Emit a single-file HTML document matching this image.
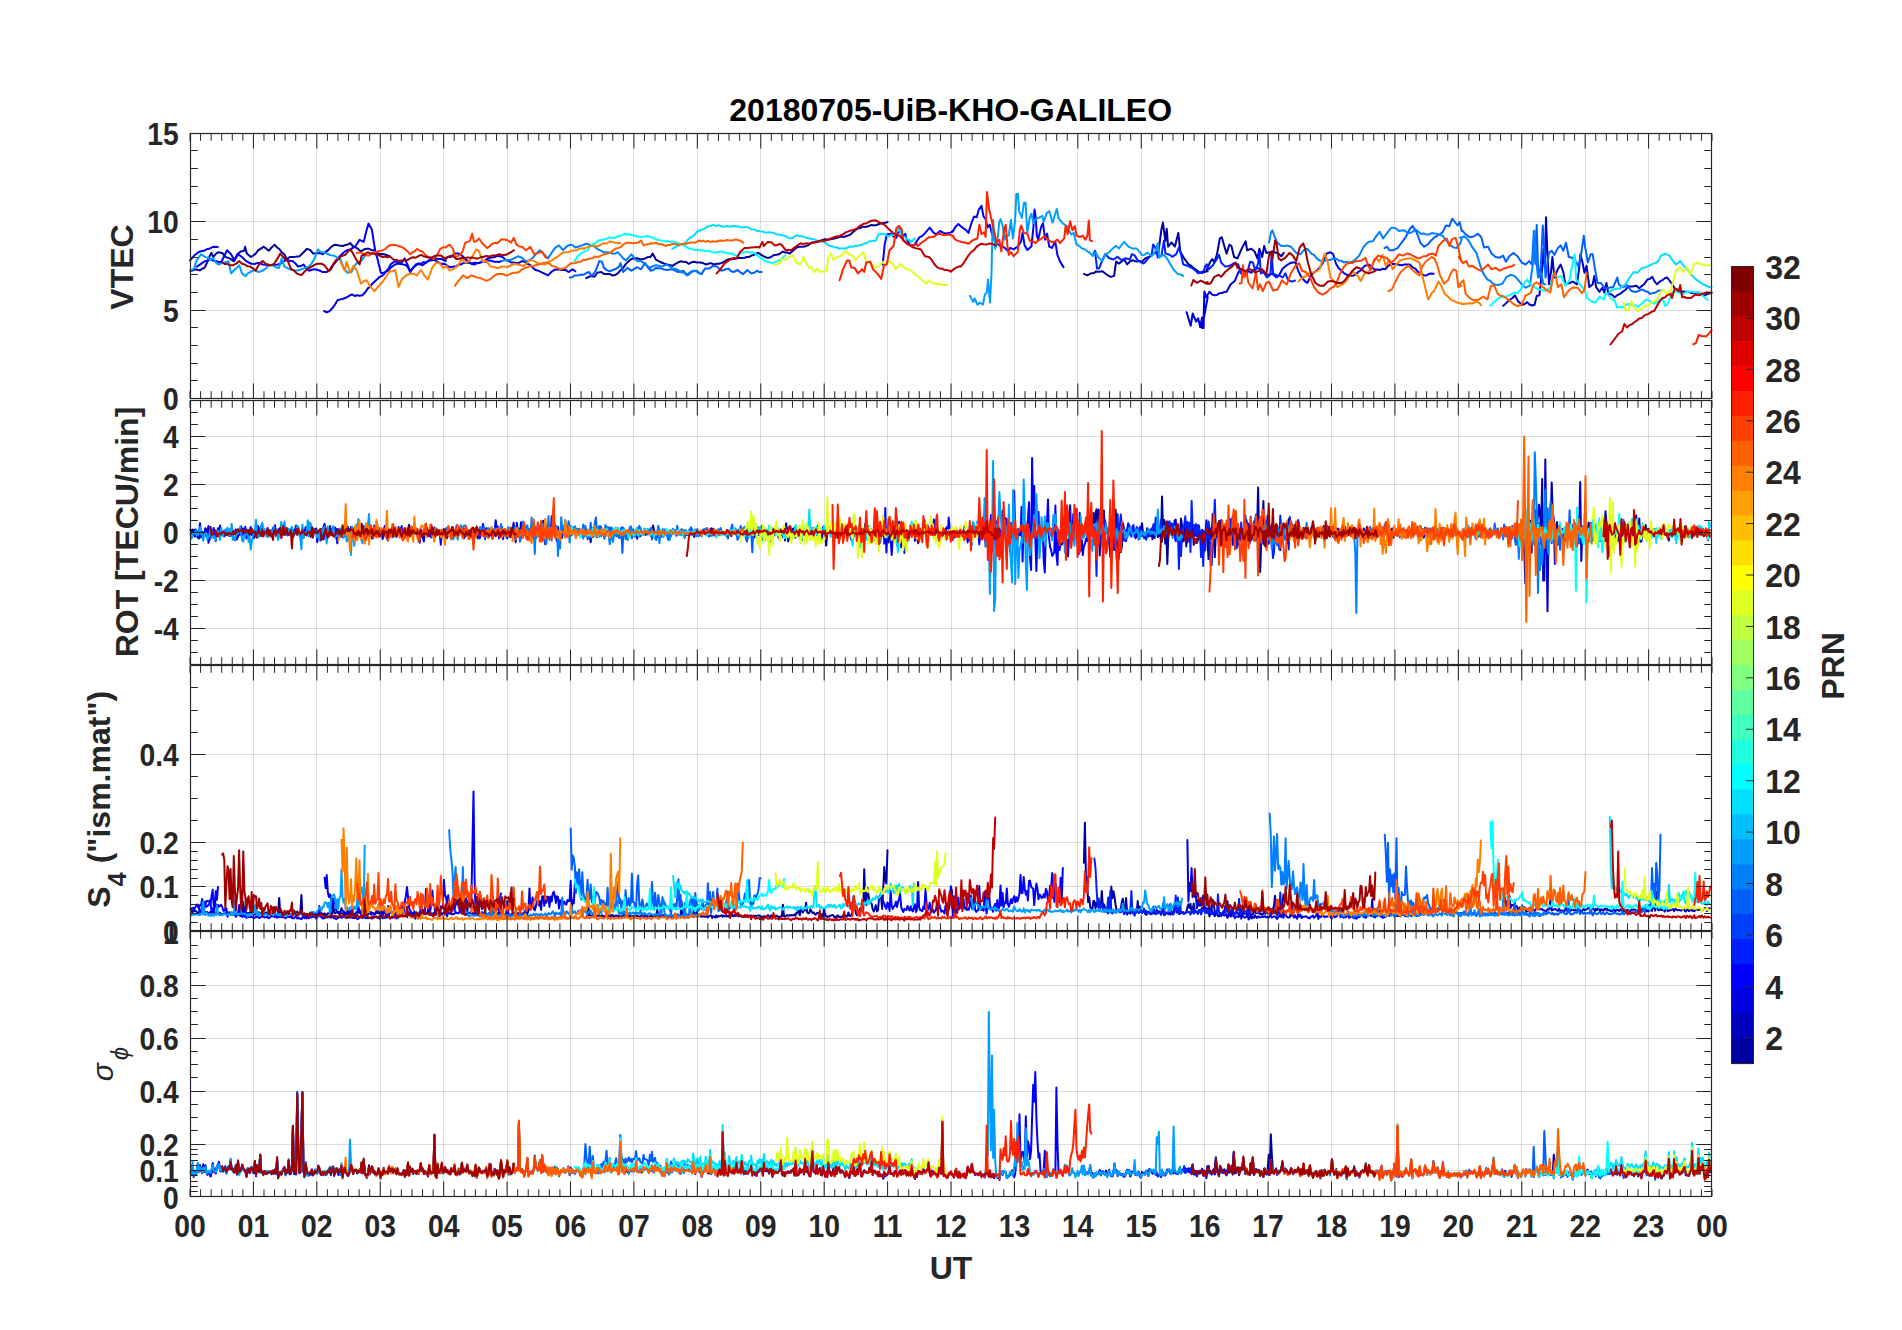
<!DOCTYPE html>
<html><head><meta charset="utf-8"><title>20180705-UiB-KHO-GALILEO</title>
<style>html,body{margin:0;padding:0;background:#fff;}svg{display:block;}text{font-family:"Liberation Sans",sans-serif;}</style></head>
<body>
<svg width="1902" height="1330" viewBox="0 0 1902 1330">
<rect width="1902" height="1330" fill="#fff"/>
<path d="M253.5 133.5V398.5M316.5 133.5V398.5M380.5 133.5V398.5M443.5 133.5V398.5M507.5 133.5V398.5M570.5 133.5V398.5M633.5 133.5V398.5M697.5 133.5V398.5M760.5 133.5V398.5M824.5 133.5V398.5M887.5 133.5V398.5M951.5 133.5V398.5M1014.5 133.5V398.5M1077.5 133.5V398.5M1141.5 133.5V398.5M1204.5 133.5V398.5M1268.5 133.5V398.5M1331.5 133.5V398.5M1394.5 133.5V398.5M1458.5 133.5V398.5M1521.5 133.5V398.5M1585.5 133.5V398.5M1648.5 133.5V398.5M253.5 400.5V664.5M316.5 400.5V664.5M380.5 400.5V664.5M443.5 400.5V664.5M507.5 400.5V664.5M570.5 400.5V664.5M633.5 400.5V664.5M697.5 400.5V664.5M760.5 400.5V664.5M824.5 400.5V664.5M887.5 400.5V664.5M951.5 400.5V664.5M1014.5 400.5V664.5M1077.5 400.5V664.5M1141.5 400.5V664.5M1204.5 400.5V664.5M1268.5 400.5V664.5M1331.5 400.5V664.5M1394.5 400.5V664.5M1458.5 400.5V664.5M1521.5 400.5V664.5M1585.5 400.5V664.5M1648.5 400.5V664.5M253.5 665.5V930.5M316.5 665.5V930.5M380.5 665.5V930.5M443.5 665.5V930.5M507.5 665.5V930.5M570.5 665.5V930.5M633.5 665.5V930.5M697.5 665.5V930.5M760.5 665.5V930.5M824.5 665.5V930.5M887.5 665.5V930.5M951.5 665.5V930.5M1014.5 665.5V930.5M1077.5 665.5V930.5M1141.5 665.5V930.5M1204.5 665.5V930.5M1268.5 665.5V930.5M1331.5 665.5V930.5M1394.5 665.5V930.5M1458.5 665.5V930.5M1521.5 665.5V930.5M1585.5 665.5V930.5M1648.5 665.5V930.5M253.5 931.5V1196.5M316.5 931.5V1196.5M380.5 931.5V1196.5M443.5 931.5V1196.5M507.5 931.5V1196.5M570.5 931.5V1196.5M633.5 931.5V1196.5M697.5 931.5V1196.5M760.5 931.5V1196.5M824.5 931.5V1196.5M887.5 931.5V1196.5M951.5 931.5V1196.5M1014.5 931.5V1196.5M1077.5 931.5V1196.5M1141.5 931.5V1196.5M1204.5 931.5V1196.5M1268.5 931.5V1196.5M1331.5 931.5V1196.5M1394.5 931.5V1196.5M1458.5 931.5V1196.5M1521.5 931.5V1196.5M1585.5 931.5V1196.5M1648.5 931.5V1196.5" stroke="#262626" stroke-opacity="0.155" stroke-width="1" fill="none"/>
<path d="M190.5 310.5H1711.5M190.5 221.5H1711.5M190.5 628.5H1711.5M190.5 580.5H1711.5M190.5 532.5H1711.5M190.5 484.5H1711.5M190.5 436.5H1711.5M190.5 886.5H1711.5M190.5 842.5H1711.5M190.5 754.5H1711.5M190.5 1170.5H1711.5M190.5 1144.5H1711.5M190.5 1091.5H1711.5M190.5 1038.5H1711.5M190.5 985.5H1711.5" stroke="#262626" stroke-opacity="0.155" stroke-width="1" fill="none"/>
<g fill="none" stroke-width="2" stroke-linejoin="round" stroke-linecap="round">
<path d="M191.5,270.7 195.6,269.3 199.7,270.4 202.1,268.8 204.5,267.9 206.5,263.8 209.9,255.6 211.3,252.9 213.3,257.0 215.7,254.0 218.1,252.2 222.2,252.9 225.6,257.0 229.7,258.4 233.8,261.1 237.3,254.3 240.7,251.5 244.1,250.8 245.1,246.7 246.8,253.6 250.9,257.0 253.3,255.5 255.7,253.6 258.1,250.4 260.5,248.8 263.9,246.7 266.3,248.8 268.7,250.8 271.6,247.5 274.6,244.7 276.9,247.4 279.3,249.0 281.7,252.2 284.4,254.3 286.5,259.0 289.9,257.0 292.6,256.9 295.4,256.7 299.5,256.3 303.6,252.2 307.0,248.8 310.4,250.2 313.1,253.6 317.2,253.2 320.0,252.9 322.7,254.3 325.4,252.1 328.2,250.2 330.5,247.6 332.7,245.8 335.0,244.7 339.1,245.4 343.2,246.0 345.5,244.9 347.8,244.6 350.0,243.0 353.5,246.7 356.9,248.1 361.0,251.5 363.7,249.5 366.5,248.8 368.7,248.7 371.0,249.9 373.3,250.2 377.4,252.9 379.7,254.1 381.9,253.9 384.2,254.3 387.0,255.1 389.7,256.3" stroke="#00009f"/>
<path d="M586.3,278.2 590.4,276.1 594.5,276.8 597.2,272.7 601.3,272.0 604.0,273.9 606.8,274.1 609.5,273.9 612.2,275.4 615.0,275.1 617.7,273.4 620.5,270.3 623.2,267.9 625.9,263.9 628.7,261.1 631.4,259.0 634.1,258.4 636.9,258.3 639.6,259.0 642.3,259.3 645.1,258.4 647.8,257.1 650.5,257.0 652.6,253.6 656.0,259.7 658.7,261.2 661.5,262.5 664.2,263.7 666.9,264.5 669.7,265.0 672.4,265.9 675.1,264.2 677.9,262.5 680.6,261.3 683.3,261.8 686.1,262.0 688.8,263.8 691.5,262.3 694.3,261.8 697.0,262.4 699.7,262.5 700.8,262.5 703.6,263.3 706.3,264.5 710.4,263.1 714.5,264.5 716.8,263.7 719.1,263.7 721.3,263.1 724.1,261.7 726.8,260.0 729.5,259.0 731.8,259.3 734.1,258.9 736.4,258.4 739.1,257.7 741.8,258.0 744.6,257.7 746.9,257.0 749.1,257.0 751.4,255.6 753.7,255.1 756.0,253.4 758.3,252.9 762.4,255.6 766.5,257.7 769.2,257.8 771.9,256.3 774.2,254.9 776.5,254.8 778.8,254.3 782.9,251.5 785.1,252.7 787.4,252.3 789.7,253.6 792.4,251.2 795.2,248.8 797.9,246.9 800.6,246.7 803.4,246.7 806.1,246.0 808.8,244.8 811.6,242.6 814.3,242.4 817.0,241.9 819.8,241.6 822.5,239.9 825.2,239.3 828.0,239.8 830.7,239.2 833.4,238.7 836.2,238.0 838.9,237.2 841.6,236.6 844.4,236.9 847.1,235.8 849.8,234.9 852.6,232.4 855.3,230.3 858.0,228.3 860.3,228.1 862.6,226.6 864.9,226.9 867.2,226.6 869.4,225.8 871.7,224.9 874.0,225.5 876.3,225.0 878.6,224.2 880.8,223.3 883.1,223.1 885.4,222.8 887.6,222.1" stroke="#00009f"/>
<path d="M1084.0,273.9 1087.4,275.3 1091.5,273.2 1093.8,273.1 1096.1,271.4 1098.4,271.8 1102.5,271.2 1106.6,274.6 1110.7,276.9 1114.1,275.9 1116.1,261.6 1118.9,263.6 1121.6,261.5 1124.3,259.5 1127.1,264.3 1129.8,261.7 1132.6,260.2 1136.7,261.6 1139.4,260.9 1142.1,261.6 1144.9,258.7 1147.6,257.5 1150.3,256.3 1153.1,254.1 1155.8,252.4 1158.5,252.0 1161.3,230.2 1162.9,222.6 1165.4,241.1 1166.7,228.8 1168.1,246.6 1171.5,242.5 1174.9,246.6 1178.3,232.9 1180.4,252.0 1184.5,258.9 1188.6,264.3 1191.3,265.9 1194.1,268.4 1196.8,270.3 1199.5,272.5 1202.3,272.9 1205.0,271.8 1207.7,271.2 1206.1,271.3 1210.2,261.8 1212.3,259.0 1214.3,262.5 1217.0,254.3 1219.8,238.5 1221.8,237.2 1223.9,244.7 1226.6,253.6 1229.3,244.7 1231.4,246.0 1234.1,257.0 1237.5,258.4 1241.6,248.8 1245.7,241.3 1247.1,250.2 1251.2,248.8 1254.6,251.5 1257.4,258.4 1259.4,248.8 1262.2,257.0 1264.2,246.0 1266.3,252.9 1269.7,252.2 1272.1,251.4 1274.5,252.2 1278.6,253.6 1281.3,256.3 1283.7,252.9" stroke="#00009f"/>
<path d="M1503.2,305.9 1505.6,303.6 1507.9,301.4 1510.2,299.5 1512.5,298.0 1514.8,295.3 1518.2,301.4 1522.3,304.8 1524.7,304.0 1527.1,302.1 1529.5,304.5 1531.9,305.5 1534.6,304.8 1536.7,295.9 1539.4,295.3 1542.1,269.3 1543.5,248.8 1544.9,267.9 1546.0,217.3 1547.3,250.2 1549.0,284.3 1551.0,272.0 1552.4,257.0 1554.4,277.5 1557.8,269.3 1560.6,264.5 1563.3,272.0 1565.4,284.3 1569.5,283.0 1572.9,281.6 1577.0,284.3 1579.0,269.3 1580.4,254.3 1582.5,262.5 1584.5,272.7 1586.6,265.9 1589.3,287.1 1592.7,284.3 1594.3,276.1 1596.1,287.1 1599.5,291.8 1602.3,287.7 1604.3,292.5 1606.4,283.0 1608.4,293.9 1611.8,294.6 1614.6,297.3 1617.3,295.2 1620.0,293.9 1622.8,291.7 1625.5,289.8 1628.2,286.4 1632.3,286.4 1636.5,285.7 1639.2,288.4 1641.6,286.1 1644.0,284.3 1647.4,279.5 1649.8,278.9 1652.2,276.8 1654.6,281.4 1657.0,284.3 1659.7,281.6 1662.4,280.2 1664.8,278.3 1667.2,277.5 1671.3,283.0 1674.7,288.4 1677.5,289.7 1680.2,291.8 1682.9,291.4 1685.7,291.8 1688.4,291.8 1691.1,292.9 1693.9,293.2 1696.6,294.6 1699.3,293.9 1702.1,294.9 1704.8,295.3 1707.1,294.1 1709.4,293.6 1711.6,292.5" stroke="#0000bf"/>
<path d="M324.1,311.0 326.8,312.4 329.5,311.1 332.3,308.3 335.0,304.5 337.7,300.0 340.5,299.4 343.2,298.7 345.5,297.8 347.8,296.7 350.0,295.3 352.3,294.5 354.6,296.0 356.9,295.3 359.6,295.8 362.3,295.3 365.1,292.5 367.8,288.4 370.1,286.7 372.4,283.7 374.7,281.6 376.9,279.6 379.2,277.2 381.5,276.1 383.8,274.5 386.0,271.7 388.3,270.7 390.6,267.8 392.9,266.0 395.2,264.5 397.9,263.6 400.6,263.8 402.9,264.4 405.2,264.8 407.5,266.6 410.2,272.0 412.5,268.6 414.8,266.4 417.0,264.5 419.8,264.1 422.5,265.2 425.2,263.3 428.0,261.1 430.7,260.4 433.4,260.1 436.2,258.4 438.9,258.9 441.6,259.0 445.7,261.1 445.5,258.4 448.2,257.0 450.9,257.0 455.0,253.6 457.8,253.5 460.5,254.3 463.2,256.7 466.0,259.7 468.7,261.5 471.4,263.8 474.2,262.8 476.9,263.1 479.6,262.7 482.4,261.1 485.1,260.6 487.8,258.4 490.1,257.8 492.4,257.4 494.7,257.0 497.4,255.9 500.2,256.3 502.9,257.3 505.6,259.7 508.4,260.8 511.1,262.5 513.8,262.4 516.6,263.1 519.3,262.7 522.0,261.1 524.8,261.8 527.5,263.8 530.2,265.0 533.0,267.9 535.7,270.1 538.4,270.7 541.2,272.1 543.9,273.4 548.0,275.4 552.1,271.3 554.8,269.7 557.6,269.3 560.3,269.7 563.0,270.0 565.8,270.1 568.5,272.0 572.6,269.3 575.3,271.3" stroke="#0000df"/>
<path d="M1186.6,312.2 1190.7,325.8 1192.7,313.5 1196.1,321.7 1198.2,318.3 1200.2,327.2 1202.0,317.6 1203.4,327.9 1204.3,291.7 1206.4,297.1 1207.7,297.1 1204.9,312.6 1202.0,328.0 1203.6,328.0 1204.5,291.8 1206.1,297.3 1209.5,291.8 1211.9,294.4 1214.3,295.3 1217.0,294.9 1219.8,293.2 1222.1,293.1 1224.3,291.9 1226.6,291.8 1230.7,284.3 1234.8,280.9 1238.9,271.3 1243.0,272.0 1247.1,270.7 1251.2,272.7 1253.9,270.1 1256.7,267.9 1260.8,269.3 1263.5,271.4 1266.3,274.8 1268.5,274.8 1270.8,273.9 1273.1,273.4 1275.8,275.3 1278.6,276.1 1282.7,268.6 1286.8,265.2 1289.5,263.5 1292.2,262.5 1295.6,262.5 1297.7,269.3 1300.4,275.4 1304.5,280.9 1307.3,283.0 1311.4,274.8 1314.1,272.2 1316.8,270.7 1319.6,267.8 1322.3,263.8 1326.4,253.6 1330.5,252.2 1333.2,254.3 1336.0,263.8 1338.7,268.1 1341.4,270.7 1344.2,273.3 1346.9,274.8 1349.2,275.5 1351.5,275.8 1353.7,275.4 1356.0,274.3 1358.3,271.8 1360.6,270.7 1364.7,265.9 1368.8,264.5 1371.5,266.9 1374.2,269.3 1377.0,269.4 1379.7,270.0 1382.5,268.8 1385.2,269.3 1387.9,266.0 1390.7,264.5 1392.9,264.1 1395.2,264.1 1397.5,264.5 1399.8,264.9 1402.0,265.3 1404.3,264.5 1407.1,264.4 1409.8,264.5 1412.5,267.3 1415.3,268.6 1418.0,271.9 1420.7,273.4 1423.5,275.2 1426.2,275.4 1430.3,273.4 1433.7,273.7" stroke="#0000df"/>
<path d="M190.1,260.4 194.2,255.6 198.3,252.2 201.0,251.3 203.8,250.8 206.5,249.3 209.2,248.8 212.0,247.3 214.7,246.7 217.7,247.1" stroke="#0000ff"/>
<path d="M196.9,266.6 201.0,263.8 203.4,262.1 205.8,260.9 208.2,260.5 210.6,259.0 213.3,260.8 216.1,261.1 218.8,262.0 221.5,261.8 224.3,255.9 227.0,250.2 231.1,254.3 234.5,260.4 237.9,254.3 242.0,257.0 246.2,261.1 248.9,262.7 251.6,263.8 254.4,264.0 257.1,263.1 259.8,263.1 262.6,264.5 265.3,264.8 268.0,264.5 270.8,265.2 273.5,264.5 275.8,264.8 278.0,264.5 280.3,263.8 282.6,262.4 284.9,260.5 287.2,259.7 289.9,260.9 292.6,261.1 295.4,263.5 298.1,266.6 300.8,266.1 303.6,264.5 306.3,268.4 309.0,270.7 311.8,269.8 314.5,269.3 317.2,269.8 320.0,270.7 322.2,271.9 324.5,272.0 326.8,272.0 330.9,269.3 333.6,264.6 336.4,261.1 339.1,257.0 341.8,254.3 344.6,251.6 347.3,250.2 350.0,249.5 352.8,248.0 355.5,246.0 359.6,239.9 363.7,241.9 366.1,232.1 368.5,223.5 371.9,229.6 375.3,251.5 377.4,258.4 380.8,272.7 383.2,273.0 385.6,272.0 388.3,268.8 391.1,263.8 395.2,261.1 397.9,262.7 400.6,263.8 404.7,258.4 407.5,264.6 410.2,271.3 412.9,268.0 415.7,264.5 418.4,263.5 421.1,263.8 423.4,262.0 425.7,262.8 428.0,261.1 432.1,258.4 434.3,260.0 436.6,261.1 438.9,262.5 441.2,263.9 443.5,263.7 445.7,264.5 448.2,266.6 450.9,267.2 453.7,266.6 455.9,266.5 458.2,264.7 460.5,264.5 462.8,263.4 465.1,262.8 467.3,262.5 469.6,262.7 471.9,264.0 474.2,264.5 476.5,263.4 478.7,263.0 481.0,262.5 483.3,261.1 485.6,261.8 487.8,260.4 490.1,260.6 492.4,261.2 494.7,261.8 497.0,261.7 499.2,262.0 501.5,261.1" stroke="#0000ff"/>
<path d="M882.7,264.5 884.7,244.7 886.8,234.4 890.9,233.7 893.6,236.5 896.3,237.8 899.1,229.0 901.8,236.5 905.2,233.7 906.6,239.2 910.0,244.7 914.1,245.4 916.8,241.1 919.6,237.2 922.3,235.9 925.0,233.1 927.4,230.3 929.8,227.6 933.2,232.4 936.0,234.4 940.1,231.0 942.8,232.4 945.5,233.7 948.3,233.1 951.0,232.4 953.7,230.3 952.1,232.2 955.2,227.2 958.3,224.0 960.6,225.9 963.0,228.1 965.8,229.9 968.5,232.9 971.2,223.8 974.0,216.5 976.7,217.2 978.8,209.6 981.5,205.8 983.5,216.5 985.6,219.2 987.6,227.4 989.7,224.7 991.7,232.9 993.8,238.4 997.2,243.8 999.9,245.7 1002.7,246.6 1005.4,248.4 1008.2,251.3 1010.2,247.9 1013.6,249.3 1017.7,246.6 1021.1,241.1 1022.5,232.9 1024.6,245.2 1027.3,250.0 1031.4,246.6 1033.4,227.4 1034.5,209.6 1035.5,215.1 1036.9,235.6 1038.2,239.7 1041.0,227.4 1043.0,223.3 1045.1,239.7 1047.1,233.6 1049.2,246.6 1051.9,247.9 1055.3,241.8 1057.4,254.8 1060.1,261.6 1063.5,267.1" stroke="#0000ff"/>
<path d="M1093.6,253.4 1095.0,250.7 1097.0,268.4 1099.1,268.4 1102.5,260.2 1105.2,254.1 1109.3,258.2 1113.4,259.5 1117.5,256.8 1121.6,260.2 1125.7,258.2 1129.8,259.5 1131.9,254.1 1134.6,255.4 1138.0,260.9 1140.8,262.2 1143.5,263.6 1146.2,261.0 1149.0,257.5 1151.7,254.8 1153.1,244.5 1155.1,247.2 1157.8,257.5 1161.3,256.1 1164.0,240.4 1165.4,253.4 1169.5,254.8 1172.2,256.8 1176.3,254.1 1179.0,247.2 1181.1,254.8 1183.1,264.3 1187.2,265.7 1190.0,267.2 1192.7,268.4 1195.4,270.5 1198.2,273.2 1200.9,272.2 1203.6,271.2 1206.4,264.3 1207.7,265.7 1204.7,266.6 1206.8,264.5 1208.8,269.3 1212.9,265.2 1216.4,259.7 1219.1,254.9 1221.1,262.5 1225.2,266.6 1229.3,265.9 1231.7,264.6 1234.1,263.1 1238.2,264.5 1241.0,273.4 1243.7,272.0 1247.1,273.4 1250.1,261.8 1252.9,262.5 1255.3,270.7 1258.0,263.8 1259.4,252.2 1260.8,273.4 1263.5,272.0 1266.9,277.5 1270.4,274.8 1271.7,252.9 1273.1,274.8 1276.5,277.5 1279.2,275.4 1282.7,277.5 1285.4,273.4 1288.1,280.2 1292.2,281.6 1295.0,280.5" stroke="#0020ff"/>
<path d="M569.9,277.5 572.1,277.3 574.4,275.4 576.7,275.4 579.0,275.3 581.3,274.5 583.5,274.8 586.3,273.0 589.0,272.0 591.7,276.1 595.8,270.7 599.3,261.1 602.0,261.8 604.0,267.9 606.8,270.1 609.5,271.3 612.2,270.3 615.0,269.3 619.1,266.6 620.5,263.1 623.2,272.0 627.3,267.9 631.4,270.7 634.1,269.1 636.9,267.2 641.0,269.3 645.1,263.1 647.8,267.4 650.5,270.7 653.3,270.0 656.0,267.9 658.7,268.2 661.5,268.6 664.2,269.5 666.9,270.0 669.7,269.6 672.4,269.3 675.1,270.7 677.9,272.0 680.6,271.7 683.3,270.7 687.4,275.4 690.2,273.3 692.9,271.3 697.0,270.7 699.7,273.4 698.1,272.7 701.5,274.1 704.9,268.6 709.0,268.6 713.1,265.9 717.2,266.6 721.3,270.7 723.6,270.0 725.9,269.2 728.2,268.6 730.9,271.1 733.6,272.0 737.7,270.0 740.5,272.4 743.2,274.1 747.3,270.0 751.4,273.4 754.2,272.7 756.9,270.7 759.3,272.1 761.7,272.0" stroke="#0060ff"/>
<path d="M1384.5,248.1 1387.2,246.7 1389.3,250.2 1393.4,250.2 1397.5,248.1 1401.6,242.6 1405.7,237.2 1409.8,229.0 1412.5,225.8 1416.6,232.4 1420.7,243.3 1424.1,246.7 1427.6,244.7 1431.7,239.9 1434.4,237.4 1437.1,235.8 1439.9,234.2 1442.6,232.4 1446.0,225.5 1449.4,226.2 1452.2,218.7 1454.9,222.1 1457.6,225.5 1459.7,222.1 1461.7,231.0 1461.5,229.6 1465.6,234.4 1469.7,237.2 1473.8,236.5 1477.9,233.7 1481.3,237.2 1484.0,247.4 1488.1,246.7 1491.5,253.6 1495.6,257.0 1499.7,257.7 1503.2,255.6 1505.9,261.8 1509.3,256.3 1513.4,252.9 1517.5,256.3 1521.6,262.5 1525.7,264.5 1529.1,261.1 1531.9,264.5 1533.9,231.0 1535.3,263.8 1536.7,224.9 1538.0,266.6 1540.1,277.5 1541.4,254.3 1542.8,225.5 1544.2,248.8 1545.5,277.5 1546.9,266.6 1549.0,252.9 1551.7,250.8 1554.4,254.9 1557.8,248.1 1560.6,245.4 1563.3,250.8 1566.0,242.6 1568.8,257.0 1572.2,257.7 1575.6,261.1 1578.4,266.6 1581.1,254.3 1583.8,235.8 1585.2,247.4 1587.9,262.5 1590.7,254.3 1592.7,254.3 1594.8,267.9 1597.5,283.0 1600.9,283.0 1605.0,288.4 1609.1,287.7 1613.2,287.1 1617.3,277.5 1618.7,284.3 1622.1,287.1 1624.5,286.8 1626.9,285.0 1631.0,290.5 1633.7,291.8 1636.5,291.8 1640.6,289.8 1642.9,289.8 1645.3,291.2 1647.7,291.8 1650.1,293.9 1652.9,293.1 1655.6,292.5 1658.3,290.7 1661.1,290.5" stroke="#0060ff"/>
<path d="M501.5,261.1 503.8,260.4 506.1,259.9 508.4,260.4 511.1,259.7 513.8,258.4 517.9,256.3 522.0,257.7 525.4,261.1 527.8,260.9 530.2,259.7 533.0,257.7 535.7,254.3 539.8,250.2 543.9,254.3 548.0,258.4 550.7,254.3 554.8,248.1 558.9,245.4 563.0,250.2 567.1,246.0 570.6,244.7 572.9,245.4 575.3,247.4 578.1,246.8 580.8,245.4 583.1,245.2 585.4,243.8 587.6,244.0 590.4,245.4 593.1,245.4 597.2,248.8 601.3,250.8 604.0,252.4 606.8,252.2 609.5,252.4 612.2,253.6 615.0,253.7 617.7,252.2 620.5,255.1 623.2,258.4 625.9,260.4 628.7,257.3 631.4,254.3 635.5,259.7 638.2,261.3 641.0,261.1 645.1,263.8 647.8,266.5 650.5,267.9 653.3,265.9 656.0,265.2 658.7,265.7 661.5,266.6 664.2,265.6 666.9,264.5 669.7,266.3 672.4,268.6 674.7,268.7 677.0,269.6 679.2,270.7 681.5,272.4 683.8,272.5 686.1,274.8 688.3,273.5 690.6,271.9 692.9,270.7 695.2,270.7 697.5,272.2 699.7,273.4" stroke="#0080ff"/>
<path d="M1269.0,242.6 1271.0,232.4 1272.4,230.3 1274.5,236.5 1277.2,242.6 1281.3,246.0 1284.0,245.9 1286.8,245.4 1290.9,246.7 1293.6,249.8 1296.3,252.9 1300.4,254.3 1303.8,250.2 1307.3,248.8 1311.4,253.6 1314.1,255.2 1316.8,258.4 1319.6,260.6 1322.3,261.1 1325.0,260.9 1327.8,259.7 1330.5,259.9 1333.2,258.4 1336.0,258.7 1338.7,260.4 1341.4,261.0 1344.2,262.5 1346.9,261.6 1349.6,262.5 1352.4,261.6 1355.1,259.7 1359.2,255.6 1363.3,247.4 1367.4,242.6 1370.1,241.5 1372.9,241.3 1377.0,235.1 1379.7,231.7 1383.1,238.5 1386.6,233.7 1390.7,228.3 1393.4,227.6 1396.1,228.6 1398.9,231.0 1401.6,230.5 1404.3,230.3 1407.1,232.4 1409.8,233.1 1412.5,231.9 1415.3,229.6 1418.0,231.3 1420.7,233.7 1423.5,233.5 1426.2,234.4 1428.9,234.5 1431.7,233.1 1434.4,233.5 1437.1,233.7 1439.9,235.1 1442.6,235.8 1445.3,239.2 1449.4,244.0 1453.5,247.4 1456.3,248.1 1460.4,243.3 1461.7,239.2 1460.1,237.8 1464.2,236.5 1466.6,238.1 1469.0,241.3 1472.4,247.4 1476.5,252.9 1480.6,266.6 1483.3,273.4 1487.4,279.5 1490.2,280.8 1492.9,283.6 1495.6,284.7 1498.4,285.0 1502.5,283.6 1506.6,276.8 1510.7,274.8 1514.8,276.1 1518.9,280.9 1523.0,285.7 1525.7,287.7 1529.8,285.7 1532.6,266.6 1534.6,231.0 1536.0,258.4 1538.0,277.5 1540.8,272.0 1543.5,284.3 1545.5,284.3" stroke="#0080ff"/>
<path d="M190.1,270.7 194.2,268.6 196.3,261.1 198.6,257.5 201.0,254.3 205.1,257.0 207.5,257.6 209.9,259.7 213.3,258.4 215.7,262.2 218.1,264.5 220.5,263.7 222.9,262.5 225.6,262.3 228.4,261.1 231.1,273.4 235.2,269.3 239.3,265.2 242.0,273.4 245.5,276.1 247.9,273.3 250.3,272.0 254.4,270.0 258.5,272.0 262.6,270.7 265.3,268.9 268.0,265.9 270.8,265.1 273.5,265.9 276.2,267.5 279.0,267.9 281.7,258.4 284.4,266.6 287.2,267.8 289.9,269.3 292.6,269.7 295.4,270.7 299.5,270.0 302.2,269.0 304.9,267.9 309.0,266.6 311.8,263.2 314.5,258.4 317.9,249.5 321.3,252.2 323.6,252.5 325.9,252.9 328.2,254.3 330.9,255.2 333.6,255.6 336.4,257.0 340.5,259.7 343.2,266.6 347.3,272.7 351.4,272.0 355.5,264.5 358.2,262.1 361.0,261.1 365.1,255.6" stroke="#009fff"/>
<path d="M969.9,295.8 973.3,301.9 974.7,298.5 977.4,304.7 980.1,302.6 982.9,304.7 984.9,294.4 986.7,293.0 988.1,279.4 990.0,302.6 991.5,273.9 992.4,231.5 993.1,219.9 995.2,248.6 997.2,242.5 999.3,221.9 1000.6,219.2 1002.7,226.0 1004.7,239.7 1006.1,235.6 1008.8,235.6 1010.9,219.9 1012.9,238.4 1015.0,221.9 1016.4,193.9 1018.0,193.9 1019.1,211.0 1021.8,217.8 1023.9,202.8 1025.6,202.8 1027.3,232.9 1030.0,216.5 1031.4,213.7 1033.4,223.3 1036.2,218.5 1038.9,217.8 1042.3,215.8 1043.7,221.9 1046.4,213.7 1049.2,211.0 1052.6,222.6 1056.7,209.0 1058.7,218.5 1062.8,223.3 1066.9,226.0 1071.0,234.3 1073.8,232.9 1076.5,244.5 1079.2,245.9 1082.0,248.6 1084.7,249.2 1087.4,251.3 1090.2,253.2 1092.9,256.1 1095.6,252.0 1098.4,257.5 1102.5,260.9 1105.2,254.8 1109.3,252.0 1113.4,247.9 1116.1,245.9 1118.9,248.6 1121.6,244.8 1124.3,241.8 1128.5,246.6 1132.6,248.6 1136.7,248.6 1139.4,251.7 1142.1,255.4 1144.9,254.5 1147.6,252.7 1151.7,256.1 1155.8,250.7 1157.8,243.1 1159.2,257.5 1161.6,255.7 1164.0,254.8 1168.1,260.2 1170.8,265.0 1173.6,269.8 1177.7,273.9 1180.4,274.3 1183.1,275.9" stroke="#009fff"/>
<path d="M672.4,248.8 675.1,247.1 677.9,246.0 680.1,244.5 682.4,244.2 684.7,244.0 687.4,240.1 690.2,237.8 694.3,235.1 697.0,231.7 699.7,230.3 698.1,231.0 700.4,230.5 702.7,229.3 704.9,228.3 707.7,226.6 710.4,226.0 713.1,224.9 715.9,226.1 718.6,225.1 721.3,226.2 723.6,226.8 725.9,226.1 728.2,226.2 730.5,226.8 732.7,226.0 735.0,226.2 737.7,226.4 740.5,226.9 743.2,227.6 745.9,226.9 748.7,227.5 751.4,229.3 754.2,229.6 756.9,230.7 759.6,231.3 762.4,231.5 765.1,232.4 767.4,232.4 769.6,232.3 771.9,232.7 774.2,233.0 776.5,234.5 778.8,234.4 781.5,235.0 784.2,235.9 787.0,236.8 789.7,238.5 792.0,238.0 794.3,236.9 796.5,235.1 798.9,236.1 801.3,236.1 803.7,236.7 806.1,237.8 808.8,238.2 811.6,239.1 814.3,239.3 817.0,240.6 819.8,241.2 822.5,241.5 825.2,242.6 827.6,244.7 830.0,245.9 832.4,246.3 834.8,247.4 837.2,247.3 839.6,248.9 842.0,248.1 844.4,248.8 847.1,247.8 849.8,246.5 852.6,246.7 855.0,246.0 857.4,245.7 859.8,245.2 862.1,244.7 864.5,243.3 866.9,243.0 869.3,241.2 871.7,241.3 875.8,240.6 878.6,234.4 882.7,233.7 885.4,234.7 888.1,236.5 890.9,235.1 893.6,235.1 896.3,232.2 899.1,229.6 901.8,236.5 904.5,237.0 907.3,239.2 911.4,241.9 914.8,238.5" stroke="#00dfff"/>
<path d="M1609.1,292.5 1611.8,290.0 1614.6,289.1 1617.3,288.4 1620.0,288.4 1622.8,285.9 1625.5,284.3 1629.6,277.5 1633.7,272.0 1637.8,272.7 1641.9,267.9 1644.7,267.4 1647.4,266.6 1650.1,265.2 1652.9,263.8 1655.6,262.9 1658.3,261.1 1661.1,255.6 1665.2,253.6 1669.3,255.6 1672.0,259.7 1676.1,264.5 1680.2,261.1 1684.3,266.6 1688.4,270.7 1691.1,274.4 1693.9,277.5 1696.6,279.9 1699.3,281.6 1702.1,284.0 1704.8,285.0 1708.9,287.1 1711.6,287.3" stroke="#00dfff"/>
<path d="M574.7,261.1 578.1,255.6 580.8,253.7 583.5,252.2 587.6,250.2 590.4,246.0 592.7,244.1 594.9,243.7 597.2,241.3 599.5,240.0 601.8,240.3 604.0,239.2 606.3,239.0 608.6,237.5 610.9,237.8 613.2,238.0 615.4,237.6 617.7,236.5 620.0,235.8 622.3,235.1 624.6,233.7 626.8,234.8 629.1,234.0 631.4,235.1 633.7,235.6 635.9,236.0 638.2,236.5 640.6,236.9 643.0,236.7 645.4,236.6 647.8,235.8 650.5,237.0 653.3,237.8 656.0,239.5 658.7,240.0 661.5,240.6 664.2,241.4 666.9,241.0 669.7,241.9 672.4,241.6 675.1,242.2 677.9,243.3 680.6,244.2 683.3,244.9 686.1,246.7 688.3,248.2 690.6,248.7 692.9,249.5 695.2,249.9 697.5,250.1 699.7,250.2 702.2,250.2 704.6,251.0 707.0,251.2 709.4,250.8 711.8,252.2 714.2,252.6 716.6,252.3 718.9,251.7 721.3,251.5 724.1,252.3 726.8,253.2 729.5,253.6 732.3,253.5 735.0,255.4 737.7,255.6 740.0,254.0 742.3,252.6 744.6,252.2 746.9,251.8 749.1,252.6 751.4,252.2 754.2,253.0 756.9,254.9 759.6,257.4 762.4,259.0 765.1,261.3 767.8,261.8 771.9,263.1 774.7,262.1 777.4,261.1 781.5,259.0 784.9,255.6" stroke="#00ffff"/>
<path d="M1490.2,305.9 1492.9,303.1 1495.6,300.7 1499.7,297.3 1502.5,296.9 1505.2,296.6 1507.9,295.9 1510.7,294.6 1514.1,292.5 1517.5,293.2 1521.6,288.4 1524.4,283.0 1527.1,279.5 1530.5,284.3 1532.9,286.5 1535.3,287.7 1538.0,289.0 1540.8,289.8 1543.5,290.4 1546.2,290.5 1550.3,287.7 1553.1,274.1 1557.2,277.5 1561.3,276.1 1565.4,285.7 1569.5,280.2 1571.5,269.3 1574.7,254.3 1576.3,280.2 1580.4,285.0 1584.5,289.8 1587.2,298.0 1591.3,301.4 1595.4,302.8 1599.5,296.6 1603.6,299.4 1606.4,292.5 1610.5,298.0 1614.6,300.7 1617.3,307.6 1620.0,306.8 1622.8,307.6 1625.5,305.2 1628.2,304.1 1632.3,304.8 1635.1,305.4 1637.8,306.9 1641.9,303.5 1646.0,299.4 1650.1,301.4 1654.2,303.5 1657.0,302.2 1659.7,300.0 1662.4,298.0 1665.2,305.9 1667.9,303.5 1672.0,292.5 1674.7,291.8 1677.5,291.8 1680.2,293.3 1682.9,294.6 1685.7,292.3 1688.4,291.8 1691.1,291.4 1693.9,292.5 1698.0,291.8 1700.7,293.8 1703.4,296.6 1707.5,300.0" stroke="#00ffff"/>
<path d="M774.7,264.9 777.4,264.3 780.1,263.1 781.5,259.0 785.6,259.7 789.7,257.0 792.4,254.9 796.5,262.5 800.6,264.5 803.4,257.0 806.1,262.5 808.8,267.9 811.6,267.2 814.3,272.0 817.0,268.6 819.8,272.0 823.9,271.3 826.6,270.7 828.0,258.4 830.7,252.9 833.4,259.7 837.5,257.0 841.6,255.6 845.1,250.8 848.5,254.3 852.6,255.6 855.3,260.4 859.4,255.6 863.5,252.2 866.2,262.5 870.3,261.8 874.5,267.2 878.6,266.6 882.7,261.8 885.4,264.5 889.5,261.1 892.2,263.1 895.6,269.3 898.0,266.9 900.4,263.8 904.5,267.9 907.3,269.3 910.0,270.0 912.7,272.0 915.5,274.8 918.2,276.8 920.9,278.9 923.7,281.2 926.4,283.6 928.4,280.2 931.9,283.0 934.6,283.6 937.3,284.3 940.1,284.0 942.8,285.0 946.9,285.0" stroke="#dfff20"/>
<path d="M1623.5,302.1 1625.5,310.3 1628.2,310.3 1631.7,301.4 1635.1,308.9 1637.8,311.0 1640.6,309.6 1643.3,306.9 1646.0,305.7 1648.8,305.5 1652.9,301.4 1655.2,300.9 1657.6,298.7 1661.1,291.2 1663.8,289.8 1666.5,293.9 1670.6,291.2 1673.4,280.2 1676.1,270.7 1679.5,267.2 1682.9,272.0 1687.0,267.2 1690.4,274.8 1693.9,264.5 1698.0,262.5 1700.7,264.3 1703.4,264.5 1707.5,265.9 1711.6,264.5" stroke="#dfff20"/>
<path d="M340.5,261.8 344.6,270.7 346.6,261.8 350.0,272.7 353.5,265.9 356.9,270.7 361.0,283.6 363.7,281.1 366.5,280.2 370.6,287.1 374.7,291.2 377.4,287.7 380.1,284.3 382.9,281.5 385.6,277.5 389.7,271.3 392.4,271.5 395.2,270.0 398.6,287.1 402.0,278.9 404.7,276.7 407.5,274.8 410.2,273.7 412.9,273.4 417.0,275.4 421.1,270.0 424.6,276.1 428.0,279.5 432.1,267.9 436.2,262.5 440.3,263.8 443.0,267.9 445.7,266.6 446.2,265.9 449.6,270.7 453.7,268.6 457.8,265.9 461.9,259.0 465.3,262.5 469.4,261.1 473.5,254.3 476.2,249.5 479.0,250.8 482.4,261.1 486.5,261.1 490.6,266.6 493.3,266.7 496.0,267.9 498.8,268.0 501.5,266.6 504.3,266.4 507.0,267.2 509.7,266.0 512.5,264.5 515.2,263.9 517.9,264.5 520.7,265.2 523.4,265.9 526.1,264.0 528.9,260.4 531.6,260.1 534.3,261.1 537.1,263.0 539.8,263.8 542.5,264.2 545.3,264.5 549.4,261.1 552.1,260.4 554.8,258.4 557.6,256.7 560.3,254.3 563.0,252.7 565.8,252.2 568.5,252.2 571.2,250.8 574.0,250.5 576.7,250.2 579.0,248.8 581.3,248.3 583.5,248.8 585.8,247.9 588.1,246.9 590.4,246.0 592.7,245.9 594.9,245.9 597.2,246.7 599.5,245.3 601.8,244.1 604.0,243.3 606.8,243.5 609.5,241.5 612.2,241.9 615.0,242.8 617.7,243.3 620.5,243.0" stroke="#ff8000"/>
<path d="M1298.4,281.6 1300.8,278.9 1303.2,277.5 1305.9,276.2 1308.6,273.4 1311.4,273.1 1314.1,272.0 1316.8,271.4 1319.6,269.3 1323.0,258.4 1325.0,253.6 1327.8,262.5 1330.5,277.5 1333.9,280.9 1337.3,287.1 1340.1,285.3 1342.8,284.3 1346.9,280.2 1351.0,273.4 1353.7,272.0 1357.8,276.1 1360.6,280.9 1364.7,273.4 1368.8,272.0 1372.9,263.8 1376.3,257.7 1379.0,261.8 1382.5,254.9 1385.9,265.9 1389.3,259.7 1392.7,269.3 1396.1,264.5 1400.2,260.4 1403.0,259.5 1405.7,259.0 1408.4,258.5 1411.2,258.4 1415.3,260.4 1419.4,262.5 1422.1,274.8 1425.5,288.4 1428.2,299.4 1431.7,293.2 1434.4,290.5 1438.5,281.6 1441.2,285.7 1444.7,293.9 1448.1,296.6 1450.8,299.6 1453.5,300.7 1457.6,302.8 1461.7,303.5 1461.5,304.1 1464.2,304.0 1466.9,303.5 1469.7,303.2 1472.4,303.5 1476.5,301.4 1479.9,303.5 1481.3,305.5" stroke="#ff8000"/>
<path d="M455.0,285.7 459.1,280.2 463.2,275.4 467.3,278.2 471.4,275.4 474.2,276.3 476.9,277.5 479.6,277.8 482.4,278.9 486.5,280.9 490.6,278.9 494.7,275.4 497.4,273.9 500.2,274.1 502.9,274.0 505.6,275.4 508.4,275.0 511.1,273.4 513.8,272.7 516.6,272.7 519.3,271.8 522.0,269.3 524.8,267.8 527.5,267.2 530.2,266.1 533.0,265.9 535.7,265.2 538.4,264.5 542.5,263.1 546.6,262.5 549.4,263.6 552.1,265.9 554.8,266.7 557.6,267.9 560.3,269.1 563.0,268.6 565.8,267.6 568.5,265.2 571.2,263.1 574.0,263.4 576.7,262.5 579.0,261.8 581.3,261.4 583.5,259.7 585.8,260.1 588.1,258.9 590.4,258.4 592.7,258.3 594.9,256.6 597.2,257.0 599.5,256.5 601.8,255.1 604.0,254.3 606.3,254.0 608.6,253.1 610.9,252.2 613.2,250.4 615.4,248.7 617.7,248.1 620.5,247.2 623.2,244.7 625.9,243.0 628.7,242.6 631.4,242.9 634.1,243.3 638.2,242.6 641.0,240.6 643.7,245.4 646.4,244.4 649.2,244.0 651.4,243.2 653.7,243.5 656.0,242.6 658.7,244.2 661.5,244.0 665.6,246.0 667.8,244.9 670.1,245.0 672.4,244.0 674.7,243.9 677.0,244.6 679.2,244.7 681.5,244.3 683.8,243.6 686.1,244.0 688.3,242.9 690.6,242.6 692.9,242.6 695.2,242.7 697.5,241.3 699.7,240.6 700.8,241.3 703.1,240.6 705.4,241.7 707.7,240.9 710.4,242.0 713.1,241.3 715.9,241.7 718.6,240.8 721.3,240.6 724.1,240.9 726.8,240.0 729.5,240.4 732.3,240.6 735.0,239.5 737.7,239.9 740.5,240.8 743.2,242.6" stroke="#ff6000"/>
<path d="M1388.6,291.2 1392.0,289.1 1394.8,283.0 1398.9,274.8 1401.6,271.2 1404.3,268.6 1408.4,265.9 1412.5,270.0 1416.6,273.4 1419.4,275.4 1422.1,266.6 1426.2,261.1 1428.9,259.2 1431.7,257.0 1434.4,258.4 1437.1,264.5 1439.9,274.8 1444.0,283.6 1448.1,280.2 1450.8,273.4 1453.5,269.3 1456.3,270.7 1458.3,287.1 1461.7,285.7 1458.1,285.7 1460.8,283.0 1463.5,280.2 1465.6,293.9 1469.7,298.0 1472.4,299.7 1475.1,300.0 1479.2,299.4 1483.3,296.6 1487.4,299.4 1490.9,285.7 1494.3,285.7 1497.7,293.9 1500.1,295.4 1502.5,295.9 1505.2,297.5 1507.9,299.4 1510.7,301.6 1513.4,304.1 1517.5,306.2 1521.6,304.8 1525.7,295.3 1528.1,294.3 1530.5,293.2 1533.9,284.3 1536.7,282.3 1540.8,285.7 1543.5,287.5 1546.2,289.8 1550.3,292.5 1553.1,276.1 1555.1,272.0 1557.8,287.1 1561.3,284.3 1564.0,297.3 1568.1,291.2 1572.2,287.7 1574.9,287.5 1577.7,287.7 1581.8,293.2 1584.5,289.8 1586.6,273.4" stroke="#ff6000"/>
<path d="M356.9,252.9 359.2,252.3 361.4,252.9 363.7,253.6 366.5,255.4 369.2,255.6 371.9,253.2 374.7,252.2 377.4,251.5 380.1,251.1 382.9,250.2 385.6,248.8 388.3,246.0 392.4,244.7 395.2,244.9 397.9,246.0 400.2,246.5 402.5,247.4 404.7,248.8 407.5,251.3 410.2,254.3 412.5,252.3 414.8,251.4 417.0,248.8 419.8,250.8 422.5,251.5 425.2,254.9 428.0,257.0 430.7,257.2 433.4,259.0 437.5,254.3 440.3,248.8 443.0,247.3 445.7,247.4 445.5,247.4 449.6,244.7 453.0,248.8 455.0,257.0 459.1,255.6 462.6,251.5 465.3,242.6 467.7,242.0 470.1,240.6 472.1,233.7 474.2,241.9 476.6,241.0 479.0,238.5 482.4,243.3 484.8,245.7 487.2,248.1 489.6,246.2 491.9,244.0 494.7,242.8 497.4,243.3 501.5,239.2 504.3,239.4 507.0,239.9 511.1,242.6 513.8,237.8 516.6,244.7 519.3,246.5 522.0,246.7 526.1,250.2 530.2,246.7 534.3,254.3 538.4,252.9 541.8,251.5 545.3,257.0 546.6,257.9" stroke="#ff4000"/>
<path d="M1239.6,283.6 1241.6,283.0 1243.0,265.2 1244.4,277.5 1246.4,272.0 1248.5,283.0 1252.6,288.4 1256.0,272.7 1258.0,289.8 1260.1,284.3 1262.8,291.2 1266.3,283.0 1269.0,281.6 1273.1,290.5 1277.2,289.8 1279.6,285.6 1282.0,280.2 1284.4,282.9 1286.8,284.3 1290.9,273.4 1295.0,266.6 1299.1,263.1 1301.8,270.7 1305.9,272.0 1310.0,277.5 1314.1,287.1 1318.2,292.5 1322.3,294.6 1326.4,292.5 1330.5,288.4 1333.2,287.2 1336.0,284.3 1340.1,273.4 1344.2,266.6 1346.9,263.8 1349.6,263.0 1352.4,263.1 1355.1,261.4 1357.8,261.1 1361.9,260.4 1365.4,257.7 1368.1,265.9 1370.8,270.0 1374.2,259.7 1378.3,255.6 1382.5,257.0 1386.6,257.7 1390.7,263.1 1394.8,259.7 1398.9,254.3 1403.0,255.6 1407.1,253.6 1409.8,254.0 1412.5,255.6 1415.3,257.0 1418.0,258.4 1420.7,257.7 1423.5,256.3 1426.2,256.1 1428.9,254.3 1433.0,253.6 1435.8,255.6 1438.5,246.0 1442.6,241.3 1446.7,238.5 1449.4,246.0 1452.2,239.2 1455.6,237.8 1458.3,247.4 1460.4,258.4 1461.7,261.1 1458.7,257.0 1462.8,263.1 1466.3,261.1 1469.0,266.6 1472.4,265.9 1476.5,268.6 1480.6,270.7 1484.7,267.9 1488.1,264.5 1491.5,269.3 1495.6,267.9 1499.7,270.7 1503.8,268.6 1507.9,267.2 1511.4,266.6 1514.1,264.9" stroke="#ff4000"/>
<path d="M839.6,280.2 843.0,269.3 847.1,260.4 849.2,260.4 851.2,267.2 854.6,267.9 858.0,273.4 862.1,269.3 864.2,272.0 866.2,262.5 870.3,261.8 873.1,269.3 877.2,273.4 881.3,278.9 884.0,265.2 886.8,264.5 889.5,250.2 893.6,246.0 896.3,228.3 899.1,225.8 901.8,229.6 903.2,240.6 907.3,244.0 910.0,245.1 912.7,245.4 916.8,244.0 917.5,246.0 919.9,244.3 922.3,241.9 924.6,240.8 926.9,238.7 929.1,237.2 931.9,236.9 934.6,236.5 937.3,234.3 940.1,233.7 942.8,234.9 945.5,235.1 948.3,234.6 951.0,235.1 953.7,236.5 953.5,237.7 956.2,240.1 958.9,241.1 961.7,242.0 964.4,242.5 968.5,243.8 971.2,241.4 974.0,239.7 977.4,238.4 979.4,224.7 981.5,234.3 984.2,232.2 985.6,237.0 987.0,191.9 989.0,208.3 991.7,220.6 994.5,232.9 996.5,242.5 999.3,239.7 1001.3,251.3 1004.0,230.2 1005.7,224.7 1007.5,246.6 1008.8,254.8 1010.9,252.0 1013.6,256.1 1017.7,252.0 1019.8,230.2 1021.1,225.4 1023.9,232.9 1027.3,233.6 1030.0,241.1 1032.8,241.4 1035.5,243.1 1038.2,240.6 1041.0,239.0 1044.4,236.3 1047.8,239.7 1050.5,241.3 1053.3,242.5 1057.4,239.7 1060.1,243.1 1064.2,238.4 1065.6,226.0 1067.6,234.3 1070.1,221.3 1072.4,230.2 1074.9,226.0 1076.5,235.6 1079.9,237.0 1082.7,235.6 1085.4,239.7 1087.4,235.6 1088.8,220.6 1089.9,240.4 1092.2,241.1" stroke="#ff2000"/>
<path d="M1693.2,344.2 1695.9,343.1 1698.7,334.9 1702.1,336.3 1706.2,336.3 1709.6,332.9 1711.6,330.1" stroke="#ff2000"/>
<path d="M716.6,273.4 718.9,271.0 721.3,267.9 724.1,264.1 726.8,261.8 730.9,259.0 733.6,257.9 736.4,258.4 740.5,251.5 744.6,248.1 746.9,247.9 749.1,247.8 751.4,247.4 754.2,247.2 756.9,246.9 759.6,247.4 762.4,241.9 763.7,246.0 767.8,241.9 771.9,242.6 774.7,245.4 776.9,245.3 779.2,244.0 781.5,244.7 785.6,250.2 788.3,249.8 791.1,250.2 793.8,248.0 796.5,246.0 800.6,243.3 802.9,244.1 805.2,243.6 807.5,243.3 809.7,243.8 812.0,242.8 814.3,242.6 817.0,241.5 819.8,240.8 822.5,240.6 825.2,240.7 828.0,239.6 830.7,238.5 833.4,237.5 836.2,236.3 838.9,236.5 841.2,235.1 843.5,234.1 845.7,232.4 848.0,231.6 850.3,230.6 852.6,230.3 854.9,229.3 857.1,228.4 859.4,226.2 861.7,224.8 864.0,223.6 866.2,223.5 869.0,221.8 871.7,220.8 875.8,220.3 879.9,222.8 882.7,224.0 885.4,225.5 888.1,228.6 890.9,231.0 895.0,234.4 897.7,234.9 900.4,236.5 904.5,241.3 907.3,243.8 910.0,245.4 912.7,247.2 915.5,248.1 918.2,248.8 920.9,249.5 925.0,256.3 929.1,257.0 931.9,260.2 934.6,264.5 937.3,267.4 940.1,268.6 942.3,268.7 944.6,270.1 946.9,270.0 951.0,271.3 953.7,269.3 950.7,271.8 953.5,269.3 956.2,267.7 958.6,266.6 961.0,266.4 963.4,263.4 965.8,259.5 968.5,255.4 971.2,252.0 974.0,250.1 976.7,246.6 980.8,243.8 983.5,244.2 986.3,244.5 989.0,243.6 991.7,243.8 995.8,245.2" stroke="#bf0000"/>
<path d="M1610.5,344.5 1614.6,339.0 1618.7,333.5 1622.1,331.5 1624.4,324.0 1626.9,327.4 1629.6,325.2 1632.3,324.0 1634.6,322.0 1636.9,320.6 1639.2,318.5 1641.9,317.9 1644.7,315.1 1647.4,314.4 1649.7,313.1 1651.9,311.6 1654.2,311.0 1658.3,303.5 1662.4,298.0 1664.8,297.5 1667.2,295.3 1670.6,293.9 1672.0,298.0 1674.7,288.4 1678.8,291.2 1680.2,285.0 1682.2,297.3 1684.6,297.0 1687.0,298.0 1691.1,298.0 1695.2,294.6 1699.3,295.3 1702.1,293.4 1704.8,293.2 1707.1,292.3 1709.4,292.7 1711.6,292.8" stroke="#bf0000"/>
<path d="M222.2,262.5 224.6,263.9 227.0,263.8 230.1,265.2 233.2,265.2 236.2,263.6 239.3,261.1 242.0,263.7 244.8,264.5 247.5,266.3 250.3,266.6 253.0,268.3 255.7,270.7 258.1,266.0 260.5,262.5 262.6,261.1 266.7,264.5 268.9,265.3 271.2,264.9 273.5,264.5 277.6,258.4 280.3,253.6 284.4,258.4 287.8,261.1 291.3,269.3 294.0,270.5 296.7,273.4 299.1,274.5 301.5,275.0 303.9,272.3 306.3,270.0 309.0,268.0 311.8,266.6 314.5,264.9 317.2,263.8 319.5,263.7 321.8,263.8 324.1,265.2 326.5,267.9 328.9,271.3 330.9,267.9 333.6,263.6 336.4,259.7 338.7,259.2 340.9,256.3 343.2,255.6 345.7,254.5 348.2,251.2 350.7,249.7 353.1,253.8 355.5,258.4 359.6,264.5 361.7,255.6 364.7,254.5 367.8,252.2 370.1,253.5 372.4,253.4 374.7,254.3 377.4,254.4 380.1,256.0 382.9,257.0 385.1,256.5 387.4,257.3 389.7,256.3 393.8,259.7 396.5,259.9 399.3,261.1 402.0,260.5 404.7,260.4 407.5,260.1 410.2,258.4 412.9,257.2 415.7,257.7 418.4,256.1 421.1,254.9 423.9,256.5 426.6,257.0 429.3,257.8 432.1,257.7 434.3,256.2 436.6,255.5 438.9,255.6 441.2,255.5 443.5,257.7 445.7,257.7 446.8,257.7 449.6,256.2 452.3,255.6 456.4,259.0 459.1,258.8 461.9,257.7 464.6,258.4 467.3,257.4 470.1,257.7 472.8,257.6 475.5,258.4 478.3,258.5 481.0,257.0 483.3,257.0 485.6,256.1 487.8,256.3 490.1,256.5 492.4,255.5 494.7,255.6 497.0,255.0 499.2,254.3 501.5,254.9 503.8,254.9 506.1,254.8 508.4,253.6 511.1,252.1 513.8,250.2" stroke="#9f0000"/>
<path d="M1191.3,285.5 1193.4,280.0 1196.8,282.8 1200.9,280.7 1205.0,282.8 1207.7,282.1 1206.1,283.6 1208.5,284.1 1210.9,283.0 1214.3,276.8 1218.4,274.8 1221.1,276.8 1225.2,272.0 1229.3,268.6 1232.8,265.9 1235.5,262.5 1237.5,267.9 1241.6,269.3 1245.7,271.3 1248.1,269.5 1250.5,269.3 1252.9,270.5 1255.3,272.7 1259.4,270.7 1262.2,269.3 1266.3,274.1 1269.0,255.6 1271.0,252.2 1272.4,259.7 1275.1,240.6 1276.5,242.6 1278.6,258.4 1281.3,260.4 1285.4,257.7 1289.5,252.9 1292.9,255.6 1296.3,261.1 1299.7,247.4 1303.2,243.3 1305.2,248.8 1307.9,262.5 1311.4,274.8 1315.5,283.0 1319.6,285.7 1323.7,285.7 1327.8,281.6 1331.9,280.9 1334.6,281.9 1337.3,283.0 1341.4,283.0 1344.2,281.0 1346.9,277.5 1349.6,274.9 1352.4,270.7 1356.5,267.2 1360.6,268.6 1364.7,272.0 1368.8,273.4 1372.9,272.0 1375.6,270.7" stroke="#9f0000"/>
<path d="M190.5,529.6 191.6,533.4 192.6,529.4 193.7,532.3 194.7,529.7 195.8,529.5 196.8,536.1 197.9,537.6 198.9,538.5 200.0,531.8 201.1,532.7 202.1,533.2 203.2,533.9 204.2,534.1 205.3,528.3 206.3,534.1 207.4,529.1 208.5,532.5 209.5,540.2 210.6,532.4 211.6,531.8 212.7,534.1 213.7,532.7 214.8,530.1 215.8,540.9 216.9,531.3 218.0,534.7 219.0,531.1 220.1,535.5 221.1,534.0 222.2,534.3 223.2,533.6 224.3,533.8 225.3,535.1 226.4,532.9 227.5,531.1 228.5,533.9 229.6,536.0 230.6,534.3 231.7,534.1 232.7,536.7 233.8,531.7 234.9,533.1 235.9,534.8 237.0,538.2 238.0,536.7 239.1,532.8 240.1,530.4 241.2,535.1 242.2,534.2 243.3,530.7 244.4,534.4 245.4,528.3 246.5,530.4 247.5,536.1 248.6,530.2 249.6,532.1 250.7,527.0 251.7,534.9 252.8,530.4 253.9,538.3 254.9,533.9 256.0,532.3 257.0,536.9 258.1,536.2 259.1,535.8 260.2,528.2 261.3,530.8 262.3,535.5 263.4,531.7 264.4,531.7 265.5,532.8 266.5,531.4 267.6,532.0 268.6,535.9 269.7,532.1 270.8,533.4 271.8,533.0 272.9,528.5 273.9,526.8 275.0,528.7 276.0,532.9 277.1,535.1 278.1,533.8 279.2,532.2 280.3,528.9 281.3,530.4 282.4,535.4 283.4,528.9 284.5,534.6 285.5,530.9 286.6,530.9 287.7,535.4 288.7,534.1 289.8,532.2 290.8,530.2 291.9,528.3 292.9,534.1 294.0,535.6 295.0,533.1 296.1,531.6 297.2,529.9 298.2,532.5 299.3,532.9 300.3,532.9 301.4,533.9 302.4,527.9 303.5,534.3 304.5,533.3 305.6,534.9 306.7,534.2 307.7,530.9 308.8,534.3 309.8,534.6 310.9,531.1 311.9,526.9 313.0,530.7 314.1,533.1 315.1,530.6 316.2,530.6 317.2,535.1 318.3,531.9 319.3,533.0 320.4,532.0 321.4,529.2 322.5,536.4 323.6,532.0 324.6,532.6 325.7,533.0 326.7,533.1 327.8,530.2 328.8,530.0 329.9,531.9 330.9,531.0 332.0,535.3 333.1,532.7 334.1,532.2 335.2,534.9 336.2,529.1 337.3,529.5 338.3,533.5 339.4,531.8 340.5,534.7 341.5,534.9 342.6,529.7 343.6,535.3 344.7,535.8 345.7,531.3 346.8,531.5 347.8,526.8 348.9,534.0 350.0,539.0 351.0,527.1 352.1,531.2 353.1,534.3 354.2,530.2 355.2,527.5 356.3,528.9 357.3,532.9 358.4,531.5 359.5,529.7 360.5,537.2 361.6,527.6 362.6,532.0 363.7,535.9 364.7,531.3 365.8,533.2 366.9,536.2 367.9,530.1 369.0,529.7 370.0,531.4 371.1,535.2 372.1,534.0 373.2,538.2 374.2,530.7 375.3,531.6 376.4,531.9 377.4,532.1 378.5,528.1 379.5,535.6 380.6,532.1 381.6,531.5 382.7,539.0 383.7,530.7 384.8,534.7 385.9,534.8 386.9,530.0 388.0,532.9 389.0,533.9 390.1,531.0 391.1,533.2 392.2,534.5 393.3,530.0 394.3,535.7 395.4,535.0 396.4,534.9 397.5,529.5 398.5,531.9 399.6,530.8" stroke="#00009f"/>
<path d="M582.3,532.2 583.3,530.3 584.4,529.9 585.4,533.8 586.5,530.9 587.6,534.5 588.6,531.1 589.7,534.5 590.7,542.2 591.8,532.8 592.8,536.9 593.9,533.9 594.9,530.0 596.0,525.0 597.1,534.9 598.1,530.0 599.2,527.0 600.2,527.9 601.3,532.3 602.3,532.9 603.4,534.6 604.5,529.4 605.5,531.5 606.6,533.2 607.6,534.2 608.7,534.9 609.7,532.0 610.8,528.1 611.8,533.6 612.9,529.7 614.0,531.9 615.0,530.9 616.1,527.6 617.1,532.3 618.2,529.8 619.2,532.0 620.3,532.5 621.3,531.0 622.4,527.5 623.5,530.0 624.5,530.7 625.6,532.2 626.6,538.3 627.7,533.6 628.7,530.0 629.8,531.0 630.9,528.3 631.9,532.3 633.0,531.5 634.0,534.9 635.1,532.7 636.1,533.2 637.2,538.7 638.2,530.7 639.3,529.7 640.4,536.2 641.4,532.5 642.5,533.0 643.5,532.4 644.6,532.3 645.6,535.0 646.7,531.7 647.7,533.3 648.8,529.8 649.9,531.6 650.9,535.8 652.0,532.4 653.0,525.6 654.1,530.3 655.1,533.8 656.2,534.6 657.3,531.9 658.3,532.0 659.4,529.7 660.4,532.0 661.5,531.0 662.5,530.3 663.6,532.4 664.6,533.2 665.7,534.3 666.8,535.2 667.8,532.5 668.9,531.9 669.9,536.1 671.0,534.3 672.0,533.8 673.1,532.3 674.1,532.2 675.2,530.6 676.3,531.8 677.3,532.0 678.4,532.7 679.4,533.0 680.5,530.3 681.5,533.3 682.6,531.0 683.7,531.7 684.7,536.5 685.8,532.4 686.8,535.1 687.9,534.8 688.9,531.7 690.0,533.5 691.0,530.5 692.1,531.2 693.2,532.5 694.2,537.1 695.3,533.1 696.3,532.6 697.4,531.9 698.4,532.0 699.5,534.7 700.5,533.8 701.6,531.2 702.7,533.9 703.7,532.4 704.8,529.3 705.8,533.4 706.9,530.3 707.9,531.3 709.0,533.1 710.1,529.6 711.1,528.3 712.2,532.4 713.2,528.6 714.3,535.4 715.3,534.5 716.4,530.7 717.4,531.7 718.5,532.6 719.6,531.8 720.6,533.8 721.7,533.2 722.7,532.3 723.8,533.5 724.8,531.9 725.9,533.2 726.9,536.2 728.0,530.4 729.1,533.0 730.1,531.1 731.2,536.0 732.2,531.0 733.3,531.4 734.3,533.8 735.4,533.3 736.5,535.0 737.5,534.0 738.6,529.9 739.6,535.8 740.7,531.0 741.7,528.9 742.8,531.4 743.8,532.9 744.9,531.3 746.0,533.7 747.0,533.2 748.1,536.7 749.1,535.0 750.2,531.0 751.2,530.4 752.3,526.7 753.3,531.7 754.4,537.6 755.5,531.5 756.5,531.5 757.6,527.1 758.6,534.9 759.7,527.8 760.7,536.2 761.8,526.0 762.9,526.9 763.9,531.7 765.0,530.7 766.0,533.5 767.1,530.9 768.1,534.0 769.2,527.0 770.2,541.8 771.3,536.5 772.4,536.0 773.4,536.3 774.5,534.1 775.5,534.2 776.6,532.9 777.6,533.0 778.7,538.4 779.7,533.7 780.8,535.3 781.9,530.7 782.9,536.9 784.0,532.0 785.0,540.4 786.1,523.3 787.1,529.7 788.2,541.4 789.3,535.4 790.3,527.9 791.4,531.7 792.4,529.0 793.5,530.1 794.5,527.7 795.6,537.6 796.6,533.8 797.7,534.4 798.8,535.7 799.8,529.0 800.9,532.0 801.9,537.4 803.0,539.9 804.0,532.6 805.1,535.3 806.1,534.1 807.2,528.0 808.3,533.1 809.3,534.7 810.4,529.8 811.4,534.0 812.5,531.6 813.5,527.7 814.6,531.1 815.7,531.2 816.7,535.8 817.8,526.0 818.8,533.9 819.9,535.8 820.9,535.1 822.0,539.0 823.0,527.1 824.1,531.7 825.2,529.5 826.2,545.6 827.3,533.4 828.3,529.9 829.4,530.1 830.4,531.3 831.5,536.2 832.5,532.4 833.6,535.4 834.7,537.8 835.7,530.6 836.8,533.4 837.8,530.8 838.9,529.5 839.9,526.3 841.0,535.6 842.1,527.4 843.1,533.8 844.2,534.4 845.2,536.7 846.3,530.2 847.3,533.4 848.4,524.1 849.4,531.8 850.5,532.9 851.6,540.5 852.6,531.6 853.7,536.6 854.7,533.0 855.8,536.0 856.8,535.3 857.9,535.4 858.9,526.8 860.0,537.3 861.1,529.1 862.1,537.2 863.2,538.3 864.2,530.6 865.3,523.7 866.3,530.3 867.4,530.2 868.5,525.9 869.5,529.1 870.6,529.0 871.6,536.6 872.7,539.4 873.7,540.4 874.8,528.9 875.8,531.1 876.9,535.2 878.0,526.4 879.0,530.0 880.1,542.8 881.1,534.0 882.2,529.7 883.2,535.6 884.3,533.1 885.3,530.2 886.4,528.9 887.5,527.5 888.5,542.6 889.6,534.3 890.6,537.9 891.7,529.6" stroke="#00009f"/>
<path d="M1084.9,529.4 1086.0,522.9 1087.0,522.9 1088.1,529.4 1089.2,526.7 1090.2,520.7 1091.3,534.8 1092.3,533.5 1093.4,513.0 1094.4,544.6 1095.5,512.9 1096.5,509.3 1097.6,522.3 1098.7,509.4 1099.7,555.5 1100.8,528.7 1101.8,507.7 1102.9,532.6 1103.9,510.6 1105.0,541.5 1106.1,541.5 1107.1,549.6 1108.2,538.3 1109.2,528.4 1110.3,556.7 1111.3,558.4 1112.4,516.4 1113.4,513.9 1114.5,542.5 1115.6,509.4 1116.6,522.2 1117.7,542.9 1118.7,554.9 1119.8,532.9 1120.8,552.3 1121.9,546.2 1122.9,523.3 1124.0,528.5 1125.1,531.6 1126.1,530.6 1127.2,537.4 1128.2,529.5 1129.3,533.0 1130.3,534.8 1131.4,530.7 1132.5,529.9 1133.5,533.0 1134.6,534.3 1135.6,538.3 1136.7,534.4 1137.7,533.1 1138.8,539.5 1139.8,527.5 1140.9,529.2 1142.0,523.2 1143.0,533.1 1144.1,536.0 1145.1,533.8 1146.2,535.2 1147.2,528.3 1148.3,536.8 1149.3,533.0 1150.4,536.0 1151.5,531.4 1152.5,539.3 1153.6,526.6 1154.6,537.9 1155.7,528.6 1156.7,529.5 1157.8,537.1 1158.9,535.4 1159.9,530.9 1161.0,541.5 1162.0,496.6 1163.1,532.4 1164.1,519.9 1165.2,543.7 1166.2,522.6 1167.3,564.0 1168.4,534.3 1169.4,523.8 1170.5,528.9 1171.5,524.2 1172.6,533.3 1173.6,528.1 1174.7,520.4 1175.7,537.3 1176.8,533.3 1177.9,541.3 1178.9,530.5 1180.0,532.5 1181.0,518.5 1182.1,525.6 1183.1,541.5 1184.2,533.5 1185.3,531.4 1186.3,546.4 1187.4,523.6 1188.4,528.4 1189.5,541.6 1190.5,537.9 1191.6,525.5 1192.6,525.8 1193.7,545.0 1194.8,540.3 1195.8,539.1 1196.9,542.9 1197.9,540.2 1199.0,535.6 1200.0,534.8 1201.1,532.1 1202.1,537.0 1203.2,532.1 1204.3,538.4 1205.3,534.0 1206.4,527.1 1207.4,536.8 1208.5,559.1 1209.5,538.3 1210.6,533.3 1211.7,538.7 1212.7,514.0 1213.8,537.1 1214.8,557.1 1215.9,531.2 1216.9,530.8 1218.0,530.2 1219.0,539.8 1220.1,524.2 1221.2,520.1 1222.2,542.4 1223.3,534.1 1224.3,540.0 1225.4,535.4 1226.4,537.3 1227.5,529.2 1228.5,540.9 1229.6,536.2 1230.7,528.2 1231.7,529.6 1232.8,516.2 1233.8,535.2 1234.9,538.4 1235.9,531.1 1237.0,526.0 1238.1,539.8 1239.1,529.4 1240.2,533.9 1241.2,531.6 1242.3,547.6 1243.3,541.2 1244.4,529.7 1245.4,532.2 1246.5,537.2 1247.6,535.2 1248.6,529.1 1249.7,540.7 1250.7,530.7 1251.8,526.2 1252.8,536.0 1253.9,537.1 1254.9,525.5 1256.0,537.2 1257.1,530.5 1258.1,487.4 1259.2,544.4 1260.2,572.0 1261.3,539.6 1262.3,531.4 1263.4,501.0 1264.5,545.3 1265.5,536.7 1266.6,527.9 1267.6,515.6 1268.7,536.2 1269.7,527.8 1270.8,541.3 1271.8,524.6 1272.9,538.1 1274.0,532.7 1275.0,536.3 1276.1,539.1 1277.1,541.7 1278.2,531.9 1279.2,530.7 1280.3,550.1 1281.3,535.8 1282.4,524.6 1283.5,527.9 1284.5,539.7 1285.6,533.5 1286.6,531.7 1287.7,543.4 1288.7,519.1 1289.8,521.0" stroke="#00009f"/>
<path d="M1490.4,535.4 1491.5,531.4 1492.5,530.9 1493.6,533.5 1494.7,533.8 1495.7,529.9 1496.8,533.9 1497.8,534.1 1498.9,533.5 1499.9,532.4 1501.0,531.3 1502.1,531.3 1503.1,531.4 1504.2,533.4 1505.2,529.5 1506.3,531.5 1507.3,534.8 1508.4,532.0 1509.4,530.7 1510.5,537.0 1511.6,538.4 1512.6,531.1 1513.7,527.8 1514.7,532.8 1515.8,532.5 1516.8,523.3 1517.9,529.8 1518.9,539.2 1520.0,537.5 1521.1,534.6 1522.1,544.4 1523.2,542.7 1524.2,547.4 1525.3,583.5 1526.3,532.1 1527.4,549.2 1528.5,530.2 1529.5,522.1 1530.6,520.7 1531.6,552.7 1532.7,519.3 1533.7,526.6 1534.8,544.5 1535.8,511.0 1536.9,527.7 1538.0,513.6 1539.0,504.8 1540.1,516.1 1541.1,527.1 1542.2,479.0 1543.2,580.5 1544.3,580.4 1545.3,459.5 1546.4,535.1 1547.5,611.2 1548.5,531.9 1549.6,518.0 1550.6,528.7 1551.7,482.4 1552.7,511.9 1553.8,519.0 1554.9,564.0 1555.9,528.4 1557.0,522.1 1558.0,534.3 1559.1,535.7 1560.1,528.9 1561.2,533.1 1562.2,528.9 1563.3,530.9 1564.4,533.6 1565.4,540.4 1566.5,534.9 1567.5,533.3 1568.6,536.3 1569.6,534.5 1570.7,536.5 1571.7,545.5 1572.8,537.7 1573.9,526.2 1574.9,527.3 1576.0,524.7 1577.0,546.6 1578.1,516.5 1579.1,531.1 1580.2,482.0 1581.3,561.0 1582.3,534.2 1583.4,526.2 1584.4,539.7 1585.5,533.4 1586.5,532.3 1587.6,535.2 1588.6,522.5 1589.7,537.6 1590.8,523.1 1591.8,538.4 1592.9,530.6 1593.9,533.6 1595.0,531.8 1596.0,528.3 1597.1,536.0 1598.1,527.3 1599.2,538.3 1600.3,536.4 1601.3,529.9 1602.4,532.3 1603.4,528.8 1604.5,531.1 1605.5,511.3 1606.6,525.0 1607.7,537.2 1608.7,556.2 1609.8,535.3 1610.8,535.7 1611.9,543.5 1612.9,545.3 1614.0,542.9 1615.0,533.6 1616.1,538.1 1617.2,531.3 1618.2,540.9 1619.3,534.7 1620.3,537.4 1621.4,528.8 1622.4,528.3 1623.5,523.6 1624.5,524.5 1625.6,525.1 1626.7,532.3 1627.7,530.2 1628.8,526.6 1629.8,529.4 1630.9,535.3 1631.9,531.0 1633.0,532.4 1634.1,526.0 1635.1,528.2 1636.2,515.5 1637.2,535.7 1638.3,531.3 1639.3,518.4 1640.4,541.8 1641.4,541.3 1642.5,535.4 1643.6,528.3 1644.6,533.6 1645.7,525.1 1646.7,535.7 1647.8,529.1 1648.8,529.1 1649.9,533.5 1650.9,531.7 1652.0,536.5 1653.1,533.3 1654.1,529.3 1655.2,535.5 1656.2,528.7 1657.3,533.0 1658.3,531.0 1659.4,535.0 1660.5,533.1 1661.5,533.8 1662.6,533.7 1663.6,528.2 1664.7,528.6 1665.7,533.5 1666.8,536.1 1667.8,533.8 1668.9,540.6 1670.0,531.3 1671.0,534.4 1672.1,529.3 1673.1,530.1 1674.2,531.5 1675.2,529.8 1676.3,535.7 1677.3,531.3 1678.4,536.3 1679.5,532.4 1680.5,531.6 1681.6,534.8 1682.6,528.5 1683.7,534.5 1684.7,526.8 1685.8,532.3 1686.9,532.8 1687.9,535.6 1689.0,531.4 1690.0,537.0 1691.1,534.6 1692.1,531.6 1693.2,531.7 1694.2,532.8 1695.3,527.2 1696.4,534.5 1697.4,531.7 1698.5,531.0 1699.5,533.8 1700.6,531.5 1701.6,534.3 1702.7,528.7 1703.7,536.2 1704.8,535.2 1705.9,530.1 1706.9,534.9 1708.0,540.1 1709.0,529.4 1710.1,530.6" stroke="#0000bf"/>
<path d="M318.3,533.0 319.3,530.8 320.4,529.4 321.4,535.1 322.5,532.4 323.6,526.5 324.6,523.9 325.7,529.4 326.7,534.7 327.8,533.1 328.8,534.9 329.9,532.4 330.9,531.4 332.0,529.3 333.1,529.3 334.1,531.9 335.2,527.5 336.2,538.3 337.3,533.1 338.3,535.3 339.4,532.9 340.5,536.8 341.5,536.2 342.6,535.5 343.6,535.6 344.7,529.7 345.7,532.3 346.8,531.5 347.8,533.1 348.9,529.0 350.0,531.2 351.0,533.7 352.1,530.9 353.1,528.6 354.2,535.1 355.2,532.1 356.3,532.8 357.3,532.0 358.4,527.3 359.5,534.1 360.5,532.8 361.6,523.7 362.6,527.5 363.7,534.8 364.7,533.7 365.8,530.7 366.9,535.8 367.9,536.5 369.0,531.1 370.0,530.3 371.1,534.2 372.1,530.2 373.2,535.0 374.2,525.5 375.3,534.0 376.4,536.1 377.4,534.0 378.5,532.7 379.5,533.9 380.6,530.2 381.6,532.7 382.7,535.7 383.7,532.9 384.8,525.9 385.9,528.1 386.9,530.7 388.0,534.4 389.0,531.1 390.1,535.8 391.1,533.8 392.2,532.9 393.3,533.4 394.3,529.4 395.4,531.5 396.4,537.0 397.5,533.8 398.5,530.2 399.6,534.8 400.6,528.3 401.7,536.5 402.8,533.7 403.8,532.1 404.9,532.0 405.9,532.2 407.0,532.3 408.0,528.9 409.1,524.8 410.1,533.1 411.2,529.4 412.3,529.5 413.3,533.5 414.4,532.4 415.4,531.4 416.5,530.7 417.5,529.3 418.6,529.8 419.7,539.2 420.7,533.2 421.8,535.4 422.8,536.7 423.9,541.5 424.9,530.0 426.0,533.7 427.0,528.1 428.1,532.7 429.2,536.2 430.2,535.4 431.3,533.3 432.3,535.0 433.4,529.6 434.4,530.6 435.5,534.0 436.5,530.3 437.6,535.0 438.7,532.2 439.7,532.2 440.8,537.0 441.8,537.3 442.9,534.5 443.9,529.0 445.0,534.1 446.1,535.1 447.1,530.9 448.2,532.5 449.2,531.2 450.3,536.7 451.3,533.4 452.4,531.7 453.4,533.9 454.5,532.9 455.6,531.3 456.6,533.6 457.7,535.7 458.7,532.8 459.8,528.9 460.8,531.5 461.9,530.1 462.9,531.2 464.0,537.6 465.1,532.5 466.1,533.0 467.2,532.0 468.2,534.5 469.3,532.2 470.3,534.7 471.4,533.6 472.5,531.4 473.5,529.9 474.6,530.4 475.6,529.3 476.7,527.5 477.7,538.4 478.8,534.6 479.8,532.8 480.9,535.4 482.0,535.5 483.0,531.4 484.1,533.2 485.1,539.0 486.2,531.9 487.2,531.6 488.3,531.3 489.3,532.0 490.4,533.2 491.5,531.0 492.5,535.9 493.6,533.1 494.6,535.4 495.7,528.8 496.7,530.8 497.8,532.2 498.9,530.7 499.9,532.5 501.0,531.4 502.0,532.6 503.1,535.9 504.1,531.9 505.2,530.4 506.2,536.1 507.3,538.3 508.4,530.6 509.4,535.6 510.5,532.9 511.5,529.7 512.6,530.1 513.6,522.8 514.7,531.7 515.7,542.2 516.8,522.8 517.9,534.5 518.9,528.9 520.0,533.0 521.0,522.3 522.1,534.7 523.1,524.4 524.2,529.1 525.3,535.2 526.3,532.1 527.4,537.3 528.4,530.6 529.5,528.7 530.5,533.5 531.6,534.6 532.6,533.3 533.7,528.6 534.8,532.1 535.8,538.0 536.9,533.8 537.9,535.5 539.0,531.5 540.0,525.8 541.1,539.3 542.1,536.2 543.2,520.7 544.3,539.5 545.3,544.2 546.4,525.2 547.4,534.4 548.5,524.9 549.5,529.8 550.6,535.0 551.7,516.3 552.7,533.8 553.8,531.3 554.8,533.6 555.9,535.0 556.9,541.3 558.0,526.9 559.0,541.2 560.1,535.3 561.2,531.5 562.2,537.8 563.3,527.7 564.3,530.9 565.4,534.1 566.4,535.0 567.5,535.1 568.5,531.6 569.6,534.9 570.7,527.5 571.7,531.2 572.8,534.0 573.8,532.0 574.9,530.3 575.9,538.1 577.0,534.1 578.1,535.0 579.1,534.8" stroke="#0000df"/>
<path d="M1175.7,519.5 1176.8,535.7 1177.9,527.8 1178.9,533.6 1180.0,532.3 1181.0,535.4 1182.1,533.5 1183.1,532.7 1184.2,533.5 1185.3,525.0 1186.3,532.5 1187.4,542.2 1188.4,532.9 1189.5,528.8 1190.5,529.1 1191.6,530.5 1192.6,537.0 1193.7,526.8 1194.8,535.8 1195.8,535.8 1196.9,530.5 1197.9,534.9 1199.0,530.3 1200.0,531.7 1201.1,535.7 1202.1,529.8 1203.2,530.9 1204.3,539.3 1205.3,537.2 1206.4,520.2 1207.4,532.7 1208.5,538.9 1209.5,532.6 1210.6,528.4 1211.7,528.0 1212.7,524.7 1213.8,533.4 1214.8,530.3 1215.9,533.3 1216.9,537.2 1218.0,523.9 1219.0,526.7 1220.1,532.4 1221.2,526.2 1222.2,532.9 1223.3,527.4 1224.3,532.4 1225.4,537.5 1226.4,523.9 1227.5,528.6 1228.5,523.4 1229.6,533.6 1230.7,529.2 1231.7,533.5 1232.8,545.0 1233.8,527.1 1234.9,540.7 1235.9,548.6 1237.0,529.2 1238.1,544.8 1239.1,542.6 1240.2,535.9 1241.2,540.4 1242.3,530.4 1243.3,528.0 1244.4,539.0 1245.4,525.4 1246.5,520.3 1247.6,526.8 1248.6,523.8 1249.7,536.0 1250.7,533.7 1251.8,528.6 1252.8,530.2 1253.9,526.1 1254.9,535.6 1256.0,540.1 1257.1,526.2 1258.1,543.9 1259.2,540.1 1260.2,530.1 1261.3,530.2 1262.3,536.5 1263.4,543.6 1264.5,535.0 1265.5,532.4 1266.6,528.2 1267.6,533.1 1268.7,543.7 1269.7,528.2 1270.8,538.0 1271.8,527.5 1272.9,535.5 1274.0,535.3 1275.0,531.8 1276.1,533.1 1277.1,525.3 1278.2,536.0 1279.2,530.0 1280.3,528.9 1281.3,531.1 1282.4,536.5 1283.5,538.0 1284.5,531.8 1285.6,528.1 1286.6,531.0 1287.7,527.3 1288.7,520.8 1289.8,536.5 1290.9,535.8 1291.9,534.0 1293.0,535.7 1294.0,535.7 1295.1,527.6 1296.1,535.8 1297.2,538.4 1298.2,536.3 1299.3,531.8 1300.4,532.6 1301.4,530.9 1302.5,532.8 1303.5,527.9 1304.6,532.9 1305.6,534.6 1306.7,534.4 1307.7,529.1 1308.8,532.3 1309.9,532.2 1310.9,538.1 1312.0,530.3 1313.0,535.0 1314.1,530.3 1315.1,530.3 1316.2,529.3 1317.3,533.4 1318.3,528.1 1319.4,536.7 1320.4,529.1 1321.5,534.9 1322.5,531.4 1323.6,526.1 1324.6,529.0 1325.7,534.0 1326.8,525.6 1327.8,530.8 1328.9,535.0 1329.9,532.8 1331.0,531.2 1332.0,531.4 1333.1,536.3 1334.1,537.5 1335.2,534.5 1336.3,528.4 1337.3,531.5 1338.4,528.6 1339.4,532.5 1340.5,536.2 1341.5,533.8 1342.6,532.4 1343.7,531.6 1344.7,526.8 1345.8,529.8 1346.8,532.0 1347.9,535.2 1348.9,530.3 1350.0,531.3 1351.0,533.1 1352.1,525.4 1353.2,531.2 1354.2,530.1 1355.3,535.7 1356.3,531.2 1357.4,529.2 1358.4,532.2 1359.5,537.3 1360.5,530.1 1361.6,534.9 1362.7,536.3 1363.7,528.6 1364.8,533.2 1365.8,533.2 1366.9,532.3 1367.9,538.4 1369.0,534.4 1370.1,528.4 1371.1,531.8 1372.2,530.5 1373.2,530.5 1374.3,532.8 1375.3,529.7 1376.4,531.2 1377.4,533.0 1378.5,535.6 1379.6,531.2 1380.6,534.6 1381.7,535.5 1382.7,530.8 1383.8,532.1 1384.8,531.0 1385.9,532.8 1386.9,534.6 1388.0,539.9 1389.1,533.5 1390.1,529.6 1391.2,530.7 1392.2,528.5 1393.3,537.8 1394.3,534.6 1395.4,532.9 1396.5,533.3 1397.5,534.1 1398.6,531.4 1399.6,534.8 1400.7,531.2 1401.7,534.2 1402.8,532.5 1403.8,532.9 1404.9,532.4 1406.0,533.6 1407.0,530.5 1408.1,532.4 1409.1,530.1 1410.2,530.2 1411.2,530.6 1412.3,533.7 1413.3,529.7 1414.4,532.0 1415.5,532.6 1416.5,533.5 1417.6,533.4 1418.6,529.5 1419.7,535.4 1420.7,529.3 1421.8,532.4 1422.9,530.0 1423.9,537.6 1425.0,527.7 1426.0,534.0 1427.1,533.3 1428.1,530.5 1429.2,532.3 1430.2,533.4 1431.3,532.4 1432.4,533.9 1433.4,534.3 1434.5,527.5 1435.5,530.4 1436.6,530.0 1437.6,530.9 1438.7,535.3 1439.7,530.5" stroke="#0000df"/>
<path d="M190.5,530.0 191.6,531.8 192.6,534.5 193.7,532.7 194.7,536.8 195.8,534.6 196.8,531.3 197.9,532.0 198.9,534.3 200.0,523.2 201.1,537.5 202.1,533.6 203.2,534.2 204.2,532.8 205.3,531.5 206.3,534.5 207.4,529.9 208.5,526.0 209.5,529.9 210.6,531.4 211.6,532.1 212.7,530.7 213.7,532.6 214.8,534.8 215.8,534.2 216.9,533.2 218.0,535.0 219.0,528.8 220.1,530.5 221.1,530.5" stroke="#0000ff"/>
<path d="M197.9,535.6 198.9,533.7 200.0,533.1 201.1,532.7 202.1,531.7 203.2,533.9 204.2,533.9 205.3,535.6 206.3,530.6 207.4,531.7 208.5,542.8 209.5,535.2 210.6,527.1 211.6,533.6 212.7,533.2 213.7,527.9 214.8,534.7 215.8,535.5 216.9,534.5 218.0,528.2 219.0,534.7 220.1,525.5 221.1,534.3 222.2,534.0 223.2,533.8 224.3,536.4 225.3,529.8 226.4,531.9 227.5,529.7 228.5,532.2 229.6,531.1 230.6,529.8 231.7,535.4 232.7,530.0 233.8,533.9 234.9,531.9 235.9,529.4 237.0,539.6 238.0,532.0 239.1,534.8 240.1,530.5 241.2,526.3 242.2,535.4 243.3,528.6 244.4,532.2 245.4,526.8 246.5,538.4 247.5,530.9 248.6,538.0 249.6,532.5 250.7,534.3 251.7,534.8 252.8,532.7 253.9,531.5 254.9,530.8 256.0,536.0 257.0,537.8 258.1,525.9 259.1,531.9 260.2,530.8 261.3,527.1 262.3,530.5 263.4,535.1 264.4,532.5 265.5,531.8 266.5,531.7 267.6,528.0 268.6,533.0 269.7,530.3 270.8,533.7 271.8,532.3 272.9,529.3 273.9,534.0 275.0,525.2 276.0,532.9 277.1,533.2 278.1,532.0 279.2,528.8 280.3,535.2 281.3,533.0 282.4,534.5 283.4,528.6 284.5,531.5 285.5,534.7 286.6,532.6 287.7,534.0 288.7,531.0 289.8,532.2 290.8,531.7 291.9,533.7 292.9,535.2 294.0,530.1 295.0,529.1 296.1,525.5 297.2,527.8 298.2,530.1 299.3,532.2 300.3,536.4 301.4,533.9 302.4,533.0 303.5,537.6 304.5,532.2 305.6,527.3 306.7,532.3 307.7,529.6 308.8,532.8 309.8,533.4 310.9,532.5 311.9,531.8 313.0,531.0 314.1,528.6 315.1,529.6 316.2,528.5 317.2,542.2 318.3,535.0 319.3,530.3 320.4,540.6 321.4,529.5 322.5,533.2 323.6,539.2 324.6,534.9 325.7,531.5 326.7,533.1 327.8,533.0 328.8,536.6 329.9,526.0 330.9,529.9 332.0,530.5 333.1,533.6 334.1,536.8 335.2,536.7 336.2,531.1 337.3,543.3 338.3,529.0 339.4,535.3 340.5,535.9 341.5,532.5 342.6,537.2 343.6,532.3 344.7,526.0 345.7,530.5 346.8,526.7 347.8,534.4 348.9,533.8 350.0,530.3 351.0,529.6 352.1,537.6 353.1,531.7 354.2,528.2 355.2,529.5 356.3,539.6 357.3,525.5 358.4,529.8 359.5,535.2 360.5,530.4 361.6,535.3 362.6,529.3 363.7,526.1 364.7,532.5 365.8,535.7 366.9,535.3 367.9,531.0 369.0,535.8 370.0,536.6 371.1,532.3 372.1,538.7 373.2,530.0 374.2,535.8 375.3,529.9 376.4,535.5 377.4,528.3 378.5,527.5 379.5,533.6 380.6,533.5 381.6,536.5 382.7,532.9 383.7,536.2 384.8,533.3 385.9,527.3 386.9,538.8 388.0,537.1 389.0,537.1 390.1,533.8 391.1,533.4 392.2,537.2 393.3,532.3 394.3,532.8 395.4,527.4 396.4,531.5 397.5,530.7 398.5,526.9 399.6,532.0 400.6,534.1 401.7,526.1 402.8,534.5 403.8,533.1 404.9,528.9 405.9,534.0 407.0,533.1 408.0,529.4 409.1,536.9 410.1,532.5 411.2,535.0 412.3,533.7 413.3,530.7 414.4,529.4 415.4,529.9 416.5,533.1 417.5,534.0 418.6,534.2 419.7,542.7 420.7,532.7 421.8,536.0 422.8,537.9 423.9,532.7 424.9,526.2 426.0,534.0 427.0,533.9 428.1,535.8 429.2,530.4 430.2,532.8 431.3,537.4 432.3,529.0 433.4,534.0 434.4,527.5 435.5,533.9 436.5,528.7 437.6,531.7 438.7,531.9 439.7,533.2 440.8,544.7 441.8,530.2 442.9,530.5 443.9,534.6 445.0,534.3 446.1,529.7 447.1,538.2 448.2,533.0 449.2,532.9 450.3,531.1 451.3,533.1 452.4,527.1 453.4,530.2 454.5,535.5 455.6,535.3 456.6,525.5 457.7,534.4 458.7,531.7 459.8,533.1 460.8,530.9 461.9,535.2 462.9,528.2 464.0,538.3 465.1,529.5 466.1,531.6 467.2,535.8 468.2,533.0 469.3,531.3 470.3,529.7 471.4,536.9 472.5,529.0 473.5,534.7 474.6,532.3 475.6,533.1 476.7,529.3 477.7,532.9 478.8,531.7 479.8,538.4 480.9,531.8 482.0,532.6 483.0,524.0 484.1,533.9 485.1,533.4 486.2,528.3 487.2,532.5 488.3,528.5 489.3,536.8 490.4,529.1 491.5,528.1 492.5,531.6 493.6,533.2 494.6,531.6 495.7,520.2 496.7,528.2 497.8,526.6 498.9,538.4 499.9,536.0 501.0,537.0 502.0,527.0 503.1,539.2 504.1,531.8" stroke="#0000ff"/>
<path d="M883.2,516.0 884.3,543.6 885.3,508.0 886.4,552.4 887.5,528.6 888.5,530.5 889.6,535.7 890.6,538.6 891.7,555.0 892.7,538.0 893.8,537.0 894.9,522.8 895.9,536.7 897.0,544.8 898.0,524.4 899.1,521.7 900.1,535.3 901.2,547.1 902.2,532.2 903.3,535.6 904.4,553.0 905.4,532.9 906.5,537.9 907.5,532.2 908.6,535.8 909.6,530.9 910.7,524.9 911.7,527.1 912.8,532.2 913.9,528.2 914.9,540.8 916.0,533.6 917.0,536.9 918.1,543.3 919.1,527.1 920.2,530.3 921.3,531.5 922.3,534.6 923.4,531.0 924.4,520.2 925.5,533.4 926.5,528.7 927.6,525.1 928.6,531.2 929.7,530.9 930.8,534.4 931.8,526.9 932.9,529.7 933.9,519.6 935.0,529.5 936.0,534.7 937.1,526.0 938.1,536.3 939.2,542.0 940.3,533.7 941.3,529.2 942.4,529.7 943.4,531.7 944.5,531.2 945.5,529.6 946.6,527.4 947.7,537.4 948.7,517.6 949.8,528.1 950.8,528.7 951.9,532.2 952.9,532.8 954.0,537.9 955.0,532.0 956.1,537.0 957.2,532.2 958.2,536.0 959.3,532.7 960.3,530.0 961.4,534.4 962.4,531.1 963.5,536.2 964.5,526.2 965.6,535.8 966.7,534.1 967.7,542.4 968.8,529.9 969.8,540.3 970.9,529.5 971.9,531.5 973.0,530.7 974.1,535.0 975.1,530.9 976.2,526.6 977.2,535.2 978.3,533.6 979.3,544.3 980.4,531.6 981.4,524.5 982.5,523.9 983.6,524.9 984.6,532.0 985.7,546.6 986.7,539.1 987.8,527.9 988.8,545.8 989.9,558.6 990.9,514.9 992.0,532.1 993.1,551.4 994.1,536.6 995.2,534.6 996.2,527.0 997.3,520.6 998.3,551.6 999.4,540.1 1000.5,530.3 1001.5,534.2 1002.6,510.8 1003.6,528.9 1004.7,529.8 1005.7,518.0 1006.8,523.9 1007.8,527.9 1008.9,528.0 1010.0,551.5 1011.0,523.1 1012.1,537.5 1013.1,532.8 1014.2,491.0 1015.2,534.5 1016.3,535.9 1017.3,543.1 1018.4,529.3 1019.5,534.6 1020.5,535.4 1021.6,506.8 1022.6,561.6 1023.7,515.8 1024.7,530.9 1025.8,536.4 1026.9,528.5 1027.9,519.9 1029.0,502.3 1030.0,557.7 1031.1,570.0 1032.1,458.0 1033.2,531.1 1034.2,486.0 1035.3,538.4 1036.4,571.0 1037.4,538.0 1038.5,511.9 1039.5,541.5 1040.6,527.3 1041.6,531.4 1042.7,530.3 1043.7,560.3 1044.8,572.4 1045.9,531.3 1046.9,524.9 1048.0,499.4 1049.0,537.4 1050.1,547.1 1051.1,549.7 1052.2,555.9 1053.3,554.1 1054.3,552.5 1055.4,505.4 1056.4,554.5 1057.5,565.0 1058.5,529.7 1059.6,550.0 1060.6,542.6 1061.7,544.7 1062.8,543.3 1063.8,518.8 1064.9,523.2 1065.9,539.0 1067.0,540.2 1068.0,556.4 1069.1,536.9 1070.1,505.3 1071.2,534.5 1072.3,535.5 1073.3,514.1 1074.4,533.8 1075.4,517.8 1076.5,508.8 1077.5,543.4 1078.6,554.3 1079.7,512.7 1080.7,550.5 1081.8,540.1 1082.8,555.1 1083.9,545.9 1084.9,544.3 1086.0,539.0 1087.0,541.2 1088.1,507.3 1089.2,536.6 1090.2,516.1 1091.3,528.0 1092.3,533.7" stroke="#0000ff"/>
<path d="M1094.4,526.2 1095.5,535.7 1096.5,576.0 1097.6,520.2 1098.7,541.7 1099.7,517.9 1100.8,540.8 1101.8,535.1 1102.9,548.8 1103.9,519.2 1105.0,520.1 1106.1,527.7 1107.1,533.9 1108.2,534.7 1109.2,543.9 1110.3,527.1 1111.3,532.9 1112.4,550.4 1113.4,529.2 1114.5,549.9 1115.6,531.2 1116.6,558.7 1117.7,514.2 1118.7,559.1 1119.8,525.7 1120.8,514.5 1121.9,526.5 1122.9,528.2 1124.0,540.6 1125.1,540.7 1126.1,541.1 1127.2,528.7 1128.2,523.3 1129.3,525.5 1130.3,530.4 1131.4,536.8 1132.5,526.4 1133.5,525.0 1134.6,537.0 1135.6,533.3 1136.7,527.0 1137.7,530.8 1138.8,529.9 1139.8,527.1 1140.9,536.1 1142.0,536.0 1143.0,530.9 1144.1,538.3 1145.1,536.0 1146.2,539.8 1147.2,531.9 1148.3,535.5 1149.3,529.8 1150.4,532.1 1151.5,528.4 1152.5,528.2 1153.6,523.9 1154.6,534.6 1155.7,517.4 1156.7,523.0 1157.8,533.2 1158.9,526.3 1159.9,531.3 1161.0,519.8 1162.0,541.9 1163.1,531.4 1164.1,526.8 1165.2,534.8 1166.2,530.3 1167.3,521.4 1168.4,531.9 1169.4,521.3 1170.5,527.2 1171.5,523.3 1172.6,530.0 1173.6,524.1 1174.7,537.5 1175.7,541.2 1176.8,536.5 1177.9,529.1 1178.9,569.0 1180.0,529.4 1181.0,556.0 1182.1,533.4 1183.1,526.3 1184.2,525.2 1185.3,516.3 1186.3,538.8 1187.4,521.7 1188.4,534.5 1189.5,522.8 1190.5,552.0 1191.6,500.9 1192.6,527.3 1193.7,525.2 1194.8,533.1 1195.8,523.9 1196.9,536.1 1197.9,525.1 1199.0,525.5 1200.0,534.5 1201.1,557.1 1202.1,532.1 1203.2,566.0 1204.3,531.8 1205.3,550.4 1206.4,524.0 1207.4,536.0 1208.5,521.4 1209.5,529.0 1210.6,565.2 1211.7,565.1 1212.7,539.2 1213.8,525.8 1214.8,499.7 1215.9,533.0 1216.9,535.5 1218.0,532.7 1219.0,545.5 1220.1,529.9 1221.2,544.1 1222.2,525.2 1223.3,528.1 1224.3,533.1 1225.4,535.8 1226.4,542.7 1227.5,529.1 1228.5,530.4 1229.6,518.4 1230.7,532.0 1231.7,519.3 1232.8,524.5 1233.8,542.7 1234.9,532.3 1235.9,544.0 1237.0,547.5 1238.1,542.6 1239.1,538.4 1240.2,533.6 1241.2,522.4 1242.3,545.5 1243.3,532.1 1244.4,527.3 1245.4,515.4 1246.5,533.3 1247.6,528.2 1248.6,537.3 1249.7,543.6 1250.7,516.7 1251.8,539.6 1252.8,533.8 1253.9,521.6 1254.9,520.9 1256.0,514.6 1257.1,523.7 1258.1,531.1 1259.2,543.4 1260.2,533.0 1261.3,531.7 1262.3,525.3 1263.4,524.2 1264.5,526.7 1265.5,535.0 1266.6,520.7 1267.6,532.4 1268.7,540.5 1269.7,532.1 1270.8,527.0 1271.8,534.4 1272.9,558.0 1274.0,552.0 1275.0,530.5 1276.1,531.0 1277.1,527.1 1278.2,534.3 1279.2,548.9 1280.3,515.6 1281.3,531.6 1282.4,533.9 1283.5,535.6 1284.5,524.5 1285.6,527.1 1286.6,527.3 1287.7,525.9 1288.7,549.5 1289.8,517.0 1290.9,529.0 1291.9,523.8 1293.0,529.6 1294.0,528.0 1295.1,526.8 1296.1,528.1 1297.2,528.1 1298.2,520.1 1299.3,526.4" stroke="#0020ff"/>
<path d="M566.4,534.7 567.5,533.8 568.5,521.3 569.6,526.3 570.7,534.5 571.7,535.4 572.8,527.3 573.8,532.0 574.9,533.1 575.9,535.2 577.0,531.7 578.1,534.8 579.1,528.7 580.2,536.2 581.2,534.2 582.3,536.5 583.3,524.4 584.4,536.4 585.4,535.1 586.5,530.8 587.6,539.3 588.6,538.3 589.7,534.7 590.7,522.8 591.8,537.8 592.8,534.6 593.9,530.4 594.9,523.0 596.0,517.5 597.1,537.4 598.1,530.7 599.2,526.2 600.2,525.9 601.3,527.4 602.3,533.5 603.4,534.6 604.5,538.7 605.5,525.1 606.6,531.3 607.6,527.3 608.7,528.3 609.7,527.4 610.8,539.7 611.8,531.3 612.9,529.9 614.0,529.2 615.0,535.4 616.1,534.9 617.1,536.4 618.2,528.2 619.2,538.1 620.3,537.6 621.3,527.7 622.4,553.0 623.5,528.2 624.5,529.9 625.6,539.0 626.6,532.5 627.7,530.8 628.7,535.9 629.8,527.3 630.9,533.1 631.9,538.5 633.0,529.2 634.0,533.6 635.1,530.6 636.1,535.1 637.2,534.1 638.2,531.9 639.3,525.9 640.4,532.7 641.4,535.0 642.5,533.3 643.5,531.5 644.6,534.5 645.6,532.6 646.7,530.1 647.7,534.4 648.8,533.5 649.9,533.5 650.9,528.0 652.0,539.5 653.0,533.7 654.1,535.6 655.1,534.9 656.2,540.1 657.3,536.3 658.3,527.0 659.4,530.9 660.4,534.8 661.5,536.8 662.5,535.2 663.6,533.2 664.6,529.8 665.7,532.8 666.8,530.7 667.8,539.2 668.9,540.2 669.9,534.3 671.0,536.0 672.0,531.2 673.1,528.8 674.1,534.0 675.2,530.2 676.3,535.9 677.3,525.8 678.4,533.9 679.4,532.2 680.5,530.9 681.5,529.2 682.6,529.8 683.7,530.5 684.7,536.3 685.8,530.4 686.8,532.9 687.9,534.5 688.9,530.1 690.0,529.2 691.0,527.3 692.1,529.7 693.2,532.3 694.2,534.5 695.3,529.4 696.3,534.4 697.4,529.1 698.4,533.8 699.5,535.5 700.5,532.3 701.6,536.3 702.7,530.0 703.7,529.3 704.8,529.8 705.8,533.9 706.9,528.0 707.9,533.5 709.0,536.6 710.1,534.4 711.1,535.9 712.2,535.6 713.2,529.6 714.3,529.7 715.3,532.2 716.4,531.1 717.4,534.9 718.5,529.3 719.6,535.3 720.6,527.9 721.7,532.5 722.7,532.1 723.8,533.2 724.8,532.3 725.9,532.7 726.9,530.3 728.0,538.6 729.1,531.3 730.1,532.2 731.2,528.4 732.2,524.6 733.3,532.4 734.3,529.2 735.4,528.5 736.5,531.6 737.5,539.9 738.6,537.5 739.6,533.5 740.7,526.0 741.7,529.9 742.8,529.9 743.8,527.7 744.9,526.8 746.0,539.2 747.0,541.5 748.1,535.8 749.1,532.9 750.2,530.6 751.2,529.5 752.3,552.3 753.3,528.8 754.4,533.0 755.5,527.0 756.5,528.3 757.6,527.8 758.6,531.8 759.7,527.2 760.7,533.1 761.8,531.2 762.9,540.1 763.9,534.7 765.0,539.8" stroke="#0060ff"/>
<path d="M1370.1,526.7 1371.1,531.4 1372.2,531.2 1373.2,534.1 1374.3,533.0 1375.3,533.6 1376.4,536.8 1377.4,530.2 1378.5,532.1 1379.6,533.3 1380.6,532.4 1381.7,532.8 1382.7,533.0 1383.8,529.6 1384.8,524.2 1385.9,533.1 1386.9,530.4 1388.0,535.9 1389.1,536.5 1390.1,534.9 1391.2,531.4 1392.2,532.3 1393.3,533.3 1394.3,528.8 1395.4,533.2 1396.5,533.4 1397.5,533.3 1398.6,532.3 1399.6,537.3 1400.7,536.1 1401.7,530.2 1402.8,531.1 1403.8,531.6 1404.9,530.1 1406.0,535.0 1407.0,533.8 1408.1,531.2 1409.1,529.8 1410.2,531.5 1411.2,532.4 1412.3,530.7 1413.3,532.1 1414.4,532.2 1415.5,531.7 1416.5,533.5 1417.6,534.5 1418.6,534.1 1419.7,531.5 1420.7,526.0 1421.8,534.3 1422.9,528.9 1423.9,531.4 1425.0,529.1 1426.0,531.3 1427.1,535.8 1428.1,529.0 1429.2,531.2 1430.2,535.8 1431.3,530.7 1432.4,531.9 1433.4,535.8 1434.5,533.7 1435.5,533.9 1436.6,532.1 1437.6,535.1 1438.7,532.6 1439.7,536.5 1440.8,533.3 1441.9,530.6 1442.9,532.7 1444.0,527.7 1445.0,532.5 1446.1,532.9 1447.1,530.1 1448.2,533.8 1449.3,535.0 1450.3,532.5 1451.4,535.6 1452.4,536.1 1453.5,530.2 1454.5,530.3 1455.6,527.0 1456.6,529.4 1457.7,531.5 1458.8,533.7 1459.8,535.4 1460.9,532.4 1461.9,532.4 1463.0,529.3 1464.0,534.9 1465.1,529.9 1466.1,525.9 1467.2,529.8 1468.3,530.1 1469.3,537.8 1470.4,532.1 1471.4,530.2 1472.5,528.4 1473.5,532.9 1474.6,534.3 1475.7,532.9 1476.7,535.4 1477.8,527.9 1478.8,529.7 1479.9,534.6 1480.9,532.0 1482.0,531.9 1483.0,534.6 1484.1,533.6 1485.2,532.3 1486.2,536.4 1487.3,531.4 1488.3,533.4 1489.4,534.2 1490.4,533.1 1491.5,533.4 1492.5,534.6 1493.6,534.6 1494.7,523.6 1495.7,531.5 1496.8,533.1 1497.8,528.5 1498.9,533.3 1499.9,532.2 1501.0,533.9 1502.1,532.1 1503.1,533.4 1504.2,524.5 1505.2,533.8 1506.3,536.5 1507.3,534.9 1508.4,534.1 1509.4,533.2 1510.5,533.8 1511.6,526.8 1512.6,525.9 1513.7,527.3 1514.7,538.6 1515.8,544.9 1516.8,522.5 1517.9,543.5 1518.9,540.5 1520.0,531.4 1521.1,533.9 1522.1,528.1 1523.2,549.6 1524.2,531.0 1525.3,525.6 1526.3,526.4 1527.4,531.3 1528.5,513.0 1529.5,526.9 1530.6,527.0 1531.6,540.1 1532.7,534.6 1533.7,541.1 1534.8,509.6 1535.8,541.9 1536.9,532.0 1538.0,546.2 1539.0,522.8 1540.1,535.4 1541.1,544.6 1542.2,548.7 1543.2,531.8 1544.3,540.6 1545.3,537.7 1546.4,528.1 1547.5,508.4 1548.5,531.2 1549.6,535.5 1550.6,532.8 1551.7,543.2 1552.7,532.9 1553.8,534.7 1554.9,540.7 1555.9,539.9 1557.0,538.4 1558.0,544.9 1559.1,532.1 1560.1,549.8 1561.2,530.0 1562.2,540.5 1563.3,535.0 1564.4,544.7 1565.4,532.4 1566.5,531.1 1567.5,531.3 1568.6,535.5 1569.6,510.2 1570.7,537.5 1571.7,530.4 1572.8,524.8 1573.9,533.1 1574.9,522.9 1576.0,540.0 1577.0,531.7 1578.1,536.3 1579.1,543.5 1580.2,527.7 1581.3,531.6 1582.3,542.8 1583.4,525.5 1584.4,535.9 1585.5,523.4 1586.5,529.1 1587.6,532.2 1588.6,542.1 1589.7,529.1 1590.8,531.5 1591.8,540.2 1592.9,540.5 1593.9,534.6 1595.0,524.8 1596.0,529.1 1597.1,540.4 1598.1,537.8 1599.2,534.8 1600.3,541.3 1601.3,533.7 1602.4,530.3 1603.4,536.3 1604.5,531.4 1605.5,526.3 1606.6,526.9 1607.7,526.4 1608.7,531.3 1609.8,536.9 1610.8,538.9 1611.9,528.5 1612.9,532.4 1614.0,530.8 1615.0,538.9 1616.1,537.5 1617.2,536.5 1618.2,534.8 1619.3,529.9 1620.3,526.2 1621.4,530.6 1622.4,527.9 1623.5,519.7 1624.5,536.6 1625.6,533.3 1626.7,529.6 1627.7,530.8 1628.8,538.0 1629.8,531.8 1630.9,529.5 1631.9,531.4 1633.0,531.4 1634.1,526.3 1635.1,530.2 1636.2,534.1 1637.2,530.8 1638.3,532.6 1639.3,533.7 1640.4,535.5 1641.4,530.0 1642.5,533.4 1643.6,531.3 1644.6,534.7 1645.7,531.7 1646.7,533.7 1647.8,533.3 1648.8,531.3 1649.9,528.5 1650.9,532.7 1652.0,533.2 1653.1,529.8 1654.1,533.0 1655.2,532.9 1656.2,531.3 1657.3,532.3 1658.3,532.2 1659.4,531.7 1660.5,533.3 1661.5,531.9 1662.6,530.9 1663.6,532.3 1664.7,533.7 1665.7,533.1 1666.8,532.9 1667.8,532.9" stroke="#0060ff"/>
<path d="M446.1,528.0 447.1,531.9 448.2,532.4 449.2,533.7 450.3,533.5 451.3,532.7 452.4,533.7 453.4,539.3 454.5,531.9 455.6,532.9 456.6,532.1 457.7,539.4 458.7,530.9 459.8,531.7 460.8,525.2 461.9,532.9 462.9,527.0 464.0,526.0 465.1,525.4 466.1,526.5 467.2,534.6 468.2,537.4 469.3,530.4 470.3,532.8 471.4,532.2 472.5,532.8 473.5,532.1 474.6,533.5 475.6,537.1 476.7,533.9 477.7,531.6 478.8,533.9 479.8,527.3 480.9,527.2 482.0,531.5 483.0,529.7 484.1,526.6 485.1,537.7 486.2,533.5 487.2,535.9 488.3,527.9 489.3,529.9 490.4,528.5 491.5,533.9 492.5,538.9 493.6,531.2 494.6,528.3 495.7,530.3 496.7,533.8 497.8,533.3 498.9,531.4 499.9,531.1 501.0,523.9 502.0,531.4 503.1,533.2 504.1,532.8 505.2,531.6 506.2,533.2 507.3,531.8 508.4,527.1 509.4,537.1 510.5,532.3 511.5,529.0 512.6,536.3 513.6,534.3 514.7,527.1 515.7,530.5 516.8,535.2 517.9,527.4 518.9,531.2 520.0,541.8 521.0,538.6 522.1,531.1 523.1,521.6 524.2,532.4 525.3,529.8 526.3,526.0 527.4,525.4 528.4,536.1 529.5,529.5 530.5,535.8 531.6,517.5 532.6,537.5 533.7,529.1 534.8,554.0 535.8,526.5 536.9,536.9 537.9,528.5 539.0,531.7 540.0,525.5 541.1,531.8 542.1,523.6 543.2,524.2 544.3,532.5 545.3,541.7 546.4,543.7 547.4,530.0 548.5,516.0 549.5,539.9 550.6,527.8 551.7,529.7 552.7,534.0 553.8,532.2 554.8,523.4 555.9,527.9 556.9,526.1 558.0,556.0 559.0,530.6 560.1,548.5 561.2,517.3 562.2,528.8 563.3,526.0 564.3,527.1 565.4,520.1 566.4,537.1 567.5,535.1 568.5,524.7 569.6,542.6 570.7,526.0 571.7,529.9 572.8,527.4 573.8,530.1 574.9,526.2 575.9,537.4 577.0,528.6 578.1,531.3 579.1,530.5 580.2,530.7 581.2,530.1 582.3,531.3 583.3,538.7 584.4,527.5 585.4,525.9 586.5,530.6 587.6,529.8 588.6,533.8 589.7,531.3 590.7,537.0 591.8,537.3 592.8,527.9 593.9,528.8 594.9,526.5 596.0,527.1 597.1,534.9 598.1,527.9 599.2,536.9 600.2,535.0 601.3,536.1 602.3,531.6 603.4,535.1 604.5,532.0 605.5,529.8 606.6,535.6 607.6,527.0 608.7,534.6 609.7,544.3 610.8,536.7 611.8,527.6 612.9,542.0 614.0,535.6 615.0,533.1 616.1,535.7 617.1,533.3 618.2,529.8 619.2,534.9 620.3,534.6 621.3,537.1 622.4,532.2 623.5,527.9 624.5,535.1 625.6,534.9 626.6,534.5 627.7,540.3 628.7,530.8 629.8,531.1 630.9,526.2 631.9,530.8 633.0,535.8 634.0,535.4 635.1,536.8 636.1,529.0 637.2,527.9 638.2,536.4 639.3,536.6 640.4,527.5 641.4,530.7 642.5,532.3 643.5,534.6 644.6,528.8 645.6,529.5 646.7,532.5 647.7,529.0 648.8,531.4 649.9,532.1 650.9,534.7 652.0,529.0 653.0,534.3 654.1,532.3 655.1,538.3 656.2,531.9 657.3,531.9 658.3,525.7 659.4,543.2 660.4,534.2 661.5,533.8 662.5,528.9 663.6,537.1 664.6,529.5 665.7,531.1 666.8,535.6 667.8,530.4 668.9,533.3 669.9,539.4 671.0,531.5 672.0,534.3 673.1,531.7 674.1,531.5 675.2,532.9 676.3,532.7 677.3,530.0 678.4,531.7 679.4,534.9 680.5,531.0 681.5,535.2 682.6,530.1 683.7,530.7 684.7,538.0 685.8,530.3 686.8,532.2 687.9,534.5 688.9,531.2 690.0,534.5 691.0,530.8 692.1,535.0 693.2,531.6 694.2,530.9 695.3,532.9 696.3,536.3 697.4,533.4 698.4,536.2 699.5,535.0 700.5,530.9 701.6,532.0 702.7,533.7 703.7,532.2 704.8,531.9" stroke="#0080ff"/>
<path d="M1250.7,529.1 1251.8,528.7 1252.8,532.3 1253.9,534.6 1254.9,529.5 1256.0,536.3 1257.1,528.6 1258.1,528.4 1259.2,535.1 1260.2,524.4 1261.3,530.9 1262.3,530.5 1263.4,525.7 1264.5,530.9 1265.5,523.8 1266.6,532.6 1267.6,530.2 1268.7,540.1 1269.7,538.6 1270.8,534.4 1271.8,549.0 1272.9,529.5 1274.0,531.9 1275.0,543.1 1276.1,532.9 1277.1,545.3 1278.2,527.5 1279.2,531.9 1280.3,539.5 1281.3,535.2 1282.4,534.8 1283.5,525.0 1284.5,539.8 1285.6,530.1 1286.6,529.3 1287.7,536.2 1288.7,525.7 1289.8,530.6 1290.9,533.2 1291.9,531.5 1293.0,531.6 1294.0,531.7 1295.1,530.8 1296.1,530.1 1297.2,532.9 1298.2,528.1 1299.3,529.3 1300.4,530.0 1301.4,531.7 1302.5,533.0 1303.5,530.0 1304.6,537.0 1305.6,533.0 1306.7,522.7 1307.7,536.7 1308.8,537.0 1309.9,535.5 1310.9,528.0 1312.0,530.8 1313.0,530.6 1314.1,528.6 1315.1,532.8 1316.2,530.1 1317.3,527.6 1318.3,535.5 1319.4,534.9 1320.4,531.0 1321.5,530.2 1322.5,535.7 1323.6,533.6 1324.6,532.5 1325.7,531.8 1326.8,526.9 1327.8,530.3 1328.9,528.5 1329.9,531.6 1331.0,530.0 1332.0,534.5 1333.1,534.3 1334.1,524.5 1335.2,533.5 1336.3,531.2 1337.3,534.2 1338.4,532.2 1339.4,533.8 1340.5,536.0 1341.5,532.4 1342.6,533.6 1343.7,531.8 1344.7,535.2 1345.8,532.8 1346.8,530.0 1347.9,531.4 1348.9,530.1 1350.0,530.7 1351.0,529.8 1352.1,535.8 1353.2,534.8 1354.2,537.3 1355.3,552.0 1356.3,613.0 1357.4,536.7 1358.4,531.2 1359.5,533.8 1360.5,532.0 1361.6,535.7 1362.7,533.3 1363.7,533.9 1364.8,539.2 1365.8,532.1 1366.9,534.4 1367.9,533.7 1369.0,532.0 1370.1,531.8 1371.1,535.6 1372.2,531.3 1373.2,532.2 1374.3,527.3 1375.3,533.7 1376.4,534.2 1377.4,532.4 1378.5,533.0 1379.6,528.9 1380.6,529.8 1381.7,537.3 1382.7,527.6 1383.8,531.2 1384.8,527.2 1385.9,534.5 1386.9,529.8 1388.0,531.4 1389.1,534.0 1390.1,535.8 1391.2,536.3 1392.2,535.9 1393.3,531.6 1394.3,532.1 1395.4,534.4 1396.5,533.7 1397.5,533.6 1398.6,533.0 1399.6,532.8 1400.7,535.0 1401.7,534.2 1402.8,536.0 1403.8,536.7 1404.9,531.4 1406.0,531.7 1407.0,530.4 1408.1,535.7 1409.1,529.3 1410.2,535.2 1411.2,533.3 1412.3,532.9 1413.3,535.8 1414.4,530.7 1415.5,532.5 1416.5,533.5 1417.6,533.6 1418.6,533.8 1419.7,530.7 1420.7,535.1 1421.8,535.1 1422.9,535.3 1423.9,531.1 1425.0,529.7 1426.0,532.5 1427.1,537.6 1428.1,528.3 1429.2,530.7 1430.2,528.5 1431.3,535.7 1432.4,530.3 1433.4,533.8 1434.5,534.0 1435.5,533.4 1436.6,530.8 1437.6,529.1 1438.7,531.1 1439.7,531.8 1440.8,531.2 1441.9,534.0 1442.9,534.6 1444.0,533.6 1445.0,534.6 1446.1,531.9 1447.1,532.5 1448.2,531.4 1449.3,531.5 1450.3,532.3 1451.4,528.9 1452.4,532.0 1453.5,535.6 1454.5,534.5 1455.6,535.4 1456.6,533.6 1457.7,533.5 1458.8,532.0 1459.8,532.4 1460.9,534.5 1461.9,537.2 1463.0,531.0 1464.0,531.8 1465.1,538.8 1466.1,535.6 1467.2,536.5 1468.3,525.7 1469.3,534.8 1470.4,528.2 1471.4,533.0 1472.5,530.1 1473.5,531.7 1474.6,534.0 1475.7,538.7 1476.7,534.3 1477.8,529.2 1478.8,537.0 1479.9,532.7 1480.9,529.3 1482.0,533.6 1483.0,529.2 1484.1,528.5 1485.2,533.4 1486.2,531.2 1487.3,531.1 1488.3,530.1 1489.4,529.4 1490.4,534.3 1491.5,530.4 1492.5,532.5 1493.6,533.3 1494.7,529.3 1495.7,528.8 1496.8,531.2 1497.8,533.2 1498.9,532.0 1499.9,531.4 1501.0,530.9 1502.1,532.3 1503.1,539.4 1504.2,530.8 1505.2,530.0 1506.3,532.1 1507.3,530.7 1508.4,527.6 1509.4,537.2 1510.5,532.3 1511.6,538.6 1512.6,530.1 1513.7,531.6 1514.7,532.9 1515.8,535.8 1516.8,536.3 1517.9,538.3 1518.9,558.9 1520.0,526.9 1521.1,530.2 1522.1,549.5 1523.2,532.2 1524.2,529.6 1525.3,541.4 1526.3,517.6 1527.4,541.5 1528.5,528.8 1529.5,544.2 1530.6,527.0 1531.6,530.7 1532.7,545.0 1533.7,533.9 1534.8,452.3 1535.8,480.0 1536.9,517.4 1538.0,593.0 1539.0,542.7 1540.1,570.0 1541.1,548.8 1542.2,564.2 1543.2,542.9 1544.3,525.3 1545.3,489.6 1546.4,527.1 1547.5,548.4 1548.5,554.1 1549.6,508.3 1550.6,502.2 1551.7,531.1" stroke="#0080ff"/>
<path d="M190.5,533.8 191.6,538.6 192.6,534.2 193.7,532.7 194.7,533.4 195.8,530.3 196.8,535.5 197.9,535.6 198.9,532.1 200.0,527.1 201.1,533.8 202.1,534.1 203.2,540.8 204.2,534.6 205.3,533.6 206.3,533.0 207.4,539.4 208.5,537.1 209.5,534.9 210.6,528.0 211.6,538.1 212.7,531.8 213.7,537.5 214.8,539.0 215.8,540.1 216.9,531.9 218.0,530.7 219.0,533.9 220.1,539.7 221.1,528.0 222.2,532.6 223.2,536.3 224.3,530.2 225.3,532.6 226.4,529.5 227.5,527.7 228.5,536.0 229.6,529.0 230.6,535.4 231.7,523.8 232.7,539.7 233.8,537.5 234.9,540.5 235.9,535.1 237.0,534.4 238.0,533.3 239.1,531.5 240.1,526.8 241.2,534.2 242.2,540.7 243.3,541.7 244.4,534.5 245.4,535.3 246.5,529.0 247.5,531.5 248.6,541.8 249.6,536.8 250.7,549.3 251.7,542.3 252.8,536.2 253.9,533.5 254.9,530.8 256.0,519.7 257.0,531.5 258.1,536.1 259.1,536.7 260.2,535.9 261.3,525.2 262.3,522.9 263.4,528.3 264.4,529.0 265.5,531.8 266.5,536.5 267.6,537.2 268.6,530.0 269.7,532.1 270.8,536.9 271.8,531.5 272.9,532.4 273.9,526.8 275.0,533.3 276.0,536.5 277.1,529.3 278.1,539.9 279.2,535.6 280.3,532.2 281.3,521.8 282.4,530.6 283.4,526.9 284.5,521.4 285.5,534.4 286.6,527.7 287.7,531.3 288.7,528.9 289.8,535.1 290.8,529.2 291.9,526.9 292.9,537.8 294.0,532.7 295.0,533.8 296.1,529.4 297.2,526.2 298.2,526.5 299.3,533.7 300.3,538.2 301.4,549.3 302.4,524.6 303.5,538.0 304.5,532.4 305.6,532.2 306.7,533.3 307.7,520.3 308.8,536.6 309.8,522.6 310.9,524.2 311.9,534.9 313.0,537.6 314.1,529.3 315.1,531.7 316.2,530.7 317.2,537.5 318.3,533.5 319.3,540.1 320.4,529.3 321.4,537.1 322.5,529.2 323.6,531.4 324.6,526.5 325.7,533.2 326.7,543.4 327.8,526.6 328.8,534.8 329.9,532.9 330.9,534.5 332.0,535.4 333.1,526.2 334.1,532.4 335.2,537.6 336.2,535.3 337.3,536.1 338.3,532.0 339.4,529.9 340.5,528.3 341.5,534.2 342.6,531.7 343.6,537.8 344.7,525.6 345.7,534.1 346.8,541.5 347.8,540.5 348.9,531.6 350.0,532.2 351.0,555.0 352.1,526.8 353.1,535.4 354.2,545.8 355.2,539.0 356.3,524.6 357.3,530.0 358.4,519.1 359.5,536.4 360.5,537.5 361.6,540.7 362.6,543.1 363.7,533.9 364.7,539.5 365.8,526.4 366.9,531.5 367.9,524.9 369.0,514.0 370.0,534.1 371.1,534.7" stroke="#009fff"/>
<path d="M970.9,531.1 971.9,545.3 973.0,521.9 974.1,525.7 975.1,533.6 976.2,535.5 977.2,521.5 978.3,527.4 979.3,510.7 980.4,532.5 981.4,532.9 982.5,526.2 983.6,532.2 984.6,497.9 985.7,546.4 986.7,531.6 987.8,542.3 988.8,541.8 989.9,594.0 990.9,535.3 992.0,546.0 993.1,461.0 994.1,611.0 995.2,599.1 996.2,528.0 997.3,524.5 998.3,521.8 999.4,492.0 1000.5,514.2 1001.5,527.0 1002.6,542.4 1003.6,516.9 1004.7,520.4 1005.7,530.3 1006.8,526.7 1007.8,546.3 1008.9,504.6 1010.0,548.0 1011.0,561.6 1012.1,582.4 1013.1,489.9 1014.2,522.4 1015.2,583.9 1016.3,535.0 1017.3,529.1 1018.4,578.0 1019.5,550.0 1020.5,545.6 1021.6,539.1 1022.6,542.6 1023.7,479.4 1024.7,511.4 1025.8,564.7 1026.9,590.0 1027.9,527.9 1029.0,529.8 1030.0,555.1 1031.1,546.8 1032.1,533.4 1033.2,528.1 1034.2,515.1 1035.3,522.8 1036.4,494.3 1037.4,526.3 1038.5,530.2 1039.5,558.3 1040.6,538.9 1041.6,517.3 1042.7,541.1 1043.7,534.6 1044.8,516.6 1045.9,545.3 1046.9,523.0 1048.0,523.3 1049.0,529.5 1050.1,535.5 1051.1,532.2 1052.2,540.2 1053.3,515.3 1054.3,523.0 1055.4,514.7 1056.4,530.1 1057.5,530.9 1058.5,538.0 1059.6,542.0 1060.6,541.1 1061.7,513.2 1062.8,535.7 1063.8,526.0 1064.9,552.6 1065.9,520.8 1067.0,534.8 1068.0,526.3 1069.1,537.7 1070.1,523.1 1071.2,547.4 1072.3,532.1 1073.3,538.0 1074.4,545.7 1075.4,532.0 1076.5,518.8 1077.5,531.0 1078.6,533.4 1079.7,551.9 1080.7,516.3 1081.8,538.5 1082.8,525.4 1083.9,537.8 1084.9,534.0 1086.0,520.8 1087.0,533.1 1088.1,537.0 1089.2,535.5 1090.2,540.8 1091.3,539.5 1092.3,551.0 1093.4,525.0 1094.4,525.2 1095.5,523.6 1096.5,530.7 1097.6,530.8 1098.7,522.1 1099.7,533.3 1100.8,533.5 1101.8,527.7 1102.9,524.6 1103.9,532.8 1105.0,533.2 1106.1,524.0 1107.1,533.4 1108.2,529.8 1109.2,535.7 1110.3,511.2 1111.3,543.6 1112.4,520.6 1113.4,528.1 1114.5,536.4 1115.6,537.1 1116.6,529.2 1117.7,539.7 1118.7,531.9 1119.8,542.7 1120.8,534.2 1121.9,531.2 1122.9,531.3 1124.0,529.9 1125.1,535.5 1126.1,532.3 1127.2,538.0 1128.2,534.0 1129.3,528.4 1130.3,528.2 1131.4,532.0 1132.5,534.4 1133.5,533.6 1134.6,532.9 1135.6,532.3 1136.7,529.9 1137.7,529.5 1138.8,538.5 1139.8,538.9 1140.9,532.2 1142.0,532.9 1143.0,534.5 1144.1,532.1 1145.1,535.4 1146.2,533.1 1147.2,532.2 1148.3,529.3 1149.3,531.7 1150.4,534.2 1151.5,531.7 1152.5,533.1 1153.6,531.8 1154.6,533.3 1155.7,535.2 1156.7,534.0 1157.8,509.6 1158.9,533.5 1159.9,532.6 1161.0,529.6 1162.0,529.3 1163.1,532.8 1164.1,526.1 1165.2,531.7 1166.2,533.5 1167.3,528.3 1168.4,532.4 1169.4,535.1 1170.5,532.0 1171.5,528.0 1172.6,538.1 1173.6,530.6 1174.7,526.8 1175.7,529.4 1176.8,531.5 1177.9,539.8 1178.9,535.2 1180.0,539.9 1181.0,534.5 1182.1,537.4" stroke="#009fff"/>
<path d="M668.9,531.5 669.9,530.2 671.0,529.9 672.0,532.2 673.1,534.1 674.1,532.2 675.2,534.3 676.3,532.9 677.3,531.6 678.4,535.4 679.4,533.5 680.5,531.0 681.5,531.4 682.6,534.9 683.7,531.7 684.7,533.8 685.8,532.1 686.8,532.2 687.9,534.4 688.9,530.5 690.0,534.1 691.0,534.2 692.1,532.7 693.2,531.5 694.2,530.1 695.3,530.6 696.3,533.2 697.4,531.9 698.4,533.1 699.5,532.6 700.5,533.5 701.6,531.3 702.7,531.7 703.7,533.2 704.8,530.8 705.8,532.9 706.9,535.6 707.9,532.6 709.0,534.1 710.1,531.2 711.1,532.9 712.2,534.3 713.2,532.8 714.3,534.7 715.3,531.5 716.4,537.5 717.4,535.1 718.5,534.1 719.6,532.7 720.6,533.7 721.7,534.0 722.7,532.1 723.8,532.8 724.8,535.2 725.9,535.2 726.9,533.2 728.0,531.8 729.1,532.1 730.1,529.7 731.2,532.8 732.2,530.1 733.3,529.9 734.3,532.4 735.4,534.3 736.5,534.1 737.5,533.4 738.6,535.9 739.6,529.1 740.7,532.8 741.7,532.4 742.8,531.5 743.8,535.2 744.9,528.6 746.0,530.8 747.0,528.4 748.1,532.1 749.1,537.1 750.2,531.6 751.2,531.9 752.3,531.7 753.3,530.7 754.4,534.0 755.5,534.4 756.5,534.3 757.6,534.5 758.6,529.6 759.7,527.3 760.7,534.8 761.8,536.2 762.9,530.9 763.9,534.2 765.0,533.6 766.0,529.5 767.1,538.9 768.1,534.0 769.2,525.6 770.2,533.2 771.3,535.3 772.4,528.5 773.4,531.5 774.5,527.4 775.5,534.7 776.6,529.9 777.6,535.8 778.7,535.0 779.7,531.5 780.8,529.0 781.9,532.7 782.9,534.6 784.0,529.4 785.0,535.2 786.1,536.7 787.1,531.1 788.2,537.6 789.3,534.5 790.3,525.7 791.4,531.8 792.4,538.4 793.5,531.2 794.5,533.6 795.6,524.9 796.6,531.6 797.7,536.0 798.8,534.0 799.8,534.6 800.9,542.9 801.9,527.2 803.0,538.7 804.0,527.4 805.1,530.2 806.1,532.3 807.2,534.8 808.3,526.2 809.3,509.6 810.4,530.1 811.4,528.1 812.5,532.7 813.5,528.0 814.6,533.9 815.7,536.4 816.7,526.9 817.8,528.9 818.8,534.5 819.9,528.4 820.9,530.8 822.0,531.1 823.0,529.8 824.1,525.7 825.2,531.5 826.2,533.8 827.3,534.3 828.3,529.6 829.4,527.2 830.4,537.0 831.5,535.0 832.5,535.1 833.6,541.3 834.7,531.5 835.7,533.1 836.8,531.3 837.8,520.9 838.9,535.7 839.9,533.2 841.0,531.4 842.1,533.4 843.1,535.0 844.2,535.6 845.2,532.0 846.3,535.7 847.3,535.4 848.4,534.6 849.4,536.9 850.5,535.5 851.6,535.0 852.6,545.6 853.7,530.4 854.7,523.6 855.8,529.4 856.8,536.4 857.9,531.4 858.9,527.3 860.0,547.2 861.1,536.7 862.1,535.4 863.2,537.5 864.2,531.5 865.3,529.4 866.3,539.9 867.4,530.5 868.5,536.8 869.5,525.9 870.6,533.7 871.6,533.1 872.7,535.2 873.7,535.8 874.8,531.0 875.8,532.1 876.9,534.6 878.0,524.9 879.0,543.0 880.1,527.6 881.1,532.7 882.2,523.5 883.2,532.2 884.3,528.8 885.3,528.9 886.4,537.7 887.5,536.0 888.5,533.7 889.6,533.1 890.6,530.7 891.7,521.1 892.7,533.4 893.8,522.1 894.9,527.2 895.9,529.5 897.0,543.5 898.0,552.0 899.1,529.7 900.1,537.0 901.2,537.9 902.2,533.1 903.3,528.0 904.4,540.3 905.4,535.7 906.5,530.5 907.5,537.0 908.6,540.6 909.6,535.1 910.7,531.0 911.7,521.6 912.8,530.8 913.9,524.1 914.9,533.2 916.0,532.7 917.0,528.9 918.1,532.4 919.1,525.4" stroke="#00dfff"/>
<path d="M1590.8,542.6 1591.8,530.7 1592.9,529.2 1593.9,540.2 1595.0,541.8 1596.0,531.5 1597.1,533.4 1598.1,533.8 1599.2,534.3 1600.3,529.3 1601.3,528.2 1602.4,551.9 1603.4,534.1 1604.5,524.0 1605.5,527.2 1606.6,539.8 1607.7,529.2 1608.7,532.9 1609.8,533.1 1610.8,534.9 1611.9,534.7 1612.9,535.1 1614.0,532.0 1615.0,534.1 1616.1,529.6 1617.2,533.1 1618.2,531.9 1619.3,530.3 1620.3,534.2 1621.4,531.0 1622.4,535.4 1623.5,527.6 1624.5,528.9 1625.6,527.4 1626.7,536.5 1627.7,526.4 1628.8,535.5 1629.8,544.5 1630.9,525.8 1631.9,535.7 1633.0,535.4 1634.1,535.7 1635.1,534.4 1636.2,532.5 1637.2,538.4 1638.3,529.9 1639.3,528.8 1640.4,531.4 1641.4,535.3 1642.5,523.3 1643.6,533.7 1644.6,536.1 1645.7,532.6 1646.7,529.7 1647.8,531.4 1648.8,532.9 1649.9,536.7 1650.9,536.3 1652.0,530.4 1653.1,532.1 1654.1,536.0 1655.2,530.9 1656.2,542.9 1657.3,529.6 1658.3,533.2 1659.4,528.0 1660.5,534.3 1661.5,539.0 1662.6,530.7 1663.6,532.1 1664.7,532.7 1665.7,532.8 1666.8,533.1 1667.8,532.1 1668.9,537.1 1670.0,529.8 1671.0,530.9 1672.1,528.7 1673.1,532.8 1674.2,533.5 1675.2,536.3 1676.3,543.2 1677.3,529.8 1678.4,529.0 1679.5,536.4 1680.5,530.2 1681.6,532.0 1682.6,535.7 1683.7,529.9 1684.7,534.7 1685.8,528.4 1686.9,529.9 1687.9,529.3 1689.0,529.7 1690.0,537.3 1691.1,530.6 1692.1,529.1 1693.2,531.1 1694.2,530.9 1695.3,534.3 1696.4,535.6 1697.4,534.9 1698.5,531.4 1699.5,525.5 1700.6,528.7 1701.6,526.6 1702.7,534.4 1703.7,532.8 1704.8,532.7 1705.9,532.7 1706.9,530.7 1708.0,536.1 1709.0,521.8 1710.1,526.9" stroke="#00dfff"/>
<path d="M570.7,531.3 571.7,527.5 572.8,534.5 573.8,532.8 574.9,529.4 575.9,530.6 577.0,535.4 578.1,532.0 579.1,532.4 580.2,537.7 581.2,535.3 582.3,531.1 583.3,529.8 584.4,535.3 585.4,534.7 586.5,531.8 587.6,535.8 588.6,530.9 589.7,535.8 590.7,533.0 591.8,533.5 592.8,528.4 593.9,534.9 594.9,536.1 596.0,528.9 597.1,531.4 598.1,536.3 599.2,531.4 600.2,533.5 601.3,534.1 602.3,533.2 603.4,530.9 604.5,531.7 605.5,536.2 606.6,528.8 607.6,535.0 608.7,533.0 609.7,533.1 610.8,533.4 611.8,535.9 612.9,532.0 614.0,528.4 615.0,532.2 616.1,527.6 617.1,528.5 618.2,529.5 619.2,531.4 620.3,532.6 621.3,531.4 622.4,530.3 623.5,532.5 624.5,529.7 625.6,531.5 626.6,532.9 627.7,531.7 628.7,537.7 629.8,536.2 630.9,534.9 631.9,531.7 633.0,534.3 634.0,535.3 635.1,533.8 636.1,528.3 637.2,529.9 638.2,535.1 639.3,529.9 640.4,534.0 641.4,534.1 642.5,535.1 643.5,534.6 644.6,530.2 645.6,529.4 646.7,529.5 647.7,531.1 648.8,533.4 649.9,534.8 650.9,534.5 652.0,532.5 653.0,532.9 654.1,536.1 655.1,533.5 656.2,534.3 657.3,532.9 658.3,532.9 659.4,531.1 660.4,530.8 661.5,530.2 662.5,533.3 663.6,535.8 664.6,534.3 665.7,533.7 666.8,529.1 667.8,533.4 668.9,531.1 669.9,532.4 671.0,532.6 672.0,533.8 673.1,530.3 674.1,532.9 675.2,532.3 676.3,532.4 677.3,530.6 678.4,530.3 679.4,530.8 680.5,531.5 681.5,532.4 682.6,533.9 683.7,533.6 684.7,533.5 685.8,533.8 686.8,531.8 687.9,533.4 688.9,533.6 690.0,533.5 691.0,535.5 692.1,532.8 693.2,534.4 694.2,531.8 695.3,532.5 696.3,532.0 697.4,533.1 698.4,533.7 699.5,531.4 700.5,531.8 701.6,532.7 702.7,534.1 703.7,532.4 704.8,532.4 705.8,531.4 706.9,534.3 707.9,532.5 709.0,531.2 710.1,532.2 711.1,533.4 712.2,531.1 713.2,531.0 714.3,532.4 715.3,532.7 716.4,529.8 717.4,532.5 718.5,533.2 719.6,533.6 720.6,531.3 721.7,535.3 722.7,532.6 723.8,534.0 724.8,532.2 725.9,534.2 726.9,532.8 728.0,534.1 729.1,533.0 730.1,531.2 731.2,531.9 732.2,532.2 733.3,531.4 734.3,528.3 735.4,532.3 736.5,532.6 737.5,534.1 738.6,535.0 739.6,533.6 740.7,531.9 741.7,532.7 742.8,530.2 743.8,534.7 744.9,535.9 746.0,530.8 747.0,532.7 748.1,532.0 749.1,529.8 750.2,531.0 751.2,534.2 752.3,532.5 753.3,535.3 754.4,533.6 755.5,530.6 756.5,535.5 757.6,531.5 758.6,533.1 759.7,534.0 760.7,529.9 761.8,537.0 762.9,531.2 763.9,533.6 765.0,532.8 766.0,533.8 767.1,534.5 768.1,530.9 769.2,529.4 770.2,532.7 771.3,528.0 772.4,532.1 773.4,530.4 774.5,533.3 775.5,530.7 776.6,533.0 777.6,528.9 778.7,528.4 779.7,532.8 780.8,533.5 781.9,531.2 782.9,534.5 784.0,537.4 785.0,538.2 786.1,530.2 787.1,534.0 788.2,535.1 789.3,531.0" stroke="#00ffff"/>
<path d="M1470.4,531.0 1471.4,530.1 1472.5,532.9 1473.5,534.2 1474.6,532.9 1475.7,533.9 1476.7,532.1 1477.8,530.8 1478.8,533.9 1479.9,530.1 1480.9,533.4 1482.0,532.0 1483.0,532.9 1484.1,535.4 1485.2,530.0 1486.2,534.9 1487.3,534.5 1488.3,532.7 1489.4,533.8 1490.4,531.7 1491.5,532.3 1492.5,530.8 1493.6,532.4 1494.7,533.3 1495.7,533.0 1496.8,531.1 1497.8,533.1 1498.9,531.9 1499.9,533.9 1501.0,534.6 1502.1,533.5 1503.1,533.1 1504.2,532.8 1505.2,533.8 1506.3,527.2 1507.3,532.4 1508.4,532.6 1509.4,531.2 1510.5,532.9 1511.6,532.1 1512.6,531.4 1513.7,530.7 1514.7,532.5 1515.8,531.3 1516.8,528.2 1517.9,535.7 1518.9,538.6 1520.0,546.6 1521.1,536.7 1522.1,535.7 1523.2,537.6 1524.2,538.1 1525.3,528.3 1526.3,509.5 1527.4,528.8 1528.5,539.7 1529.5,538.9 1530.6,523.4 1531.6,540.4 1532.7,524.2 1533.7,518.7 1534.8,541.6 1535.8,529.7 1536.9,542.1 1538.0,524.7 1539.0,528.8 1540.1,533.3 1541.1,535.7 1542.2,528.5 1543.2,533.5 1544.3,536.7 1545.3,527.7 1546.4,533.6 1547.5,533.2 1548.5,538.4 1549.6,523.4 1550.6,532.9 1551.7,540.3 1552.7,530.4 1553.8,532.9 1554.9,534.1 1555.9,539.8 1557.0,538.4 1558.0,532.7 1559.1,534.2 1560.1,522.2 1561.2,531.6 1562.2,533.2 1563.3,531.2 1564.4,527.1 1565.4,536.7 1566.5,531.6 1567.5,541.5 1568.6,537.6 1569.6,531.3 1570.7,524.7 1571.7,534.2 1572.8,529.5 1573.9,527.2 1574.9,526.0 1576.0,590.7 1577.0,507.6 1578.1,528.1 1579.1,530.5 1580.2,536.9 1581.3,528.3 1582.3,537.7 1583.4,543.9 1584.4,513.9 1585.5,528.3 1586.5,602.0 1587.6,536.3 1588.6,528.4 1589.7,532.6 1590.8,542.5 1591.8,531.7 1592.9,519.9 1593.9,538.8 1595.0,532.7 1596.0,536.9 1597.1,523.2 1598.1,547.1 1599.2,518.3 1600.3,539.7 1601.3,532.6 1602.4,552.5 1603.4,529.7 1604.5,531.8 1605.5,539.0 1606.6,534.6 1607.7,532.1 1608.7,530.8 1609.8,532.5 1610.8,531.9 1611.9,535.6 1612.9,529.7 1614.0,532.2 1615.0,529.9 1616.1,530.1 1617.2,535.3 1618.2,531.2 1619.3,513.9 1620.3,532.0 1621.4,533.1 1622.4,527.3 1623.5,529.1 1624.5,525.8 1625.6,530.8 1626.7,539.7 1627.7,536.8 1628.8,522.8 1629.8,531.9 1630.9,535.6 1631.9,518.7 1633.0,535.7 1634.1,539.2 1635.1,535.4 1636.2,519.6 1637.2,537.2 1638.3,525.5 1639.3,531.9 1640.4,539.3 1641.4,534.3 1642.5,533.6 1643.6,527.4 1644.6,536.9 1645.7,534.6 1646.7,540.6 1647.8,534.0 1648.8,532.1 1649.9,533.0 1650.9,531.5 1652.0,537.9 1653.1,532.4 1654.1,529.4 1655.2,534.8 1656.2,528.6 1657.3,529.8 1658.3,536.7 1659.4,529.7 1660.5,532.3 1661.5,532.5 1662.6,535.4 1663.6,532.1 1664.7,526.8 1665.7,531.2 1666.8,533.6 1667.8,530.0 1668.9,533.5 1670.0,537.0 1671.0,532.7 1672.1,537.3 1673.1,534.8 1674.2,534.5 1675.2,534.0 1676.3,530.6 1677.3,534.9 1678.4,529.4 1679.5,539.5 1680.5,539.0 1681.6,534.7 1682.6,536.5 1683.7,528.8 1684.7,529.1 1685.8,533.6 1686.9,531.4 1687.9,532.6 1689.0,537.7 1690.0,532.7 1691.1,530.7 1692.1,531.5 1693.2,530.3 1694.2,536.0 1695.3,532.0 1696.4,533.1 1697.4,526.1 1698.5,530.6 1699.5,534.7 1700.6,535.6 1701.6,534.7 1702.7,534.8 1703.7,534.4 1704.8,532.3 1705.9,531.7 1706.9,532.7 1708.0,539.3 1709.0,535.5 1710.1,531.5" stroke="#00ffff"/>
<path d="M740.7,541.6 741.7,532.0 742.8,536.6 743.8,530.3 744.9,533.0 746.0,526.6 747.0,526.6 748.1,521.3 749.1,530.4 750.2,528.3 751.2,511.8 752.3,534.6 753.3,516.1 754.4,520.7 755.5,533.1 756.5,523.9 757.6,543.9 758.6,538.0 759.7,548.0 760.7,530.8 761.8,535.0 762.9,524.2 763.9,542.3 765.0,526.9 766.0,538.9 767.1,535.4 768.1,539.7 769.2,555.0 770.2,525.8 771.3,533.1 772.4,545.5 773.4,533.8 774.5,526.6 775.5,527.0 776.6,521.3 777.6,534.7 778.7,528.5 779.7,541.3 780.8,529.6 781.9,529.8 782.9,529.8 784.0,525.2 785.0,529.2 786.1,530.4 787.1,535.9 788.2,536.8 789.3,531.9 790.3,529.4 791.4,543.2 792.4,532.5 793.5,538.4 794.5,533.0 795.6,536.2 796.6,536.7 797.7,527.0 798.8,528.8 799.8,525.8 800.9,542.9 801.9,527.1 803.0,520.1 804.0,544.1 805.1,534.5 806.1,523.8 807.2,542.6 808.3,527.1 809.3,536.0 810.4,540.3 811.4,536.7 812.5,535.3 813.5,539.8 814.6,528.5 815.7,546.5 816.7,536.9 817.8,543.3 818.8,522.2 819.9,531.5 820.9,543.7 822.0,542.1 823.0,539.5 824.1,537.8 825.2,538.6 826.2,535.6 827.3,497.6 828.3,532.5 829.4,533.2 830.4,525.7 831.5,524.1 832.5,512.0 833.6,536.1 834.7,527.1 835.7,522.2 836.8,531.8 837.8,536.6 838.9,521.2 839.9,518.1 841.0,536.9 842.1,523.7 843.1,528.9 844.2,530.1 845.2,523.5 846.3,539.7 847.3,538.3 848.4,527.8 849.4,528.3 850.5,535.2 851.6,535.8 852.6,538.0 853.7,514.5 854.7,514.1 855.8,537.4 856.8,531.3 857.9,557.6 858.9,536.3 860.0,541.5 861.1,535.2 862.1,557.5 863.2,527.0 864.2,532.8 865.3,532.8 866.3,526.2 867.4,529.3 868.5,543.7 869.5,526.4 870.6,543.0 871.6,530.1 872.7,542.8 873.7,534.3 874.8,534.0 875.8,544.4 876.9,527.8 878.0,534.6 879.0,551.8 880.1,526.7 881.1,531.7 882.2,533.3 883.2,515.4 884.3,531.2 885.3,537.1 886.4,530.2 887.5,530.7 888.5,521.1 889.6,517.0 890.6,516.6 891.7,540.1 892.7,534.4 893.8,524.4 894.9,542.4 895.9,530.0 897.0,525.7 898.0,536.9 899.1,524.9 900.1,542.5 901.2,533.2 902.2,531.5 903.3,550.0 904.4,542.6 905.4,522.6 906.5,552.3 907.5,532.7 908.6,531.8 909.6,534.0 910.7,526.0 911.7,525.3 912.8,526.8 913.9,538.0 914.9,521.4 916.0,520.9 917.0,538.4 918.1,538.4 919.1,540.3 920.2,529.2 921.3,539.4 922.3,522.2 923.4,532.9 924.4,524.1 925.5,536.1 926.5,523.0 927.6,548.3 928.6,541.4 929.7,527.3 930.8,516.3 931.8,526.5 932.9,524.1 933.9,539.2 935.0,535.6 936.0,542.6 937.1,534.4 938.1,538.9 939.2,548.1 940.3,540.5 941.3,525.3 942.4,531.4 943.4,536.5 944.5,537.0 945.5,539.5 946.6,538.2 947.7,530.2 948.7,537.6 949.8,530.5 950.8,531.1 951.9,526.4 952.9,539.2 954.0,529.5 955.0,532.2 956.1,526.4 957.2,537.3 958.2,535.2 959.3,548.6 960.3,526.0 961.4,532.2 962.4,538.7 963.5,535.6 964.5,541.4 965.6,521.5 966.7,526.6 967.7,527.4 968.8,537.6 969.8,527.2 970.9,532.5 971.9,542.0 973.0,533.0 974.1,535.3 975.1,536.8 976.2,524.9 977.2,538.5 978.3,522.5 979.3,531.6 980.4,520.7 981.4,530.5" stroke="#dfff20"/>
<path d="M1592.9,518.8 1593.9,507.5 1595.0,543.1 1596.0,534.6 1597.1,545.2 1598.1,523.1 1599.2,529.1 1600.3,521.6 1601.3,524.9 1602.4,515.6 1603.4,538.8 1604.5,532.1 1605.5,547.2 1606.6,531.0 1607.7,533.7 1608.7,545.0 1609.8,498.0 1610.8,571.8 1611.9,541.3 1612.9,502.5 1614.0,552.4 1615.0,538.8 1616.1,544.1 1617.2,535.2 1618.2,531.1 1619.3,524.9 1620.3,541.4 1621.4,566.5 1622.4,538.4 1623.5,543.3 1624.5,534.6 1625.6,537.2 1626.7,524.7 1627.7,539.0 1628.8,538.1 1629.8,521.3 1630.9,536.4 1631.9,546.0 1633.0,522.8 1634.1,536.4 1635.1,566.5 1636.2,521.8 1637.2,551.0 1638.3,541.3 1639.3,531.7 1640.4,532.1 1641.4,538.7 1642.5,530.4 1643.6,524.4 1644.6,538.3 1645.7,531.0 1646.7,538.9 1647.8,541.5 1648.8,531.4 1649.9,548.0 1650.9,521.3 1652.0,530.0 1653.1,533.6 1654.1,531.0 1655.2,535.0 1656.2,532.9 1657.3,530.4 1658.3,529.3 1659.4,530.4 1660.5,535.9 1661.5,525.6 1662.6,538.8 1663.6,523.8 1664.7,524.8 1665.7,534.7 1666.8,536.5 1667.8,527.8 1668.9,524.5 1670.0,527.4 1671.0,526.6 1672.1,526.3 1673.1,531.7 1674.2,525.3 1675.2,532.4 1676.3,531.6 1677.3,527.8 1678.4,531.0 1679.5,534.6 1680.5,542.5 1681.6,533.7 1682.6,525.8 1683.7,537.1 1684.7,528.7 1685.8,532.9 1686.9,537.6 1687.9,535.1 1689.0,535.0 1690.0,527.2 1691.1,531.2 1692.1,536.0 1693.2,528.2 1694.2,529.3 1695.3,535.0 1696.4,531.6 1697.4,529.4 1698.5,535.7 1699.5,531.7 1700.6,530.5 1701.6,533.3 1702.7,530.5 1703.7,535.8 1704.8,535.3 1705.9,531.7 1706.9,530.9 1708.0,531.8 1709.0,534.4 1710.1,531.8" stroke="#dfff20"/>
<path d="M338.3,540.4 339.4,536.4 340.5,535.5 341.5,535.8 342.6,535.1 343.6,530.3 344.7,527.5 345.7,504.0 346.8,535.0 347.8,532.5 348.9,533.7 350.0,551.0 351.0,535.6 352.1,529.3 353.1,537.8 354.2,541.5 355.2,526.0 356.3,527.6 357.3,540.5 358.4,527.0 359.5,520.6 360.5,538.7 361.6,532.4 362.6,538.8 363.7,538.2 364.7,543.8 365.8,523.3 366.9,528.7 367.9,526.2 369.0,544.5 370.0,531.3 371.1,528.8 372.1,533.3 373.2,537.4 374.2,527.3 375.3,536.0 376.4,519.7 377.4,524.2 378.5,533.8 379.5,535.5 380.6,536.1 381.6,528.0 382.7,531.2 383.7,533.3 384.8,534.7 385.9,528.7 386.9,510.8 388.0,537.2 389.0,537.8 390.1,533.5 391.1,537.0 392.2,524.1 393.3,537.0 394.3,533.5 395.4,527.7 396.4,532.2 397.5,528.0 398.5,533.1 399.6,538.0 400.6,532.2 401.7,533.2 402.8,538.1 403.8,539.6 404.9,537.3 405.9,528.3 407.0,538.9 408.0,541.7 409.1,527.9 410.1,535.7 411.2,533.3 412.3,537.0 413.3,541.8 414.4,516.6 415.4,530.6 416.5,530.3 417.5,538.7 418.6,530.3 419.7,532.6 420.7,527.8 421.8,525.4 422.8,526.6 423.9,527.3 424.9,524.2 426.0,531.9 427.0,536.9 428.1,535.6 429.2,530.6 430.2,524.6 431.3,528.2 432.3,536.5 433.4,536.8 434.4,541.8 435.5,528.1 436.5,531.8 437.6,529.9 438.7,535.0 439.7,529.8 440.8,537.2 441.8,537.3 442.9,531.4 443.9,533.1 445.0,544.6 446.1,531.3 447.1,533.7 448.2,532.4 449.2,535.7 450.3,537.6 451.3,535.8 452.4,533.7 453.4,532.0 454.5,532.9 455.6,536.8 456.6,533.6 457.7,524.8 458.7,528.8 459.8,531.0 460.8,532.2 461.9,535.5 462.9,538.5 464.0,530.5 465.1,531.0 466.1,530.5 467.2,530.4 468.2,538.8 469.3,539.1 470.3,534.9 471.4,532.3 472.5,529.0 473.5,531.7 474.6,532.8 475.6,529.4 476.7,529.0 477.7,532.3 478.8,530.6 479.8,531.0 480.9,531.8 482.0,535.1 483.0,533.4 484.1,531.3 485.1,534.3 486.2,534.7 487.2,533.9 488.3,536.7 489.3,533.9 490.4,534.0 491.5,526.8 492.5,532.7 493.6,531.9 494.6,531.3 495.7,533.4 496.7,534.4 497.8,530.7 498.9,535.3 499.9,535.0 501.0,530.1 502.0,537.1 503.1,535.2 504.1,532.5 505.2,531.4 506.2,535.1 507.3,533.4 508.4,533.9 509.4,530.4 510.5,527.2 511.5,528.8 512.6,541.3 513.6,533.0 514.7,530.5 515.7,534.8 516.8,528.1 517.9,531.7 518.9,532.6 520.0,534.6 521.0,532.9 522.1,531.1 523.1,529.3 524.2,530.3 525.3,530.2 526.3,535.6 527.4,532.8 528.4,534.6 529.5,540.9 530.5,531.1 531.6,543.1 532.6,528.2 533.7,533.7 534.8,530.5 535.8,533.1 536.9,533.6 537.9,531.7 539.0,534.9 540.0,536.8 541.1,533.5 542.1,537.4 543.2,533.4 544.3,538.1 545.3,518.8 546.4,535.9 547.4,532.9 548.5,536.1 549.5,527.8 550.6,530.8 551.7,532.9 552.7,535.1 553.8,534.8 554.8,528.4 555.9,535.5 556.9,536.5 558.0,538.1 559.0,531.1 560.1,536.0 561.2,531.0 562.2,532.1 563.3,533.1 564.3,530.9 565.4,520.4 566.4,536.4 567.5,535.7 568.5,534.3 569.6,527.2 570.7,534.0 571.7,531.1 572.8,534.4 573.8,532.1 574.9,531.2 575.9,538.3 577.0,532.7 578.1,534.5 579.1,533.9 580.2,529.8 581.2,533.0 582.3,533.5 583.3,533.7 584.4,534.4 585.4,535.0 586.5,531.7 587.6,529.7 588.6,531.3 589.7,531.3 590.7,530.8 591.8,536.9 592.8,534.9 593.9,533.0 594.9,526.2 596.0,534.1 597.1,533.2 598.1,531.0 599.2,532.8 600.2,533.9 601.3,529.1 602.3,534.6 603.4,534.1 604.5,528.8 605.5,531.6 606.6,533.6 607.6,533.0 608.7,535.0 609.7,537.7 610.8,536.7 611.8,534.4 612.9,531.3 614.0,532.7 615.0,532.5 616.1,532.4 617.1,529.6 618.2,533.8 619.2,532.5 620.3,532.4 621.3,533.7 622.4,533.0 623.5,534.5 624.5,531.4" stroke="#ff8000"/>
<path d="M1285.6,533.7 1286.6,521.5 1287.7,530.6 1288.7,536.0 1289.8,539.7 1290.9,521.0 1291.9,527.6 1293.0,534.9 1294.0,541.7 1295.1,535.7 1296.1,528.7 1297.2,537.9 1298.2,526.5 1299.3,531.5 1300.4,527.4 1301.4,539.1 1302.5,532.4 1303.5,535.4 1304.6,531.9 1305.6,528.2 1306.7,537.0 1307.7,526.7 1308.8,535.2 1309.9,547.4 1310.9,536.2 1312.0,532.0 1313.0,534.9 1314.1,537.6 1315.1,533.1 1316.2,539.4 1317.3,528.0 1318.3,535.2 1319.4,528.2 1320.4,526.7 1321.5,538.1 1322.5,527.8 1323.6,535.7 1324.6,547.8 1325.7,529.7 1326.8,537.6 1327.8,535.7 1328.9,529.0 1329.9,535.6 1331.0,508.0 1332.0,529.3 1333.1,535.0 1334.1,536.4 1335.2,508.1 1336.3,541.0 1337.3,537.8 1338.4,543.4 1339.4,537.9 1340.5,528.4 1341.5,533.0 1342.6,523.9 1343.7,517.8 1344.7,541.0 1345.8,532.3 1346.8,531.3 1347.9,522.9 1348.9,531.9 1350.0,528.1 1351.0,526.1 1352.1,525.7 1353.2,538.8 1354.2,533.2 1355.3,533.2 1356.3,531.0 1357.4,532.6 1358.4,521.9 1359.5,519.3 1360.5,546.4 1361.6,529.1 1362.7,533.6 1363.7,531.7 1364.8,535.6 1365.8,533.4 1366.9,541.2 1367.9,542.3 1369.0,528.8 1370.1,536.0 1371.1,538.0 1372.2,531.9 1373.2,537.4 1374.3,508.7 1375.3,541.1 1376.4,534.0 1377.4,536.9 1378.5,526.1 1379.6,522.6 1380.6,544.1 1381.7,537.6 1382.7,553.8 1383.8,539.4 1384.8,541.3 1385.9,552.8 1386.9,538.3 1388.0,519.1 1389.1,525.2 1390.1,537.7 1391.2,531.9 1392.2,533.7 1393.3,530.8 1394.3,525.6 1395.4,533.0 1396.5,530.9 1397.5,531.3 1398.6,519.2 1399.6,535.6 1400.7,524.4 1401.7,538.9 1402.8,532.6 1403.8,527.7 1404.9,535.7 1406.0,531.7 1407.0,535.5 1408.1,533.1 1409.1,530.3 1410.2,534.1 1411.2,528.5 1412.3,529.1 1413.3,537.3 1414.4,527.1 1415.5,523.6 1416.5,533.2 1417.6,529.2 1418.6,543.4 1419.7,525.6 1420.7,540.6 1421.8,538.9 1422.9,529.4 1423.9,534.2 1425.0,532.2 1426.0,535.0 1427.1,551.3 1428.1,542.6 1429.2,533.6 1430.2,544.4 1431.3,538.5 1432.4,527.4 1433.4,530.5 1434.5,539.8 1435.5,509.0 1436.6,534.4 1437.6,535.1 1438.7,543.9 1439.7,523.6 1440.8,540.8 1441.9,536.9 1442.9,533.0 1444.0,528.8 1445.0,538.0 1446.1,531.6 1447.1,525.3 1448.2,533.6 1449.3,541.9 1450.3,534.1 1451.4,523.5 1452.4,538.7 1453.5,535.9 1454.5,518.9 1455.6,512.4 1456.6,537.8 1457.7,554.2 1458.8,532.2 1459.8,534.1 1460.9,537.2 1461.9,530.8 1463.0,540.0 1464.0,535.6 1465.1,556.2 1466.1,517.6 1467.2,525.0 1468.3,534.6 1469.3,533.2 1470.4,529.7 1471.4,535.0 1472.5,523.4 1473.5,533.8 1474.6,530.8 1475.7,534.2 1476.7,539.7 1477.8,527.4 1478.8,522.7 1479.9,519.4 1480.9,533.5 1482.0,533.6 1483.0,538.6 1484.1,518.6 1485.2,544.8 1486.2,528.6 1487.3,534.3 1488.3,531.3 1489.4,537.2" stroke="#ff8000"/>
<path d="M452.4,532.5 453.4,529.9 454.5,532.9 455.6,535.5 456.6,532.9 457.7,529.2 458.7,535.9 459.8,532.8 460.8,530.2 461.9,531.4 462.9,533.7 464.0,532.0 465.1,532.4 466.1,529.8 467.2,531.0 468.2,532.3 469.3,534.7 470.3,537.8 471.4,533.0 472.5,527.6 473.5,535.9 474.6,529.3 475.6,532.8 476.7,533.7 477.7,534.0 478.8,532.8 479.8,534.3 480.9,531.3 482.0,531.3 483.0,533.5 484.1,530.6 485.1,530.6 486.2,531.7 487.2,529.9 488.3,530.6 489.3,533.5 490.4,531.2 491.5,534.7 492.5,532.8 493.6,532.5 494.6,531.3 495.7,531.5 496.7,528.8 497.8,528.3 498.9,529.2 499.9,531.9 501.0,534.9 502.0,528.9 503.1,535.4 504.1,529.3 505.2,535.6 506.2,532.5 507.3,536.4 508.4,531.9 509.4,535.1 510.5,532.7 511.5,531.1 512.6,530.8 513.6,531.8 514.7,534.6 515.7,529.3 516.8,533.1 517.9,530.8 518.9,535.9 520.0,533.8 521.0,533.7 522.1,531.4 523.1,538.0 524.2,533.4 525.3,532.9 526.3,530.4 527.4,534.7 528.4,533.9 529.5,531.7 530.5,532.1 531.6,533.5 532.6,531.3 533.7,532.7 534.8,531.4 535.8,530.3 536.9,535.0 537.9,534.1 539.0,535.6 540.0,534.2 541.1,538.7 542.1,527.9 543.2,537.0 544.3,531.5 545.3,533.3 546.4,535.8 547.4,530.5 548.5,530.2 549.5,537.4 550.6,527.7 551.7,536.2 552.7,529.3 553.8,532.2 554.8,526.9 555.9,528.7 556.9,534.9 558.0,531.8 559.0,531.5 560.1,540.7 561.2,532.7 562.2,533.1 563.3,532.6 564.3,533.9 565.4,537.8 566.4,531.5 567.5,537.1 568.5,526.6 569.6,532.7 570.7,532.6 571.7,531.9 572.8,530.2 573.8,529.5 574.9,529.8 575.9,532.2 577.0,531.2 578.1,533.4 579.1,531.1 580.2,532.9 581.2,529.2 582.3,530.5 583.3,534.9 584.4,530.6 585.4,535.9 586.5,533.2 587.6,530.6 588.6,533.8 589.7,532.6 590.7,532.5 591.8,532.0 592.8,533.8 593.9,532.7 594.9,528.0 596.0,537.1 597.1,532.6 598.1,534.4 599.2,529.9 600.2,532.9 601.3,533.2 602.3,533.4 603.4,534.4 604.5,532.9 605.5,536.5 606.6,531.7 607.6,530.9 608.7,531.5 609.7,532.6 610.8,536.3 611.8,532.1 612.9,531.5 614.0,532.8 615.0,530.6 616.1,530.7 617.1,531.1 618.2,531.2 619.2,532.3 620.3,533.6 621.3,534.4 622.4,535.0 623.5,531.4 624.5,532.4 625.6,532.3 626.6,529.9 627.7,532.6 628.7,530.1 629.8,534.3 630.9,535.0 631.9,531.6 633.0,532.4 634.0,532.9 635.1,533.4 636.1,531.8 637.2,530.4 638.2,532.7 639.3,533.4 640.4,532.1 641.4,530.9 642.5,533.4 643.5,534.3 644.6,531.3 645.6,530.6 646.7,532.1 647.7,531.5 648.8,534.3 649.9,532.2 650.9,533.0 652.0,530.5 653.0,531.8 654.1,533.9 655.1,532.4 656.2,532.6 657.3,533.3 658.3,531.0 659.4,535.5 660.4,531.2 661.5,533.9 662.5,531.8 663.6,531.5 664.6,534.8 665.7,532.1 666.8,532.4 667.8,533.5 668.9,533.3 669.9,531.0 671.0,530.9 672.0,532.3 673.1,533.6 674.1,532.8 675.2,531.2 676.3,532.0 677.3,534.6 678.4,532.8 679.4,531.3 680.5,532.9 681.5,532.6 682.6,531.6 683.7,533.4 684.7,534.0 685.8,532.5 686.8,533.1 687.9,533.6 688.9,533.2 690.0,533.0 691.0,531.9 692.1,533.5 693.2,533.6 694.2,533.8 695.3,532.0 696.3,533.0 697.4,532.7 698.4,533.0 699.5,533.5 700.5,530.4 701.6,535.6 702.7,531.4 703.7,531.8 704.8,533.0 705.8,530.7 706.9,530.7 707.9,532.8 709.0,529.2 710.1,533.9 711.1,532.1 712.2,533.5 713.2,531.3 714.3,529.6 715.3,532.0 716.4,533.2 717.4,529.9 718.5,534.3 719.6,531.7 720.6,532.2 721.7,531.5 722.7,533.8 723.8,532.7 724.8,532.0 725.9,532.6 726.9,531.7 728.0,534.0 729.1,530.9 730.1,532.1 731.2,534.5 732.2,531.3 733.3,534.4 734.3,531.7 735.4,530.8 736.5,533.9 737.5,532.9 738.6,533.1 739.6,532.1 740.7,530.8 741.7,530.0 742.8,529.0 743.8,533.5 744.9,531.7 746.0,534.4 747.0,532.5" stroke="#ff6000"/>
<path d="M1375.3,538.3 1376.4,538.3 1377.4,528.9 1378.5,536.0 1379.6,524.6 1380.6,526.1 1381.7,527.8 1382.7,530.8 1383.8,539.3 1384.8,530.3 1385.9,528.5 1386.9,525.7 1388.0,533.7 1389.1,526.6 1390.1,533.4 1391.2,544.9 1392.2,534.8 1393.3,534.7 1394.3,535.2 1395.4,532.6 1396.5,529.0 1397.5,536.1 1398.6,528.0 1399.6,528.2 1400.7,532.5 1401.7,528.5 1402.8,533.7 1403.8,537.5 1404.9,536.8 1406.0,538.1 1407.0,533.8 1408.1,528.0 1409.1,526.4 1410.2,532.1 1411.2,538.4 1412.3,535.0 1413.3,530.7 1414.4,523.3 1415.5,529.6 1416.5,527.2 1417.6,535.0 1418.6,536.8 1419.7,533.0 1420.7,528.7 1421.8,532.2 1422.9,530.1 1423.9,530.0 1425.0,531.3 1426.0,534.4 1427.1,535.0 1428.1,530.8 1429.2,536.0 1430.2,531.7 1431.3,543.8 1432.4,530.8 1433.4,539.3 1434.5,533.2 1435.5,526.4 1436.6,534.1 1437.6,542.0 1438.7,533.5 1439.7,535.5 1440.8,529.9 1441.9,537.7 1442.9,532.3 1444.0,536.6 1445.0,528.2 1446.1,535.4 1447.1,529.1 1448.2,530.7 1449.3,530.4 1450.3,533.9 1451.4,529.0 1452.4,535.4 1453.5,533.1 1454.5,524.1 1455.6,534.3 1456.6,527.7 1457.7,533.8 1458.8,530.7 1459.8,536.2 1460.9,533.5 1461.9,538.7 1463.0,529.3 1464.0,530.1 1465.1,533.6 1466.1,531.4 1467.2,534.2 1468.3,528.9 1469.3,531.2 1470.4,544.4 1471.4,531.2 1472.5,530.2 1473.5,534.1 1474.6,530.5 1475.7,529.2 1476.7,530.2 1477.8,524.0 1478.8,528.8 1479.9,528.8 1480.9,528.5 1482.0,525.5 1483.0,532.6 1484.1,534.0 1485.2,534.3 1486.2,534.3 1487.3,530.5 1488.3,538.6 1489.4,534.0 1490.4,528.3 1491.5,535.3 1492.5,530.9 1493.6,531.9 1494.7,534.3 1495.7,530.2 1496.8,537.3 1497.8,530.2 1498.9,532.5 1499.9,537.0 1501.0,534.9 1502.1,531.4 1503.1,529.9 1504.2,535.4 1505.2,532.8 1506.3,527.3 1507.3,532.7 1508.4,546.7 1509.4,527.1 1510.5,546.1 1511.6,526.5 1512.6,530.9 1513.7,529.7 1514.7,523.4 1515.8,534.4 1516.8,538.6 1517.9,527.7 1518.9,524.1 1520.0,540.3 1521.1,519.4 1522.1,560.0 1523.2,514.2 1524.2,436.5 1525.3,530.7 1526.3,622.0 1527.4,537.5 1528.5,456.4 1529.5,596.0 1530.6,536.1 1531.6,530.2 1532.7,500.0 1533.7,536.9 1534.8,526.2 1535.8,575.0 1536.9,528.7 1538.0,528.9 1539.0,538.2 1540.1,527.1 1541.1,529.6 1542.2,527.1 1543.2,540.3 1544.3,548.1 1545.3,533.5 1546.4,534.2 1547.5,539.0 1548.5,529.6 1549.6,520.3 1550.6,540.0 1551.7,521.2 1552.7,505.0 1553.8,537.7 1554.9,523.5 1555.9,563.0 1557.0,530.1 1558.0,530.8 1559.1,526.0 1560.1,534.5 1561.2,535.6 1562.2,540.6 1563.3,565.0 1564.4,539.5 1565.4,535.2 1566.5,522.6 1567.5,547.8 1568.6,523.4 1569.6,532.9 1570.7,547.0 1571.7,530.9 1572.8,550.3 1573.9,519.8 1574.9,528.6 1576.0,546.1 1577.0,525.3 1578.1,530.4 1579.1,519.3 1580.2,535.1 1581.3,534.6 1582.3,528.9 1583.4,527.2 1584.4,536.4 1585.5,476.3 1586.5,578.4 1587.6,542.6 1588.6,539.5 1589.7,533.7 1590.8,524.0 1591.8,543.6" stroke="#ff6000"/>
<path d="M352.1,537.4 353.1,531.0 354.2,537.2 355.2,536.2 356.3,537.3 357.3,531.2 358.4,535.2 359.5,535.6 360.5,532.4 361.6,531.2 362.6,533.5 363.7,530.4 364.7,537.9 365.8,540.4 366.9,534.8 367.9,531.4 369.0,535.2 370.0,536.3 371.1,525.2 372.1,534.7 373.2,536.5 374.2,526.5 375.3,527.2 376.4,537.7 377.4,530.3 378.5,536.7 379.5,530.6 380.6,530.8 381.6,530.3 382.7,529.5 383.7,528.0 384.8,535.0 385.9,537.3 386.9,530.5 388.0,540.9 389.0,534.6 390.1,531.3 391.1,535.7 392.2,527.5 393.3,524.1 394.3,534.0 395.4,532.8 396.4,530.4 397.5,531.0 398.5,530.2 399.6,531.2 400.6,529.0 401.7,537.1 402.8,540.5 403.8,529.2 404.9,537.8 405.9,530.9 407.0,532.5 408.0,536.2 409.1,532.6 410.1,531.2 411.2,526.3 412.3,528.1 413.3,530.4 414.4,530.7 415.4,533.7 416.5,528.5 417.5,535.1 418.6,541.6 419.7,539.2 420.7,535.9 421.8,530.4 422.8,531.0 423.9,531.5 424.9,530.7 426.0,523.6 427.0,534.2 428.1,533.0 429.2,531.2 430.2,530.7 431.3,524.4 432.3,534.9 433.4,531.9 434.4,534.8 435.5,533.3 436.5,532.7 437.6,530.2 438.7,532.4 439.7,535.1 440.8,532.5 441.8,529.8 442.9,532.5 443.9,532.5 445.0,532.8 446.1,536.0 447.1,535.3 448.2,525.9 449.2,528.8 450.3,529.8 451.3,539.4 452.4,532.2 453.4,530.9 454.5,530.1 455.6,535.0 456.6,529.7 457.7,532.0 458.7,526.8 459.8,533.2 460.8,527.6 461.9,529.5 462.9,537.8 464.0,530.0 465.1,528.3 466.1,526.9 467.2,529.8 468.2,530.4 469.3,539.0 470.3,530.7 471.4,529.0 472.5,536.2 473.5,549.6 474.6,534.2 475.6,537.0 476.7,535.3 477.7,532.4 478.8,531.1 479.8,534.8 480.9,530.9 482.0,534.1 483.0,533.3 484.1,536.9 485.1,530.7 486.2,535.5 487.2,531.4 488.3,537.9 489.3,533.2 490.4,533.5 491.5,531.0 492.5,538.9 493.6,534.3 494.6,531.1 495.7,534.0 496.7,533.5 497.8,531.1 498.9,529.0 499.9,537.4 501.0,536.4 502.0,535.2 503.1,531.3 504.1,535.0 505.2,528.8 506.2,530.1 507.3,530.5 508.4,535.6 509.4,530.7 510.5,529.2 511.5,534.7 512.6,532.4 513.6,532.6 514.7,532.0 515.7,539.2 516.8,533.4 517.9,536.9 518.9,531.3 520.0,531.8 521.0,529.8 522.1,536.6 523.1,527.0 524.2,522.4 525.3,533.4 526.3,538.3 527.4,539.8 528.4,539.6 529.5,532.3 530.5,528.9 531.6,535.6 532.6,537.8 533.7,519.6 534.8,535.7 535.8,533.4 536.9,531.7 537.9,522.3 539.0,532.3 540.0,541.7 541.1,520.7 542.1,541.4 543.2,531.2 544.3,535.1 545.3,528.3 546.4,538.1 547.4,530.4 548.5,537.5 549.5,529.1 550.6,533.1 551.7,540.6 552.7,518.0 553.8,498.0 554.8,537.3 555.9,534.2" stroke="#ff4000"/>
<path d="M1209.5,591.6 1210.6,570.0 1211.7,545.0 1212.7,540.1 1213.8,514.4 1214.8,537.9 1215.9,524.0 1216.9,530.8 1218.0,523.6 1219.0,564.8 1220.1,529.5 1221.2,536.5 1222.2,520.4 1223.3,572.2 1224.3,524.4 1225.4,547.0 1226.4,520.6 1227.5,557.1 1228.5,505.4 1229.6,554.4 1230.7,541.7 1231.7,531.1 1232.8,517.6 1233.8,509.4 1234.9,549.4 1235.9,510.9 1237.0,538.8 1238.1,523.7 1239.1,535.6 1240.2,560.9 1241.2,548.5 1242.3,533.6 1243.3,560.8 1244.4,500.0 1245.4,578.0 1246.5,523.8 1247.6,530.8 1248.6,548.3 1249.7,536.5 1250.7,517.4 1251.8,536.0 1252.8,524.1 1253.9,540.6 1254.9,541.3 1256.0,515.8 1257.1,528.8 1258.1,575.6 1259.2,521.7 1260.2,516.8 1261.3,542.8 1262.3,510.3 1263.4,510.0 1264.5,517.8 1265.5,527.1 1266.6,549.9 1267.6,529.0 1268.7,520.3 1269.7,537.4 1270.8,541.6 1271.8,529.8 1272.9,531.4 1274.0,525.9 1275.0,535.5 1276.1,542.1 1277.1,537.9 1278.2,542.6 1279.2,538.0 1280.3,547.5 1281.3,524.2 1282.4,537.5 1283.5,547.2 1284.5,561.1 1285.6,558.3 1286.6,539.1 1287.7,533.1 1288.7,533.6 1289.8,536.3 1290.9,521.2 1291.9,536.2 1293.0,535.7 1294.0,525.5 1295.1,547.6 1296.1,521.4 1297.2,534.7 1298.2,545.6 1299.3,536.3 1300.4,530.9 1301.4,532.5 1302.5,530.6 1303.5,529.3 1304.6,530.1 1305.6,538.0 1306.7,538.6 1307.7,535.3 1308.8,533.7 1309.9,534.8 1310.9,531.8 1312.0,527.5 1313.0,531.2 1314.1,531.8 1315.1,531.7 1316.2,535.3 1317.3,528.5 1318.3,528.0 1319.4,532.2 1320.4,534.0 1321.5,535.6 1322.5,527.2 1323.6,534.8 1324.6,530.1 1325.7,530.7 1326.8,534.7 1327.8,530.6 1328.9,530.1 1329.9,530.5 1331.0,527.0 1332.0,531.8 1333.1,527.0 1334.1,535.6 1335.2,540.1 1336.3,533.0 1337.3,531.0 1338.4,542.4 1339.4,530.8 1340.5,532.1 1341.5,539.7 1342.6,525.7 1343.7,532.4 1344.7,536.2 1345.8,530.3 1346.8,536.1 1347.9,531.7 1348.9,533.2 1350.0,533.3 1351.0,536.5 1352.1,527.7 1353.2,531.5 1354.2,531.0 1355.3,528.0 1356.3,537.8 1357.4,535.3 1358.4,530.7 1359.5,524.1 1360.5,528.5 1361.6,530.3 1362.7,532.9 1363.7,543.0 1364.8,535.1 1365.8,533.6 1366.9,527.5 1367.9,527.7 1369.0,538.6 1370.1,531.0 1371.1,533.6 1372.2,539.3 1373.2,527.7 1374.3,529.3 1375.3,536.2 1376.4,526.4 1377.4,530.8 1378.5,531.0 1379.6,530.9 1380.6,534.9 1381.7,531.8 1382.7,533.3 1383.8,532.4 1384.8,527.5 1385.9,521.7 1386.9,533.1 1388.0,533.7 1389.1,545.3 1390.1,538.1 1391.2,533.7 1392.2,532.0 1393.3,534.3 1394.3,535.7 1395.4,531.4 1396.5,535.1 1397.5,535.5 1398.6,531.3 1399.6,530.3 1400.7,531.2 1401.7,529.3 1402.8,529.5 1403.8,529.4 1404.9,531.5 1406.0,531.8 1407.0,529.9 1408.1,537.7 1409.1,531.4 1410.2,530.6 1411.2,533.5 1412.3,522.1 1413.3,535.8 1414.4,534.8 1415.5,529.5 1416.5,532.2 1417.6,526.5 1418.6,536.4 1419.7,532.6 1420.7,536.0 1421.8,533.2 1422.9,535.2 1423.9,531.9 1425.0,529.8 1426.0,527.6 1427.1,530.3 1428.1,534.0 1429.2,528.9 1430.2,531.9 1431.3,529.2 1432.4,530.6 1433.4,527.4 1434.5,538.6 1435.5,536.2 1436.6,534.2 1437.6,535.2 1438.7,534.7 1439.7,537.0 1440.8,528.2 1441.9,527.5 1442.9,537.8 1444.0,545.2 1445.0,532.3 1446.1,534.2 1447.1,529.3 1448.2,528.8 1449.3,534.3 1450.3,537.1 1451.4,529.8 1452.4,536.0 1453.5,524.5 1454.5,525.6 1455.6,532.7 1456.6,531.9 1457.7,535.1 1458.8,531.6 1459.8,535.1 1460.9,536.6 1461.9,535.1 1463.0,539.7 1464.0,530.4 1465.1,534.0 1466.1,537.5 1467.2,530.2 1468.3,529.7 1469.3,533.7 1470.4,536.9 1471.4,527.9 1472.5,534.8 1473.5,530.7 1474.6,535.0 1475.7,524.6 1476.7,531.2 1477.8,530.6 1478.8,525.0 1479.9,527.8 1480.9,537.5 1482.0,524.5 1483.0,531.5 1484.1,530.0 1485.2,528.2 1486.2,537.0 1487.3,531.8 1488.3,535.5 1489.4,537.8 1490.4,528.5 1491.5,536.9 1492.5,530.9 1493.6,533.5 1494.7,532.2 1495.7,532.1 1496.8,529.9 1497.8,532.0 1498.9,538.3 1499.9,533.9 1501.0,528.0 1502.1,529.1 1503.1,528.6 1504.2,536.3 1505.2,527.7 1506.3,526.7 1507.3,528.5 1508.4,543.2 1509.4,527.6 1510.5,540.1 1511.6,537.5 1512.6,531.6 1513.7,534.1 1514.7,535.6 1515.8,524.3 1516.8,538.2 1517.9,501.0" stroke="#ff4000"/>
<path d="M832.5,505.0 833.6,569.0 834.7,533.1 835.7,537.8 836.8,535.8 837.8,504.5 838.9,543.4 839.9,538.1 841.0,533.6 842.1,524.4 843.1,542.9 844.2,535.5 845.2,528.1 846.3,525.9 847.3,540.9 848.4,529.4 849.4,517.8 850.5,526.9 851.6,523.8 852.6,533.0 853.7,528.3 854.7,529.1 855.8,526.2 856.8,541.0 857.9,533.4 858.9,533.3 860.0,517.6 861.1,542.3 862.1,541.0 863.2,529.1 864.2,552.0 865.3,528.4 866.3,511.0 867.4,531.3 868.5,529.9 869.5,534.2 870.6,535.1 871.6,542.3 872.7,530.9 873.7,529.8 874.8,508.3 875.8,537.0 876.9,511.0 878.0,526.0 879.0,544.2 880.1,521.8 881.1,531.1 882.2,535.9 883.2,529.7 884.3,520.5 885.3,533.8 886.4,534.0 887.5,532.1 888.5,519.3 889.6,516.9 890.6,532.1 891.7,526.3 892.7,521.2 893.8,534.0 894.9,532.6 895.9,508.0 897.0,520.3 898.0,542.0 899.1,533.8 900.1,528.4 901.2,522.0 902.2,532.0 903.3,522.4 904.4,537.6 905.4,537.8 906.5,532.7 907.5,540.7 908.6,531.4 909.6,534.7 910.7,525.9 911.7,537.0 912.8,531.6 913.9,524.8 914.9,537.8 916.0,532.6 917.0,536.6 918.1,524.4 919.1,541.9 920.2,528.9 921.3,534.9 922.3,542.3 923.4,516.1 924.4,527.2 925.5,525.3 926.5,543.3 927.6,547.4 928.6,527.7 929.7,529.1 930.8,535.1 931.8,525.5 932.9,535.2 933.9,528.7 935.0,535.1 936.0,520.7 937.1,514.4 938.1,536.9 939.2,540.8 940.3,532.7 941.3,535.3 942.4,536.1 943.4,528.3 944.5,530.3 945.5,532.0 946.6,539.6 947.7,532.5 948.7,534.8 949.8,533.5 950.8,541.7 951.9,532.6 952.9,540.2 954.0,531.8 955.0,531.1 956.1,537.0 957.2,530.5 958.2,536.5 959.3,537.0 960.3,529.7 961.4,532.1 962.4,536.0 963.5,536.4 964.5,540.1 965.6,532.1 966.7,537.4 967.7,531.2 968.8,538.2 969.8,521.1 970.9,550.4 971.9,526.3 973.0,529.3 974.1,533.5 975.1,536.9 976.2,526.4 977.2,530.2 978.3,528.4 979.3,498.0 980.4,524.8 981.4,539.5 982.5,517.3 983.6,537.3 984.6,522.4 985.7,541.7 986.7,450.0 987.8,560.0 988.8,532.1 989.9,520.5 990.9,571.7 992.0,546.3 993.1,528.1 994.1,479.6 995.2,527.7 996.2,544.0 997.3,556.1 998.3,517.3 999.4,559.4 1000.5,554.3 1001.5,532.4 1002.6,582.4 1003.6,502.0 1004.7,526.4 1005.7,544.8 1006.8,569.0 1007.8,519.3 1008.9,543.7 1010.0,543.5 1011.0,524.4 1012.1,528.5 1013.1,531.3 1014.2,535.7 1015.2,520.7 1016.3,538.7 1017.3,530.3 1018.4,532.5 1019.5,531.5 1020.5,527.7 1021.6,524.9 1022.6,531.2 1023.7,526.0 1024.7,528.2 1025.8,542.2 1026.9,524.1 1027.9,524.4 1029.0,535.5 1030.0,546.4 1031.1,534.3 1032.1,538.3 1033.2,537.0 1034.2,519.8 1035.3,532.9 1036.4,537.5 1037.4,531.7 1038.5,533.0 1039.5,524.9 1040.6,536.6 1041.6,535.2 1042.7,528.9 1043.7,529.1 1044.8,526.9 1045.9,532.3 1046.9,532.7 1048.0,528.4 1049.0,529.7 1050.1,528.3 1051.1,528.6 1052.2,535.8 1053.3,533.1 1054.3,527.5 1055.4,527.5 1056.4,526.1 1057.5,529.1 1058.5,536.4 1059.6,545.3 1060.6,537.8 1061.7,500.5 1062.8,541.8 1063.8,538.7 1064.9,492.0 1065.9,560.0 1067.0,505.3 1068.0,513.2 1069.1,532.8 1070.1,534.1 1071.2,547.8 1072.3,525.1 1073.3,539.5 1074.4,504.8 1075.4,523.5 1076.5,509.2 1077.5,557.1 1078.6,520.6 1079.7,551.9 1080.7,526.6 1081.8,524.0 1082.8,534.8 1083.9,532.6 1084.9,525.6 1086.0,517.5 1087.0,534.9 1088.1,483.0 1089.2,596.4 1090.2,524.5 1091.3,502.8 1092.3,536.9 1093.4,527.4 1094.4,543.7 1095.5,532.0 1096.5,559.9 1097.6,530.2 1098.7,545.0 1099.7,515.9 1100.8,527.4 1101.8,431.0 1102.9,601.6 1103.9,531.2 1105.0,536.0 1106.1,553.5 1107.1,549.6 1108.2,527.7 1109.2,531.2 1110.3,500.0 1111.3,588.0 1112.4,537.0 1113.4,480.6 1114.5,525.6 1115.6,546.6 1116.6,549.4 1117.7,593.0 1118.7,543.8 1119.8,531.4 1120.8,551.4 1121.9,522.0" stroke="#ff2000"/>
<path d="M1680.5,534.9 1681.6,537.8 1682.6,530.6 1683.7,533.4 1684.7,528.9 1685.8,532.7 1686.9,531.4 1687.9,536.6 1689.0,530.8 1690.0,531.9 1691.1,533.5 1692.1,527.1 1693.2,532.9 1694.2,525.2 1695.3,532.8 1696.4,526.9 1697.4,528.0 1698.5,532.2 1699.5,533.6 1700.6,529.3 1701.6,534.5 1702.7,529.8 1703.7,530.2 1704.8,531.4 1705.9,528.4 1706.9,536.0 1708.0,529.5 1709.0,533.1 1710.1,533.2" stroke="#ff2000"/>
<path d="M686.8,556.0 687.9,548.0 688.9,536.0 690.0,533.8 691.0,533.4 692.1,534.4 693.2,533.5 694.2,534.1 695.3,532.8 696.3,532.5 697.4,531.2 698.4,532.3 699.5,533.7 700.5,532.6 701.6,532.5 702.7,532.6 703.7,530.6 704.8,534.3 705.8,533.0 706.9,532.6 707.9,532.4 709.0,531.3 710.1,531.5 711.1,533.0 712.2,529.2 713.2,533.2 714.3,534.8 715.3,531.8 716.4,531.5 717.4,532.8 718.5,533.1 719.6,532.5 720.6,533.2 721.7,533.1 722.7,531.9 723.8,533.4 724.8,534.1 725.9,532.7 726.9,530.1 728.0,531.1 729.1,532.4 730.1,533.8 731.2,532.4 732.2,532.1 733.3,532.4 734.3,533.3 735.4,533.5 736.5,532.9 737.5,531.1 738.6,532.6 739.6,532.3 740.7,534.2 741.7,533.5 742.8,534.8 743.8,534.0 744.9,531.1 746.0,534.5 747.0,530.6 748.1,534.7 749.1,533.9 750.2,534.2 751.2,532.7 752.3,533.1 753.3,531.0 754.4,533.8 755.5,532.8 756.5,531.2 757.6,530.4 758.6,533.1 759.7,530.2 760.7,532.2 761.8,530.9 762.9,531.8 763.9,530.5 765.0,530.2 766.0,531.4 767.1,531.2 768.1,534.6 769.2,532.3 770.2,534.3 771.3,532.9 772.4,533.2 773.4,529.3 774.5,532.4 775.5,531.6 776.6,530.7 777.6,531.9 778.7,531.3 779.7,532.3 780.8,529.9 781.9,532.4 782.9,530.8 784.0,533.2 785.0,528.7 786.1,531.8 787.1,533.4 788.2,531.9 789.3,526.6 790.3,526.6 791.4,532.2 792.4,532.1 793.5,531.6 794.5,534.2 795.6,532.5 796.6,530.6 797.7,532.3 798.8,535.4 799.8,529.5 800.9,531.2 801.9,532.2 803.0,531.1 804.0,534.8 805.1,531.7 806.1,531.1 807.2,530.3 808.3,532.8 809.3,534.5 810.4,533.9 811.4,531.2 812.5,531.0 813.5,535.6 814.6,532.9 815.7,529.3 816.7,531.1 817.8,532.8 818.8,532.1 819.9,531.6 820.9,532.5 822.0,532.7 823.0,530.8 824.1,534.0 825.2,530.8 826.2,537.9 827.3,533.0 828.3,533.3 829.4,533.1 830.4,530.6 831.5,532.8 832.5,532.1 833.6,533.7 834.7,532.6 835.7,534.5 836.8,532.1 837.8,537.9 838.9,532.5 839.9,533.3 841.0,534.9 842.1,533.0 843.1,532.9 844.2,532.6 845.2,533.2 846.3,527.5 847.3,535.1 848.4,533.2 849.4,535.2 850.5,533.7 851.6,533.6 852.6,531.9 853.7,532.8 854.7,533.5 855.8,533.4 856.8,534.4 857.9,533.2 858.9,532.2 860.0,534.3 861.1,533.0 862.1,533.4 863.2,533.4 864.2,530.0 865.3,532.0 866.3,532.2 867.4,531.8 868.5,531.9 869.5,534.7 870.6,532.7 871.6,532.1 872.7,532.3 873.7,531.5 874.8,535.3 875.8,530.8 876.9,530.6 878.0,530.3 879.0,532.5 880.1,536.0 881.1,533.3 882.2,532.2 883.2,530.4 884.3,532.6 885.3,532.8 886.4,534.6 887.5,532.9 888.5,533.2 889.6,534.4 890.6,536.7 891.7,534.0 892.7,531.4 893.8,526.6 894.9,538.4 895.9,533.7 897.0,530.6 898.0,533.7 899.1,532.4 900.1,531.6 901.2,534.5 902.2,529.7 903.3,531.2 904.4,531.1 905.4,531.5 906.5,530.0 907.5,530.8 908.6,537.9 909.6,534.2 910.7,531.5 911.7,531.3 912.8,531.2 913.9,534.0 914.9,531.2 916.0,529.7 917.0,533.6 918.1,532.2 919.1,534.8 920.2,532.9 921.3,533.8 922.3,531.2 923.4,533.3 924.4,532.3 925.5,532.5 926.5,532.5 927.6,531.4 928.6,531.3 929.7,533.2 930.8,532.2 931.8,532.8 932.9,533.6 933.9,533.4 935.0,533.2 936.0,529.6 937.1,531.2 938.1,531.6 939.2,532.2 940.3,532.5 941.3,532.5 942.4,533.3 943.4,534.6 944.5,532.6 945.5,533.2 946.6,531.7 947.7,532.5 948.7,531.6 949.8,533.6 950.8,531.2 951.9,533.3 952.9,531.1 954.0,531.2 955.0,532.1 956.1,533.7 957.2,533.0 958.2,533.1 959.3,531.2 960.3,533.0 961.4,532.5 962.4,532.4 963.5,531.0 964.5,531.5 965.6,533.6 966.7,533.6 967.7,530.5 968.8,532.3 969.8,530.6 970.9,532.0 971.9,532.2 973.0,531.1 974.1,533.2 975.1,532.2 976.2,531.0 977.2,532.1 978.3,534.2 979.3,531.2 980.4,532.9 981.4,532.6 982.5,539.4 983.6,527.0 984.6,533.8 985.7,529.3 986.7,520.9 987.8,532.5 988.8,532.2 989.9,531.7 990.9,532.5 992.0,535.0 993.1,534.1 994.1,538.7 995.2,528.6 996.2,539.4 997.3,528.5 998.3,537.3 999.4,528.5" stroke="#bf0000"/>
<path d="M1603.4,536.4 1604.5,519.1 1605.5,540.9 1606.6,522.6 1607.7,558.9 1608.7,526.5 1609.8,524.9 1610.8,530.6 1611.9,534.7 1612.9,533.8 1614.0,533.2 1615.0,522.9 1616.1,528.1 1617.2,529.9 1618.2,533.0 1619.3,534.4 1620.3,554.8 1621.4,518.9 1622.4,535.5 1623.5,531.5 1624.5,522.0 1625.6,541.5 1626.7,533.8 1627.7,524.6 1628.8,537.2 1629.8,547.5 1630.9,529.8 1631.9,527.6 1633.0,535.5 1634.1,509.9 1635.1,544.8 1636.2,543.2 1637.2,534.4 1638.3,533.6 1639.3,530.0 1640.4,533.9 1641.4,534.5 1642.5,532.4 1643.6,526.6 1644.6,529.8 1645.7,529.8 1646.7,529.7 1647.8,529.0 1648.8,531.5 1649.9,532.6 1650.9,531.1 1652.0,533.1 1653.1,533.8 1654.1,536.3 1655.2,532.1 1656.2,533.3 1657.3,532.7 1658.3,531.1 1659.4,533.8 1660.5,529.5 1661.5,534.4 1662.6,530.5 1663.6,525.2 1664.7,534.5 1665.7,535.0 1666.8,533.0 1667.8,538.7 1668.9,533.7 1670.0,534.6 1671.0,533.2 1672.1,536.0 1673.1,534.4 1674.2,519.5 1675.2,534.6 1676.3,529.5 1677.3,530.3 1678.4,528.2 1679.5,532.5 1680.5,519.0 1681.6,544.6 1682.6,534.2 1683.7,536.4 1684.7,537.6 1685.8,525.9 1686.9,531.5 1687.9,534.2 1689.0,533.9 1690.0,531.9 1691.1,530.7 1692.1,538.0 1693.2,531.8 1694.2,535.7 1695.3,533.9 1696.4,528.3 1697.4,537.1 1698.5,528.5 1699.5,533.9 1700.6,534.8 1701.6,530.8 1702.7,533.8 1703.7,536.2 1704.8,535.6 1705.9,531.4 1706.9,531.2 1708.0,531.4 1709.0,533.8 1710.1,536.6" stroke="#bf0000"/>
<path d="M210.6,527.9 211.6,534.9 212.7,534.4 213.7,531.9 214.8,531.4 215.8,531.0 216.9,536.0 218.0,536.3 219.0,533.2 220.1,533.4 221.1,534.1 222.2,532.9 223.2,531.5 224.3,532.4 225.3,534.5 226.4,534.5 227.5,535.0 228.5,532.9 229.6,533.2 230.6,534.2 231.7,534.5 232.7,531.8 233.8,532.3 234.9,534.2 235.9,532.3 237.0,531.3 238.0,529.2 239.1,531.6 240.1,529.9 241.2,530.6 242.2,531.2 243.3,530.1 244.4,530.5 245.4,532.9 246.5,529.8 247.5,530.5 248.6,533.5 249.6,530.0 250.7,533.2 251.7,528.6 252.8,531.9 253.9,532.2 254.9,531.6 256.0,536.6 257.0,533.6 258.1,530.7 259.1,532.8 260.2,532.6 261.3,536.0 262.3,529.4 263.4,536.4 264.4,532.2 265.5,532.4 266.5,533.6 267.6,529.4 268.6,535.4 269.7,530.5 270.8,536.0 271.8,533.4 272.9,539.9 273.9,531.4 275.0,529.5 276.0,534.9 277.1,530.8 278.1,531.8 279.2,532.6 280.3,527.7 281.3,538.2 282.4,532.1 283.4,526.2 284.5,534.7 285.5,532.7 286.6,527.9 287.7,534.7 288.7,534.6 289.8,533.4 290.8,530.4 291.9,548.4 292.9,533.4 294.0,533.5 295.0,533.1 296.1,529.2 297.2,535.1 298.2,528.7 299.3,531.9 300.3,534.0 301.4,533.2 302.4,530.2 303.5,532.7 304.5,532.9 305.6,534.8 306.7,535.4 307.7,531.5 308.8,532.1 309.8,533.0 310.9,537.0 311.9,527.8 313.0,537.4 314.1,529.4 315.1,531.0 316.2,532.7 317.2,533.0 318.3,530.4 319.3,530.7 320.4,529.0 321.4,539.5 322.5,539.4 323.6,535.5 324.6,533.8 325.7,528.4 326.7,533.6 327.8,537.7 328.8,533.3 329.9,530.5 330.9,535.1 332.0,532.5 333.1,535.8 334.1,536.1 335.2,534.6 336.2,531.5 337.3,530.8 338.3,533.5 339.4,530.2 340.5,531.3 341.5,535.9 342.6,525.2 343.6,533.2 344.7,533.0 345.7,529.8 346.8,528.7 347.8,531.4 348.9,530.5 350.0,531.0 351.0,529.3 352.1,530.0 353.1,530.0 354.2,534.2 355.2,534.5 356.3,532.6 357.3,535.0 358.4,530.4 359.5,533.5 360.5,535.9 361.6,531.6 362.6,525.8 363.7,534.4 364.7,533.3 365.8,529.3 366.9,528.5 367.9,534.2 369.0,530.4 370.0,532.7 371.1,532.7 372.1,529.2 373.2,535.9 374.2,535.5 375.3,532.5 376.4,531.2 377.4,533.6 378.5,531.6 379.5,536.5 380.6,534.8 381.6,533.5 382.7,530.7 383.7,535.1 384.8,531.6 385.9,531.3 386.9,532.4 388.0,537.3 389.0,529.5 390.1,532.6 391.1,529.4 392.2,531.4 393.3,536.6 394.3,528.0 395.4,532.5 396.4,535.5 397.5,534.1 398.5,529.5 399.6,528.8 400.6,534.7 401.7,536.5 402.8,532.7 403.8,532.3 404.9,528.1 405.9,534.7 407.0,531.2 408.0,534.9 409.1,527.6 410.1,536.0 411.2,531.8 412.3,533.4 413.3,530.2 414.4,532.9 415.4,532.9 416.5,534.0 417.5,531.4 418.6,533.7 419.7,532.9 420.7,529.4 421.8,536.1 422.8,534.6 423.9,535.2 424.9,533.5 426.0,533.6 427.0,533.7 428.1,535.8 429.2,530.5 430.2,530.6 431.3,533.5 432.3,527.1 433.4,534.3 434.4,533.0 435.5,536.5 436.5,529.9 437.6,534.2 438.7,530.2 439.7,534.2 440.8,534.3 441.8,532.9 442.9,534.6 443.9,531.6 445.0,529.5 446.1,537.4 447.1,532.6 448.2,533.0 449.2,531.6 450.3,530.8 451.3,530.6 452.4,527.0 453.4,531.0 454.5,535.2 455.6,531.8 456.6,531.7 457.7,535.0 458.7,532.0 459.8,529.8 460.8,531.4 461.9,532.1 462.9,533.6 464.0,534.4 465.1,536.7 466.1,531.4 467.2,533.6 468.2,534.8 469.3,531.0 470.3,535.9 471.4,529.7 472.5,527.9 473.5,527.7 474.6,532.9 475.6,532.7 476.7,526.4 477.7,530.3 478.8,529.9 479.8,534.5 480.9,531.0 482.0,530.6 483.0,530.4 484.1,530.6 485.1,534.5 486.2,533.2 487.2,534.1 488.3,534.2 489.3,535.9 490.4,534.5 491.5,535.2 492.5,530.4 493.6,532.1 494.6,532.9 495.7,536.3 496.7,534.8 497.8,530.6 498.9,533.1 499.9,536.3 501.0,532.2 502.0,533.6 503.1,530.4 504.1,533.4 505.2,531.9 506.2,534.6 507.3,532.4 508.4,532.2 509.4,532.0 510.5,537.1 511.5,528.1 512.6,529.3 513.6,533.1 514.7,534.8 515.7,533.9" stroke="#9f0000"/>
<path d="M1158.9,566.0 1159.9,560.0 1161.0,539.3 1162.0,540.8 1163.1,531.0 1164.1,532.4 1165.2,537.3 1166.2,521.5 1167.3,524.3 1168.4,537.3 1169.4,527.5 1170.5,527.2 1171.5,534.1 1172.6,535.2 1173.6,528.3 1174.7,533.3 1175.7,534.4 1176.8,526.7 1177.9,524.2 1178.9,535.4 1180.0,532.8 1181.0,532.9 1182.1,530.5 1183.1,532.6 1184.2,535.6 1185.3,541.4 1186.3,529.7 1187.4,530.2 1188.4,538.2 1189.5,538.7 1190.5,535.9 1191.6,530.8 1192.6,533.7 1193.7,537.8 1194.8,543.5 1195.8,539.1 1196.9,541.2 1197.9,536.0 1199.0,535.8 1200.0,537.9 1201.1,538.1 1202.1,533.4 1203.2,543.1 1204.3,536.1 1205.3,535.2 1206.4,528.9 1207.4,528.9 1208.5,534.6 1209.5,530.4 1210.6,532.2 1211.7,529.8 1212.7,536.2 1213.8,533.6 1214.8,532.5 1215.9,528.8 1216.9,534.9 1218.0,524.4 1219.0,520.9 1220.1,530.2 1221.2,545.6 1222.2,529.7 1223.3,530.5 1224.3,526.9 1225.4,531.1 1226.4,540.2 1227.5,532.4 1228.5,535.1 1229.6,528.8 1230.7,534.4 1231.7,532.2 1232.8,528.7 1233.8,529.6 1234.9,533.9 1235.9,528.3 1237.0,539.6 1238.1,534.5 1239.1,538.9 1240.2,528.8 1241.2,530.5 1242.3,530.5 1243.3,538.6 1244.4,539.3 1245.4,534.9 1246.5,532.8 1247.6,530.8 1248.6,540.6 1249.7,525.6 1250.7,540.8 1251.8,536.9 1252.8,534.7 1253.9,534.8 1254.9,527.1 1256.0,527.1 1257.1,529.7 1258.1,536.9 1259.2,530.1 1260.2,527.5 1261.3,530.8 1262.3,532.6 1263.4,539.0 1264.5,531.2 1265.5,546.7 1266.6,530.0 1267.6,536.6 1268.7,503.4 1269.7,535.4 1270.8,533.0 1271.8,537.4 1272.9,509.0 1274.0,538.7 1275.0,531.1 1276.1,523.9 1277.1,534.6 1278.2,534.4 1279.2,535.9 1280.3,532.4 1281.3,535.2 1282.4,529.1 1283.5,523.2 1284.5,526.1 1285.6,527.7 1286.6,523.7 1287.7,540.5 1288.7,538.6 1289.8,532.2 1290.9,535.8 1291.9,533.3 1293.0,528.7 1294.0,536.5 1295.1,524.4 1296.1,535.1 1297.2,537.9 1298.2,522.6 1299.3,538.0 1300.4,534.3 1301.4,532.0 1302.5,538.8 1303.5,533.7 1304.6,528.7 1305.6,527.6 1306.7,532.7 1307.7,528.1 1308.8,533.0 1309.9,534.0 1310.9,532.5 1312.0,526.7 1313.0,521.3 1314.1,528.0 1315.1,543.7 1316.2,531.3 1317.3,536.4 1318.3,536.8 1319.4,532.3 1320.4,533.0 1321.5,533.8 1322.5,531.8 1323.6,534.2 1324.6,539.0 1325.7,521.3 1326.8,538.2 1327.8,534.8 1328.9,526.8 1329.9,536.8 1331.0,531.2 1332.0,534.2 1333.1,533.6 1334.1,532.7 1335.2,532.0 1336.3,537.0 1337.3,535.6 1338.4,535.1 1339.4,532.2 1340.5,535.3 1341.5,532.0 1342.6,536.9 1343.7,529.8 1344.7,534.2 1345.8,533.4 1346.8,531.9 1347.9,530.4 1348.9,534.9 1350.0,527.7 1351.0,531.5 1352.1,533.1 1353.2,528.8 1354.2,527.7 1355.3,538.3 1356.3,529.4 1357.4,533.0 1358.4,535.4 1359.5,529.3 1360.5,533.8 1361.6,532.2 1362.7,536.8 1363.7,535.3 1364.8,533.5 1365.8,534.1 1366.9,526.7 1367.9,537.4 1369.0,531.1 1370.1,535.1 1371.1,534.2 1372.2,533.1 1373.2,534.3 1374.3,535.8 1375.3,530.3 1376.4,532.6 1377.4,536.8" stroke="#9f0000"/>
<path d="M191.6,911.0 192.6,912.6 193.7,907.9 194.7,911.3 195.8,910.9 196.8,912.0 197.9,913.7 198.9,912.2 200.0,914.0 201.1,912.8 202.1,913.0 203.2,912.9 204.2,913.7 205.3,911.8 206.3,913.0 207.4,912.1 208.5,913.3 209.5,913.1 210.6,911.7 211.6,913.3 212.7,912.8 213.7,911.5 214.8,913.2 215.8,914.0 216.9,912.3 218.0,914.2 219.0,914.7 220.1,912.6 221.1,915.0 222.2,914.0 223.2,914.4 224.3,913.8 225.3,913.0 226.4,913.9 227.5,914.8 228.5,913.3 229.6,912.2 230.6,914.7 231.7,913.9 232.7,912.9 233.8,914.1 234.9,913.7 235.9,912.7 237.0,912.9 238.0,913.5 239.1,911.0 240.1,913.3 241.2,913.8 242.2,913.8 243.3,902.1 244.4,914.9 245.4,913.2 246.5,913.2 247.5,913.2 248.6,912.9 249.6,914.2 250.7,911.0 251.7,913.8 252.8,913.8 253.9,915.0 254.9,913.0 256.0,914.6 257.0,913.0 258.1,914.6 259.1,912.2 260.2,913.7 261.3,912.6 262.3,913.3 263.4,913.8 264.4,913.7 265.5,912.7 266.5,912.5 267.6,914.9 268.6,911.5 269.7,913.3 270.8,913.6 271.8,913.7 272.9,913.9 273.9,913.1 275.0,914.9 276.0,914.6 277.1,914.9 278.1,913.4 279.2,897.9 280.3,914.9 281.3,914.2 282.4,912.8 283.4,914.0 284.5,913.1 285.5,912.0 286.6,914.5 287.7,913.0 288.7,913.1 289.8,914.1 290.8,914.3 291.9,913.6 292.9,914.8 294.0,912.2 295.0,912.0 296.1,913.6 297.2,911.6 298.2,912.8 299.3,914.4 300.3,913.1 301.4,894.9 302.4,915.0 303.5,915.1 304.5,915.1 305.6,915.7 306.7,913.8 307.7,914.2 308.8,914.0 309.8,914.3 310.9,913.4 311.9,914.0 313.0,913.9 314.1,913.7 315.1,914.1 316.2,913.7 317.2,915.0 318.3,914.1 319.3,913.0 320.4,913.0 321.4,914.1 322.5,913.6 323.6,914.7 324.6,913.3 325.7,915.0 326.7,914.9 327.8,913.3 328.8,913.4 329.9,913.3 330.9,913.3 332.0,914.1 333.1,903.8 334.1,912.7 335.2,913.4 336.2,912.2 337.3,912.4 338.3,913.2 339.4,914.2 340.5,913.1 341.5,913.2 342.6,913.2 343.6,914.5 344.7,913.7 345.7,914.7 346.8,913.5 347.8,913.4 348.9,915.7 350.0,912.1 351.0,912.6 352.1,913.3 353.1,914.0 354.2,914.1 355.2,915.3 356.3,912.5 357.3,912.8 358.4,911.8 359.5,913.0 360.5,912.9 361.6,912.6 362.6,912.8 363.7,913.5 364.7,914.0 365.8,912.5 366.9,913.2 367.9,914.8 369.0,912.5 370.0,913.4 371.1,912.0 372.1,912.7 373.2,913.2 374.2,914.7 375.3,913.4 376.4,911.7 377.4,913.2 378.5,911.5 379.5,913.8 380.6,912.3 381.6,906.1 382.7,911.9 383.7,913.0 384.8,910.9 385.9,910.4 386.9,911.6 388.0,912.6 389.0,908.8" stroke="#00009f"/>
<path d="M586.5,916.4 587.6,916.4 588.6,905.6 589.7,915.6 590.7,915.8 591.8,915.8 592.8,915.9 593.9,916.2 594.9,916.3 596.0,916.7 597.1,915.9 598.1,915.2 599.2,915.8 600.2,916.8 601.3,915.6 602.3,915.2 603.4,916.9 604.5,916.2 605.5,915.5 606.6,915.9 607.6,916.2 608.7,915.3 609.7,917.5 610.8,914.6 611.8,917.4 612.9,915.1 614.0,916.6 615.0,916.0 616.1,915.3 617.1,915.9 618.2,916.3 619.2,915.9 620.3,916.7 621.3,916.3 622.4,917.4 623.5,913.9 624.5,915.7 625.6,915.6 626.6,915.8 627.7,916.0 628.7,916.5 629.8,915.6 630.9,916.7 631.9,916.2 633.0,916.1 634.0,916.3 635.1,917.1 636.1,916.0 637.2,915.6 638.2,916.6 639.3,916.6 640.4,916.5 641.4,915.6 642.5,915.0 643.5,917.2 644.6,916.2 645.6,914.8 646.7,915.8 647.7,917.2 648.8,916.4 649.9,916.1 650.9,916.3 652.0,915.6 653.0,916.0 654.1,916.5 655.1,916.6 656.2,916.5 657.3,909.8 658.3,916.8 659.4,915.1 660.4,916.2 661.5,915.6 662.5,915.6 663.6,915.3 664.6,916.1 665.7,916.6 666.8,917.5 667.8,916.6 668.9,916.8 669.9,916.8 671.0,916.9 672.0,916.1 673.1,916.5 674.1,915.9 675.2,916.2 676.3,915.5 677.3,915.9 678.4,916.5 679.4,916.0 680.5,915.8 681.5,901.0 682.6,915.8 683.7,917.5 684.7,916.8 685.8,916.2 686.8,917.1 687.9,917.7 688.9,916.1 690.0,916.4 691.0,915.8 692.1,916.1 693.2,916.9 694.2,901.3 695.3,915.5 696.3,901.6 697.4,916.7 698.4,916.0 699.5,914.2 700.5,916.6 701.6,916.2 702.7,916.6 703.7,916.2 704.8,916.8 705.8,916.7 706.9,915.8 707.9,917.4 709.0,916.1 710.1,915.8 711.1,915.2 712.2,918.0 713.2,916.2 714.3,916.6 715.3,917.6 716.4,915.3 717.4,917.2 718.5,915.8 719.6,916.3 720.6,915.9 721.7,915.2 722.7,916.8 723.8,915.5 724.8,916.3 725.9,916.3 726.9,916.5 728.0,915.6 729.1,916.8 730.1,915.2 731.2,916.0 732.2,914.9 733.3,916.3 734.3,915.0 735.4,916.1 736.5,915.6 737.5,914.7 738.6,916.4 739.6,915.6 740.7,915.4 741.7,916.7 742.8,916.2 743.8,916.3 744.9,916.3 746.0,916.6 747.0,915.8 748.1,916.3 749.1,916.0 750.2,915.5 751.2,915.6 752.3,916.1 753.3,915.6 754.4,916.7 755.5,915.6 756.5,915.9 757.6,915.6 758.6,915.6 759.7,915.6 760.7,917.1 761.8,916.6 762.9,917.1 763.9,916.1 765.0,917.5 766.0,916.7 767.1,916.0 768.1,915.1 769.2,916.7 770.2,916.9 771.3,915.3 772.4,916.7 773.4,916.3 774.5,915.8 775.5,916.2 776.6,915.7 777.6,916.3 778.7,917.4 779.7,916.8 780.8,916.5 781.9,916.4 782.9,904.7 784.0,916.0 785.0,916.7 786.1,915.8 787.1,915.0 788.2,915.8 789.3,915.2 790.3,915.6 791.4,915.1 792.4,915.2 793.5,915.4 794.5,914.3 795.6,915.5 796.6,912.6 797.7,912.7 798.8,910.6 799.8,915.2 800.9,909.7 801.9,910.4 803.0,912.5 804.0,908.6 805.1,910.5 806.1,902.7 807.2,912.4 808.3,913.2 809.3,912.8 810.4,909.2 811.4,911.4 812.5,912.8 813.5,912.4 814.6,913.9 815.7,914.7 816.7,913.2 817.8,912.8 818.8,913.4 819.9,914.9 820.9,916.9 822.0,914.5 823.0,916.9 824.1,908.4 825.2,915.9 826.2,915.5 827.3,917.1 828.3,916.4 829.4,916.6 830.4,915.5 831.5,915.5 832.5,914.9 833.6,915.8 834.7,917.8 835.7,916.6 836.8,917.0 837.8,915.3 838.9,916.9 839.9,916.7 841.0,916.9 842.1,916.8 843.1,915.2 844.2,915.3 845.2,915.3 846.3,916.2 847.3,916.5 848.4,912.4 849.4,915.8 850.5,916.1 851.6,914.6 852.6,910.8 853.7,895.9 854.7,901.9 855.8,913.1 856.8,915.2 857.9,913.5 858.9,912.7 860.0,908.6 861.1,908.3 862.1,910.8 863.2,911.5 864.2,869.3 865.3,898.3 866.3,904.9 867.4,887.7 868.5,895.2 869.5,901.2 870.6,902.2 871.6,903.8 872.7,909.0 873.7,911.5 874.8,908.8 875.8,905.3 876.9,911.4 878.0,910.3 879.0,898.7 880.1,895.0 881.1,897.7 882.2,908.9 883.2,890.3 884.3,867.1 885.3,879.8 886.4,883.6 887.5,850.3" stroke="#00009f"/>
<path d="M1083.9,862.7 1084.9,822.8 1086.0,879.5 1087.0,877.0 1088.1,902.1 1089.2,897.2 1090.2,907.0 1091.3,908.3 1092.3,909.8 1093.4,900.9 1094.4,901.3 1095.5,908.7 1096.5,902.8 1097.6,906.2 1098.7,907.6 1099.7,907.0 1100.8,906.4 1101.8,891.1 1102.9,907.3 1103.9,904.4 1105.0,907.2 1106.1,910.6 1107.1,911.9 1108.2,913.3 1109.2,909.2 1110.3,904.9 1111.3,886.6 1112.4,898.3 1113.4,891.3 1114.5,896.4 1115.6,904.9 1116.6,910.2 1117.7,910.5 1118.7,910.9 1119.8,909.7 1120.8,909.0 1121.9,901.6 1122.9,898.8 1124.0,911.9 1125.1,909.0 1126.1,898.1 1127.2,914.6 1128.2,911.9 1129.3,911.8 1130.3,913.6 1131.4,909.4 1132.5,911.8 1133.5,911.5 1134.6,910.0 1135.6,912.8 1136.7,912.2 1137.7,901.1 1138.8,912.7 1139.8,906.6 1140.9,909.4 1142.0,913.3 1143.0,911.9 1144.1,908.6 1145.1,913.8 1146.2,914.8 1147.2,913.8 1148.3,911.6 1149.3,912.3 1150.4,914.3 1151.5,913.8 1152.5,913.6 1153.6,912.4 1154.6,913.5 1155.7,914.0 1156.7,909.7 1157.8,913.4 1158.9,911.4 1159.9,912.3 1161.0,914.8 1162.0,912.8 1163.1,903.6 1164.1,915.2 1165.2,914.4 1166.2,913.0 1167.3,913.4 1168.4,914.1 1169.4,912.5 1170.5,914.6 1171.5,912.9 1172.6,912.1 1173.6,912.5 1174.7,905.4 1175.7,907.6 1176.8,912.6 1177.9,908.0 1178.9,913.9 1180.0,913.8 1181.0,912.4 1182.1,912.1 1183.1,912.3 1184.2,912.6 1185.3,912.9 1186.3,912.3 1187.4,907.1 1188.4,904.3 1189.5,908.0 1190.5,903.8 1191.6,912.5 1192.6,910.5 1193.7,903.4 1194.8,912.3 1195.8,910.9 1196.9,912.7 1197.9,914.0 1199.0,910.0 1200.0,911.7 1201.1,909.8 1202.1,907.9 1203.2,908.0 1204.3,908.6 1205.3,907.3 1206.4,908.4 1207.4,909.0 1208.5,911.4 1209.5,916.6 1210.6,911.9 1211.7,908.3 1212.7,899.8 1213.8,902.5 1214.8,913.6 1215.9,912.9 1216.9,912.5 1218.0,916.2 1219.0,916.3 1220.1,913.0 1221.2,916.1 1222.2,913.5 1223.3,913.7 1224.3,911.3 1225.4,905.4 1226.4,911.4 1227.5,901.2 1228.5,913.9 1229.6,911.4 1230.7,912.3 1231.7,910.6 1232.8,912.0 1233.8,914.8 1234.9,913.2 1235.9,912.2 1237.0,912.4 1238.1,913.8 1239.1,913.9 1240.2,912.7 1241.2,909.6 1242.3,914.6 1243.3,912.2 1244.4,914.0 1245.4,913.2 1246.5,913.2 1247.6,917.0 1248.6,904.2 1249.7,913.2 1250.7,912.7 1251.8,911.7 1252.8,914.2 1253.9,912.1 1254.9,908.2 1256.0,913.3 1257.1,912.4 1258.1,908.5 1259.2,913.3 1260.2,914.3 1261.3,914.0 1262.3,914.6 1263.4,913.4 1264.5,911.6 1265.5,913.8 1266.6,911.0 1267.6,909.5 1268.7,913.0 1269.7,910.4 1270.8,913.9 1271.8,908.9 1272.9,909.7 1274.0,905.6 1275.0,895.8 1276.1,909.5 1277.1,915.4 1278.2,906.0 1279.2,905.7 1280.3,907.8 1281.3,903.5 1282.4,904.3 1283.5,894.4" stroke="#00009f"/>
<path d="M1504.2,892.0 1505.2,900.6 1506.3,906.6 1507.3,900.9 1508.4,907.7 1509.4,895.5 1510.5,908.1 1511.6,904.8 1512.6,905.2 1513.7,905.0 1514.7,909.3 1515.8,906.0 1516.8,906.2 1517.9,909.3 1518.9,908.8 1520.0,907.4 1521.1,908.6 1522.1,908.6 1523.2,907.8 1524.2,907.1 1525.3,909.0 1526.3,911.3 1527.4,911.1 1528.5,908.5 1529.5,911.7 1530.6,907.3 1531.6,908.6 1532.7,910.7 1533.7,909.8 1534.8,910.8 1535.8,909.3 1536.9,908.9 1538.0,909.3 1539.0,909.1 1540.1,909.2 1541.1,909.3 1542.2,909.0 1543.2,910.5 1544.3,910.5 1545.3,910.9 1546.4,911.2 1547.5,909.1 1548.5,909.7 1549.6,908.8 1550.6,889.1 1551.7,910.4 1552.7,910.0 1553.8,909.4 1554.9,909.1 1555.9,909.3 1557.0,910.3 1558.0,911.0 1559.1,908.6 1560.1,910.8 1561.2,910.6 1562.2,910.7 1563.3,910.7 1564.4,911.4 1565.4,908.4 1566.5,906.2 1567.5,912.6 1568.6,910.1 1569.6,910.1 1570.7,910.8 1571.7,909.7 1572.8,909.4 1573.9,910.5 1574.9,910.1 1576.0,909.5 1577.0,912.3 1578.1,908.4 1579.1,908.8 1580.2,911.0 1581.3,911.3 1582.3,910.7 1583.4,908.9 1584.4,910.1 1585.5,909.6 1586.5,909.4 1587.6,908.5 1588.6,907.8 1589.7,908.9 1590.8,908.6 1591.8,908.7 1592.9,908.0 1593.9,909.4 1595.0,911.1 1596.0,908.9 1597.1,910.0 1598.1,908.4 1599.2,908.9 1600.3,911.5 1601.3,909.4 1602.4,909.9 1603.4,910.9 1604.5,908.8 1605.5,909.6 1606.6,908.0 1607.7,910.3 1608.7,910.2 1609.8,910.3 1610.8,911.2 1611.9,911.1 1612.9,908.4 1614.0,909.6 1615.0,911.6 1616.1,910.1 1617.2,910.3 1618.2,909.9 1619.3,911.1 1620.3,909.4 1621.4,910.3 1622.4,910.4 1623.5,911.6 1624.5,910.6 1625.6,911.1 1626.7,910.2 1627.7,909.8 1628.8,910.6 1629.8,911.1 1630.9,910.6 1631.9,909.3 1633.0,909.8 1634.1,909.4 1635.1,909.7 1636.2,911.4 1637.2,910.4 1638.3,910.4 1639.3,909.2 1640.4,908.9 1641.4,911.2 1642.5,908.8 1643.6,909.3 1644.6,909.2 1645.7,909.8 1646.7,911.4 1647.8,909.7 1648.8,911.4 1649.9,910.2 1650.9,909.7 1652.0,910.9 1653.1,904.8 1654.1,907.5 1655.2,910.6 1656.2,891.8 1657.3,908.2 1658.3,910.3 1659.4,910.0 1660.5,908.6 1661.5,910.1 1662.6,909.9 1663.6,910.2 1664.7,911.7 1665.7,909.3 1666.8,908.5 1667.8,911.2 1668.9,910.4 1670.0,910.4 1671.0,909.8 1672.1,909.6 1673.1,909.0 1674.2,911.1 1675.2,909.0 1676.3,909.3 1677.3,910.2 1678.4,910.1 1679.5,909.9 1680.5,910.6 1681.6,910.5 1682.6,909.0 1683.7,908.3 1684.7,910.9 1685.8,911.5 1686.9,909.6 1687.9,909.7 1689.0,911.2 1690.0,910.3 1691.1,908.9 1692.1,910.8 1693.2,910.3 1694.2,911.3 1695.3,910.3 1696.4,909.0 1697.4,909.5 1698.5,910.1 1699.5,909.0 1700.6,909.9 1701.6,909.7 1702.7,910.5 1703.7,909.1 1704.8,908.0 1705.9,910.1 1706.9,911.2 1708.0,908.5 1709.0,908.6 1710.1,908.6" stroke="#0000bf"/>
<path d="M324.6,877.7 325.7,888.1 326.7,875.0 327.8,892.1 328.8,896.9 329.9,894.4 330.9,899.1 332.0,908.2 333.1,898.4 334.1,902.6 335.2,903.9 336.2,910.3 337.3,912.1 338.3,911.8 339.4,912.8 340.5,911.6 341.5,908.2 342.6,910.7 343.6,911.4 344.7,913.0 345.7,912.4 346.8,913.0 347.8,910.3 348.9,914.0 350.0,910.4 351.0,912.0 352.1,910.9 353.1,913.7 354.2,914.0 355.2,913.7 356.3,912.2 357.3,911.7 358.4,906.5 359.5,911.6 360.5,912.2 361.6,909.9 362.6,912.8 363.7,911.8 364.7,915.2 365.8,914.0 366.9,913.6 367.9,914.0 369.0,912.4 370.0,912.3 371.1,914.4 372.1,913.5 373.2,913.4 374.2,914.6 375.3,913.3 376.4,910.9 377.4,911.8 378.5,910.8 379.5,911.3 380.6,913.0 381.6,912.7 382.7,914.8 383.7,912.8 384.8,907.6 385.9,915.0 386.9,911.1 388.0,912.8 389.0,914.0 390.1,912.2 391.1,912.7 392.2,912.1 393.3,915.2 394.3,914.6 395.4,914.7 396.4,912.0 397.5,914.4 398.5,914.4 399.6,914.4 400.6,913.8 401.7,912.3 402.8,914.1 403.8,915.2 404.9,915.6 405.9,915.7 407.0,917.2 408.0,911.7 409.1,913.0 410.1,913.4 411.2,913.9 412.3,912.9 413.3,914.3 414.4,911.3 415.4,914.7 416.5,913.3 417.5,914.2 418.6,914.7 419.7,912.0 420.7,912.5 421.8,913.5 422.8,911.7 423.9,913.5 424.9,914.2 426.0,913.0 427.0,913.7 428.1,909.3 429.2,912.3 430.2,914.7 431.3,915.1 432.3,914.8 433.4,912.9 434.4,912.6 435.5,913.3 436.5,912.7 437.6,899.7 438.7,913.3 439.7,912.6 440.8,912.8 441.8,914.8 442.9,913.1 443.9,913.3 445.0,910.8 446.1,913.5 447.1,916.3 448.2,911.9 449.2,913.2 450.3,913.8 451.3,913.4 452.4,914.4 453.4,913.9 454.5,913.7 455.6,911.9 456.6,912.9 457.7,913.0 458.7,913.4 459.8,911.3 460.8,912.3 461.9,912.9 462.9,911.9 464.0,912.7 465.1,914.9 466.1,914.0 467.2,913.9 468.2,913.1 469.3,913.0 470.3,912.4 471.4,913.0 472.5,913.0 473.5,914.4 474.6,912.5 475.6,914.1 476.7,914.2 477.7,914.7 478.8,912.5 479.8,912.7 480.9,913.6 482.0,912.0 483.0,912.8 484.1,915.2 485.1,914.2 486.2,913.5 487.2,914.4 488.3,913.9 489.3,912.8 490.4,913.3 491.5,913.3 492.5,912.6 493.6,912.6 494.6,911.9 495.7,913.1 496.7,913.5 497.8,913.6 498.9,913.9 499.9,901.3 501.0,912.3 502.0,915.3 503.1,913.5 504.1,914.6 505.2,914.2 506.2,913.7 507.3,901.0 508.4,914.6 509.4,914.6 510.5,916.4 511.5,914.3 512.6,913.2 513.6,914.6 514.7,912.4 515.7,912.3 516.8,913.0 517.9,914.0 518.9,913.1 520.0,912.2 521.0,915.4 522.1,913.4 523.1,914.0 524.2,912.9 525.3,910.2 526.3,911.9 527.4,914.1 528.4,910.5 529.5,888.4 530.5,909.7 531.6,907.6 532.6,897.5 533.7,909.0 534.8,910.5 535.8,906.6 536.9,901.0 537.9,901.1 539.0,905.5 540.0,900.9 541.1,909.8 542.1,896.6 543.2,896.3 544.3,905.8 545.3,896.6 546.4,902.7 547.4,896.6 548.5,897.0 549.5,907.0 550.6,896.6 551.7,901.5 552.7,893.8 553.8,891.7 554.8,895.6 555.9,902.9 556.9,896.2 558.0,897.0 559.0,908.5 560.1,900.2 561.2,903.3 562.2,906.1 563.3,902.1 564.3,901.5 565.4,904.3 566.4,904.5 567.5,900.0 568.5,901.2 569.6,901.1 570.7,880.8 571.7,907.5 572.8,899.9 573.8,903.4 574.9,883.2" stroke="#0000df"/>
<path d="M1187.4,840.1 1188.4,901.4 1189.5,882.9 1190.5,891.1 1191.6,868.0 1192.6,897.1 1193.7,893.8 1194.8,896.6 1195.8,893.3 1196.9,908.2 1197.9,900.2 1199.0,905.8 1200.0,903.9 1201.1,905.7 1202.1,900.5 1203.2,895.5 1204.3,910.4 1205.3,912.3 1206.4,909.9 1207.4,913.2 1208.5,911.5 1209.5,905.9 1210.6,911.3 1211.7,910.0 1212.7,914.2 1213.8,913.3 1214.8,916.2 1215.9,914.3 1216.9,914.0 1218.0,915.5 1219.0,915.7 1220.1,913.8 1221.2,914.8 1222.2,914.7 1223.3,914.3 1224.3,915.6 1225.4,915.2 1226.4,914.4 1227.5,917.9 1228.5,915.8 1229.6,912.7 1230.7,916.6 1231.7,916.1 1232.8,907.9 1233.8,915.9 1234.9,918.3 1235.9,916.8 1237.0,916.2 1238.1,917.1 1239.1,916.6 1240.2,905.6 1241.2,918.7 1242.3,915.5 1243.3,916.4 1244.4,917.5 1245.4,917.6 1246.5,916.4 1247.6,912.9 1248.6,919.6 1249.7,918.2 1250.7,903.8 1251.8,918.4 1252.8,916.7 1253.9,917.8 1254.9,915.1 1256.0,917.1 1257.1,917.9 1258.1,916.2 1259.2,917.2 1260.2,917.2 1261.3,917.0 1262.3,916.5 1263.4,917.0 1264.5,915.9 1265.5,917.0 1266.6,917.3 1267.6,916.4 1268.7,917.4 1269.7,916.5 1270.8,915.6 1271.8,917.5 1272.9,916.8 1274.0,916.2 1275.0,916.7 1276.1,917.4 1277.1,918.9 1278.2,917.4 1279.2,916.3 1280.3,913.1 1281.3,917.3 1282.4,906.8 1283.5,917.8 1284.5,911.9 1285.6,914.5 1286.6,916.6 1287.7,917.4 1288.7,917.6 1289.8,917.3 1290.9,911.3 1291.9,915.7 1293.0,914.2 1294.0,917.6 1295.1,915.4 1296.1,917.3 1297.2,918.8 1298.2,914.2 1299.3,916.5 1300.4,914.6 1301.4,918.1 1302.5,916.5 1303.5,917.0 1304.6,916.6 1305.6,916.2 1306.7,916.8 1307.7,917.3 1308.8,918.3 1309.9,918.3 1310.9,916.4 1312.0,916.4 1313.0,915.5 1314.1,917.9 1315.1,916.8 1316.2,916.0 1317.3,910.5 1318.3,919.0 1319.4,915.8 1320.4,917.3 1321.5,916.4 1322.5,914.9 1323.6,915.7 1324.6,917.2 1325.7,916.4 1326.8,916.8 1327.8,916.2 1328.9,916.2 1329.9,915.8 1331.0,917.8 1332.0,918.2 1333.1,916.3 1334.1,916.1 1335.2,917.3 1336.3,916.2 1337.3,916.1 1338.4,908.7 1339.4,907.2 1340.5,917.1 1341.5,914.8 1342.6,916.9 1343.7,917.7 1344.7,916.6 1345.8,917.3 1346.8,916.2 1347.9,911.4 1348.9,917.7 1350.0,917.4 1351.0,916.3 1352.1,916.4 1353.2,917.5 1354.2,918.3 1355.3,917.0 1356.3,918.6 1357.4,917.8 1358.4,916.0 1359.5,917.1 1360.5,915.3 1361.6,913.7 1362.7,914.7 1363.7,917.2 1364.8,916.1 1365.8,917.8 1366.9,915.8 1367.9,915.4 1369.0,915.0 1370.1,913.6 1371.1,916.0 1372.2,899.3 1373.2,916.7 1374.3,916.5 1375.3,917.4 1376.4,914.7 1377.4,916.0 1378.5,914.9 1379.6,910.7 1380.6,916.6 1381.7,914.9 1382.7,917.8 1383.8,917.5 1384.8,916.8 1385.9,916.7 1386.9,915.2 1388.0,914.6 1389.1,915.9 1390.1,911.5 1391.2,912.3 1392.2,915.0 1393.3,911.7 1394.3,914.7 1395.4,902.7 1396.5,916.1 1397.5,915.3 1398.6,915.9 1399.6,915.7 1400.7,914.4 1401.7,915.0 1402.8,914.7 1403.8,914.7 1404.9,916.0 1406.0,916.2 1407.0,914.1 1408.1,915.1 1409.1,914.3 1410.2,913.0 1411.2,916.3 1412.3,913.9 1413.3,911.9 1414.4,913.7 1415.5,913.4 1416.5,916.0 1417.6,914.4 1418.6,913.7 1419.7,914.0 1420.7,912.8 1421.8,912.9 1422.9,914.0 1423.9,912.4 1425.0,912.0 1426.0,907.3 1427.1,911.7 1428.1,914.2 1429.2,910.4 1430.2,911.2 1431.3,909.6 1432.4,910.0 1433.4,907.1" stroke="#0000df"/>
<path d="M190.5,909.3 191.6,908.8 192.6,907.7 193.7,908.2 194.7,908.7 195.8,906.2 196.8,904.5 197.9,904.8 198.9,908.4 200.0,905.0 201.1,905.5 202.1,898.9 203.2,903.4 204.2,901.8 205.3,904.3 206.3,901.1 207.4,901.0 208.5,901.7 209.5,900.6 210.6,903.5 211.6,895.7 212.7,889.8 213.7,905.6 214.8,906.3 215.8,891.1 216.9,899.9 218.0,887.1" stroke="#0000ff"/>
<path d="M197.9,906.7 198.9,907.6 200.0,914.7 201.1,910.4 202.1,907.5 203.2,909.9 204.2,908.8 205.3,903.9 206.3,906.7 207.4,906.1 208.5,904.8 209.5,903.8 210.6,904.0 211.6,912.1 212.7,908.2 213.7,911.6 214.8,902.0 215.8,904.4 216.9,910.1 218.0,905.0 219.0,906.8 220.1,905.6 221.1,904.8 222.2,906.7 223.2,910.6 224.3,911.7 225.3,908.8 226.4,908.3 227.5,916.7 228.5,912.5 229.6,913.2 230.6,913.6 231.7,914.6 232.7,914.7 233.8,914.0 234.9,914.5 235.9,916.8 237.0,915.2 238.0,915.0 239.1,905.1 240.1,915.9 241.2,915.7 242.2,916.9 243.3,915.6 244.4,916.7 245.4,906.7 246.5,918.0 247.5,916.4 248.6,917.0 249.6,917.1 250.7,917.0 251.7,916.9 252.8,917.3 253.9,918.2 254.9,917.6 256.0,916.9 257.0,916.9 258.1,916.8 259.1,918.2 260.2,917.6 261.3,916.8 262.3,916.4 263.4,916.8 264.4,917.5 265.5,917.1 266.5,917.3 267.6,916.7 268.6,918.3 269.7,917.7 270.8,916.7 271.8,915.4 272.9,916.5 273.9,916.3 275.0,917.2 276.0,916.6 277.1,917.7 278.1,917.0 279.2,917.0 280.3,916.9 281.3,916.7 282.4,917.2 283.4,917.3 284.5,917.4 285.5,918.4 286.6,917.1 287.7,916.5 288.7,916.7 289.8,917.1 290.8,915.7 291.9,918.1 292.9,918.2 294.0,918.3 295.0,917.0 296.1,916.3 297.2,918.5 298.2,917.2 299.3,918.6 300.3,918.6 301.4,919.1 302.4,917.6 303.5,916.6 304.5,918.1 305.6,916.5 306.7,918.4 307.7,915.9 308.8,918.3 309.8,917.3 310.9,917.3 311.9,917.4 313.0,916.1 314.1,916.7 315.1,917.0 316.2,918.6 317.2,917.2 318.3,915.4 319.3,905.9 320.4,916.8 321.4,916.8 322.5,918.5 323.6,918.0 324.6,918.2 325.7,916.7 326.7,917.6 327.8,917.3 328.8,917.2 329.9,916.1 330.9,917.6 332.0,916.5 333.1,917.0 334.1,918.3 335.2,918.1 336.2,919.3 337.3,917.9 338.3,918.0 339.4,917.1 340.5,916.8 341.5,917.9 342.6,917.4 343.6,916.5 344.7,916.6 345.7,917.8 346.8,917.9 347.8,917.4 348.9,917.6 350.0,917.4 351.0,917.5 352.1,917.1 353.1,918.1 354.2,918.1 355.2,917.7 356.3,917.5 357.3,919.0 358.4,918.7 359.5,916.9 360.5,917.1 361.6,912.0 362.6,918.0 363.7,917.1 364.7,917.5 365.8,918.2 366.9,917.7 367.9,918.3 369.0,917.9 370.0,917.8 371.1,918.3 372.1,918.5 373.2,917.2 374.2,917.5 375.3,916.8 376.4,916.9 377.4,917.9 378.5,917.7 379.5,918.6 380.6,917.9 381.6,913.6 382.7,918.4 383.7,917.0 384.8,918.0 385.9,916.8 386.9,917.8 388.0,906.0 389.0,917.2 390.1,917.5 391.1,917.4 392.2,917.9 393.3,916.8 394.3,916.8 395.4,917.7 396.4,918.4 397.5,917.6 398.5,916.6 399.6,915.7 400.6,913.1 401.7,909.4 402.8,903.0 403.8,913.3 404.9,900.7 405.9,895.9 407.0,887.1 408.0,896.9 409.1,907.9 410.1,910.5 411.2,912.1 412.3,915.9 413.3,916.7 414.4,916.8 415.4,918.7 416.5,917.0 417.5,917.8 418.6,918.5 419.7,917.1 420.7,906.7 421.8,915.7 422.8,914.1 423.9,911.3 424.9,911.1 426.0,888.8 427.0,899.2 428.1,905.7 429.2,898.3 430.2,911.0 431.3,904.9 432.3,890.5 433.4,905.1 434.4,905.5 435.5,914.9 436.5,913.3 437.6,914.4 438.7,914.8 439.7,914.4 440.8,906.2 441.8,908.4 442.9,907.1 443.9,879.7 445.0,894.9 446.1,897.5 447.1,904.4 448.2,895.3 449.2,906.4 450.3,910.8 451.3,911.9 452.4,907.5 453.4,903.1 454.5,910.8 455.6,904.4 456.6,901.1 457.7,904.5 458.7,904.7 459.8,911.1 460.8,898.5 461.9,904.0 462.9,899.4 464.0,899.9 465.1,908.0 466.1,898.2 467.2,915.0 468.2,900.5 469.3,903.6 470.3,901.8 471.4,898.2 472.5,842.8 473.5,791.4 474.6,878.1 475.6,913.6 476.7,897.1 477.7,901.0 478.8,904.8 479.8,900.8 480.9,903.7 482.0,909.2 483.0,899.9 484.1,908.1 485.1,903.1 486.2,901.2 487.2,905.3 488.3,904.6 489.3,909.5 490.4,911.5 491.5,904.5 492.5,903.8 493.6,907.9 494.6,905.7 495.7,912.4 496.7,902.4 497.8,909.8 498.9,907.7 499.9,897.4 501.0,893.5" stroke="#0000ff"/>
<path d="M883.2,901.3 884.3,903.6 885.3,906.6 886.4,908.8 887.5,902.5 888.5,904.9 889.6,910.9 890.6,890.7 891.7,905.4 892.7,909.0 893.8,906.5 894.9,905.8 895.9,901.7 897.0,907.1 898.0,901.8 899.1,898.8 900.1,893.7 901.2,906.9 902.2,910.1 903.3,912.0 904.4,908.9 905.4,909.7 906.5,909.9 907.5,906.0 908.6,908.6 909.6,910.5 910.7,906.3 911.7,910.0 912.8,911.5 913.9,907.2 914.9,904.3 916.0,912.0 917.0,909.3 918.1,881.9 919.1,907.2 920.2,910.1 921.3,910.4 922.3,911.2 923.4,906.6 924.4,908.9 925.5,889.1 926.5,902.7 927.6,910.3 928.6,908.4 929.7,902.7 930.8,911.3 931.8,911.7 932.9,909.6 933.9,912.7 935.0,910.9 936.0,910.0 937.1,901.4 938.1,909.2 939.2,904.0 940.3,908.0 941.3,911.8 942.4,910.8 943.4,911.2 944.5,913.7 945.5,905.7 946.6,908.6 947.7,903.2 948.7,909.8 949.8,903.4 950.8,886.3 951.9,890.6 952.9,916.6 954.0,896.3 955.0,915.5 956.1,909.6 957.2,912.9 958.2,897.5 959.3,908.3 960.3,903.9 961.4,908.2 962.4,907.7 963.5,898.7 964.5,908.6 965.6,907.8 966.7,910.0 967.7,908.6 968.8,909.8 969.8,905.1 970.9,895.6 971.9,908.6 973.0,909.2 974.1,891.6 975.1,909.8 976.2,911.9 977.2,910.6 978.3,910.0 979.3,886.1 980.4,908.1 981.4,910.0 982.5,908.0 983.6,910.7 984.6,892.3 985.7,908.5 986.7,913.5 987.8,892.0 988.8,886.7 989.9,904.8 990.9,908.6 992.0,909.6 993.1,911.8 994.1,906.3 995.2,903.8 996.2,910.6 997.3,900.1 998.3,909.8 999.4,906.7 1000.5,885.5 1001.5,905.6 1002.6,893.0 1003.6,907.3 1004.7,902.4 1005.7,903.4 1006.8,888.6 1007.8,903.8 1008.9,906.8 1010.0,903.1 1011.0,899.3 1012.1,903.3 1013.1,898.9 1014.2,896.1 1015.2,902.2 1016.3,897.2 1017.3,901.4 1018.4,898.3 1019.5,893.2 1020.5,874.9 1021.6,893.3 1022.6,892.8 1023.7,877.0 1024.7,888.2 1025.8,894.7 1026.9,891.1 1027.9,900.4 1029.0,881.0 1030.0,880.6 1031.1,886.6 1032.1,887.9 1033.2,888.7 1034.2,905.1 1035.3,892.0 1036.4,883.6 1037.4,888.7 1038.5,899.3 1039.5,894.4 1040.6,895.5 1041.6,898.2 1042.7,897.5 1043.7,894.2 1044.8,897.5 1045.9,888.8 1046.9,891.4 1048.0,900.6 1049.0,899.3 1050.1,885.4 1051.1,889.1 1052.2,873.1 1053.3,890.5 1054.3,901.7 1055.4,883.3 1056.4,890.4 1057.5,898.2 1058.5,893.3 1059.6,902.2 1060.6,877.8 1061.7,902.6 1062.8,868.0" stroke="#0000ff"/>
<path d="M1094.4,858.6 1095.5,868.0 1096.5,887.5 1097.6,906.2 1098.7,898.5 1099.7,910.9 1100.8,905.6 1101.8,904.1 1102.9,909.0 1103.9,911.7 1105.0,911.6 1106.1,909.1 1107.1,909.5 1108.2,897.4 1109.2,912.3 1110.3,890.9 1111.3,912.5 1112.4,913.5 1113.4,911.7 1114.5,911.5 1115.6,911.5 1116.6,912.6 1117.7,910.1 1118.7,911.3 1119.8,912.2 1120.8,912.3 1121.9,910.6 1122.9,909.8 1124.0,914.2 1125.1,911.1 1126.1,913.2 1127.2,912.7 1128.2,912.2 1129.3,911.3 1130.3,910.9 1131.4,891.1 1132.5,913.5 1133.5,911.9 1134.6,915.7 1135.6,912.8 1136.7,910.5 1137.7,911.2 1138.8,913.1 1139.8,911.7 1140.9,911.9 1142.0,912.6 1143.0,912.1 1144.1,909.2 1145.1,912.7 1146.2,910.8 1147.2,913.0 1148.3,913.1 1149.3,912.8 1150.4,912.9 1151.5,912.4 1152.5,913.3 1153.6,906.4 1154.6,911.0 1155.7,912.0 1156.7,913.3 1157.8,911.8 1158.9,911.4 1159.9,911.6 1161.0,913.5 1162.0,912.0 1163.1,912.7 1164.1,914.5 1165.2,912.2 1166.2,912.8 1167.3,912.5 1168.4,913.0 1169.4,905.2 1170.5,903.8 1171.5,912.3 1172.6,914.6 1173.6,914.2 1174.7,911.3 1175.7,895.4 1176.8,910.8 1177.9,897.4 1178.9,912.8 1180.0,902.0 1181.0,912.9 1182.1,913.0 1183.1,913.7 1184.2,914.0 1185.3,912.8 1186.3,912.8 1187.4,911.7 1188.4,912.0 1189.5,912.1 1190.5,914.5 1191.6,912.1 1192.6,909.6 1193.7,913.8 1194.8,910.8 1195.8,911.4 1196.9,912.4 1197.9,911.6 1199.0,911.6 1200.0,910.0 1201.1,914.4 1202.1,911.2 1203.2,910.2 1204.3,910.9 1205.3,913.3 1206.4,911.4 1207.4,911.0 1208.5,913.2 1209.5,909.6 1210.6,912.9 1211.7,913.8 1212.7,913.5 1213.8,913.5 1214.8,911.9 1215.9,911.1 1216.9,913.9 1218.0,894.2 1219.0,912.3 1220.1,913.4 1221.2,913.3 1222.2,914.2 1223.3,911.0 1224.3,912.0 1225.4,913.5 1226.4,905.8 1227.5,910.7 1228.5,909.5 1229.6,911.8 1230.7,911.3 1231.7,909.2 1232.8,911.8 1233.8,913.4 1234.9,914.7 1235.9,913.1 1237.0,910.4 1238.1,909.7 1239.1,899.1 1240.2,913.9 1241.2,913.9 1242.3,912.1 1243.3,911.9 1244.4,912.1 1245.4,911.2 1246.5,911.2 1247.6,909.8 1248.6,912.7 1249.7,913.5 1250.7,907.4 1251.8,911.6 1252.8,909.9 1253.9,910.5 1254.9,910.2 1256.0,909.4 1257.1,913.1 1258.1,912.8 1259.2,912.8 1260.2,911.4 1261.3,910.7 1262.3,910.8 1263.4,910.7 1264.5,912.2 1265.5,911.1 1266.6,910.7 1267.6,913.5 1268.7,913.1 1269.7,914.0 1270.8,910.9 1271.8,913.1 1272.9,911.3 1274.0,913.3 1275.0,912.9 1276.1,899.8 1277.1,913.0 1278.2,912.0 1279.2,914.2 1280.3,892.4 1281.3,913.7 1282.4,913.1 1283.5,912.8 1284.5,912.3 1285.6,913.0 1286.6,910.7 1287.7,911.0 1288.7,910.5 1289.8,908.6 1290.9,910.4 1291.9,902.1 1293.0,911.6 1294.0,912.3" stroke="#0020ff"/>
<path d="M570.7,828.6 571.7,869.7 572.8,855.5 573.8,858.2 574.9,867.4 575.9,892.9 577.0,872.3 578.1,884.9 579.1,869.3 580.2,885.5 581.2,899.5 582.3,872.3 583.3,891.9 584.4,898.7 585.4,900.7 586.5,896.0 587.6,879.8 588.6,900.1 589.7,898.5 590.7,884.6 591.8,902.2 592.8,896.4 593.9,906.1 594.9,900.5 596.0,892.0 597.1,892.6 598.1,894.6 599.2,897.4 600.2,904.4 601.3,899.9 602.3,908.7 603.4,900.7 604.5,904.7 605.5,903.5 606.6,905.5 607.6,887.7 608.7,908.0 609.7,906.5 610.8,898.4 611.8,893.9 612.9,899.9 614.0,907.9 615.0,906.0 616.1,902.8 617.1,891.4 618.2,882.1 619.2,903.3 620.3,898.9 621.3,908.0 622.4,901.2 623.5,901.3 624.5,905.4 625.6,890.1 626.6,906.2 627.7,904.7 628.7,898.0 629.8,905.9 630.9,902.9 631.9,873.6 633.0,902.1 634.0,902.2 635.1,907.4 636.1,908.3 637.2,883.3 638.2,875.4 639.3,904.1 640.4,912.3 641.4,903.6 642.5,899.6 643.5,907.1 644.6,907.7 645.6,906.6 646.7,903.5 647.7,905.2 648.8,906.3 649.9,905.1 650.9,908.2 652.0,882.0 653.0,900.7 654.1,909.7 655.1,892.7 656.2,905.2 657.3,907.2 658.3,895.0 659.4,902.2 660.4,906.7 661.5,907.5 662.5,897.2 663.6,909.3 664.6,902.3 665.7,906.0 666.8,907.5 667.8,906.4 668.9,909.1 669.9,908.2 671.0,913.8 672.0,905.7 673.1,904.3 674.1,907.4 675.2,903.8 676.3,909.4 677.3,896.2 678.4,879.2 679.4,906.6 680.5,894.5 681.5,908.5 682.6,908.6 683.7,911.6 684.7,906.3 685.8,908.2 686.8,900.9 687.9,905.2 688.9,907.1 690.0,904.8 691.0,899.0 692.1,905.9 693.2,896.9 694.2,911.0 695.3,892.9 696.3,910.0 697.4,904.4 698.4,910.7 699.5,907.7 700.5,906.9 701.6,909.1 702.7,900.2 703.7,910.0 704.8,909.2 705.8,904.8 706.9,905.3 707.9,883.2 709.0,906.7 710.1,892.1 711.1,912.9 712.2,901.6 713.2,891.9 714.3,905.0 715.3,905.6 716.4,903.7 717.4,888.4 718.5,911.0 719.6,910.2 720.6,903.7 721.7,911.0 722.7,905.5 723.8,907.2 724.8,904.0 725.9,903.2 726.9,898.8 728.0,891.4 729.1,909.3 730.1,907.0 731.2,904.5 732.2,901.3 733.3,906.7 734.3,910.5 735.4,905.2 736.5,907.5 737.5,897.9 738.6,890.3 739.6,901.2 740.7,903.6 741.7,906.1 742.8,903.4 743.8,900.0 744.9,893.6 746.0,898.6 747.0,886.1 748.1,898.6 749.1,880.0 750.2,903.0 751.2,905.8 752.3,901.3 753.3,903.9 754.4,895.3 755.5,899.0 756.5,895.9 757.6,893.7 758.6,889.0 759.7,878.1 760.7,878.3" stroke="#0060ff"/>
<path d="M1384.8,834.8 1385.9,855.8 1386.9,881.8 1388.0,842.8 1389.1,904.5 1390.1,869.4 1391.2,886.2 1392.2,875.0 1393.3,892.2 1394.3,873.4 1395.4,898.4 1396.5,838.3 1397.5,908.8 1398.6,887.8 1399.6,906.1 1400.7,909.3 1401.7,892.1 1402.8,895.2 1403.8,894.9 1404.9,894.8 1406.0,866.6 1407.0,886.8 1408.1,903.4 1409.1,901.1 1410.2,904.6 1411.2,900.4 1412.3,911.2 1413.3,902.7 1414.4,908.1 1415.5,907.9 1416.5,901.2 1417.6,899.5 1418.6,909.9 1419.7,907.4 1420.7,905.5 1421.8,904.2 1422.9,906.6 1423.9,897.8 1425.0,897.3 1426.0,898.2 1427.1,895.0 1428.1,903.7 1429.2,905.0 1430.2,910.0 1431.3,908.3 1432.4,910.5 1433.4,911.9 1434.5,911.0 1435.5,908.7 1436.6,912.1 1437.6,909.1 1438.7,907.5 1439.7,907.7 1440.8,898.8 1441.9,907.9 1442.9,899.5 1444.0,910.2 1445.0,910.5 1446.1,911.1 1447.1,912.3 1448.2,912.3 1449.3,910.7 1450.3,912.0 1451.4,911.1 1452.4,910.9 1453.5,911.9 1454.5,911.9 1455.6,912.8 1456.6,912.3 1457.7,913.0 1458.8,912.9 1459.8,913.3 1460.9,913.1 1461.9,913.1 1463.0,913.6 1464.0,911.4 1465.1,914.5 1466.1,912.9 1467.2,913.5 1468.3,915.9 1469.3,912.1 1470.4,912.3 1471.4,914.0 1472.5,913.1 1473.5,913.8 1474.6,912.4 1475.7,914.0 1476.7,914.2 1477.8,912.2 1478.8,912.8 1479.9,912.6 1480.9,913.7 1482.0,911.6 1483.0,914.2 1484.1,914.3 1485.2,913.2 1486.2,914.1 1487.3,913.8 1488.3,912.9 1489.4,912.6 1490.4,913.9 1491.5,912.9 1492.5,913.6 1493.6,914.4 1494.7,912.0 1495.7,913.1 1496.8,913.8 1497.8,913.5 1498.9,912.3 1499.9,914.2 1501.0,912.6 1502.1,914.2 1503.1,913.9 1504.2,913.5 1505.2,914.2 1506.3,913.0 1507.3,912.5 1508.4,913.5 1509.4,911.6 1510.5,914.8 1511.6,912.0 1512.6,915.1 1513.7,914.0 1514.7,899.9 1515.8,914.1 1516.8,913.1 1517.9,914.1 1518.9,912.4 1520.0,912.8 1521.1,914.2 1522.1,912.5 1523.2,912.4 1524.2,913.7 1525.3,912.2 1526.3,913.8 1527.4,913.4 1528.5,914.5 1529.5,914.6 1530.6,911.8 1531.6,914.6 1532.7,913.7 1533.7,912.8 1534.8,914.1 1535.8,912.4 1536.9,914.2 1538.0,912.8 1539.0,913.8 1540.1,916.0 1541.1,914.4 1542.2,914.1 1543.2,913.1 1544.3,913.0 1545.3,914.5 1546.4,912.8 1547.5,913.8 1548.5,912.3 1549.6,912.4 1550.6,913.4 1551.7,914.2 1552.7,912.8 1553.8,914.8 1554.9,913.7 1555.9,914.3 1557.0,913.5 1558.0,914.8 1559.1,913.2 1560.1,912.9 1561.2,912.5 1562.2,912.3 1563.3,911.8 1564.4,913.7 1565.4,913.8 1566.5,914.3 1567.5,913.0 1568.6,900.3 1569.6,913.1 1570.7,914.5 1571.7,913.8 1572.8,914.4 1573.9,913.2 1574.9,912.6 1576.0,912.7 1577.0,912.9 1578.1,901.4 1579.1,911.8 1580.2,914.1 1581.3,912.3 1582.3,912.9 1583.4,913.8 1584.4,912.3 1585.5,914.1 1586.5,913.5 1587.6,912.9 1588.6,912.7 1589.7,913.7 1590.8,905.6 1591.8,913.9 1592.9,915.5 1593.9,912.7 1595.0,913.2 1596.0,913.9 1597.1,914.1 1598.1,913.7 1599.2,912.1 1600.3,912.5 1601.3,914.1 1602.4,913.1 1603.4,912.7 1604.5,914.4 1605.5,913.8 1606.6,912.4 1607.7,913.1 1608.7,914.1 1609.8,914.0 1610.8,914.3 1611.9,913.8 1612.9,913.5 1614.0,912.2 1615.0,913.3 1616.1,913.3 1617.2,913.9 1618.2,913.6 1619.3,914.5 1620.3,914.3 1621.4,913.7 1622.4,911.4 1623.5,914.2 1624.5,914.1 1625.6,912.3 1626.7,911.4 1627.7,912.5 1628.8,910.6 1629.8,914.3 1630.9,913.7 1631.9,913.3 1633.0,912.0 1634.1,912.6 1635.1,912.4 1636.2,911.9 1637.2,910.4 1638.3,912.6 1639.3,912.6 1640.4,911.7 1641.4,912.1 1642.5,911.3 1643.6,907.7 1644.6,912.5 1645.7,905.1 1646.7,906.1 1647.8,908.0 1648.8,905.4 1649.9,904.5 1650.9,907.8 1652.0,868.0 1653.1,894.2 1654.1,884.0 1655.2,901.4 1656.2,862.7 1657.3,875.2 1658.3,902.0 1659.4,889.3 1660.5,834.8" stroke="#0060ff"/>
<path d="M449.2,830.0 450.3,850.3 451.3,858.4 452.4,869.8 453.4,896.7 454.5,879.5 455.6,867.1 456.6,894.4 457.7,889.0 458.7,901.3 459.8,894.8 460.8,906.7 461.9,900.7 462.9,867.1 464.0,912.9 465.1,910.9 466.1,911.7 467.2,911.7 468.2,914.9 469.3,916.4 470.3,915.5 471.4,915.2 472.5,915.2 473.5,915.8 474.6,915.2 475.6,915.5 476.7,915.2 477.7,914.1 478.8,915.9 479.8,916.2 480.9,915.2 482.0,916.1 483.0,914.4 484.1,915.3 485.1,910.1 486.2,914.1 487.2,914.9 488.3,913.7 489.3,914.9 490.4,915.2 491.5,906.6 492.5,915.6 493.6,913.9 494.6,914.4 495.7,914.9 496.7,915.9 497.8,915.2 498.9,915.7 499.9,915.2 501.0,915.7 502.0,915.3 503.1,915.2 504.1,914.6 505.2,915.4 506.2,915.4 507.3,915.6 508.4,915.6 509.4,915.3 510.5,915.8 511.5,915.4 512.6,915.7 513.6,914.7 514.7,914.2 515.7,913.8 516.8,915.8 517.9,916.0 518.9,915.1 520.0,915.6 521.0,915.0 522.1,914.8 523.1,914.9 524.2,915.3 525.3,915.6 526.3,915.6 527.4,916.2 528.4,916.0 529.5,915.7 530.5,914.6 531.6,915.5 532.6,915.5 533.7,913.9 534.8,915.3 535.8,914.0 536.9,914.5 537.9,915.2 539.0,914.1 540.0,915.9 541.1,913.9 542.1,914.6 543.2,915.0 544.3,914.6 545.3,913.4 546.4,916.1 547.4,914.7 548.5,912.9 549.5,914.3 550.6,914.3 551.7,913.0 552.7,911.2 553.8,913.4 554.8,916.8 555.9,912.5 556.9,913.8 558.0,913.3 559.0,914.2 560.1,912.5 561.2,916.3 562.2,897.4 563.3,914.0 564.3,912.3 565.4,914.5 566.4,911.4 567.5,912.0 568.5,913.9 569.6,914.3 570.7,914.0 571.7,907.0 572.8,913.3 573.8,911.9 574.9,911.4 575.9,914.2 577.0,913.9 578.1,910.9 579.1,912.9 580.2,909.9 581.2,909.9 582.3,912.2 583.3,911.7 584.4,911.7 585.4,910.2 586.5,913.5 587.6,914.1 588.6,912.2 589.7,911.0 590.7,910.6 591.8,913.4 592.8,914.4 593.9,911.9 594.9,908.5 596.0,910.6 597.1,908.9 598.1,905.4 599.2,914.3 600.2,910.2 601.3,912.9 602.3,909.0 603.4,910.3 604.5,909.9 605.5,909.7 606.6,914.6 607.6,910.2 608.7,909.8 609.7,909.1 610.8,902.9 611.8,910.6 612.9,911.6 614.0,910.1 615.0,909.7 616.1,900.5 617.1,901.0 618.2,909.8 619.2,914.4 620.3,910.5 621.3,913.6 622.4,914.7 623.5,910.8 624.5,911.7 625.6,914.4 626.6,912.3 627.7,914.4 628.7,914.0 629.8,912.2 630.9,913.9 631.9,913.4 633.0,912.5 634.0,912.6 635.1,914.2 636.1,912.1 637.2,913.8 638.2,912.7 639.3,913.7 640.4,913.5 641.4,913.2 642.5,913.2 643.5,915.1 644.6,913.0 645.6,914.2 646.7,914.4 647.7,914.6 648.8,913.5 649.9,913.3 650.9,914.3 652.0,914.2 653.0,915.0 654.1,915.0 655.1,914.1 656.2,914.4 657.3,914.1 658.3,915.3 659.4,914.8 660.4,909.8 661.5,914.7 662.5,900.8 663.6,900.1 664.6,914.9 665.7,914.2 666.8,915.9 667.8,916.1 668.9,915.5 669.9,915.0 671.0,914.9 672.0,915.7 673.1,915.2 674.1,915.0 675.2,913.6 676.3,915.6 677.3,914.1 678.4,914.8 679.4,916.7 680.5,916.3 681.5,915.4 682.6,915.3 683.7,916.5 684.7,902.8 685.8,915.9 686.8,914.1 687.9,915.2 688.9,915.5 690.0,901.3 691.0,914.4 692.1,915.4 693.2,914.3 694.2,914.9 695.3,914.5 696.3,914.8 697.4,915.9 698.4,915.0 699.5,915.2" stroke="#0080ff"/>
<path d="M1269.7,813.6 1270.8,835.3 1271.8,887.3 1272.9,862.1 1274.0,836.6 1275.0,870.7 1276.1,852.9 1277.1,833.9 1278.2,868.9 1279.2,865.5 1280.3,867.6 1281.3,884.6 1282.4,872.0 1283.5,884.6 1284.5,881.3 1285.6,838.3 1286.6,888.6 1287.7,874.5 1288.7,860.9 1289.8,878.9 1290.9,888.9 1291.9,889.2 1293.0,871.5 1294.0,885.5 1295.1,894.1 1296.1,889.9 1297.2,887.3 1298.2,895.9 1299.3,907.0 1300.4,882.4 1301.4,883.6 1302.5,900.1 1303.5,864.0 1304.6,896.7 1305.6,904.9 1306.7,884.9 1307.7,905.0 1308.8,904.5 1309.9,899.7 1310.9,897.2 1312.0,898.3 1313.0,900.9 1314.1,879.9 1315.1,898.9 1316.2,896.1 1317.3,895.3 1318.3,904.3 1319.4,906.9 1320.4,904.1 1321.5,903.9 1322.5,903.6 1323.6,903.7 1324.6,905.6 1325.7,909.7 1326.8,909.7 1327.8,910.0 1328.9,911.7 1329.9,910.9 1331.0,911.4 1332.0,910.6 1333.1,911.7 1334.1,913.7 1335.2,911.7 1336.3,912.0 1337.3,915.2 1338.4,913.9 1339.4,913.5 1340.5,913.0 1341.5,914.9 1342.6,916.0 1343.7,916.4 1344.7,915.3 1345.8,913.8 1346.8,914.7 1347.9,914.8 1348.9,914.5 1350.0,915.0 1351.0,914.5 1352.1,915.5 1353.2,915.3 1354.2,917.0 1355.3,915.5 1356.3,915.7 1357.4,916.0 1358.4,914.7 1359.5,915.2 1360.5,916.6 1361.6,913.7 1362.7,913.5 1363.7,915.9 1364.8,912.1 1365.8,915.5 1366.9,914.6 1367.9,916.1 1369.0,914.9 1370.1,914.1 1371.1,913.9 1372.2,914.4 1373.2,915.4 1374.3,915.4 1375.3,914.1 1376.4,915.4 1377.4,907.8 1378.5,915.4 1379.6,914.5 1380.6,915.1 1381.7,914.2 1382.7,914.8 1383.8,916.1 1384.8,915.5 1385.9,914.1 1386.9,915.1 1388.0,913.9 1389.1,914.3 1390.1,914.3 1391.2,915.8 1392.2,915.2 1393.3,914.0 1394.3,916.7 1395.4,914.5 1396.5,914.9 1397.5,902.7 1398.6,914.4 1399.6,915.7 1400.7,916.6 1401.7,913.0 1402.8,913.6 1403.8,915.0 1404.9,914.6 1406.0,915.3 1407.0,915.0 1408.1,916.8 1409.1,913.2 1410.2,914.9 1411.2,904.3 1412.3,913.1 1413.3,913.9 1414.4,915.7 1415.5,915.4 1416.5,914.6 1417.6,914.9 1418.6,915.9 1419.7,914.9 1420.7,915.0 1421.8,914.0 1422.9,914.6 1423.9,915.1 1425.0,913.6 1426.0,910.4 1427.1,914.4 1428.1,915.5 1429.2,914.9 1430.2,915.3 1431.3,912.6 1432.4,915.6 1433.4,916.4 1434.5,914.2 1435.5,914.2 1436.6,914.8 1437.6,915.2 1438.7,914.3 1439.7,913.3 1440.8,914.5 1441.9,915.6 1442.9,901.0 1444.0,913.5 1445.0,914.1 1446.1,913.2 1447.1,915.1 1448.2,914.3 1449.3,914.2 1450.3,915.5 1451.4,913.2 1452.4,915.3 1453.5,916.5 1454.5,913.4 1455.6,908.7 1456.6,913.6 1457.7,913.7 1458.8,915.4 1459.8,915.0 1460.9,916.3 1461.9,914.6 1463.0,913.0 1464.0,914.9 1465.1,913.3 1466.1,914.8 1467.2,913.5 1468.3,915.1 1469.3,913.9 1470.4,904.2 1471.4,915.4 1472.5,914.4 1473.5,914.8 1474.6,910.2 1475.7,915.9 1476.7,916.0 1477.8,914.1 1478.8,908.9 1479.9,916.6 1480.9,914.1 1482.0,915.7 1483.0,915.4 1484.1,913.4 1485.2,915.6 1486.2,915.1 1487.3,915.4 1488.3,915.4 1489.4,914.6 1490.4,915.1 1491.5,915.1 1492.5,913.1 1493.6,915.5 1494.7,915.3 1495.7,915.6 1496.8,914.8 1497.8,915.5 1498.9,915.3 1499.9,913.6 1501.0,913.8 1502.1,914.7 1503.1,899.4 1504.2,914.9 1505.2,914.2 1506.3,914.5 1507.3,914.4 1508.4,915.4 1509.4,914.7 1510.5,915.0 1511.6,913.6 1512.6,913.9 1513.7,914.2 1514.7,915.6 1515.8,914.7 1516.8,915.0 1517.9,914.9 1518.9,913.8 1520.0,915.4 1521.1,914.0 1522.1,904.9 1523.2,914.6 1524.2,914.7 1525.3,914.1 1526.3,914.9 1527.4,914.7 1528.5,915.2 1529.5,916.6 1530.6,914.6 1531.6,914.5 1532.7,915.8 1533.7,915.5 1534.8,916.3 1535.8,914.2 1536.9,915.0 1538.0,913.3 1539.0,916.2 1540.1,913.7 1541.1,915.5 1542.2,914.3 1543.2,915.0 1544.3,914.0 1545.3,913.9" stroke="#0080ff"/>
<path d="M190.5,914.3 191.6,915.3 192.6,914.6 193.7,914.9 194.7,914.3 195.8,914.4 196.8,914.4 197.9,914.5 198.9,915.1 200.0,913.8 201.1,914.1 202.1,914.3 203.2,900.7 204.2,914.6 205.3,915.0 206.3,912.8 207.4,913.7 208.5,915.7 209.5,913.7 210.6,916.2 211.6,914.0 212.7,915.2 213.7,916.0 214.8,914.4 215.8,915.0 216.9,905.8 218.0,914.2 219.0,914.1 220.1,914.4 221.1,915.0 222.2,915.2 223.2,914.2 224.3,912.3 225.3,914.4 226.4,915.3 227.5,915.0 228.5,913.7 229.6,914.1 230.6,914.5 231.7,911.9 232.7,915.1 233.8,914.5 234.9,899.5 235.9,914.2 237.0,913.1 238.0,914.6 239.1,914.1 240.1,913.4 241.2,913.2 242.2,913.7 243.3,913.5 244.4,913.4 245.4,914.5 246.5,914.6 247.5,916.4 248.6,914.2 249.6,915.6 250.7,913.9 251.7,914.9 252.8,914.0 253.9,905.2 254.9,913.1 256.0,904.4 257.0,915.2 258.1,912.2 259.1,915.8 260.2,914.0 261.3,913.5 262.3,913.3 263.4,915.1 264.4,915.2 265.5,913.9 266.5,914.4 267.6,914.6 268.6,914.4 269.7,914.1 270.8,914.5 271.8,913.5 272.9,915.2 273.9,914.1 275.0,913.7 276.0,914.3 277.1,913.8 278.1,913.9 279.2,915.2 280.3,913.9 281.3,915.7 282.4,915.0 283.4,915.6 284.5,915.1 285.5,915.2 286.6,915.9 287.7,914.2 288.7,913.7 289.8,914.9 290.8,914.4 291.9,914.8 292.9,914.2 294.0,914.1 295.0,914.4 296.1,913.9 297.2,915.0 298.2,914.2 299.3,913.2 300.3,913.7 301.4,913.5 302.4,914.0 303.5,914.9 304.5,913.4 305.6,915.1 306.7,914.0 307.7,914.9 308.8,914.3 309.8,914.0 310.9,911.9 311.9,913.1 313.0,911.7 314.1,912.9 315.1,912.5 316.2,912.5 317.2,911.7 318.3,909.6 319.3,907.5 320.4,908.1 321.4,910.4 322.5,906.8 323.6,907.1 324.6,902.6 325.7,902.3 326.7,903.0 327.8,907.2 328.8,902.5 329.9,912.8 330.9,902.4 332.0,895.3 333.1,895.5 334.1,894.4 335.2,899.0 336.2,908.1 337.3,899.3 338.3,908.8 339.4,897.9 340.5,896.3 341.5,869.3 342.6,898.0 343.6,902.7 344.7,898.4 345.7,908.8 346.8,906.9 347.8,909.3 348.9,910.2 350.0,907.6 351.0,906.7 352.1,908.1 353.1,911.4 354.2,906.5 355.2,908.0 356.3,909.3 357.3,897.3 358.4,906.1 359.5,894.7 360.5,893.4 361.6,887.3 362.6,893.0 363.7,906.4 364.7,845.4" stroke="#009fff"/>
<path d="M970.9,897.9 971.9,902.3 973.0,909.5 974.1,906.0 975.1,904.4 976.2,903.5 977.2,901.8 978.3,905.1 979.3,906.2 980.4,909.8 981.4,907.3 982.5,907.2 983.6,906.3 984.6,907.7 985.7,907.4 986.7,900.0 987.8,906.5 988.8,908.9 989.9,909.0 990.9,909.8 992.0,908.1 993.1,907.4 994.1,909.8 995.2,907.4 996.2,909.0 997.3,908.5 998.3,910.9 999.4,910.4 1000.5,911.6 1001.5,910.5 1002.6,908.7 1003.6,910.3 1004.7,910.6 1005.7,909.3 1006.8,908.8 1007.8,909.8 1008.9,911.3 1010.0,910.5 1011.0,910.7 1012.1,911.0 1013.1,911.5 1014.2,906.3 1015.2,909.5 1016.3,910.3 1017.3,911.2 1018.4,911.1 1019.5,909.0 1020.5,910.6 1021.6,911.4 1022.6,911.5 1023.7,908.4 1024.7,912.6 1025.8,909.9 1026.9,910.1 1027.9,911.4 1029.0,910.0 1030.0,912.2 1031.1,909.9 1032.1,909.5 1033.2,910.3 1034.2,910.2 1035.3,910.2 1036.4,910.8 1037.4,909.7 1038.5,910.5 1039.5,910.0 1040.6,911.5 1041.6,911.3 1042.7,911.6 1043.7,910.9 1044.8,909.4 1045.9,912.5 1046.9,910.5 1048.0,909.6 1049.0,911.3 1050.1,910.9 1051.1,912.0 1052.2,911.4 1053.3,911.4 1054.3,911.4 1055.4,910.5 1056.4,911.3 1057.5,910.8 1058.5,911.4 1059.6,910.0 1060.6,910.1 1061.7,912.0 1062.8,910.6 1063.8,912.2 1064.9,911.3 1065.9,910.8 1067.0,909.6 1068.0,911.5 1069.1,911.2 1070.1,910.4 1071.2,912.4 1072.3,910.6 1073.3,911.0 1074.4,909.8 1075.4,910.7 1076.5,909.1 1077.5,909.8 1078.6,911.7 1079.7,909.7 1080.7,912.4 1081.8,909.8 1082.8,910.0 1083.9,908.5 1084.9,909.6 1086.0,910.0 1087.0,910.7 1088.1,912.4 1089.2,909.9 1090.2,912.2 1091.3,909.8 1092.3,910.3 1093.4,910.3 1094.4,912.3 1095.5,910.7 1096.5,911.3 1097.6,909.7 1098.7,910.9 1099.7,909.1 1100.8,911.5 1101.8,911.7 1102.9,910.8 1103.9,910.9 1105.0,909.4 1106.1,912.0 1107.1,909.4 1108.2,910.8 1109.2,912.3 1110.3,909.4 1111.3,911.2 1112.4,911.5 1113.4,909.4 1114.5,911.2 1115.6,913.0 1116.6,912.2 1117.7,909.7 1118.7,910.7 1119.8,908.9 1120.8,911.0 1121.9,909.7 1122.9,903.7 1124.0,910.8 1125.1,910.6 1126.1,910.4 1127.2,911.0 1128.2,911.0 1129.3,910.4 1130.3,908.1 1131.4,910.3 1132.5,908.0 1133.5,910.5 1134.6,910.5 1135.6,909.1 1136.7,909.2 1137.7,909.4 1138.8,910.4 1139.8,909.5 1140.9,908.3 1142.0,907.8 1143.0,902.2 1144.1,902.7 1145.1,890.4 1146.2,897.0 1147.2,903.8 1148.3,905.8 1149.3,908.6 1150.4,909.7 1151.5,911.6 1152.5,907.6 1153.6,908.1 1154.6,908.1 1155.7,906.5 1156.7,907.9 1157.8,907.0 1158.9,905.9 1159.9,908.4 1161.0,909.2 1162.0,908.5 1163.1,906.9 1164.1,897.2 1165.2,910.0 1166.2,906.2 1167.3,904.1 1168.4,908.7 1169.4,911.3 1170.5,904.3 1171.5,909.1 1172.6,905.8 1173.6,905.9 1174.7,902.7 1175.7,903.9 1176.8,901.5 1177.9,906.7 1178.9,902.4 1180.0,903.1 1181.0,905.0 1182.1,898.4" stroke="#009fff"/>
<path d="M673.1,876.0 674.1,887.3 675.2,897.3 676.3,882.5 677.3,887.5 678.4,883.2 679.4,889.3 680.5,885.5 681.5,890.3 682.6,891.2 683.7,892.9 684.7,892.1 685.8,894.2 686.8,891.1 687.9,894.1 688.9,893.1 690.0,894.9 691.0,896.5 692.1,898.0 693.2,896.8 694.2,897.2 695.3,898.5 696.3,898.4 697.4,900.2 698.4,900.3 699.5,901.8 700.5,899.4 701.6,902.4 702.7,899.6 703.7,902.2 704.8,901.9 705.8,902.1 706.9,901.0 707.9,900.7 709.0,901.8 710.1,902.3 711.1,902.3 712.2,902.5 713.2,902.2 714.3,905.5 715.3,906.2 716.4,903.2 717.4,900.9 718.5,906.5 719.6,905.1 720.6,903.7 721.7,905.7 722.7,903.8 723.8,907.2 724.8,903.9 725.9,904.7 726.9,907.2 728.0,904.9 729.1,905.3 730.1,905.8 731.2,907.1 732.2,907.0 733.3,908.2 734.3,907.1 735.4,906.5 736.5,907.0 737.5,907.2 738.6,907.7 739.6,906.3 740.7,907.8 741.7,905.6 742.8,906.7 743.8,906.0 744.9,906.5 746.0,907.3 747.0,906.7 748.1,907.5 749.1,907.2 750.2,910.8 751.2,906.5 752.3,905.8 753.3,909.0 754.4,908.2 755.5,908.1 756.5,907.7 757.6,907.7 758.6,906.3 759.7,908.0 760.7,908.9 761.8,906.4 762.9,909.6 763.9,908.4 765.0,908.7 766.0,908.7 767.1,905.5 768.1,904.6 769.2,908.8 770.2,910.5 771.3,905.9 772.4,906.8 773.4,908.4 774.5,906.9 775.5,909.4 776.6,908.5 777.6,908.9 778.7,907.5 779.7,907.5 780.8,907.5 781.9,908.3 782.9,909.8 784.0,908.0 785.0,907.5 786.1,907.1 787.1,906.1 788.2,908.3 789.3,906.7 790.3,906.9 791.4,907.8 792.4,907.7 793.5,907.0 794.5,908.6 795.6,907.2 796.6,910.5 797.7,906.7 798.8,908.0 799.8,908.6 800.9,906.6 801.9,908.3 803.0,909.8 804.0,908.1 805.1,907.6 806.1,908.8 807.2,906.0 808.3,907.6 809.3,907.4 810.4,907.0 811.4,906.0 812.5,907.4 813.5,907.3 814.6,888.9 815.7,886.1 816.7,906.9 817.8,905.5 818.8,904.9 819.9,908.1 820.9,906.2 822.0,908.7 823.0,908.3 824.1,907.6 825.2,908.4 826.2,906.7 827.3,906.1 828.3,905.0 829.4,907.1 830.4,904.6 831.5,905.4 832.5,907.3 833.6,905.8 834.7,904.8 835.7,907.8 836.8,906.9 837.8,906.4 838.9,905.4 839.9,904.8 841.0,908.4 842.1,907.3 843.1,904.0 844.2,905.9 845.2,904.1 846.3,904.1 847.3,905.9 848.4,906.8 849.4,905.6 850.5,905.9 851.6,905.0 852.6,905.6 853.7,904.7 854.7,904.0 855.8,903.6 856.8,904.9 857.9,904.6 858.9,903.2 860.0,904.4 861.1,904.5 862.1,902.2 863.2,905.0 864.2,902.7 865.3,902.9 866.3,903.6 867.4,900.6 868.5,904.4 869.5,900.3 870.6,902.4 871.6,901.1 872.7,898.3 873.7,899.6 874.8,899.2 875.8,897.2 876.9,895.9 878.0,898.6 879.0,897.5 880.1,896.6 881.1,891.5 882.2,891.9 883.2,892.7 884.3,888.8 885.3,892.3 886.4,887.0 887.5,891.5 888.5,892.8 889.6,890.1 890.6,883.5 891.7,887.3 892.7,886.8 893.8,893.1 894.9,886.1 895.9,892.6 897.0,885.6 898.0,890.9 899.1,884.0 900.1,892.4 901.2,888.9 902.2,886.8 903.3,888.0 904.4,889.8 905.4,890.2 906.5,890.9 907.5,891.0 908.6,890.8 909.6,886.1 910.7,889.1 911.7,887.0 912.8,905.3 913.9,883.6" stroke="#00dfff"/>
<path d="M1609.8,817.1 1610.8,869.6 1611.9,888.5 1612.9,877.8 1614.0,886.3 1615.0,886.3 1616.1,888.8 1617.2,890.2 1618.2,890.7 1619.3,888.2 1620.3,891.3 1621.4,892.1 1622.4,891.8 1623.5,892.5 1624.5,893.8 1625.6,895.8 1626.7,893.8 1627.7,895.8 1628.8,898.1 1629.8,895.9 1630.9,895.2 1631.9,896.5 1633.0,897.2 1634.1,896.9 1635.1,895.0 1636.2,898.6 1637.2,896.3 1638.3,901.0 1639.3,898.6 1640.4,900.4 1641.4,898.8 1642.5,898.9 1643.6,900.0 1644.6,898.1 1645.7,900.1 1646.7,897.3 1647.8,900.3 1648.8,901.2 1649.9,901.9 1650.9,901.2 1652.0,891.0 1653.1,900.2 1654.1,899.9 1655.2,901.5 1656.2,901.3 1657.3,900.0 1658.3,901.9 1659.4,900.2 1660.5,903.7 1661.5,901.7 1662.6,901.5 1663.6,901.5 1664.7,902.6 1665.7,899.1 1666.8,903.4 1667.8,902.1 1668.9,884.7 1670.0,902.3 1671.0,899.8 1672.1,898.9 1673.1,900.7 1674.2,899.7 1675.2,899.8 1676.3,902.7 1677.3,894.9 1678.4,892.9 1679.5,895.8 1680.5,900.2 1681.6,895.6 1682.6,894.6 1683.7,891.9 1684.7,901.0 1685.8,903.3 1686.9,901.3 1687.9,894.1 1689.0,891.6 1690.0,896.0 1691.1,896.7 1692.1,899.8 1693.2,900.6 1694.2,899.0 1695.3,902.4 1696.4,899.8 1697.4,901.1 1698.5,899.8 1699.5,901.3 1700.6,902.2 1701.6,903.4 1702.7,903.8 1703.7,903.3 1704.8,902.0 1705.9,904.5 1706.9,904.4 1708.0,901.6 1709.0,904.1 1710.1,904.0" stroke="#00dfff"/>
<path d="M574.9,879.4 575.9,887.8 577.0,884.5 578.1,888.0 579.1,891.1 580.2,897.3 581.2,896.8 582.3,898.0 583.3,899.5 584.4,900.5 585.4,902.4 586.5,902.5 587.6,904.0 588.6,905.7 589.7,905.8 590.7,906.7 591.8,906.8 592.8,907.0 593.9,887.6 594.9,905.5 596.0,906.3 597.1,906.5 598.1,908.3 599.2,907.3 600.2,907.8 601.3,908.5 602.3,907.0 603.4,910.5 604.5,907.9 605.5,908.2 606.6,910.4 607.6,909.5 608.7,907.4 609.7,908.1 610.8,911.2 611.8,910.4 612.9,908.8 614.0,910.4 615.0,909.5 616.1,909.9 617.1,909.1 618.2,907.6 619.2,909.2 620.3,911.2 621.3,908.9 622.4,908.5 623.5,909.7 624.5,897.1 625.6,908.9 626.6,907.5 627.7,908.9 628.7,908.9 629.8,910.2 630.9,908.9 631.9,906.8 633.0,907.7 634.0,907.3 635.1,908.6 636.1,910.7 637.2,908.5 638.2,907.1 639.3,909.9 640.4,907.1 641.4,908.8 642.5,908.9 643.5,910.5 644.6,908.3 645.6,907.4 646.7,910.0 647.7,909.4 648.8,909.0 649.9,889.1 650.9,909.4 652.0,909.2 653.0,907.6 654.1,908.8 655.1,909.1 656.2,908.3 657.3,908.3 658.3,907.4 659.4,908.8 660.4,908.2 661.5,908.2 662.5,908.2 663.6,905.6 664.6,907.1 665.7,907.0 666.8,908.2 667.8,905.9 668.9,908.5 669.9,907.9 671.0,887.3 672.0,909.1 673.1,907.3 674.1,908.4 675.2,909.0 676.3,907.8 677.3,908.3 678.4,908.9 679.4,908.8 680.5,908.6 681.5,909.0 682.6,907.9 683.7,907.0 684.7,906.2 685.8,907.2 686.8,891.7 687.9,907.4 688.9,908.0 690.0,907.0 691.0,906.2 692.1,908.9 693.2,907.4 694.2,908.1 695.3,911.4 696.3,907.8 697.4,906.6 698.4,907.7 699.5,904.2 700.5,906.7 701.6,907.9 702.7,908.4 703.7,909.5 704.8,908.1 705.8,908.0 706.9,905.7 707.9,906.8 709.0,906.1 710.1,905.3 711.1,906.9 712.2,906.6 713.2,907.4 714.3,905.9 715.3,905.8 716.4,907.3 717.4,906.9 718.5,905.8 719.6,906.1 720.6,906.2 721.7,903.2 722.7,904.8 723.8,904.6 724.8,905.2 725.9,906.4 726.9,903.7 728.0,904.3 729.1,902.1 730.1,904.1 731.2,903.3 732.2,905.8 733.3,904.4 734.3,906.4 735.4,903.5 736.5,902.4 737.5,902.8 738.6,902.9 739.6,901.5 740.7,900.8 741.7,902.3 742.8,900.9 743.8,899.9 744.9,902.3 746.0,901.0 747.0,879.9 748.1,902.3 749.1,901.1 750.2,900.0 751.2,898.4 752.3,901.5 753.3,898.9 754.4,898.1 755.5,898.6 756.5,898.9 757.6,899.9 758.6,897.5 759.7,895.9 760.7,895.0 761.8,893.7 762.9,896.0 763.9,894.5 765.0,895.4 766.0,896.0 767.1,893.5 768.1,890.8 769.2,879.9 770.2,891.5 771.3,893.0 772.4,890.6 773.4,888.8 774.5,888.8 775.5,889.2 776.6,884.8 777.6,886.8 778.7,886.0 779.7,884.4 780.8,883.0 781.9,883.5 782.9,886.7 784.0,879.1" stroke="#00ffff"/>
<path d="M1490.4,822.3 1491.5,848.3 1492.5,821.1 1493.6,866.2 1494.7,891.1 1495.7,881.8 1496.8,878.6 1497.8,859.6 1498.9,889.9 1499.9,889.5 1501.0,900.1 1502.1,898.5 1503.1,891.0 1504.2,895.2 1505.2,895.8 1506.3,897.1 1507.3,897.4 1508.4,898.3 1509.4,899.3 1510.5,898.6 1511.6,900.3 1512.6,901.1 1513.7,902.3 1514.7,900.9 1515.8,900.1 1516.8,900.0 1517.9,899.0 1518.9,898.5 1520.0,896.0 1521.1,896.8 1522.1,892.3 1523.2,900.7 1524.2,899.4 1525.3,900.7 1526.3,901.0 1527.4,902.3 1528.5,903.0 1529.5,901.7 1530.6,905.9 1531.6,905.1 1532.7,906.0 1533.7,905.7 1534.8,902.9 1535.8,902.9 1536.9,904.6 1538.0,905.9 1539.0,905.0 1540.1,903.9 1541.1,904.2 1542.2,904.2 1543.2,906.5 1544.3,905.7 1545.3,903.8 1546.4,904.7 1547.5,906.3 1548.5,906.4 1549.6,905.5 1550.6,906.8 1551.7,905.4 1552.7,898.0 1553.8,906.3 1554.9,905.6 1555.9,905.6 1557.0,905.0 1558.0,907.2 1559.1,905.8 1560.1,905.8 1561.2,903.9 1562.2,904.6 1563.3,905.3 1564.4,907.6 1565.4,904.2 1566.5,904.8 1567.5,907.1 1568.6,906.9 1569.6,905.7 1570.7,907.6 1571.7,907.5 1572.8,908.3 1573.9,898.8 1574.9,905.7 1576.0,907.9 1577.0,904.1 1578.1,906.5 1579.1,907.7 1580.2,907.8 1581.3,907.4 1582.3,905.4 1583.4,906.8 1584.4,907.5 1585.5,905.3 1586.5,906.0 1587.6,904.9 1588.6,905.5 1589.7,905.2 1590.8,908.6 1591.8,905.2 1592.9,907.1 1593.9,895.5 1595.0,905.3 1596.0,905.4 1597.1,906.3 1598.1,906.3 1599.2,907.9 1600.3,905.5 1601.3,906.0 1602.4,906.3 1603.4,906.1 1604.5,906.6 1605.5,906.1 1606.6,906.9 1607.7,905.9 1608.7,907.8 1609.8,906.8 1610.8,906.3 1611.9,909.0 1612.9,905.8 1614.0,908.2 1615.0,907.2 1616.1,908.2 1617.2,905.2 1618.2,907.4 1619.3,906.0 1620.3,904.6 1621.4,906.5 1622.4,881.9 1623.5,908.2 1624.5,909.4 1625.6,907.2 1626.7,906.5 1627.7,905.1 1628.8,907.1 1629.8,905.3 1630.9,907.8 1631.9,907.1 1633.0,907.5 1634.1,905.6 1635.1,905.4 1636.2,904.4 1637.2,907.1 1638.3,906.7 1639.3,907.6 1640.4,906.3 1641.4,907.5 1642.5,906.3 1643.6,906.3 1644.6,906.7 1645.7,906.3 1646.7,904.5 1647.8,908.7 1648.8,906.9 1649.9,909.8 1650.9,907.0 1652.0,907.0 1653.1,896.4 1654.1,906.6 1655.2,905.9 1656.2,907.4 1657.3,906.5 1658.3,907.1 1659.4,908.0 1660.5,906.4 1661.5,907.5 1662.6,907.3 1663.6,909.4 1664.7,906.0 1665.7,908.2 1666.8,908.8 1667.8,906.2 1668.9,906.8 1670.0,907.5 1671.0,905.3 1672.1,903.7 1673.1,902.9 1674.2,902.8 1675.2,902.4 1676.3,900.3 1677.3,901.3 1678.4,903.3 1679.5,900.6 1680.5,896.6 1681.6,899.5 1682.6,896.8 1683.7,898.3 1684.7,894.7 1685.8,890.6 1686.9,895.7 1687.9,899.2 1689.0,894.1 1690.0,896.6 1691.1,894.8 1692.1,901.6 1693.2,897.7 1694.2,898.6 1695.3,872.7 1696.4,899.6 1697.4,902.3 1698.5,898.5 1699.5,899.8 1700.6,899.8 1701.6,898.3 1702.7,896.9 1703.7,898.4 1704.8,899.7 1705.9,899.9 1706.9,895.2" stroke="#00ffff"/>
<path d="M775.5,873.2 776.6,886.0 777.6,883.8 778.7,884.2 779.7,879.7 780.8,883.8 781.9,884.9 782.9,881.7 784.0,884.3 785.0,889.0 786.1,886.6 787.1,889.8 788.2,889.2 789.3,887.4 790.3,885.9 791.4,886.6 792.4,887.8 793.5,883.4 794.5,887.0 795.6,887.5 796.6,889.3 797.7,887.0 798.8,888.3 799.8,887.5 800.9,891.8 801.9,889.7 803.0,889.1 804.0,889.2 805.1,891.7 806.1,890.2 807.2,888.8 808.3,891.7 809.3,889.2 810.4,892.1 811.4,891.9 812.5,896.1 813.5,888.8 814.6,886.9 815.7,890.2 816.7,887.6 817.8,862.5 818.8,884.9 819.9,892.1 820.9,892.3 822.0,890.6 823.0,888.2 824.1,889.4 825.2,893.0 826.2,891.0 827.3,886.4 828.3,889.6 829.4,892.0 830.4,890.9 831.5,891.5 832.5,889.0 833.6,889.9 834.7,890.0 835.7,886.4 836.8,890.6 837.8,892.1 838.9,884.0 839.9,889.7 841.0,890.0 842.1,893.9 843.1,889.9 844.2,889.3 845.2,893.2 846.3,890.2 847.3,888.6 848.4,891.7 849.4,888.7 850.5,891.3 851.6,889.4 852.6,890.6 853.7,891.0 854.7,886.8 855.8,885.8 856.8,889.0 857.9,887.9 858.9,883.3 860.0,894.5 861.1,890.7 862.1,889.7 863.2,891.4 864.2,891.1 865.3,890.8 866.3,887.0 867.4,891.8 868.5,891.7 869.5,889.3 870.6,886.1 871.6,886.9 872.7,886.1 873.7,890.5 874.8,888.0 875.8,891.3 876.9,892.9 878.0,891.6 879.0,886.5 880.1,888.9 881.1,890.8 882.2,893.2 883.2,893.8 884.3,889.5 885.3,887.1 886.4,889.4 887.5,886.3 888.5,886.4 889.6,886.2 890.6,887.9 891.7,887.0 892.7,885.7 893.8,886.3 894.9,889.9 895.9,890.7 897.0,892.9 898.0,895.2 899.1,887.4 900.1,888.0 901.2,888.5 902.2,890.0 903.3,890.3 904.4,888.3 905.4,893.9 906.5,891.5 907.5,888.0 908.6,887.4 909.6,892.1 910.7,892.3 911.7,888.1 912.8,891.4 913.9,891.6 914.9,884.8 916.0,886.0 917.0,888.3 918.1,890.2 919.1,887.5 920.2,888.9 921.3,890.8 922.3,884.6 923.4,887.8 924.4,885.8 925.5,885.8 926.5,886.7 927.6,890.7 928.6,889.7 929.7,885.4 930.8,882.9 931.8,883.4 932.9,882.7 933.9,883.4 935.0,861.9 936.0,885.6 937.1,851.6 938.1,877.4 939.2,873.9 940.3,872.0 941.3,867.3 942.4,866.8 943.4,866.0 944.5,864.3 945.5,854.2 946.6,853.6" stroke="#dfff20"/>
<path d="M1624.5,868.4 1625.6,888.0 1626.7,890.4 1627.7,891.2 1628.8,892.6 1629.8,890.7 1630.9,892.4 1631.9,896.6 1633.0,895.0 1634.1,893.1 1635.1,896.9 1636.2,893.7 1637.2,895.7 1638.3,896.5 1639.3,898.3 1640.4,895.3 1641.4,898.4 1642.5,890.1 1643.6,898.7 1644.6,877.1 1645.7,898.6 1646.7,900.5 1647.8,897.2 1648.8,899.3 1649.9,891.6 1650.9,899.6 1652.0,901.4 1653.1,904.0 1654.1,899.1 1655.2,902.4 1656.2,901.8 1657.3,905.4 1658.3,901.9 1659.4,905.9 1660.5,904.7 1661.5,903.7 1662.6,901.9 1663.6,904.4 1664.7,904.5 1665.7,905.6 1666.8,892.0 1667.8,904.8 1668.9,906.6 1670.0,905.3 1671.0,908.2 1672.1,906.2 1673.1,903.5 1674.2,904.4 1675.2,906.3 1676.3,907.2 1677.3,893.6 1678.4,906.5 1679.5,906.6 1680.5,906.5 1681.6,907.6 1682.6,909.0 1683.7,906.7 1684.7,907.5 1685.8,908.3 1686.9,906.8 1687.9,887.5 1689.0,908.4 1690.0,908.6 1691.1,908.2 1692.1,906.2 1693.2,908.3 1694.2,902.2 1695.3,908.9 1696.4,908.3 1697.4,908.6 1698.5,907.1 1699.5,908.0 1700.6,908.3 1701.6,912.1 1702.7,909.8 1703.7,909.1 1704.8,909.4 1705.9,910.2 1706.9,908.4 1708.0,909.8 1709.0,910.5 1710.1,909.6" stroke="#dfff20"/>
<path d="M341.5,839.8 342.6,871.6 343.6,828.2 344.7,864.1 345.7,910.5 346.8,847.2 347.8,890.1 348.9,903.7 350.0,899.3 351.0,879.2 352.1,907.4 353.1,895.7 354.2,901.3 355.2,885.2 356.3,858.2 357.3,899.3 358.4,892.3 359.5,860.4 360.5,903.0 361.6,901.4 362.6,915.0 363.7,913.9 364.7,911.2 365.8,912.8 366.9,912.9 367.9,873.7 369.0,912.3 370.0,907.2 371.1,903.1 372.1,904.9 373.2,907.5 374.2,907.2 375.3,910.1 376.4,909.7 377.4,907.5 378.5,904.2 379.5,910.7 380.6,910.2 381.6,906.6 382.7,910.4 383.7,906.3 384.8,906.6 385.9,912.1 386.9,913.0 388.0,907.5 389.0,912.4 390.1,905.5 391.1,908.2 392.2,916.7 393.3,914.0 394.3,910.9 395.4,907.6 396.4,905.9 397.5,916.0 398.5,907.6 399.6,908.2 400.6,915.6 401.7,909.8 402.8,909.2 403.8,915.1 404.9,916.1 405.9,916.7 407.0,914.1 408.0,914.3 409.1,914.9 410.1,917.1 411.2,917.8 412.3,916.6 413.3,917.7 414.4,915.6 415.4,916.6 416.5,916.3 417.5,918.7 418.6,917.2 419.7,918.0 420.7,918.8 421.8,914.0 422.8,918.2 423.9,917.9 424.9,917.9 426.0,917.0 427.0,919.2 428.1,918.8 429.2,918.8 430.2,919.1 431.3,919.5 432.3,920.0 433.4,918.4 434.4,918.1 435.5,917.8 436.5,918.4 437.6,919.1 438.7,908.2 439.7,918.7 440.8,918.8 441.8,918.6 442.9,917.2 443.9,919.4 445.0,918.8 446.1,918.7 447.1,918.6 448.2,919.3 449.2,919.3 450.3,918.5 451.3,917.5 452.4,918.9 453.4,919.0 454.5,918.5 455.6,917.7 456.6,917.3 457.7,919.3 458.7,918.2 459.8,919.0 460.8,918.8 461.9,917.9 462.9,919.8 464.0,919.3 465.1,918.6 466.1,918.5 467.2,918.3 468.2,918.6 469.3,918.4 470.3,919.3 471.4,918.2 472.5,917.9 473.5,918.9 474.6,919.4 475.6,919.4 476.7,919.1 477.7,918.6 478.8,919.4 479.8,918.5 480.9,919.1 482.0,917.7 483.0,919.1 484.1,918.0 485.1,918.5 486.2,918.8 487.2,919.2 488.3,918.8 489.3,918.6 490.4,919.5 491.5,918.9 492.5,919.4 493.6,919.2 494.6,918.9 495.7,911.4 496.7,920.1 497.8,919.4 498.9,919.9 499.9,918.2 501.0,918.8 502.0,918.8 503.1,909.1 504.1,919.2 505.2,919.0 506.2,918.4 507.3,919.3 508.4,919.1 509.4,919.0 510.5,919.5 511.5,919.0 512.6,918.6 513.6,918.7 514.7,919.6 515.7,918.5 516.8,918.4 517.9,918.7 518.9,918.5 520.0,919.2 521.0,918.4 522.1,917.9 523.1,917.9 524.2,919.1 525.3,913.8 526.3,919.6 527.4,919.5 528.4,918.8 529.5,919.2 530.5,920.0 531.6,917.5 532.6,918.8 533.7,919.2 534.8,918.9 535.8,918.7 536.9,918.3 537.9,918.5 539.0,919.1 540.0,918.0 541.1,917.8 542.1,918.5 543.2,918.8 544.3,919.0 545.3,919.1 546.4,918.8 547.4,917.6 548.5,919.4 549.5,918.7 550.6,919.0 551.7,918.0 552.7,918.6 553.8,918.4 554.8,920.0 555.9,919.3 556.9,918.4 558.0,919.5 559.0,918.5 560.1,917.8 561.2,919.1 562.2,918.1 563.3,918.4 564.3,918.6 565.4,917.9 566.4,917.6 567.5,919.0 568.5,918.7 569.6,918.8 570.7,904.8 571.7,917.6 572.8,918.1 573.8,917.9 574.9,916.7 575.9,914.9 577.0,914.2 578.1,912.4 579.1,914.0 580.2,910.7 581.2,910.9 582.3,914.2 583.3,911.2 584.4,907.2 585.4,910.4 586.5,909.8 587.6,891.7 588.6,900.3 589.7,907.8 590.7,906.2 591.8,905.5 592.8,909.2 593.9,904.4 594.9,913.3 596.0,910.5 597.1,904.4 598.1,913.9 599.2,909.6 600.2,908.7 601.3,910.7 602.3,904.0 603.4,904.5 604.5,911.5 605.5,906.3 606.6,912.7 607.6,911.3 608.7,912.1 609.7,914.5 610.8,853.8 611.8,896.5 612.9,911.2 614.0,887.1 615.0,899.9 616.1,878.7 617.1,874.5 618.2,871.7 619.2,893.5 620.3,838.3" stroke="#ff8000"/>
<path d="M1299.3,898.7 1300.4,909.0 1301.4,911.2 1302.5,906.2 1303.5,906.1 1304.6,905.8 1305.6,910.2 1306.7,906.8 1307.7,912.0 1308.8,909.3 1309.9,910.1 1310.9,909.8 1312.0,911.9 1313.0,911.2 1314.1,911.6 1315.1,910.5 1316.2,912.1 1317.3,911.2 1318.3,912.4 1319.4,912.3 1320.4,913.4 1321.5,912.2 1322.5,915.0 1323.6,913.8 1324.6,912.7 1325.7,911.7 1326.8,911.6 1327.8,895.8 1328.9,916.1 1329.9,914.5 1331.0,912.5 1332.0,916.9 1333.1,913.3 1334.1,914.1 1335.2,914.1 1336.3,912.7 1337.3,912.9 1338.4,914.8 1339.4,912.3 1340.5,912.8 1341.5,912.6 1342.6,906.6 1343.7,913.7 1344.7,913.7 1345.8,913.9 1346.8,913.7 1347.9,912.8 1348.9,911.7 1350.0,912.4 1351.0,915.6 1352.1,912.2 1353.2,913.7 1354.2,912.1 1355.3,914.1 1356.3,914.3 1357.4,912.9 1358.4,912.7 1359.5,913.2 1360.5,913.7 1361.6,913.8 1362.7,912.6 1363.7,912.7 1364.8,911.4 1365.8,912.0 1366.9,911.8 1367.9,913.7 1369.0,914.2 1370.1,913.9 1371.1,908.5 1372.2,913.9 1373.2,912.3 1374.3,911.2 1375.3,912.4 1376.4,912.9 1377.4,913.7 1378.5,914.3 1379.6,913.2 1380.6,914.6 1381.7,912.1 1382.7,913.4 1383.8,902.1 1384.8,908.0 1385.9,915.9 1386.9,914.7 1388.0,914.6 1389.1,911.7 1390.1,911.4 1391.2,910.7 1392.2,912.7 1393.3,913.7 1394.3,904.4 1395.4,913.5 1396.5,912.3 1397.5,912.8 1398.6,914.5 1399.6,915.4 1400.7,915.7 1401.7,908.3 1402.8,913.8 1403.8,913.9 1404.9,903.5 1406.0,915.2 1407.0,915.3 1408.1,909.3 1409.1,912.8 1410.2,912.3 1411.2,914.2 1412.3,914.4 1413.3,915.3 1414.4,913.6 1415.5,912.2 1416.5,912.1 1417.6,914.0 1418.6,913.2 1419.7,911.9 1420.7,911.6 1421.8,912.5 1422.9,913.1 1423.9,913.9 1425.0,913.0 1426.0,912.4 1427.1,913.1 1428.1,913.6 1429.2,914.0 1430.2,912.9 1431.3,911.3 1432.4,912.5 1433.4,907.6 1434.5,905.4 1435.5,911.8 1436.6,894.9 1437.6,888.7 1438.7,904.9 1439.7,899.1 1440.8,894.5 1441.9,888.6 1442.9,906.7 1444.0,912.8 1445.0,900.9 1446.1,910.0 1447.1,910.5 1448.2,909.5 1449.3,912.4 1450.3,909.4 1451.4,913.3 1452.4,911.9 1453.5,914.2 1454.5,910.7 1455.6,911.0 1456.6,910.9 1457.7,900.1 1458.8,908.7 1459.8,903.0 1460.9,901.1 1461.9,898.6 1463.0,903.3 1464.0,898.3 1465.1,893.7 1466.1,896.9 1467.2,893.1 1468.3,894.7 1469.3,906.8 1470.4,890.8 1471.4,892.3 1472.5,884.7 1473.5,905.3 1474.6,902.0 1475.7,878.6 1476.7,886.6 1477.8,859.6 1478.8,872.1 1479.9,862.3 1480.9,840.5" stroke="#ff8000"/>
<path d="M455.6,880.2 456.6,898.8 457.7,893.8 458.7,892.7 459.8,900.0 460.8,897.5 461.9,892.6 462.9,904.0 464.0,898.4 465.1,888.6 466.1,888.4 467.2,893.8 468.2,893.9 469.3,894.3 470.3,893.5 471.4,912.3 472.5,906.6 473.5,906.9 474.6,906.3 475.6,910.8 476.7,908.3 477.7,911.6 478.8,913.0 479.8,915.4 480.9,912.7 482.0,916.6 483.0,915.1 484.1,915.1 485.1,915.8 486.2,917.2 487.2,916.1 488.3,916.6 489.3,917.4 490.4,917.5 491.5,916.6 492.5,917.5 493.6,917.5 494.6,918.4 495.7,916.7 496.7,917.3 497.8,918.0 498.9,917.7 499.9,917.3 501.0,916.3 502.0,918.4 503.1,919.2 504.1,918.3 505.2,917.8 506.2,916.2 507.3,917.8 508.4,917.7 509.4,918.0 510.5,918.7 511.5,918.3 512.6,918.2 513.6,918.6 514.7,919.4 515.7,907.9 516.8,918.1 517.9,917.7 518.9,916.8 520.0,918.0 521.0,917.5 522.1,917.0 523.1,918.9 524.2,917.9 525.3,918.5 526.3,917.9 527.4,917.3 528.4,917.6 529.5,917.6 530.5,917.2 531.6,919.1 532.6,917.8 533.7,918.5 534.8,917.4 535.8,916.8 536.9,918.0 537.9,917.1 539.0,918.3 540.0,916.7 541.1,917.9 542.1,917.1 543.2,917.2 544.3,917.7 545.3,917.0 546.4,918.2 547.4,916.9 548.5,918.5 549.5,917.6 550.6,918.9 551.7,916.8 552.7,917.0 553.8,918.8 554.8,918.2 555.9,917.9 556.9,917.5 558.0,917.8 559.0,917.4 560.1,916.9 561.2,917.3 562.2,917.4 563.3,916.6 564.3,912.4 565.4,918.4 566.4,918.8 567.5,917.6 568.5,918.0 569.6,917.9 570.7,918.0 571.7,918.2 572.8,917.8 573.8,918.3 574.9,916.8 575.9,916.8 577.0,918.8 578.1,918.8 579.1,918.2 580.2,916.6 581.2,917.0 582.3,907.1 583.3,917.5 584.4,918.3 585.4,918.0 586.5,918.0 587.6,916.3 588.6,917.9 589.7,918.4 590.7,917.0 591.8,917.5 592.8,916.9 593.9,917.8 594.9,907.8 596.0,917.0 597.1,918.9 598.1,919.2 599.2,918.1 600.2,916.9 601.3,917.9 602.3,917.6 603.4,918.7 604.5,917.8 605.5,917.2 606.6,912.8 607.6,918.9 608.7,917.4 609.7,918.4 610.8,918.9 611.8,917.4 612.9,918.3 614.0,918.7 615.0,918.0 616.1,918.4 617.1,918.1 618.2,918.0 619.2,918.5 620.3,917.1 621.3,918.5 622.4,917.7 623.5,917.4 624.5,917.5 625.6,917.9 626.6,908.5 627.7,917.2 628.7,918.3 629.8,917.9 630.9,919.5 631.9,917.0 633.0,918.3 634.0,917.4 635.1,916.7 636.1,917.8 637.2,918.0 638.2,917.9 639.3,918.5 640.4,919.2 641.4,917.6 642.5,917.6 643.5,918.0 644.6,918.2 645.6,918.1 646.7,918.9 647.7,918.6 648.8,917.5 649.9,917.7 650.9,919.3 652.0,918.1 653.0,918.1 654.1,917.2 655.1,917.4 656.2,917.7 657.3,916.9 658.3,918.8 659.4,918.6 660.4,917.4 661.5,917.3 662.5,917.1 663.6,917.2 664.6,917.3 665.7,917.2 666.8,919.3 667.8,918.2 668.9,918.0 669.9,917.2 671.0,918.3 672.0,918.8 673.1,918.6 674.1,917.8 675.2,913.4 676.3,919.0 677.3,917.0 678.4,917.5 679.4,917.2 680.5,918.0 681.5,917.1 682.6,916.8 683.7,918.2 684.7,918.2 685.8,917.0 686.8,916.7 687.9,916.8 688.9,917.7 690.0,916.6 691.0,914.4 692.1,916.4 693.2,915.7 694.2,916.4 695.3,916.8 696.3,915.8 697.4,915.5 698.4,915.5 699.5,915.9 700.5,913.8 701.6,914.0 702.7,912.2 703.7,914.8 704.8,913.9 705.8,914.7 706.9,907.4 707.9,914.0 709.0,907.1 710.1,906.5 711.1,902.7 712.2,902.9 713.2,897.8 714.3,909.5 715.3,901.3 716.4,905.3 717.4,897.8 718.5,908.5 719.6,899.4 720.6,895.9 721.7,910.1 722.7,898.6 723.8,899.0 724.8,895.0 725.9,890.4 726.9,895.9 728.0,906.4 729.1,892.1 730.1,895.4 731.2,883.0 732.2,898.2 733.3,905.7 734.3,893.2 735.4,883.5 736.5,909.4 737.5,883.4 738.6,891.0 739.6,881.8 740.7,876.3 741.7,871.5 742.8,842.8" stroke="#ff6000"/>
<path d="M1389.1,893.0 1390.1,905.3 1391.2,905.7 1392.2,898.1 1393.3,906.9 1394.3,905.0 1395.4,902.6 1396.5,879.9 1397.5,907.3 1398.6,909.0 1399.6,904.2 1400.7,904.2 1401.7,900.7 1402.8,902.8 1403.8,908.7 1404.9,906.1 1406.0,907.6 1407.0,907.6 1408.1,902.0 1409.1,907.9 1410.2,907.8 1411.2,906.3 1412.3,907.9 1413.3,910.5 1414.4,905.9 1415.5,907.8 1416.5,906.2 1417.6,909.4 1418.6,893.2 1419.7,898.8 1420.7,906.5 1421.8,907.7 1422.9,899.6 1423.9,909.1 1425.0,913.9 1426.0,901.7 1427.1,909.3 1428.1,913.6 1429.2,909.2 1430.2,911.2 1431.3,910.6 1432.4,910.9 1433.4,909.9 1434.5,909.3 1435.5,909.3 1436.6,911.8 1437.6,911.4 1438.7,909.7 1439.7,909.4 1440.8,904.7 1441.9,905.8 1442.9,906.5 1444.0,906.4 1445.0,905.9 1446.1,886.1 1447.1,910.2 1448.2,909.7 1449.3,911.0 1450.3,893.3 1451.4,903.6 1452.4,905.8 1453.5,906.5 1454.5,897.4 1455.6,903.2 1456.6,902.8 1457.7,907.6 1458.8,905.1 1459.8,901.9 1460.9,906.5 1461.9,906.4 1463.0,905.6 1464.0,899.2 1465.1,897.0 1466.1,912.9 1467.2,904.1 1468.3,904.0 1469.3,910.1 1470.4,899.0 1471.4,902.2 1472.5,907.2 1473.5,905.0 1474.6,894.9 1475.7,890.3 1476.7,906.7 1477.8,908.8 1478.8,900.6 1479.9,901.5 1480.9,914.0 1482.0,910.5 1483.0,906.7 1484.1,910.3 1485.2,909.5 1486.2,910.1 1487.3,910.8 1488.3,908.1 1489.4,912.9 1490.4,909.4 1491.5,910.6 1492.5,910.8 1493.6,908.4 1494.7,911.1 1495.7,910.4 1496.8,893.6 1497.8,908.7 1498.9,914.9 1499.9,907.3 1501.0,910.4 1502.1,910.6 1503.1,911.6 1504.2,901.7 1505.2,910.5 1506.3,910.2 1507.3,909.0 1508.4,890.3 1509.4,910.8 1510.5,911.5 1511.6,912.0 1512.6,909.5 1513.7,910.9 1514.7,910.8 1515.8,913.3 1516.8,911.3 1517.9,911.5 1518.9,910.1 1520.0,910.8 1521.1,907.0 1522.1,909.9 1523.2,907.8 1524.2,909.7 1525.3,907.3 1526.3,909.1 1527.4,910.1 1528.5,908.2 1529.5,911.5 1530.6,909.4 1531.6,907.0 1532.7,910.6 1533.7,895.8 1534.8,894.0 1535.8,906.2 1536.9,909.5 1538.0,889.1 1539.0,909.1 1540.1,903.7 1541.1,897.4 1542.2,903.5 1543.2,896.6 1544.3,902.3 1545.3,903.1 1546.4,905.4 1547.5,891.0 1548.5,895.2 1549.6,899.9 1550.6,875.7 1551.7,900.1 1552.7,900.3 1553.8,889.5 1554.9,890.9 1555.9,899.5 1557.0,902.5 1558.0,892.7 1559.1,904.4 1560.1,887.9 1561.2,903.5 1562.2,900.9 1563.3,885.6 1564.4,900.8 1565.4,901.3 1566.5,905.4 1567.5,900.1 1568.6,892.2 1569.6,898.5 1570.7,900.2 1571.7,894.7 1572.8,899.5 1573.9,901.0 1574.9,907.4 1576.0,899.0 1577.0,897.6 1578.1,903.2 1579.1,901.3 1580.2,906.3 1581.3,905.0 1582.3,894.6 1583.4,893.4 1584.4,890.7 1585.5,871.9" stroke="#ff6000"/>
<path d="M357.3,883.6 358.4,899.7 359.5,893.5 360.5,905.0 361.6,901.9 362.6,903.5 363.7,897.6 364.7,900.1 365.8,893.4 366.9,882.5 367.9,899.4 369.0,904.7 370.0,902.8 371.1,901.5 372.1,896.1 373.2,903.9 374.2,884.6 375.3,903.8 376.4,900.5 377.4,898.9 378.5,873.0 379.5,905.7 380.6,898.9 381.6,904.9 382.7,905.1 383.7,899.3 384.8,903.1 385.9,895.8 386.9,894.7 388.0,878.9 389.0,901.5 390.1,901.6 391.1,891.7 392.2,904.5 393.3,905.9 394.3,910.3 395.4,884.2 396.4,900.5 397.5,901.6 398.5,906.5 399.6,908.8 400.6,908.0 401.7,902.3 402.8,903.5 403.8,908.1 404.9,903.9 405.9,902.8 407.0,901.6 408.0,904.8 409.1,899.3 410.1,896.9 411.2,905.5 412.3,902.1 413.3,909.5 414.4,900.7 415.4,899.1 416.5,904.4 417.5,891.9 418.6,898.4 419.7,907.8 420.7,893.4 421.8,911.6 422.8,894.6 423.9,902.5 424.9,906.0 426.0,907.8 427.0,888.4 428.1,908.1 429.2,900.5 430.2,884.0 431.3,906.0 432.3,897.8 433.4,903.7 434.4,903.7 435.5,908.9 436.5,906.6 437.6,885.6 438.7,906.0 439.7,900.0 440.8,876.1 441.8,891.7 442.9,902.6 443.9,905.5 445.0,909.1 446.1,906.1 447.1,905.1 448.2,905.6 449.2,899.9 450.3,907.2 451.3,908.6 452.4,897.6 453.4,901.6 454.5,882.6 455.6,896.3 456.6,874.0 457.7,885.6 458.7,891.7 459.8,897.5 460.8,898.6 461.9,882.5 462.9,884.7 464.0,882.2 465.1,894.8 466.1,879.5 467.2,897.2 468.2,891.7 469.3,903.1 470.3,898.7 471.4,885.2 472.5,893.1 473.5,892.6 474.6,892.8 475.6,886.7 476.7,894.3 477.7,894.4 478.8,898.6 479.8,891.8 480.9,896.0 482.0,900.2 483.0,902.7 484.1,897.9 485.1,902.7 486.2,906.3 487.2,895.5 488.3,906.1 489.3,902.4 490.4,912.1 491.5,874.9 492.5,889.2 493.6,910.1 494.6,911.1 495.7,904.0 496.7,910.3 497.8,878.6 498.9,906.9 499.9,908.9 501.0,911.8 502.0,914.0 503.1,910.7 504.1,904.7 505.2,905.9 506.2,905.4 507.3,910.6 508.4,907.0 509.4,909.2 510.5,892.6 511.5,910.0 512.6,908.5 513.6,887.2 514.7,905.6 515.7,908.2 516.8,909.6 517.9,909.3 518.9,906.2 520.0,913.4 521.0,910.1 522.1,891.3 523.1,909.4 524.2,904.4 525.3,903.5 526.3,911.1 527.4,908.3 528.4,906.2 529.5,904.7 530.5,909.4 531.6,907.5 532.6,907.6 533.7,901.5 534.8,900.5 535.8,897.4 536.9,891.9 537.9,903.9 539.0,891.2 540.0,866.6 541.1,894.3 542.1,890.1 543.2,890.5 544.3,884.6 545.3,899.4 546.4,898.0" stroke="#ff4000"/>
<path d="M1240.2,891.2 1241.2,895.0 1242.3,900.7 1243.3,907.0 1244.4,896.7 1245.4,903.9 1246.5,897.6 1247.6,907.8 1248.6,902.3 1249.7,901.9 1250.7,901.8 1251.8,912.7 1252.8,907.4 1253.9,909.2 1254.9,903.6 1256.0,904.8 1257.1,912.0 1258.1,909.6 1259.2,908.4 1260.2,906.6 1261.3,911.8 1262.3,890.3 1263.4,906.9 1264.5,909.9 1265.5,907.7 1266.6,911.8 1267.6,907.8 1268.7,913.1 1269.7,909.2 1270.8,910.5 1271.8,909.8 1272.9,910.9 1274.0,910.5 1275.0,910.4 1276.1,909.6 1277.1,899.9 1278.2,899.8 1279.2,910.2 1280.3,911.1 1281.3,913.5 1282.4,910.1 1283.5,910.1 1284.5,910.4 1285.6,914.1 1286.6,911.5 1287.7,910.2 1288.7,911.5 1289.8,903.5 1290.9,913.6 1291.9,910.2 1293.0,914.8 1294.0,911.3 1295.1,908.1 1296.1,908.5 1297.2,912.9 1298.2,911.5 1299.3,912.2 1300.4,909.7 1301.4,909.3 1302.5,910.0 1303.5,908.9 1304.6,908.2 1305.6,909.0 1306.7,909.4 1307.7,908.9 1308.8,912.3 1309.9,908.9 1310.9,907.6 1312.0,909.3 1313.0,908.8 1314.1,912.4 1315.1,908.2 1316.2,909.8 1317.3,908.5 1318.3,907.1 1319.4,909.1 1320.4,910.4 1321.5,911.2 1322.5,908.0 1323.6,906.0 1324.6,900.7 1325.7,909.3 1326.8,908.4 1327.8,910.0 1328.9,906.8 1329.9,908.6 1331.0,906.9 1332.0,906.8 1333.1,909.5 1334.1,909.2 1335.2,909.8 1336.3,909.7 1337.3,910.8 1338.4,909.8 1339.4,906.1 1340.5,903.9 1341.5,904.2 1342.6,899.0 1343.7,910.9 1344.7,904.9 1345.8,906.3 1346.8,907.3 1347.9,908.2 1348.9,908.5 1350.0,907.3 1351.0,897.1 1352.1,906.7 1353.2,908.5 1354.2,910.5 1355.3,911.5 1356.3,909.1 1357.4,912.0 1358.4,910.2 1359.5,910.6 1360.5,907.1 1361.6,910.2 1362.7,909.2 1363.7,898.3 1364.8,908.0 1365.8,910.4 1366.9,908.8 1367.9,912.3 1369.0,907.8 1370.1,911.9 1371.1,910.0 1372.2,910.6 1373.2,909.4 1374.3,908.8 1375.3,908.9 1376.4,911.4 1377.4,911.3 1378.5,906.3 1379.6,900.4 1380.6,912.5 1381.7,910.8 1382.7,911.2 1383.8,910.2 1384.8,898.5 1385.9,910.8 1386.9,912.3 1388.0,909.4 1389.1,900.3 1390.1,912.6 1391.2,910.0 1392.2,909.7 1393.3,911.3 1394.3,910.6 1395.4,911.3 1396.5,909.8 1397.5,911.1 1398.6,895.1 1399.6,912.4 1400.7,905.2 1401.7,914.3 1402.8,914.1 1403.8,911.3 1404.9,911.0 1406.0,913.4 1407.0,907.7 1408.1,911.9 1409.1,911.7 1410.2,911.5 1411.2,909.9 1412.3,909.2 1413.3,908.6 1414.4,913.7 1415.5,909.0 1416.5,893.2 1417.6,910.2 1418.6,910.7 1419.7,912.3 1420.7,905.7 1421.8,910.1 1422.9,912.4 1423.9,908.0 1425.0,909.9 1426.0,909.6 1427.1,909.6 1428.1,912.5 1429.2,913.5 1430.2,911.2 1431.3,913.8 1432.4,913.3 1433.4,888.4 1434.5,909.7 1435.5,912.6 1436.6,911.9 1437.6,911.4 1438.7,909.8 1439.7,909.9 1440.8,900.8 1441.9,910.7 1442.9,911.3 1444.0,911.0 1445.0,900.0 1446.1,912.0 1447.1,911.0 1448.2,911.6 1449.3,912.6 1450.3,911.2 1451.4,907.9 1452.4,913.6 1453.5,910.3 1454.5,909.2 1455.6,907.7 1456.6,908.1 1457.7,905.5 1458.8,902.7 1459.8,905.0 1460.9,903.5 1461.9,907.1 1463.0,900.9 1464.0,898.7 1465.1,900.1 1466.1,900.2 1467.2,902.6 1468.3,895.3 1469.3,903.4 1470.4,901.5 1471.4,896.0 1472.5,888.3 1473.5,888.2 1474.6,895.1 1475.7,891.9 1476.7,896.7 1477.8,891.5 1478.8,900.3 1479.9,886.8 1480.9,882.4 1482.0,883.0 1483.0,871.8 1484.1,885.2 1485.2,875.0 1486.2,898.4 1487.3,894.5 1488.3,902.5 1489.4,889.2 1490.4,885.7 1491.5,876.0 1492.5,873.7 1493.6,906.0 1494.7,891.1 1495.7,879.6 1496.8,908.8 1497.8,878.8 1498.9,863.1 1499.9,899.4 1501.0,888.7 1502.1,888.7 1503.1,888.2 1504.2,902.2 1505.2,873.6 1506.3,856.0 1507.3,894.1 1508.4,866.6 1509.4,891.8 1510.5,884.2 1511.6,890.8 1512.6,892.3 1513.7,883.1" stroke="#ff4000"/>
<path d="M839.9,876.0 841.0,872.8 842.1,885.2 843.1,896.2 844.2,889.5 845.2,899.6 846.3,901.6 847.3,906.2 848.4,887.0 849.4,901.9 850.5,909.1 851.6,902.4 852.6,915.7 853.7,896.0 854.7,909.4 855.8,905.5 856.8,906.8 857.9,915.6 858.9,910.5 860.0,916.2 861.1,910.4 862.1,899.8 863.2,913.3 864.2,915.7 865.3,913.1 866.3,912.2 867.4,913.1 868.5,913.3 869.5,915.0 870.6,916.1 871.6,917.4 872.7,916.4 873.7,916.5 874.8,916.3 875.8,916.3 876.9,916.0 878.0,917.2 879.0,917.2 880.1,917.0 881.1,917.1 882.2,917.2 883.2,915.5 884.3,916.0 885.3,915.8 886.4,917.4 887.5,917.0 888.5,916.1 889.6,916.4 890.6,917.5 891.7,915.8 892.7,918.4 893.8,917.7 894.9,916.9 895.9,917.1 897.0,917.2 898.0,917.0 899.1,917.6 900.1,918.1 901.2,917.6 902.2,918.5 903.3,918.7 904.4,916.7 905.4,917.0 906.5,918.6 907.5,917.6 908.6,916.8 909.6,917.0 910.7,917.2 911.7,918.9 912.8,918.1 913.9,917.6 914.9,917.8 916.0,916.9 917.0,917.1 918.1,917.9 919.1,917.8 920.2,917.1 921.3,917.7 922.3,917.9 923.4,917.6 924.4,918.4 925.5,916.9 926.5,903.3 927.6,917.6 928.6,919.2 929.7,918.2 930.8,918.4 931.8,917.1 932.9,917.5 933.9,917.8 935.0,916.9 936.0,918.0 937.1,918.5 938.1,917.7 939.2,917.9 940.3,917.9 941.3,918.4 942.4,916.5 943.4,917.8 944.5,916.9 945.5,918.1 946.6,918.4 947.7,918.3 948.7,918.2 949.8,917.3 950.8,917.6 951.9,918.1 952.9,917.8 954.0,917.8 955.0,907.5 956.1,917.5 957.2,916.9 958.2,917.8 959.3,919.1 960.3,918.1 961.4,918.6 962.4,918.5 963.5,918.1 964.5,917.4 965.6,917.5 966.7,918.7 967.7,918.8 968.8,917.4 969.8,917.9 970.9,918.1 971.9,917.5 973.0,919.3 974.1,918.3 975.1,917.8 976.2,919.0 977.2,918.5 978.3,918.7 979.3,918.1 980.4,917.2 981.4,918.6 982.5,919.4 983.6,918.3 984.6,917.9 985.7,916.3 986.7,918.3 987.8,918.2 988.8,917.1 989.9,918.0 990.9,917.3 992.0,917.6 993.1,918.5 994.1,917.9 995.2,919.0 996.2,917.4 997.3,918.4 998.3,917.0 999.4,914.7 1000.5,911.1 1001.5,918.0 1002.6,916.8 1003.6,918.1 1004.7,917.8 1005.7,918.1 1006.8,918.6 1007.8,917.0 1008.9,918.2 1010.0,917.8 1011.0,918.0 1012.1,918.7 1013.1,918.3 1014.2,917.8 1015.2,918.4 1016.3,918.5 1017.3,917.8 1018.4,918.5 1019.5,918.2 1020.5,918.8 1021.6,917.9 1022.6,917.8 1023.7,918.1 1024.7,917.6 1025.8,918.4 1026.9,917.4 1027.9,918.0 1029.0,917.4 1030.0,918.7 1031.1,918.7 1032.1,917.5 1033.2,918.0 1034.2,916.8 1035.3,917.5 1036.4,918.4 1037.4,917.0 1038.5,916.9 1039.5,918.2 1040.6,915.4 1041.6,913.9 1042.7,912.4 1043.7,913.2 1044.8,915.5 1045.9,912.7 1046.9,902.7 1048.0,902.2 1049.0,896.2 1050.1,908.6 1051.1,885.8 1052.2,898.1 1053.3,892.9 1054.3,874.5 1055.4,874.6 1056.4,906.1 1057.5,907.2 1058.5,887.4 1059.6,889.3 1060.6,905.3 1061.7,904.5 1062.8,898.7 1063.8,897.7 1064.9,907.3 1065.9,899.0 1067.0,897.2 1068.0,901.3 1069.1,904.3 1070.1,903.3 1071.2,910.5 1072.3,910.0 1073.3,902.5 1074.4,900.4 1075.4,901.2 1076.5,908.1 1077.5,901.4 1078.6,903.0 1079.7,906.8 1080.7,899.5 1081.8,900.0 1082.8,904.3 1083.9,895.2 1084.9,871.5 1086.0,891.7 1087.0,892.9 1088.1,884.0 1089.2,847.2 1090.2,877.0 1091.3,858.2" stroke="#ff2000"/>
<path d="M1694.2,904.8 1695.3,898.6 1696.4,897.0 1697.4,881.9 1698.5,902.2 1699.5,875.9 1700.6,900.0 1701.6,901.1 1702.7,896.7 1703.7,881.4 1704.8,900.0 1705.9,897.8 1706.9,891.6 1708.0,897.1 1709.0,893.9 1710.1,886.6" stroke="#ff2000"/>
<path d="M717.4,893.7 718.5,902.0 719.6,908.3 720.6,900.5 721.7,909.1 722.7,911.5 723.8,912.7 724.8,908.4 725.9,914.5 726.9,909.1 728.0,912.1 729.1,911.5 730.1,918.1 731.2,912.3 732.2,913.2 733.3,911.2 734.3,909.9 735.4,913.9 736.5,915.4 737.5,912.8 738.6,913.4 739.6,915.3 740.7,915.5 741.7,917.0 742.8,916.2 743.8,917.3 744.9,915.0 746.0,916.9 747.0,915.0 748.1,917.2 749.1,916.5 750.2,916.4 751.2,919.2 752.3,916.2 753.3,916.8 754.4,917.4 755.5,918.8 756.5,918.0 757.6,918.4 758.6,917.9 759.7,919.0 760.7,918.5 761.8,918.7 762.9,919.8 763.9,918.7 765.0,917.3 766.0,916.1 767.1,918.4 768.1,918.7 769.2,918.6 770.2,918.3 771.3,918.5 772.4,918.7 773.4,913.1 774.5,917.4 775.5,918.7 776.6,918.4 777.6,918.7 778.7,919.6 779.7,918.7 780.8,918.6 781.9,919.0 782.9,919.0 784.0,918.5 785.0,919.3 786.1,918.5 787.1,918.8 788.2,918.3 789.3,918.8 790.3,919.9 791.4,920.3 792.4,918.8 793.5,919.1 794.5,918.9 795.6,917.5 796.6,918.6 797.7,918.3 798.8,919.3 799.8,918.8 800.9,918.8 801.9,919.8 803.0,918.3 804.0,918.8 805.1,919.0 806.1,917.9 807.2,919.2 808.3,919.8 809.3,919.0 810.4,919.1 811.4,920.2 812.5,918.8 813.5,919.1 814.6,918.0 815.7,918.5 816.7,919.3 817.8,920.5 818.8,919.0 819.9,910.5 820.9,918.9 822.0,918.5 823.0,919.0 824.1,918.6 825.2,918.5 826.2,919.9 827.3,919.3 828.3,920.2 829.4,919.0 830.4,919.2 831.5,920.0 832.5,919.2 833.6,920.5 834.7,919.7 835.7,920.3 836.8,918.5 837.8,920.0 838.9,920.0 839.9,919.5 841.0,919.1 842.1,919.6 843.1,919.2 844.2,911.5 845.2,920.0 846.3,919.5 847.3,919.1 848.4,918.9 849.4,919.3 850.5,919.8 851.6,918.5 852.6,918.7 853.7,918.7 854.7,919.8 855.8,918.8 856.8,919.8 857.9,918.7 858.9,920.5 860.0,919.9 861.1,919.8 862.1,919.5 863.2,919.3 864.2,918.9 865.3,919.4 866.3,920.6 867.4,918.7 868.5,918.6 869.5,918.3 870.6,918.5 871.6,918.6 872.7,918.4 873.7,919.5 874.8,919.6 875.8,919.0 876.9,919.6 878.0,918.9 879.0,919.4 880.1,919.2 881.1,918.5 882.2,918.7 883.2,918.0 884.3,919.9 885.3,918.4 886.4,919.6 887.5,919.8 888.5,918.7 889.6,918.7 890.6,919.9 891.7,920.2 892.7,918.7 893.8,918.7 894.9,919.5 895.9,919.0 897.0,919.3 898.0,918.6 899.1,919.8 900.1,919.6 901.2,918.4 902.2,918.8 903.3,919.5 904.4,920.5 905.4,918.5 906.5,919.0 907.5,919.4 908.6,918.5 909.6,918.9 910.7,919.5 911.7,919.1 912.8,919.4 913.9,919.8 914.9,919.4 916.0,919.4 917.0,919.5 918.1,919.5 919.1,918.9 920.2,919.8 921.3,918.2 922.3,916.8 923.4,915.7 924.4,914.9 925.5,914.3 926.5,911.7 927.6,912.1 928.6,914.3 929.7,915.8 930.8,911.3 931.8,910.8 932.9,900.7 933.9,901.8 935.0,895.8 936.0,899.1 937.1,904.2 938.1,915.8 939.2,889.3 940.3,893.6 941.3,895.5 942.4,900.9 943.4,902.7 944.5,890.3 945.5,897.9 946.6,912.2 947.7,916.5 948.7,897.5 949.8,891.3 950.8,898.9 951.9,907.9 952.9,896.3 954.0,900.6 955.0,912.3 956.1,887.4 957.2,905.0 958.2,909.5 959.3,909.0 960.3,904.5 961.4,880.3 962.4,911.1 963.5,890.6 964.5,895.8 965.6,890.5 966.7,907.2 967.7,893.2 968.8,902.8 969.8,880.0 970.9,887.8 971.9,893.4 973.0,889.0 974.1,890.3 975.1,901.1 976.2,890.8 977.2,885.4 978.3,903.1 979.3,898.0 980.4,901.7 981.4,901.1 982.5,900.9 983.6,892.9 984.6,892.1 985.7,890.5 986.7,898.1 987.8,882.7 988.8,897.4 989.9,891.4 990.9,874.5 992.0,887.7 993.1,838.3 994.1,848.9 995.2,817.5" stroke="#bf0000"/>
<path d="M1610.8,826.9 1611.9,820.6 1612.9,867.1 1614.0,888.6 1615.0,897.6 1616.1,894.2 1617.2,897.3 1618.2,851.6 1619.3,902.4 1620.3,904.9 1621.4,906.6 1622.4,908.4 1623.5,909.3 1624.5,910.9 1625.6,910.3 1626.7,912.4 1627.7,914.5 1628.8,912.0 1629.8,913.5 1630.9,913.2 1631.9,912.7 1633.0,913.1 1634.1,913.3 1635.1,913.8 1636.2,915.1 1637.2,913.9 1638.3,914.1 1639.3,901.2 1640.4,916.1 1641.4,915.6 1642.5,916.0 1643.6,915.9 1644.6,913.9 1645.7,915.8 1646.7,916.2 1647.8,915.9 1648.8,915.7 1649.9,917.4 1650.9,914.9 1652.0,915.1 1653.1,916.2 1654.1,915.9 1655.2,915.1 1656.2,914.9 1657.3,916.4 1658.3,916.0 1659.4,916.1 1660.5,916.2 1661.5,915.5 1662.6,916.9 1663.6,916.0 1664.7,916.9 1665.7,916.8 1666.8,916.6 1667.8,916.1 1668.9,917.2 1670.0,916.5 1671.0,917.1 1672.1,917.6 1673.1,916.3 1674.2,917.0 1675.2,916.8 1676.3,917.4 1677.3,916.3 1678.4,916.6 1679.5,916.6 1680.5,917.4 1681.6,917.2 1682.6,917.2 1683.7,916.0 1684.7,916.2 1685.8,918.1 1686.9,915.7 1687.9,916.4 1689.0,917.4 1690.0,915.8 1691.1,916.5 1692.1,918.3 1693.2,917.3 1694.2,915.2 1695.3,918.1 1696.4,917.6 1697.4,917.6 1698.5,916.4 1699.5,916.0 1700.6,917.5 1701.6,915.5 1702.7,916.8 1703.7,917.6 1704.8,916.2 1705.9,917.1 1706.9,917.6 1708.0,916.7 1709.0,917.2 1710.1,917.7" stroke="#bf0000"/>
<path d="M222.2,854.6 223.2,853.4 224.3,860.0 225.3,908.0 226.4,884.0 227.5,866.2 228.5,870.4 229.6,898.9 230.6,869.0 231.7,902.0 232.7,907.2 233.8,856.0 234.9,889.2 235.9,910.2 237.0,896.4 238.0,889.8 239.1,850.3 240.1,885.8 241.2,909.8 242.2,901.4 243.3,851.6 244.4,891.5 245.4,898.0 246.5,909.6 247.5,899.4 248.6,896.3 249.6,907.5 250.7,911.1 251.7,892.0 252.8,912.3 253.9,895.0 254.9,896.5 256.0,896.2 257.0,908.7 258.1,905.8 259.1,898.4 260.2,908.7 261.3,903.0 262.3,915.1 263.4,908.3 264.4,910.6 265.5,906.6 266.5,904.9 267.6,903.4 268.6,912.6 269.7,914.6 270.8,905.9 271.8,907.2 272.9,913.3 273.9,907.1 275.0,912.5 276.0,906.7 277.1,910.0 278.1,911.6 279.2,911.1 280.3,908.5 281.3,910.3 282.4,915.9 283.4,915.2 284.5,910.8 285.5,913.7 286.6,911.5 287.7,911.1 288.7,914.3 289.8,910.2 290.8,910.7 291.9,902.6 292.9,915.8 294.0,910.6 295.0,912.0 296.1,915.7 297.2,915.3 298.2,914.6 299.3,913.9 300.3,911.3 301.4,910.3 302.4,913.8 303.5,915.0 304.5,913.4 305.6,915.4 306.7,914.1 307.7,915.2 308.8,916.6 309.8,912.9 310.9,915.3 311.9,913.0 313.0,914.6 314.1,915.9 315.1,916.0 316.2,916.4 317.2,916.1 318.3,914.8 319.3,915.0 320.4,914.8 321.4,913.4 322.5,915.8 323.6,915.3 324.6,916.2 325.7,917.0 326.7,917.4 327.8,916.3 328.8,916.4 329.9,916.0 330.9,915.4 332.0,916.0 333.1,915.8 334.1,916.5 335.2,916.0 336.2,916.1 337.3,916.4 338.3,917.0 339.4,915.9 340.5,915.3 341.5,916.1 342.6,915.2 343.6,915.7 344.7,915.8 345.7,916.1 346.8,918.1 347.8,916.1 348.9,915.6 350.0,917.5 351.0,915.3 352.1,909.9 353.1,915.8 354.2,916.9 355.2,915.7 356.3,916.9 357.3,914.9 358.4,915.9 359.5,917.7 360.5,916.9 361.6,917.8 362.6,916.3 363.7,916.4 364.7,900.1 365.8,915.8 366.9,915.2 367.9,917.1 369.0,917.7 370.0,917.8 371.1,917.6 372.1,916.2 373.2,918.1 374.2,917.3 375.3,916.8 376.4,916.2 377.4,917.2 378.5,917.4 379.5,916.0 380.6,916.9 381.6,916.8 382.7,916.1 383.7,916.4 384.8,916.4 385.9,915.7 386.9,916.3 388.0,916.7 389.0,916.8 390.1,918.7 391.1,917.2 392.2,916.9 393.3,917.0 394.3,917.4 395.4,917.4 396.4,915.8 397.5,915.7 398.5,917.5 399.6,916.4 400.6,916.4 401.7,915.1 402.8,916.7 403.8,915.7 404.9,916.1 405.9,916.2 407.0,906.7 408.0,914.9 409.1,914.9 410.1,915.2 411.2,915.0 412.3,916.6 413.3,916.1 414.4,915.6 415.4,916.9 416.5,912.2 417.5,914.3 418.6,916.6 419.7,913.9 420.7,913.6 421.8,912.6 422.8,909.6 423.9,911.4 424.9,913.7 426.0,914.3 427.0,913.6 428.1,913.4 429.2,914.8 430.2,911.7 431.3,913.5 432.3,915.8 433.4,916.5 434.4,914.6 435.5,915.0 436.5,907.8 437.6,909.5 438.7,909.5 439.7,916.1 440.8,908.5 441.8,907.9 442.9,906.8 443.9,908.1 445.0,914.5 446.1,904.0 447.1,912.8 448.2,909.6 449.2,905.7 450.3,908.0 451.3,912.5 452.4,904.9 453.4,907.3 454.5,898.6 455.6,899.7 456.6,900.9 457.7,900.4 458.7,907.3 459.8,898.8 460.8,900.7 461.9,913.8 462.9,902.6 464.0,914.5 465.1,900.5 466.1,908.3 467.2,904.4 468.2,904.8 469.3,903.1 470.3,907.4 471.4,903.7 472.5,899.4 473.5,905.1 474.6,911.9 475.6,910.1 476.7,897.1 477.7,914.7 478.8,913.3 479.8,898.9 480.9,906.1 482.0,901.9 483.0,907.2 484.1,900.2 485.1,912.8 486.2,901.3 487.2,900.6 488.3,907.3 489.3,909.0 490.4,900.0 491.5,902.4 492.5,904.6 493.6,907.1 494.6,901.0 495.7,900.5 496.7,899.1 497.8,902.7 498.9,898.5 499.9,905.9 501.0,907.8 502.0,897.3 503.1,902.9 504.1,907.7 505.2,896.2 506.2,898.0 507.3,898.2 508.4,897.1 509.4,902.0 510.5,901.4 511.5,887.4 512.6,912.8 513.6,899.0" stroke="#9f0000"/>
<path d="M1191.6,882.7 1192.6,891.8 1193.7,895.6 1194.8,869.1 1195.8,892.5 1196.9,892.8 1197.9,893.6 1199.0,901.2 1200.0,902.0 1201.1,897.9 1202.1,905.5 1203.2,904.7 1204.3,898.5 1205.3,877.6 1206.4,905.1 1207.4,894.6 1208.5,907.6 1209.5,904.8 1210.6,897.3 1211.7,900.5 1212.7,902.1 1213.8,905.5 1214.8,902.2 1215.9,904.0 1216.9,905.3 1218.0,904.7 1219.0,902.9 1220.1,903.8 1221.2,906.3 1222.2,907.8 1223.3,904.7 1224.3,902.5 1225.4,894.6 1226.4,906.5 1227.5,907.3 1228.5,911.9 1229.6,904.9 1230.7,905.6 1231.7,909.1 1232.8,907.5 1233.8,908.9 1234.9,902.4 1235.9,909.7 1237.0,910.2 1238.1,905.8 1239.1,904.3 1240.2,906.1 1241.2,906.9 1242.3,905.6 1243.3,910.9 1244.4,909.0 1245.4,900.1 1246.5,906.6 1247.6,909.4 1248.6,907.2 1249.7,906.0 1250.7,906.3 1251.8,909.9 1252.8,910.7 1253.9,909.0 1254.9,910.3 1256.0,909.3 1257.1,907.9 1258.1,908.4 1259.2,909.4 1260.2,910.8 1261.3,910.1 1262.3,891.7 1263.4,909.5 1264.5,911.5 1265.5,909.9 1266.6,909.4 1267.6,909.4 1268.7,907.1 1269.7,908.5 1270.8,910.8 1271.8,914.1 1272.9,911.1 1274.0,909.5 1275.0,911.2 1276.1,913.5 1277.1,911.1 1278.2,907.8 1279.2,909.7 1280.3,907.8 1281.3,905.6 1282.4,906.0 1283.5,907.4 1284.5,904.1 1285.6,887.1 1286.6,901.7 1287.7,904.9 1288.7,901.7 1289.8,884.4 1290.9,898.1 1291.9,906.9 1293.0,902.6 1294.0,904.4 1295.1,907.3 1296.1,908.2 1297.2,893.3 1298.2,910.3 1299.3,908.3 1300.4,904.9 1301.4,909.7 1302.5,909.4 1303.5,908.9 1304.6,910.2 1305.6,909.0 1306.7,908.8 1307.7,910.6 1308.8,909.1 1309.9,904.5 1310.9,908.3 1312.0,909.1 1313.0,911.9 1314.1,911.8 1315.1,910.5 1316.2,901.3 1317.3,907.8 1318.3,910.3 1319.4,910.0 1320.4,905.3 1321.5,909.3 1322.5,907.4 1323.6,907.6 1324.6,908.9 1325.7,892.1 1326.8,906.2 1327.8,910.9 1328.9,907.6 1329.9,910.2 1331.0,905.8 1332.0,909.0 1333.1,908.5 1334.1,908.8 1335.2,907.6 1336.3,908.6 1337.3,907.9 1338.4,909.0 1339.4,909.1 1340.5,908.0 1341.5,908.4 1342.6,911.7 1343.7,908.2 1344.7,890.0 1345.8,908.9 1346.8,909.7 1347.9,906.5 1348.9,908.1 1350.0,902.8 1351.0,906.7 1352.1,901.1 1353.2,893.1 1354.2,908.5 1355.3,898.6 1356.3,900.8 1357.4,907.9 1358.4,902.1 1359.5,900.6 1360.5,885.8 1361.6,886.1 1362.7,903.6 1363.7,907.6 1364.8,901.6 1365.8,887.0 1366.9,895.9 1367.9,892.6 1369.0,892.0 1370.1,876.0 1371.1,895.9 1372.2,885.4 1373.2,897.7 1374.3,899.9 1375.3,872.6" stroke="#9f0000"/>
<path d="M191.6,1173.5 192.6,1165.8 193.7,1176.9 194.7,1173.0 195.8,1173.9 196.8,1171.0 197.9,1164.5 198.9,1170.8 200.0,1166.1 201.1,1170.3 202.1,1172.1 203.2,1164.3 204.2,1171.8 205.3,1165.4 206.3,1171.3 207.4,1172.8 208.5,1173.4 209.5,1172.5 210.6,1175.9 211.6,1172.7 212.7,1167.3 213.7,1169.3 214.8,1170.5 215.8,1172.7 216.9,1167.6 218.0,1164.3 219.0,1161.9 220.1,1171.0 221.1,1171.1 222.2,1166.5 223.2,1171.7 224.3,1169.0 225.3,1166.3 226.4,1173.5 227.5,1170.1 228.5,1166.2 229.6,1168.7 230.6,1160.1 231.7,1169.3 232.7,1168.3 233.8,1170.8 234.9,1170.3 235.9,1165.1 237.0,1174.6 238.0,1162.1 239.1,1171.7 240.1,1172.0 241.2,1169.9 242.2,1165.4 243.3,1169.3 244.4,1170.7 245.4,1171.1 246.5,1176.4 247.5,1169.4 248.6,1170.3 249.6,1173.2 250.7,1168.2 251.7,1169.6 252.8,1170.6 253.9,1172.4 254.9,1162.8 256.0,1175.8 257.0,1165.3 258.1,1170.1 259.1,1170.9 260.2,1155.1 261.3,1172.5 262.3,1172.3 263.4,1172.9 264.4,1171.6 265.5,1173.7 266.5,1172.6 267.6,1173.5 268.6,1172.2 269.7,1171.6 270.8,1173.6 271.8,1171.8 272.9,1170.4 273.9,1173.6 275.0,1169.2 276.0,1172.1 277.1,1159.8 278.1,1176.7 279.2,1173.6 280.3,1172.3 281.3,1174.4 282.4,1171.2 283.4,1169.2 284.5,1168.5 285.5,1173.6 286.6,1169.7 287.7,1173.0 288.7,1160.2 289.8,1174.3 290.8,1173.8 291.9,1168.8 292.9,1125.7 294.0,1173.1 295.0,1165.2 296.1,1174.1 297.2,1093.7 298.2,1143.0 299.3,1170.8 300.3,1172.5 301.4,1131.2 302.4,1092.2 303.5,1171.0 304.5,1177.1 305.6,1163.7 306.7,1170.5 307.7,1174.4 308.8,1174.2 309.8,1172.3 310.9,1174.8 311.9,1170.5 313.0,1174.1 314.1,1172.1 315.1,1170.2 316.2,1173.0 317.2,1173.2 318.3,1165.6 319.3,1169.1 320.4,1173.2 321.4,1173.4 322.5,1171.9 323.6,1173.7 324.6,1172.6 325.7,1174.3 326.7,1173.6 327.8,1171.2 328.8,1172.4 329.9,1167.0 330.9,1173.9 332.0,1167.9 333.1,1166.7 334.1,1174.0 335.2,1171.6 336.2,1170.1 337.3,1169.9 338.3,1174.9 339.4,1169.8 340.5,1172.5 341.5,1165.5 342.6,1176.3 343.6,1169.9 344.7,1168.4 345.7,1172.2 346.8,1171.9 347.8,1176.0 348.9,1173.3 350.0,1170.2 351.0,1165.7 352.1,1169.6 353.1,1173.2 354.2,1171.4 355.2,1170.0 356.3,1171.1 357.3,1173.2 358.4,1170.6 359.5,1170.6 360.5,1171.4 361.6,1163.0 362.6,1172.5 363.7,1160.2 364.7,1171.6 365.8,1175.3 366.9,1176.3 367.9,1173.7 369.0,1165.3 370.0,1174.4 371.1,1168.2 372.1,1168.5 373.2,1172.2 374.2,1170.6 375.3,1174.8 376.4,1173.5 377.4,1174.8 378.5,1168.6 379.5,1171.7 380.6,1177.8 381.6,1173.0 382.7,1172.0 383.7,1169.8 384.8,1173.0 385.9,1172.5 386.9,1173.2 388.0,1172.7 389.0,1167.0" stroke="#00009f"/>
<path d="M586.5,1169.6 587.6,1168.0 588.6,1168.8 589.7,1168.6 590.7,1168.2 591.8,1176.4 592.8,1164.0 593.9,1171.9 594.9,1172.9 596.0,1172.3 597.1,1168.6 598.1,1172.1 599.2,1169.2 600.2,1172.9 601.3,1172.6 602.3,1171.4 603.4,1170.4 604.5,1171.3 605.5,1167.6 606.6,1169.3 607.6,1171.3 608.7,1168.1 609.7,1162.4 610.8,1170.6 611.8,1170.7 612.9,1168.2 614.0,1170.0 615.0,1170.0 616.1,1170.4 617.1,1166.8 618.2,1173.2 619.2,1171.9 620.3,1142.5 621.3,1164.2 622.4,1170.6 623.5,1169.3 624.5,1173.2 625.6,1167.0 626.6,1171.5 627.7,1170.6 628.7,1173.5 629.8,1169.8 630.9,1168.6 631.9,1170.6 633.0,1168.0 634.0,1170.2 635.1,1168.6 636.1,1160.9 637.2,1170.5 638.2,1171.7 639.3,1170.9 640.4,1169.7 641.4,1172.5 642.5,1170.1 643.5,1167.6 644.6,1169.3 645.6,1168.7 646.7,1169.0 647.7,1170.0 648.8,1172.4 649.9,1168.8 650.9,1170.8 652.0,1166.7 653.0,1171.5 654.1,1171.6 655.1,1166.8 656.2,1170.2 657.3,1168.2 658.3,1168.7 659.4,1170.2 660.4,1169.6 661.5,1174.0 662.5,1175.9 663.6,1172.0 664.6,1175.4 665.7,1171.7 666.8,1164.5 667.8,1172.8 668.9,1173.0 669.9,1172.0 671.0,1167.0 672.0,1171.6 673.1,1168.2 674.1,1166.4 675.2,1169.7 676.3,1168.5 677.3,1170.4 678.4,1169.6 679.4,1172.7 680.5,1173.8 681.5,1168.3 682.6,1169.0 683.7,1170.5 684.7,1170.0 685.8,1170.7 686.8,1169.7 687.9,1170.3 688.9,1168.7 690.0,1170.6 691.0,1170.1 692.1,1173.2 693.2,1162.9 694.2,1168.2 695.3,1174.1 696.3,1167.8 697.4,1166.2 698.4,1169.4 699.5,1172.2 700.5,1166.4 701.6,1176.9 702.7,1173.0 703.7,1171.3 704.8,1169.9 705.8,1164.3 706.9,1170.4 707.9,1173.2 709.0,1173.4 710.1,1156.8 711.1,1173.9 712.2,1172.4 713.2,1170.1 714.3,1168.5 715.3,1174.6 716.4,1171.1 717.4,1174.7 718.5,1172.3 719.6,1168.8 720.6,1174.7 721.7,1174.4 722.7,1133.6 723.8,1174.1 724.8,1160.8 725.9,1175.0 726.9,1174.2 728.0,1175.2 729.1,1164.2 730.1,1171.0 731.2,1170.6 732.2,1173.3 733.3,1168.3 734.3,1172.4 735.4,1170.7 736.5,1163.2 737.5,1172.4 738.6,1170.5 739.6,1169.4 740.7,1172.9 741.7,1160.0 742.8,1169.7 743.8,1174.2 744.9,1170.5 746.0,1173.9 747.0,1171.4 748.1,1173.8 749.1,1171.0 750.2,1170.8 751.2,1165.1 752.3,1173.7 753.3,1171.0 754.4,1174.8 755.5,1173.1 756.5,1175.7 757.6,1169.8 758.6,1170.4 759.7,1169.3 760.7,1170.6 761.8,1166.4 762.9,1175.4 763.9,1163.0 765.0,1170.7 766.0,1171.2 767.1,1168.3 768.1,1171.0 769.2,1173.7 770.2,1168.8 771.3,1167.8 772.4,1177.0 773.4,1171.5 774.5,1173.0 775.5,1171.6 776.6,1172.6 777.6,1172.7 778.7,1170.6 779.7,1170.5 780.8,1159.3 781.9,1174.1 782.9,1175.8 784.0,1172.1 785.0,1174.9 786.1,1172.7 787.1,1172.7 788.2,1171.4 789.3,1172.5 790.3,1171.9 791.4,1170.3 792.4,1170.9 793.5,1168.4 794.5,1175.8 795.6,1158.9 796.6,1174.9 797.7,1174.6 798.8,1174.7 799.8,1168.8 800.9,1171.5 801.9,1170.2 803.0,1169.8 804.0,1174.5 805.1,1160.2 806.1,1171.9 807.2,1168.1 808.3,1173.0 809.3,1174.6 810.4,1176.4 811.4,1164.0 812.5,1151.6 813.5,1172.0 814.6,1171.9 815.7,1172.8 816.7,1166.6 817.8,1172.9 818.8,1170.0 819.9,1168.0 820.9,1174.8 822.0,1174.8 823.0,1165.3 824.1,1172.1 825.2,1175.9 826.2,1171.7 827.3,1176.0 828.3,1164.2 829.4,1171.5 830.4,1172.5 831.5,1175.3 832.5,1172.1 833.6,1167.9 834.7,1176.3 835.7,1166.5 836.8,1173.5 837.8,1169.0 838.9,1167.8 839.9,1171.3 841.0,1170.6 842.1,1170.5 843.1,1172.2 844.2,1173.9 845.2,1176.9 846.3,1172.8 847.3,1174.6 848.4,1175.6 849.4,1178.0 850.5,1170.5 851.6,1172.9 852.6,1173.8 853.7,1167.1 854.7,1175.9 855.8,1175.5 856.8,1169.3 857.9,1174.3 858.9,1166.9 860.0,1164.8 861.1,1175.8 862.1,1174.7 863.2,1172.3 864.2,1170.1 865.3,1172.0 866.3,1172.7 867.4,1172.8 868.5,1171.7 869.5,1167.6 870.6,1171.4 871.6,1160.9 872.7,1174.6 873.7,1171.4 874.8,1170.6 875.8,1172.9 876.9,1174.0 878.0,1174.8 879.0,1171.7 880.1,1175.4 881.1,1175.2 882.2,1174.8 883.2,1178.6 884.3,1172.1 885.3,1175.4 886.4,1174.2 887.5,1174.7" stroke="#00009f"/>
<path d="M1083.9,1165.7 1084.9,1175.0 1086.0,1174.1 1087.0,1172.2 1088.1,1174.1 1089.2,1172.2 1090.2,1165.3 1091.3,1174.9 1092.3,1173.0 1093.4,1177.8 1094.4,1173.9 1095.5,1175.2 1096.5,1172.6 1097.6,1174.2 1098.7,1174.0 1099.7,1169.9 1100.8,1174.9 1101.8,1171.5 1102.9,1172.4 1103.9,1173.7 1105.0,1174.6 1106.1,1170.6 1107.1,1175.7 1108.2,1172.9 1109.2,1171.6 1110.3,1174.3 1111.3,1175.6 1112.4,1174.5 1113.4,1172.7 1114.5,1164.3 1115.6,1171.6 1116.6,1170.3 1117.7,1176.1 1118.7,1172.1 1119.8,1173.1 1120.8,1174.9 1121.9,1174.7 1122.9,1175.8 1124.0,1176.9 1125.1,1174.4 1126.1,1173.7 1127.2,1169.8 1128.2,1173.3 1129.3,1171.6 1130.3,1176.4 1131.4,1172.0 1132.5,1171.6 1133.5,1171.9 1134.6,1170.0 1135.6,1175.0 1136.7,1175.0 1137.7,1172.7 1138.8,1172.6 1139.8,1176.7 1140.9,1177.2 1142.0,1172.0 1143.0,1173.5 1144.1,1173.2 1145.1,1174.6 1146.2,1171.8 1147.2,1170.8 1148.3,1174.5 1149.3,1169.1 1150.4,1171.2 1151.5,1170.3 1152.5,1173.8 1153.6,1171.4 1154.6,1172.1 1155.7,1174.7 1156.7,1174.4 1157.8,1174.6 1158.9,1175.3 1159.9,1174.5 1161.0,1174.4 1162.0,1171.2 1163.1,1174.5 1164.1,1173.3 1165.2,1174.2 1166.2,1173.0 1167.3,1169.4 1168.4,1170.0 1169.4,1169.8 1170.5,1173.7 1171.5,1172.5 1172.6,1169.7 1173.6,1173.0 1174.7,1170.3 1175.7,1172.4 1176.8,1173.2 1177.9,1173.5 1178.9,1172.8 1180.0,1168.2 1181.0,1173.3 1182.1,1170.2 1183.1,1171.4 1184.2,1166.6 1185.3,1172.9 1186.3,1169.0 1187.4,1171.7 1188.4,1168.3 1189.5,1172.3 1190.5,1168.2 1191.6,1172.6 1192.6,1164.9 1193.7,1172.4 1194.8,1173.9 1195.8,1171.3 1196.9,1176.4 1197.9,1171.6 1199.0,1173.6 1200.0,1173.6 1201.1,1171.4 1202.1,1170.8 1203.2,1175.0 1204.3,1170.5 1205.3,1175.8 1206.4,1176.1 1207.4,1166.5 1208.5,1165.8 1209.5,1172.0 1210.6,1171.0 1211.7,1173.6 1212.7,1172.9 1213.8,1169.5 1214.8,1174.5 1215.9,1157.3 1216.9,1169.9 1218.0,1173.5 1219.0,1175.1 1220.1,1166.2 1221.2,1168.4 1222.2,1172.6 1223.3,1171.9 1224.3,1169.2 1225.4,1172.8 1226.4,1174.7 1227.5,1170.9 1228.5,1165.9 1229.6,1172.5 1230.7,1169.1 1231.7,1167.3 1232.8,1174.4 1233.8,1152.8 1234.9,1173.2 1235.9,1172.3 1237.0,1168.0 1238.1,1167.7 1239.1,1175.2 1240.2,1168.3 1241.2,1170.5 1242.3,1167.8 1243.3,1158.3 1244.4,1168.2 1245.4,1174.1 1246.5,1168.6 1247.6,1171.8 1248.6,1173.3 1249.7,1174.8 1250.7,1163.1 1251.8,1172.2 1252.8,1158.0 1253.9,1173.5 1254.9,1171.5 1256.0,1169.9 1257.1,1171.6 1258.1,1169.8 1259.2,1170.7 1260.2,1175.3 1261.3,1173.2 1262.3,1173.6 1263.4,1177.0 1264.5,1169.3 1265.5,1173.7 1266.6,1172.7 1267.6,1169.9 1268.7,1154.7 1269.7,1174.8 1270.8,1134.3 1271.8,1154.7 1272.9,1169.8 1274.0,1170.8 1275.0,1171.2 1276.1,1168.8 1277.1,1174.5 1278.2,1173.8 1279.2,1171.9 1280.3,1170.8 1281.3,1169.6 1282.4,1163.1 1283.5,1170.9" stroke="#00009f"/>
<path d="M1504.2,1176.3 1505.2,1170.8 1506.3,1174.1 1507.3,1173.9 1508.4,1173.8 1509.4,1171.8 1510.5,1171.0 1511.6,1176.9 1512.6,1172.2 1513.7,1170.9 1514.7,1166.1 1515.8,1173.6 1516.8,1167.8 1517.9,1177.6 1518.9,1174.4 1520.0,1173.6 1521.1,1176.1 1522.1,1173.3 1523.2,1172.4 1524.2,1171.0 1525.3,1175.4 1526.3,1169.2 1527.4,1172.4 1528.5,1172.7 1529.5,1170.0 1530.6,1171.3 1531.6,1176.3 1532.7,1171.3 1533.7,1177.1 1534.8,1173.1 1535.8,1170.7 1536.9,1168.1 1538.0,1172.3 1539.0,1176.4 1540.1,1175.1 1541.1,1171.3 1542.2,1167.5 1543.2,1174.7 1544.3,1173.8 1545.3,1174.9 1546.4,1174.0 1547.5,1173.0 1548.5,1174.0 1549.6,1167.3 1550.6,1175.1 1551.7,1174.8 1552.7,1173.0 1553.8,1154.7 1554.9,1163.5 1555.9,1170.6 1557.0,1173.2 1558.0,1147.0 1559.1,1173.5 1560.1,1172.1 1561.2,1176.5 1562.2,1173.7 1563.3,1175.0 1564.4,1174.4 1565.4,1174.3 1566.5,1172.7 1567.5,1175.1 1568.6,1172.5 1569.6,1175.2 1570.7,1172.6 1571.7,1174.7 1572.8,1179.4 1573.9,1174.3 1574.9,1173.6 1576.0,1171.7 1577.0,1176.0 1578.1,1175.2 1579.1,1162.3 1580.2,1172.9 1581.3,1174.7 1582.3,1172.1 1583.4,1170.9 1584.4,1172.0 1585.5,1173.9 1586.5,1172.9 1587.6,1169.6 1588.6,1173.7 1589.7,1173.8 1590.8,1171.7 1591.8,1177.8 1592.9,1173.7 1593.9,1171.8 1595.0,1170.7 1596.0,1176.0 1597.1,1173.4 1598.1,1166.4 1599.2,1177.4 1600.3,1177.6 1601.3,1174.9 1602.4,1175.4 1603.4,1173.1 1604.5,1174.5 1605.5,1173.9 1606.6,1168.5 1607.7,1174.1 1608.7,1173.3 1609.8,1173.9 1610.8,1169.3 1611.9,1173.1 1612.9,1174.3 1614.0,1172.9 1615.0,1174.3 1616.1,1169.6 1617.2,1174.7 1618.2,1173.6 1619.3,1172.3 1620.3,1173.7 1621.4,1163.9 1622.4,1171.5 1623.5,1175.6 1624.5,1173.6 1625.6,1177.5 1626.7,1176.7 1627.7,1171.8 1628.8,1173.9 1629.8,1172.3 1630.9,1173.4 1631.9,1173.9 1633.0,1173.3 1634.1,1176.1 1635.1,1174.3 1636.2,1173.9 1637.2,1172.4 1638.3,1176.5 1639.3,1173.8 1640.4,1173.0 1641.4,1176.3 1642.5,1171.7 1643.6,1171.0 1644.6,1171.8 1645.7,1161.1 1646.7,1175.2 1647.8,1172.6 1648.8,1175.1 1649.9,1173.1 1650.9,1173.1 1652.0,1174.8 1653.1,1170.7 1654.1,1171.2 1655.2,1176.0 1656.2,1175.0 1657.3,1170.8 1658.3,1177.1 1659.4,1173.0 1660.5,1176.3 1661.5,1178.7 1662.6,1176.0 1663.6,1175.5 1664.7,1171.4 1665.7,1170.7 1666.8,1173.2 1667.8,1168.8 1668.9,1157.5 1670.0,1178.5 1671.0,1173.2 1672.1,1177.2 1673.1,1175.7 1674.2,1158.8 1675.2,1172.5 1676.3,1164.5 1677.3,1172.1 1678.4,1171.5 1679.5,1173.5 1680.5,1174.2 1681.6,1173.2 1682.6,1172.5 1683.7,1167.2 1684.7,1165.4 1685.8,1175.3 1686.9,1173.8 1687.9,1174.8 1689.0,1175.9 1690.0,1171.8 1691.1,1170.5 1692.1,1151.8 1693.2,1173.0 1694.2,1175.0 1695.3,1170.0 1696.4,1173.4 1697.4,1173.5 1698.5,1160.9 1699.5,1172.2 1700.6,1166.9 1701.6,1169.9 1702.7,1165.7 1703.7,1169.9 1704.8,1178.4 1705.9,1174.3 1706.9,1170.8 1708.0,1176.3 1709.0,1162.9 1710.1,1172.1" stroke="#0000bf"/>
<path d="M324.6,1172.9 325.7,1172.7 326.7,1172.8 327.8,1170.3 328.8,1171.4 329.9,1167.8 330.9,1175.0 332.0,1168.2 333.1,1167.0 334.1,1175.9 335.2,1172.0 336.2,1168.4 337.3,1170.2 338.3,1174.1 339.4,1169.7 340.5,1174.2 341.5,1166.3 342.6,1177.7 343.6,1169.8 344.7,1168.5 345.7,1171.9 346.8,1173.0 347.8,1174.7 348.9,1174.2 350.0,1170.7 351.0,1164.9 352.1,1169.2 353.1,1173.0 354.2,1170.5 355.2,1170.5 356.3,1170.4 357.3,1172.9 358.4,1172.0 359.5,1169.3 360.5,1172.6 361.6,1163.7 362.6,1173.6 363.7,1159.9 364.7,1171.1 365.8,1176.1 366.9,1177.9 367.9,1174.2 369.0,1167.2 370.0,1173.8 371.1,1168.4 372.1,1167.2 373.2,1172.7 374.2,1172.5 375.3,1174.1 376.4,1174.7 377.4,1172.8 378.5,1168.7 379.5,1172.2 380.6,1177.0 381.6,1172.0 382.7,1172.9 383.7,1168.9 384.8,1173.9 385.9,1173.2 386.9,1172.0 388.0,1171.9 389.0,1168.0 390.1,1171.5 391.1,1172.4 392.2,1167.6 393.3,1170.7 394.3,1169.0 395.4,1168.9 396.4,1173.4 397.5,1169.8 398.5,1173.5 399.6,1173.2 400.6,1173.7 401.7,1174.4 402.8,1174.1 403.8,1171.3 404.9,1174.9 405.9,1172.5 407.0,1174.7 408.0,1163.8 409.1,1175.4 410.1,1167.8 411.2,1171.4 412.3,1168.7 413.3,1171.6 414.4,1172.3 415.4,1171.3 416.5,1173.6 417.5,1171.4 418.6,1173.9 419.7,1170.5 420.7,1163.3 421.8,1170.2 422.8,1169.4 423.9,1172.2 424.9,1172.0 426.0,1173.4 427.0,1173.4 428.1,1176.3 429.2,1165.3 430.2,1172.6 431.3,1174.3 432.3,1171.5 433.4,1171.7 434.4,1135.1 435.5,1175.7 436.5,1177.2 437.6,1164.6 438.7,1171.7 439.7,1171.1 440.8,1173.2 441.8,1164.5 442.9,1173.5 443.9,1171.8 445.0,1167.5 446.1,1170.0 447.1,1170.5 448.2,1170.8 449.2,1171.4 450.3,1173.3 451.3,1168.2 452.4,1170.8 453.4,1170.6 454.5,1165.0 455.6,1174.1 456.6,1173.5 457.7,1173.3 458.7,1168.4 459.8,1174.6 460.8,1172.4 461.9,1163.5 462.9,1172.4 464.0,1170.0 465.1,1170.7 466.1,1171.8 467.2,1166.8 468.2,1170.2 469.3,1172.9 470.3,1172.2 471.4,1172.5 472.5,1175.3 473.5,1172.3 474.6,1175.3 475.6,1165.9 476.7,1177.5 477.7,1171.9 478.8,1168.6 479.8,1170.4 480.9,1170.6 482.0,1173.2 483.0,1170.8 484.1,1171.6 485.1,1172.9 486.2,1169.0 487.2,1176.5 488.3,1174.3 489.3,1164.5 490.4,1165.4 491.5,1175.4 492.5,1172.6 493.6,1173.8 494.6,1168.8 495.7,1170.7 496.7,1173.9 497.8,1171.7 498.9,1176.7 499.9,1173.4 501.0,1162.5 502.0,1167.9 503.1,1177.2 504.1,1173.0 505.2,1172.1 506.2,1171.4 507.3,1161.0 508.4,1174.1 509.4,1167.2 510.5,1174.6 511.5,1172.6 512.6,1171.1 513.6,1163.7 514.7,1172.7 515.7,1170.6 516.8,1168.0 517.9,1167.7 518.9,1122.7 520.0,1169.0 521.0,1171.9 522.1,1169.0 523.1,1171.5 524.2,1175.8 525.3,1170.9 526.3,1170.0 527.4,1158.2 528.4,1175.7 529.5,1172.6 530.5,1172.2 531.6,1171.3 532.6,1173.8 533.7,1170.5 534.8,1155.8 535.8,1167.3 536.9,1167.6 537.9,1170.7 539.0,1170.2 540.0,1160.1 541.1,1173.2 542.1,1155.9 543.2,1172.1 544.3,1165.8 545.3,1170.3 546.4,1171.6 547.4,1168.7 548.5,1174.6 549.5,1169.1 550.6,1169.0 551.7,1173.6 552.7,1168.3 553.8,1172.2 554.8,1167.0 555.9,1174.0 556.9,1168.7 558.0,1169.4 559.0,1175.0 560.1,1173.3 561.2,1170.2 562.2,1170.3 563.3,1169.6 564.3,1171.8 565.4,1172.8 566.4,1169.9 567.5,1169.7 568.5,1166.4 569.6,1174.9 570.7,1167.6 571.7,1171.6 572.8,1171.3 573.8,1173.2 574.9,1171.0" stroke="#0000df"/>
<path d="M1187.4,1171.1 1188.4,1170.7 1189.5,1172.3 1190.5,1169.1 1191.6,1173.4 1192.6,1165.3 1193.7,1173.7 1194.8,1173.8 1195.8,1171.2 1196.9,1174.2 1197.9,1171.2 1199.0,1173.1 1200.0,1172.5 1201.1,1172.0 1202.1,1168.7 1203.2,1175.0 1204.3,1170.8 1205.3,1175.2 1206.4,1174.3 1207.4,1168.5 1208.5,1166.2 1209.5,1173.3 1210.6,1171.5 1211.7,1174.4 1212.7,1172.2 1213.8,1169.3 1214.8,1174.3 1215.9,1158.3 1216.9,1170.5 1218.0,1173.5 1219.0,1173.3 1220.1,1165.7 1221.2,1169.2 1222.2,1172.7 1223.3,1172.7 1224.3,1170.1 1225.4,1173.3 1226.4,1175.1 1227.5,1173.0 1228.5,1165.2 1229.6,1172.4 1230.7,1167.5 1231.7,1168.3 1232.8,1174.0 1233.8,1152.7 1234.9,1171.1 1235.9,1172.2 1237.0,1169.3 1238.1,1168.9 1239.1,1173.1 1240.2,1167.6 1241.2,1170.2 1242.3,1168.5 1243.3,1159.2 1244.4,1168.3 1245.4,1171.9 1246.5,1168.8 1247.6,1173.0 1248.6,1173.7 1249.7,1174.2 1250.7,1163.4 1251.8,1172.7 1252.8,1158.4 1253.9,1174.9 1254.9,1171.8 1256.0,1169.0 1257.1,1171.3 1258.1,1170.9 1259.2,1170.5 1260.2,1175.8 1261.3,1173.3 1262.3,1173.2 1263.4,1174.0 1264.5,1168.4 1265.5,1171.8 1266.6,1174.5 1267.6,1170.8 1268.7,1174.8 1269.7,1174.1 1270.8,1161.5 1271.8,1172.9 1272.9,1170.8 1274.0,1172.4 1275.0,1171.7 1276.1,1169.0 1277.1,1172.5 1278.2,1171.2 1279.2,1172.0 1280.3,1171.4 1281.3,1168.9 1282.4,1162.7 1283.5,1170.4 1284.5,1173.6 1285.6,1170.4 1286.6,1170.2 1287.7,1172.5 1288.7,1172.6 1289.8,1173.5 1290.9,1168.1 1291.9,1169.7 1293.0,1174.0 1294.0,1170.9 1295.1,1171.7 1296.1,1172.5 1297.2,1171.6 1298.2,1168.4 1299.3,1173.1 1300.4,1173.3 1301.4,1170.3 1302.5,1174.0 1303.5,1164.2 1304.6,1173.0 1305.6,1170.3 1306.7,1172.9 1307.7,1173.1 1308.8,1175.7 1309.9,1165.8 1310.9,1171.2 1312.0,1175.3 1313.0,1177.3 1314.1,1173.5 1315.1,1174.5 1316.2,1170.8 1317.3,1175.3 1318.3,1174.3 1319.4,1173.6 1320.4,1178.5 1321.5,1171.6 1322.5,1175.7 1323.6,1175.3 1324.6,1169.8 1325.7,1172.3 1326.8,1174.3 1327.8,1171.9 1328.9,1171.3 1329.9,1172.0 1331.0,1170.4 1332.0,1159.0 1333.1,1169.7 1334.1,1173.1 1335.2,1172.9 1336.3,1169.0 1337.3,1178.4 1338.4,1173.0 1339.4,1171.9 1340.5,1174.3 1341.5,1175.5 1342.6,1169.5 1343.7,1173.3 1344.7,1170.4 1345.8,1167.0 1346.8,1178.7 1347.9,1169.9 1348.9,1175.0 1350.0,1173.2 1351.0,1172.5 1352.1,1170.8 1353.2,1172.3 1354.2,1166.3 1355.3,1176.1 1356.3,1171.3 1357.4,1175.4 1358.4,1175.2 1359.5,1177.7 1360.5,1174.2 1361.6,1172.0 1362.7,1169.9 1363.7,1171.9 1364.8,1171.0 1365.8,1164.9 1366.9,1171.6 1367.9,1174.2 1369.0,1165.3 1370.1,1171.2 1371.1,1170.7 1372.2,1172.5 1373.2,1172.9 1374.3,1175.1 1375.3,1172.2 1376.4,1172.1 1377.4,1172.5 1378.5,1172.5 1379.6,1178.8 1380.6,1169.7 1381.7,1165.5 1382.7,1177.8 1383.8,1173.2 1384.8,1171.6 1385.9,1171.1 1386.9,1175.1 1388.0,1171.0 1389.1,1171.8 1390.1,1171.6 1391.2,1180.3 1392.2,1171.8 1393.3,1176.6 1394.3,1163.7 1395.4,1173.8 1396.5,1174.1 1397.5,1126.1 1398.6,1177.2 1399.6,1174.4 1400.7,1171.8 1401.7,1174.4 1402.8,1176.5 1403.8,1174.5 1404.9,1171.2 1406.0,1170.2 1407.0,1172.5 1408.1,1172.6 1409.1,1174.8 1410.2,1170.1 1411.2,1160.0 1412.3,1175.8 1413.3,1170.4 1414.4,1169.8 1415.5,1169.7 1416.5,1174.0 1417.6,1172.2 1418.6,1176.5 1419.7,1167.7 1420.7,1174.6 1421.8,1174.7 1422.9,1175.4 1423.9,1172.3 1425.0,1167.1 1426.0,1168.1 1427.1,1173.2 1428.1,1171.6 1429.2,1171.0 1430.2,1172.8 1431.3,1173.1 1432.4,1172.8 1433.4,1162.2" stroke="#0000df"/>
<path d="M190.5,1173.1 191.6,1173.7 192.6,1164.8 193.7,1173.8 194.7,1171.9 195.8,1174.1 196.8,1172.5 197.9,1164.0 198.9,1170.3 200.0,1165.8 201.1,1170.8 202.1,1172.8 203.2,1166.8 204.2,1171.4 205.3,1166.6 206.3,1171.1 207.4,1173.3 208.5,1171.9 209.5,1171.9 210.6,1176.6 211.6,1171.3 212.7,1163.0 213.7,1170.0 214.8,1171.8 215.8,1170.9 216.9,1166.5 218.0,1165.1" stroke="#0000ff"/>
<path d="M197.9,1163.8 198.9,1171.0 200.0,1165.1 201.1,1170.2 202.1,1172.7 203.2,1166.9 204.2,1170.1 205.3,1165.2 206.3,1171.9 207.4,1174.9 208.5,1172.0 209.5,1174.0 210.6,1175.8 211.6,1171.3 212.7,1165.4 213.7,1171.7 214.8,1171.1 215.8,1173.5 216.9,1166.7 218.0,1166.1 219.0,1164.2 220.1,1169.7 221.1,1171.5 222.2,1168.4 223.2,1170.6 224.3,1170.2 225.3,1167.8 226.4,1171.1 227.5,1168.5 228.5,1168.0 229.6,1168.6 230.6,1160.5 231.7,1170.1 232.7,1169.8 233.8,1172.6 234.9,1171.5 235.9,1166.6 237.0,1173.0 238.0,1160.9 239.1,1172.4 240.1,1170.8 241.2,1169.0 242.2,1165.1 243.3,1168.4 244.4,1171.0 245.4,1170.3 246.5,1176.4 247.5,1168.2 248.6,1168.8 249.6,1171.9 250.7,1169.7 251.7,1168.0 252.8,1172.8 253.9,1172.9 254.9,1160.9 256.0,1176.3 257.0,1167.3 258.1,1169.0 259.1,1172.2 260.2,1155.2 261.3,1172.5 262.3,1171.7 263.4,1174.3 264.4,1170.9 265.5,1173.2 266.5,1171.3 267.6,1171.9 268.6,1171.9 269.7,1171.6 270.8,1172.1 271.8,1174.2 272.9,1171.5 273.9,1173.5 275.0,1170.4 276.0,1174.3 277.1,1159.6 278.1,1178.1 279.2,1173.2 280.3,1172.1 281.3,1174.2 282.4,1171.0 283.4,1168.2 284.5,1168.0 285.5,1175.2 286.6,1170.6 287.7,1171.6 288.7,1159.8 289.8,1172.5 290.8,1173.4 291.9,1169.3 292.9,1125.7 294.0,1174.1 295.0,1165.8 296.1,1174.5 297.2,1092.1 298.2,1141.8 299.3,1173.2 300.3,1172.1 301.4,1130.2 302.4,1092.1 303.5,1171.1 304.5,1177.1 305.6,1162.0 306.7,1170.4 307.7,1175.2 308.8,1175.6 309.8,1173.0 310.9,1172.4 311.9,1169.2 313.0,1175.6 314.1,1173.6 315.1,1170.8 316.2,1173.1 317.2,1172.7 318.3,1166.6 319.3,1169.5 320.4,1173.6 321.4,1174.8 322.5,1172.2 323.6,1174.1 324.6,1172.4 325.7,1175.2 326.7,1173.0 327.8,1172.3 328.8,1171.9 329.9,1168.5 330.9,1174.0 332.0,1167.8 333.1,1166.6 334.1,1175.0 335.2,1172.2 336.2,1168.4 337.3,1169.4 338.3,1173.9 339.4,1169.4 340.5,1175.0 341.5,1165.3 342.6,1178.4 343.6,1171.5 344.7,1167.1 345.7,1172.4 346.8,1172.9 347.8,1175.8 348.9,1174.9 350.0,1169.5 351.0,1164.7 352.1,1167.9 353.1,1173.9 354.2,1170.6 355.2,1170.9 356.3,1169.5 357.3,1173.2 358.4,1172.2 359.5,1170.4 360.5,1171.7 361.6,1162.1 362.6,1173.1 363.7,1161.0 364.7,1171.6 365.8,1175.5 366.9,1175.6 367.9,1174.4 369.0,1166.8 370.0,1172.7 371.1,1169.1 372.1,1166.8 373.2,1170.8 374.2,1173.4 375.3,1173.9 376.4,1175.6 377.4,1174.4 378.5,1168.7 379.5,1171.9 380.6,1178.7 381.6,1172.6 382.7,1173.1 383.7,1167.8 384.8,1173.6 385.9,1172.7 386.9,1173.0 388.0,1173.6 389.0,1166.1 390.1,1170.5 391.1,1173.1 392.2,1167.3 393.3,1172.3 394.3,1170.1 395.4,1168.7 396.4,1172.6 397.5,1170.2 398.5,1173.1 399.6,1174.8 400.6,1174.0 401.7,1173.2 402.8,1172.9 403.8,1170.0 404.9,1176.1 405.9,1171.4 407.0,1174.3 408.0,1163.0 409.1,1175.0 410.1,1168.2 411.2,1171.3 412.3,1168.8 413.3,1174.1 414.4,1171.6 415.4,1171.3 416.5,1173.3 417.5,1171.4 418.6,1172.1 419.7,1171.0 420.7,1163.9 421.8,1171.0 422.8,1168.5 423.9,1172.8 424.9,1170.9 426.0,1173.7 427.0,1174.1 428.1,1176.2 429.2,1165.6 430.2,1171.3 431.3,1172.8 432.3,1171.3 433.4,1172.3 434.4,1134.8 435.5,1173.9 436.5,1177.5 437.6,1165.3 438.7,1171.7 439.7,1169.6 440.8,1172.1 441.8,1164.0 442.9,1171.7 443.9,1172.6 445.0,1167.2 446.1,1171.6 447.1,1171.7 448.2,1170.3 449.2,1171.5 450.3,1174.4 451.3,1168.4 452.4,1169.9 453.4,1171.1 454.5,1165.8 455.6,1172.0 456.6,1175.0 457.7,1172.8 458.7,1170.6 459.8,1174.0 460.8,1173.3 461.9,1163.3 462.9,1170.8 464.0,1168.4 465.1,1170.5 466.1,1172.0 467.2,1164.6 468.2,1169.9 469.3,1173.3 470.3,1173.2 471.4,1171.4 472.5,1176.2 473.5,1172.7 474.6,1175.0 475.6,1165.5 476.7,1176.7 477.7,1172.6 478.8,1168.6 479.8,1168.9 480.9,1171.9 482.0,1173.2 483.0,1172.1 484.1,1172.0 485.1,1172.8 486.2,1168.7 487.2,1175.3 488.3,1174.7 489.3,1163.8 490.4,1164.1 491.5,1174.7 492.5,1173.1 493.6,1174.4 494.6,1170.5 495.7,1171.6 496.7,1174.6 497.8,1172.3 498.9,1178.3 499.9,1174.3 501.0,1161.4" stroke="#0000ff"/>
<path d="M883.2,1178.5 884.3,1172.3 885.3,1176.4 886.4,1175.3 887.5,1173.7 888.5,1172.9 889.6,1165.7 890.6,1174.1 891.7,1173.0 892.7,1173.7 893.8,1173.7 894.9,1171.1 895.9,1171.6 897.0,1175.1 898.0,1174.2 899.1,1172.6 900.1,1170.2 901.2,1174.2 902.2,1171.9 903.3,1173.9 904.4,1171.3 905.4,1170.6 906.5,1174.2 907.5,1171.9 908.6,1174.2 909.6,1172.5 910.7,1174.9 911.7,1168.3 912.8,1175.0 913.9,1175.2 914.9,1179.1 916.0,1173.7 917.0,1177.0 918.1,1170.7 919.1,1170.9 920.2,1172.1 921.3,1173.1 922.3,1173.2 923.4,1168.7 924.4,1170.6 925.5,1171.4 926.5,1171.4 927.6,1169.5 928.6,1164.7 929.7,1173.1 930.8,1176.1 931.8,1170.4 932.9,1172.5 933.9,1172.1 935.0,1173.6 936.0,1174.2 937.1,1176.8 938.1,1175.1 939.2,1169.7 940.3,1171.1 941.3,1173.2 942.4,1120.7 943.4,1173.1 944.5,1176.0 945.5,1175.0 946.6,1177.2 947.7,1176.4 948.7,1174.5 949.8,1174.4 950.8,1171.9 951.9,1174.8 952.9,1174.9 954.0,1177.6 955.0,1172.9 956.1,1169.3 957.2,1175.3 958.2,1176.9 959.3,1171.7 960.3,1177.7 961.4,1175.3 962.4,1175.4 963.5,1176.6 964.5,1173.5 965.6,1176.1 966.7,1174.7 967.7,1167.2 968.8,1169.2 969.8,1171.5 970.9,1171.6 971.9,1164.3 973.0,1170.5 974.1,1171.7 975.1,1175.1 976.2,1174.2 977.2,1174.4 978.3,1173.6 979.3,1173.7 980.4,1172.2 981.4,1177.2 982.5,1174.7 983.6,1175.2 984.6,1176.2 985.7,1172.0 986.7,1174.1 987.8,1174.2 988.8,1176.9 989.9,1171.4 990.9,1177.3 992.0,1177.1 993.1,1175.1 994.1,1178.2 995.2,1174.0 996.2,1174.4 997.3,1177.9 998.3,1174.5 999.4,1180.1 1000.5,1172.4 1001.5,1171.4 1002.6,1175.0 1003.6,1171.5 1004.7,1172.0 1005.7,1172.3 1006.8,1177.9 1007.8,1175.7 1008.9,1176.5 1010.0,1174.8 1011.0,1174.5 1012.1,1170.3 1013.1,1174.4 1014.2,1177.3 1015.2,1173.7 1016.3,1162.6 1017.3,1156.5 1018.4,1151.3 1019.5,1114.2 1020.5,1159.7 1021.6,1155.8 1022.6,1151.7 1023.7,1153.1 1024.7,1163.3 1025.8,1116.3 1026.9,1156.5 1027.9,1141.2 1029.0,1145.7 1030.0,1159.1 1031.1,1150.5 1032.1,1117.7 1033.2,1084.8 1034.2,1101.8 1035.3,1072.1 1036.4,1117.7 1037.4,1139.9 1038.5,1157.7 1039.5,1153.5 1040.6,1172.2 1041.6,1172.3 1042.7,1173.7 1043.7,1169.9 1044.8,1150.8 1045.9,1171.4 1046.9,1176.9 1048.0,1169.3 1049.0,1175.1 1050.1,1176.1 1051.1,1173.0 1052.2,1175.4 1053.3,1169.5 1054.3,1171.3 1055.4,1172.7 1056.4,1087.5 1057.5,1144.1 1058.5,1172.0 1059.6,1172.8 1060.6,1170.2 1061.7,1173.2 1062.8,1175.3" stroke="#0000ff"/>
<path d="M1094.4,1174.5 1095.5,1176.3 1096.5,1173.5 1097.6,1173.2 1098.7,1173.7 1099.7,1170.5 1100.8,1175.4 1101.8,1173.0 1102.9,1171.2 1103.9,1172.7 1105.0,1174.5 1106.1,1172.5 1107.1,1176.2 1108.2,1172.8 1109.2,1169.7 1110.3,1173.7 1111.3,1176.1 1112.4,1176.5 1113.4,1174.0 1114.5,1163.5 1115.6,1172.5 1116.6,1171.1 1117.7,1174.4 1118.7,1171.9 1119.8,1174.3 1120.8,1174.5 1121.9,1174.0 1122.9,1174.0 1124.0,1175.0 1125.1,1176.5 1126.1,1172.1 1127.2,1169.9 1128.2,1172.0 1129.3,1169.8 1130.3,1176.0 1131.4,1172.4 1132.5,1172.0 1133.5,1172.7 1134.6,1169.7 1135.6,1173.8 1136.7,1175.2 1137.7,1173.1 1138.8,1171.9 1139.8,1175.0 1140.9,1177.6 1142.0,1174.3 1143.0,1173.1 1144.1,1172.6 1145.1,1172.7 1146.2,1173.0 1147.2,1171.9 1148.3,1176.0 1149.3,1171.7 1150.4,1170.4 1151.5,1170.8 1152.5,1172.5 1153.6,1170.9 1154.6,1173.3 1155.7,1174.6 1156.7,1172.1 1157.8,1176.5 1158.9,1175.4 1159.9,1173.9 1161.0,1177.3 1162.0,1170.0 1163.1,1174.5 1164.1,1174.9 1165.2,1175.7 1166.2,1174.2 1167.3,1171.6 1168.4,1171.1 1169.4,1170.4 1170.5,1172.1 1171.5,1172.9 1172.6,1169.8 1173.6,1173.4 1174.7,1171.2 1175.7,1173.6 1176.8,1173.7 1177.9,1174.1 1178.9,1170.0 1180.0,1167.0 1181.0,1173.1 1182.1,1170.2 1183.1,1171.2 1184.2,1166.3 1185.3,1172.5 1186.3,1168.6 1187.4,1171.8 1188.4,1169.6 1189.5,1170.9 1190.5,1168.8 1191.6,1174.3 1192.6,1164.2 1193.7,1174.3 1194.8,1174.8 1195.8,1171.0 1196.9,1175.4 1197.9,1172.6 1199.0,1173.0 1200.0,1171.7 1201.1,1171.6 1202.1,1169.8 1203.2,1175.4 1204.3,1171.7 1205.3,1175.5 1206.4,1178.4 1207.4,1166.3 1208.5,1166.2 1209.5,1173.0 1210.6,1171.9 1211.7,1174.5 1212.7,1173.6 1213.8,1168.8 1214.8,1172.8 1215.9,1159.0 1216.9,1171.8 1218.0,1171.4 1219.0,1175.9 1220.1,1167.1 1221.2,1169.1 1222.2,1171.6 1223.3,1171.6 1224.3,1173.1 1225.4,1172.6 1226.4,1175.4 1227.5,1170.3 1228.5,1164.6 1229.6,1170.9 1230.7,1166.9 1231.7,1165.6 1232.8,1174.3 1233.8,1151.8 1234.9,1170.5 1235.9,1173.2 1237.0,1169.3 1238.1,1168.3 1239.1,1174.6 1240.2,1168.4 1241.2,1169.8 1242.3,1167.8 1243.3,1158.8 1244.4,1169.3 1245.4,1172.9 1246.5,1169.1 1247.6,1172.4 1248.6,1173.7 1249.7,1174.8 1250.7,1163.8 1251.8,1172.9 1252.8,1158.3 1253.9,1175.0 1254.9,1173.5 1256.0,1169.3 1257.1,1171.2 1258.1,1171.3 1259.2,1171.3 1260.2,1175.1 1261.3,1172.1 1262.3,1173.2 1263.4,1176.7 1264.5,1168.3 1265.5,1172.1 1266.6,1173.5 1267.6,1172.4 1268.7,1173.5 1269.7,1173.5 1270.8,1161.2 1271.8,1172.2 1272.9,1171.0 1274.0,1171.1 1275.0,1170.6 1276.1,1168.4 1277.1,1174.8 1278.2,1173.2 1279.2,1173.1 1280.3,1171.2 1281.3,1168.9 1282.4,1162.9 1283.5,1170.4 1284.5,1172.3 1285.6,1168.4 1286.6,1170.2 1287.7,1173.7 1288.7,1172.5 1289.8,1172.9 1290.9,1169.5 1291.9,1170.1 1293.0,1173.9 1294.0,1170.4" stroke="#0020ff"/>
<path d="M570.7,1169.6 571.7,1172.9 572.8,1171.1 573.8,1172.8 574.9,1173.4 575.9,1171.5 577.0,1171.6 578.1,1169.8 579.1,1170.1 580.2,1175.3 581.2,1173.6 582.3,1177.3 583.3,1169.6 584.4,1162.6 585.4,1144.1 586.5,1157.4 587.6,1164.0 588.6,1166.6 589.7,1146.8 590.7,1162.5 591.8,1175.1 592.8,1155.9 593.9,1167.2 594.9,1170.7 596.0,1170.4 597.1,1165.2 598.1,1165.8 599.2,1165.6 600.2,1168.6 601.3,1164.0 602.3,1169.3 603.4,1161.7 604.5,1165.4 605.5,1160.1 606.6,1150.8 607.6,1169.2 608.7,1165.0 609.7,1158.0 610.8,1167.2 611.8,1167.1 612.9,1163.8 614.0,1167.6 615.0,1163.6 616.1,1158.3 617.1,1164.4 618.2,1163.9 619.2,1162.1 620.3,1135.1 621.3,1154.7 622.4,1160.6 623.5,1159.8 624.5,1165.2 625.6,1158.5 626.6,1162.4 627.7,1160.1 628.7,1157.4 629.8,1161.1 630.9,1158.8 631.9,1162.4 633.0,1158.9 634.0,1159.3 635.1,1158.1 636.1,1151.2 637.2,1160.5 638.2,1159.2 639.3,1158.2 640.4,1162.1 641.4,1162.5 642.5,1163.8 643.5,1154.8 644.6,1159.3 645.6,1159.3 646.7,1159.6 647.7,1161.4 648.8,1164.9 649.9,1154.7 650.9,1161.0 652.0,1151.8 653.0,1162.0 654.1,1160.3 655.1,1157.9 656.2,1167.0 657.3,1162.7 658.3,1164.9 659.4,1169.2 660.4,1165.8 661.5,1171.3 662.5,1173.3 663.6,1170.2 664.6,1170.5 665.7,1167.6 666.8,1159.3 667.8,1166.8 668.9,1168.9 669.9,1167.8 671.0,1161.6 672.0,1167.9 673.1,1164.6 674.1,1161.8 675.2,1166.9 676.3,1163.5 677.3,1168.4 678.4,1165.4 679.4,1168.3 680.5,1170.8 681.5,1165.4 682.6,1165.3 683.7,1168.4 684.7,1163.3 685.8,1167.1 686.8,1166.6 687.9,1164.6 688.9,1165.2 690.0,1168.0 691.0,1166.0 692.1,1171.4 693.2,1159.6 694.2,1165.2 695.3,1169.4 696.3,1166.9 697.4,1161.6 698.4,1166.8 699.5,1166.8 700.5,1166.3 701.6,1175.6 702.7,1173.3 703.7,1172.1 704.8,1169.8 705.8,1164.1 706.9,1170.7 707.9,1172.1 709.0,1171.9 710.1,1158.3 711.1,1174.3 712.2,1170.5 713.2,1170.3 714.3,1169.5 715.3,1173.2 716.4,1170.5 717.4,1175.7 718.5,1173.0 719.6,1170.1 720.6,1175.0 721.7,1173.8 722.7,1132.3 723.8,1173.7 724.8,1161.1 725.9,1174.6 726.9,1175.2 728.0,1176.2 729.1,1163.0 730.1,1171.4 731.2,1171.7 732.2,1172.0 733.3,1168.0 734.3,1173.2 735.4,1170.6 736.5,1165.1 737.5,1171.0 738.6,1170.6 739.6,1169.0 740.7,1173.8 741.7,1161.1 742.8,1169.8 743.8,1173.1 744.9,1171.2 746.0,1171.9 747.0,1171.5 748.1,1173.6 749.1,1168.5 750.2,1170.5 751.2,1165.5 752.3,1174.8 753.3,1171.2 754.4,1173.4 755.5,1173.4 756.5,1175.7 757.6,1172.5 758.6,1172.2 759.7,1170.2 760.7,1170.5" stroke="#0060ff"/>
<path d="M1384.8,1173.3 1385.9,1171.2 1386.9,1174.9 1388.0,1172.4 1389.1,1171.2 1390.1,1171.3 1391.2,1180.4 1392.2,1173.7 1393.3,1175.3 1394.3,1164.5 1395.4,1175.0 1396.5,1176.6 1397.5,1126.0 1398.6,1174.1 1399.6,1173.1 1400.7,1173.3 1401.7,1177.1 1402.8,1173.4 1403.8,1173.6 1404.9,1171.9 1406.0,1169.4 1407.0,1171.3 1408.1,1171.9 1409.1,1175.8 1410.2,1170.5 1411.2,1159.9 1412.3,1178.6 1413.3,1170.8 1414.4,1170.2 1415.5,1169.7 1416.5,1173.2 1417.6,1171.0 1418.6,1175.3 1419.7,1167.4 1420.7,1173.6 1421.8,1175.0 1422.9,1174.9 1423.9,1173.1 1425.0,1167.3 1426.0,1169.7 1427.1,1174.9 1428.1,1170.9 1429.2,1171.8 1430.2,1172.9 1431.3,1172.6 1432.4,1171.3 1433.4,1160.7 1434.5,1169.3 1435.5,1172.9 1436.6,1171.2 1437.6,1167.2 1438.7,1173.1 1439.7,1178.3 1440.8,1170.9 1441.9,1175.7 1442.9,1161.8 1444.0,1173.7 1445.0,1173.8 1446.1,1173.4 1447.1,1176.6 1448.2,1172.2 1449.3,1177.6 1450.3,1173.2 1451.4,1175.9 1452.4,1175.3 1453.5,1174.3 1454.5,1173.0 1455.6,1175.4 1456.6,1174.2 1457.7,1175.6 1458.8,1173.4 1459.8,1175.1 1460.9,1177.6 1461.9,1174.9 1463.0,1175.7 1464.0,1172.7 1465.1,1174.7 1466.1,1170.8 1467.2,1177.7 1468.3,1171.2 1469.3,1169.7 1470.4,1173.2 1471.4,1172.5 1472.5,1171.9 1473.5,1173.1 1474.6,1171.4 1475.7,1172.5 1476.7,1176.6 1477.8,1172.5 1478.8,1174.4 1479.9,1167.4 1480.9,1177.2 1482.0,1172.0 1483.0,1172.9 1484.1,1176.2 1485.2,1173.2 1486.2,1169.2 1487.3,1172.6 1488.3,1170.0 1489.4,1173.0 1490.4,1175.7 1491.5,1172.3 1492.5,1168.0 1493.6,1158.5 1494.7,1173.0 1495.7,1174.0 1496.8,1170.4 1497.8,1173.3 1498.9,1171.9 1499.9,1175.3 1501.0,1174.3 1502.1,1169.2 1503.1,1175.4 1504.2,1176.4 1505.2,1172.5 1506.3,1175.7 1507.3,1174.1 1508.4,1174.1 1509.4,1172.9 1510.5,1172.4 1511.6,1174.3 1512.6,1172.5 1513.7,1172.0 1514.7,1164.8 1515.8,1172.2 1516.8,1168.3 1517.9,1176.1 1518.9,1173.6 1520.0,1174.2 1521.1,1176.6 1522.1,1173.0 1523.2,1172.0 1524.2,1170.7 1525.3,1174.9 1526.3,1169.1 1527.4,1172.8 1528.5,1172.2 1529.5,1170.1 1530.6,1172.3 1531.6,1176.1 1532.7,1172.9 1533.7,1146.8 1534.8,1173.8 1535.8,1172.1 1536.9,1168.4 1538.0,1170.3 1539.0,1177.1 1540.1,1173.5 1541.1,1171.0 1542.2,1168.3 1543.2,1174.7 1544.3,1130.9 1545.3,1152.1 1546.4,1174.1 1547.5,1173.0 1548.5,1174.0 1549.6,1167.3 1550.6,1174.2 1551.7,1174.8 1552.7,1173.2 1553.8,1178.3 1554.9,1164.3 1555.9,1171.0 1557.0,1172.8 1558.0,1146.1 1559.1,1174.8 1560.1,1171.2 1561.2,1177.5 1562.2,1175.7 1563.3,1176.0 1564.4,1174.9 1565.4,1174.9 1566.5,1171.3 1567.5,1177.1 1568.6,1172.6 1569.6,1174.1 1570.7,1174.0 1571.7,1173.8 1572.8,1178.5 1573.9,1176.0 1574.9,1175.1 1576.0,1171.8 1577.0,1175.7 1578.1,1174.8 1579.1,1162.7 1580.2,1173.7 1581.3,1174.4 1582.3,1174.1 1583.4,1168.8 1584.4,1172.3 1585.5,1174.3 1586.5,1173.5 1587.6,1171.3 1588.6,1172.8 1589.7,1173.4 1590.8,1172.3 1591.8,1177.2 1592.9,1175.0 1593.9,1172.2 1595.0,1170.0 1596.0,1176.5 1597.1,1173.1 1598.1,1166.7 1599.2,1175.7 1600.3,1178.5 1601.3,1173.1 1602.4,1176.0 1603.4,1172.1 1604.5,1175.3 1605.5,1175.2 1606.6,1169.3 1607.7,1173.8 1608.7,1173.7 1609.8,1173.6 1610.8,1169.9 1611.9,1172.7 1612.9,1175.6 1614.0,1173.1 1615.0,1173.2 1616.1,1168.2 1617.2,1174.4 1618.2,1171.7 1619.3,1171.9 1620.3,1174.7 1621.4,1164.5 1622.4,1171.7 1623.5,1178.0 1624.5,1173.9 1625.6,1176.3 1626.7,1176.0 1627.7,1172.7 1628.8,1173.0 1629.8,1171.5 1630.9,1172.9 1631.9,1174.6 1633.0,1174.1 1634.1,1174.8 1635.1,1173.2 1636.2,1172.8 1637.2,1174.2 1638.3,1174.6 1639.3,1173.1 1640.4,1173.0 1641.4,1177.7 1642.5,1173.6 1643.6,1171.9 1644.6,1171.1 1645.7,1159.4 1646.7,1174.9 1647.8,1173.2 1648.8,1175.3 1649.9,1175.7 1650.9,1173.9 1652.0,1175.4 1653.1,1171.7 1654.1,1170.4 1655.2,1179.8 1656.2,1173.7 1657.3,1170.4 1658.3,1177.1 1659.4,1173.0 1660.5,1174.3" stroke="#0060ff"/>
<path d="M449.2,1172.4 450.3,1174.2 451.3,1168.2 452.4,1169.6 453.4,1171.5 454.5,1167.1 455.6,1174.1 456.6,1175.5 457.7,1171.7 458.7,1170.8 459.8,1174.3 460.8,1173.6 461.9,1163.2 462.9,1171.0 464.0,1170.0 465.1,1171.1 466.1,1170.2 467.2,1164.5 468.2,1171.6 469.3,1172.2 470.3,1170.3 471.4,1170.9 472.5,1175.4 473.5,1172.5 474.6,1173.9 475.6,1164.6 476.7,1176.2 477.7,1173.0 478.8,1169.2 479.8,1171.5 480.9,1170.8 482.0,1173.1 483.0,1172.0 484.1,1171.7 485.1,1171.6 486.2,1166.9 487.2,1177.0 488.3,1173.8 489.3,1164.5 490.4,1165.9 491.5,1175.9 492.5,1174.8 493.6,1175.8 494.6,1171.2 495.7,1170.1 496.7,1173.7 497.8,1170.0 498.9,1177.9 499.9,1172.7 501.0,1161.4 502.0,1168.1 503.1,1177.5 504.1,1170.2 505.2,1172.4 506.2,1170.0 507.3,1160.0 508.4,1174.8 509.4,1168.5 510.5,1171.5 511.5,1174.0 512.6,1172.2 513.6,1163.4 514.7,1172.0 515.7,1170.9 516.8,1168.6 517.9,1169.8 518.9,1121.9 520.0,1168.9 521.0,1170.9 522.1,1168.7 523.1,1171.3 524.2,1175.7 525.3,1171.1 526.3,1170.1 527.4,1158.0 528.4,1175.8 529.5,1172.6 530.5,1173.0 531.6,1171.0 532.6,1173.2 533.7,1169.1 534.8,1156.9 535.8,1167.7 536.9,1167.5 537.9,1170.6 539.0,1170.0 540.0,1160.0 541.1,1173.1 542.1,1156.0 543.2,1171.3 544.3,1164.4 545.3,1169.9 546.4,1172.4 547.4,1169.0 548.5,1173.9 549.5,1168.7 550.6,1169.1 551.7,1175.6 552.7,1169.4 553.8,1172.9 554.8,1166.6 555.9,1174.3 556.9,1167.5 558.0,1169.9 559.0,1176.4 560.1,1173.6 561.2,1170.2 562.2,1171.5 563.3,1168.0 564.3,1169.0 565.4,1171.0 566.4,1171.5 567.5,1170.8 568.5,1167.0 569.6,1174.3 570.7,1168.6 571.7,1172.2 572.8,1170.1 573.8,1171.2 574.9,1173.9 575.9,1171.6 577.0,1170.8 578.1,1170.7 579.1,1169.7 580.2,1174.1 581.2,1171.9 582.3,1177.3 583.3,1169.8 584.4,1166.2 585.4,1174.2 586.5,1169.3 587.6,1168.2 588.6,1169.8 589.7,1168.6 590.7,1170.5 591.8,1176.6 592.8,1164.0 593.9,1171.4 594.9,1171.3 596.0,1171.8 597.1,1169.1 598.1,1173.4 599.2,1168.7 600.2,1171.0 601.3,1171.7 602.3,1171.5 603.4,1170.6 604.5,1172.5 605.5,1165.6 606.6,1168.2 607.6,1170.7 608.7,1168.6 609.7,1162.8 610.8,1172.4 611.8,1170.1 612.9,1170.2 614.0,1170.5 615.0,1169.4 616.1,1169.7 617.1,1165.8 618.2,1172.8 619.2,1173.7 620.3,1142.6 621.3,1164.4 622.4,1171.5 623.5,1167.3 624.5,1174.1 625.6,1168.0 626.6,1169.3 627.7,1170.5 628.7,1173.4 629.8,1170.6 630.9,1168.0 631.9,1171.8 633.0,1168.6 634.0,1171.8 635.1,1170.4 636.1,1161.9 637.2,1171.7 638.2,1172.2 639.3,1171.4 640.4,1168.6 641.4,1170.1 642.5,1172.1 643.5,1167.9 644.6,1169.2 645.6,1168.5 646.7,1169.1 647.7,1170.0 648.8,1171.7 649.9,1168.6 650.9,1169.7 652.0,1167.2 653.0,1171.0 654.1,1172.6 655.1,1168.9 656.2,1170.1 657.3,1169.7 658.3,1167.8 659.4,1171.1 660.4,1170.9 661.5,1173.0 662.5,1175.1 663.6,1171.2 664.6,1174.0 665.7,1171.5 666.8,1163.0 667.8,1171.6 668.9,1174.7 669.9,1173.2 671.0,1168.4 672.0,1172.3 673.1,1169.4 674.1,1167.0 675.2,1170.6 676.3,1168.3 677.3,1171.2 678.4,1169.4 679.4,1172.8 680.5,1173.1 681.5,1168.0 682.6,1168.4 683.7,1173.2 684.7,1169.6 685.8,1170.2 686.8,1169.5 687.9,1169.9 688.9,1171.3 690.0,1170.9 691.0,1171.2 692.1,1173.1 693.2,1163.0 694.2,1168.0 695.3,1172.5 696.3,1171.8 697.4,1168.1 698.4,1169.1 699.5,1170.3" stroke="#0080ff"/>
<path d="M1269.7,1174.1 1270.8,1160.9 1271.8,1172.2 1272.9,1169.9 1274.0,1171.8 1275.0,1170.7 1276.1,1170.9 1277.1,1173.1 1278.2,1174.2 1279.2,1170.5 1280.3,1171.4 1281.3,1169.8 1282.4,1161.9 1283.5,1168.1 1284.5,1173.0 1285.6,1169.9 1286.6,1169.9 1287.7,1173.4 1288.7,1173.1 1289.8,1172.9 1290.9,1170.0 1291.9,1169.0 1293.0,1174.6 1294.0,1173.0 1295.1,1170.4 1296.1,1171.6 1297.2,1169.4 1298.2,1168.2 1299.3,1171.2 1300.4,1175.0 1301.4,1170.2 1302.5,1173.8 1303.5,1163.7 1304.6,1174.1 1305.6,1173.7 1306.7,1171.7 1307.7,1171.9 1308.8,1174.7 1309.9,1166.2 1310.9,1172.2 1312.0,1174.1 1313.0,1176.5 1314.1,1171.9 1315.1,1174.2 1316.2,1172.1 1317.3,1175.3 1318.3,1173.5 1319.4,1171.9 1320.4,1177.6 1321.5,1169.9 1322.5,1175.6 1323.6,1175.2 1324.6,1171.5 1325.7,1172.1 1326.8,1175.0 1327.8,1171.5 1328.9,1171.6 1329.9,1175.5 1331.0,1170.6 1332.0,1160.1 1333.1,1170.9 1334.1,1173.8 1335.2,1174.3 1336.3,1170.0 1337.3,1178.0 1338.4,1173.2 1339.4,1173.5 1340.5,1174.5 1341.5,1175.0 1342.6,1169.9 1343.7,1173.9 1344.7,1170.4 1345.8,1166.6 1346.8,1179.3 1347.9,1169.2 1348.9,1175.2 1350.0,1173.1 1351.0,1172.5 1352.1,1171.0 1353.2,1169.8 1354.2,1168.0 1355.3,1174.1 1356.3,1172.0 1357.4,1174.7 1358.4,1173.4 1359.5,1175.6 1360.5,1173.7 1361.6,1170.7 1362.7,1170.6 1363.7,1171.9 1364.8,1172.0 1365.8,1163.0 1366.9,1172.9 1367.9,1174.3 1369.0,1166.1 1370.1,1170.7 1371.1,1172.5 1372.2,1170.7 1373.2,1171.3 1374.3,1175.7 1375.3,1171.8 1376.4,1170.2 1377.4,1173.8 1378.5,1170.7 1379.6,1177.1 1380.6,1170.4 1381.7,1167.1 1382.7,1178.3 1383.8,1174.1 1384.8,1171.9 1385.9,1171.4 1386.9,1175.4 1388.0,1171.7 1389.1,1171.9 1390.1,1171.6 1391.2,1179.3 1392.2,1171.4 1393.3,1176.3 1394.3,1163.8 1395.4,1173.8 1396.5,1174.6 1397.5,1126.9 1398.6,1175.2 1399.6,1174.2 1400.7,1172.6 1401.7,1175.0 1402.8,1175.8 1403.8,1171.9 1404.9,1172.3 1406.0,1169.9 1407.0,1171.2 1408.1,1172.5 1409.1,1174.9 1410.2,1169.9 1411.2,1159.8 1412.3,1177.7 1413.3,1170.3 1414.4,1170.5 1415.5,1169.4 1416.5,1173.7 1417.6,1170.8 1418.6,1174.9 1419.7,1167.6 1420.7,1174.3 1421.8,1175.2 1422.9,1174.3 1423.9,1173.5 1425.0,1166.9 1426.0,1169.0 1427.1,1174.4 1428.1,1171.0 1429.2,1172.0 1430.2,1173.0 1431.3,1173.2 1432.4,1173.4 1433.4,1161.8 1434.5,1169.2 1435.5,1170.4 1436.6,1171.4 1437.6,1167.2 1438.7,1174.6 1439.7,1177.6 1440.8,1172.0 1441.9,1173.4 1442.9,1163.5 1444.0,1175.0 1445.0,1174.0 1446.1,1174.0 1447.1,1176.6 1448.2,1171.8 1449.3,1176.3 1450.3,1173.5 1451.4,1174.4 1452.4,1175.0 1453.5,1175.8 1454.5,1173.2 1455.6,1176.0 1456.6,1173.3 1457.7,1176.0 1458.8,1173.1 1459.8,1173.8 1460.9,1175.2 1461.9,1175.2 1463.0,1174.6 1464.0,1172.5 1465.1,1172.4 1466.1,1172.6 1467.2,1177.2 1468.3,1173.4 1469.3,1171.8 1470.4,1172.2 1471.4,1171.5 1472.5,1172.1 1473.5,1173.1 1474.6,1172.5 1475.7,1173.0 1476.7,1176.7 1477.8,1172.9 1478.8,1174.2 1479.9,1166.3 1480.9,1175.8 1482.0,1174.5 1483.0,1174.1 1484.1,1176.2 1485.2,1171.7 1486.2,1167.7 1487.3,1172.5 1488.3,1170.4 1489.4,1172.6 1490.4,1175.5 1491.5,1172.6 1492.5,1167.5 1493.6,1157.6 1494.7,1173.5 1495.7,1172.9 1496.8,1171.2 1497.8,1172.0 1498.9,1172.2 1499.9,1175.3 1501.0,1172.7 1502.1,1170.6 1503.1,1175.5 1504.2,1176.8 1505.2,1173.9 1506.3,1175.4 1507.3,1173.3 1508.4,1173.2 1509.4,1170.5 1510.5,1171.6 1511.6,1174.8 1512.6,1172.6 1513.7,1169.7 1514.7,1166.1 1515.8,1172.8 1516.8,1167.7 1517.9,1177.9 1518.9,1172.5 1520.0,1174.5 1521.1,1176.5 1522.1,1173.2 1523.2,1170.3 1524.2,1171.5 1525.3,1176.7 1526.3,1170.1 1527.4,1173.4 1528.5,1172.1 1529.5,1169.2 1530.6,1170.1 1531.6,1176.4 1532.7,1173.3 1533.7,1176.1 1534.8,1172.7 1535.8,1171.6 1536.9,1166.5 1538.0,1172.1 1539.0,1176.3 1540.1,1175.5 1541.1,1172.3 1542.2,1168.5 1543.2,1175.4 1544.3,1172.9 1545.3,1174.6" stroke="#0080ff"/>
<path d="M190.5,1171.3 191.6,1173.1 192.6,1162.0 193.7,1175.8 194.7,1173.1 195.8,1173.7 196.8,1171.2 197.9,1162.8 198.9,1172.4 200.0,1167.2 201.1,1169.3 202.1,1172.1 203.2,1167.8 204.2,1171.4 205.3,1166.5 206.3,1171.0 207.4,1173.5 208.5,1170.6 209.5,1172.0 210.6,1173.2 211.6,1168.9 212.7,1165.0 213.7,1170.7 214.8,1171.1 215.8,1172.1 216.9,1166.7 218.0,1165.7 219.0,1164.0 220.1,1170.5 221.1,1170.3 222.2,1166.5 223.2,1170.2 224.3,1171.1 225.3,1167.7 226.4,1172.8 227.5,1169.8 228.5,1168.0 229.6,1168.2 230.6,1158.4 231.7,1169.6 232.7,1170.2 233.8,1172.3 234.9,1170.1 235.9,1164.9 237.0,1173.0 238.0,1161.0 239.1,1174.8 240.1,1172.2 241.2,1171.0 242.2,1164.7 243.3,1169.3 244.4,1170.5 245.4,1171.2 246.5,1176.4 247.5,1168.8 248.6,1170.0 249.6,1170.4 250.7,1167.1 251.7,1166.6 252.8,1171.8 253.9,1171.0 254.9,1161.4 256.0,1175.2 257.0,1165.6 258.1,1169.2 259.1,1169.8 260.2,1154.5 261.3,1172.8 262.3,1171.0 263.4,1174.3 264.4,1172.3 265.5,1171.1 266.5,1171.0 267.6,1171.8 268.6,1171.7 269.7,1172.5 270.8,1173.1 271.8,1173.5 272.9,1170.6 273.9,1171.9 275.0,1169.8 276.0,1173.8 277.1,1158.8 278.1,1174.9 279.2,1173.3 280.3,1171.8 281.3,1174.4 282.4,1171.9 283.4,1168.7 284.5,1166.7 285.5,1175.3 286.6,1171.3 287.7,1172.3 288.7,1158.9 289.8,1172.5 290.8,1171.8 291.9,1170.6 292.9,1126.3 294.0,1171.4 295.0,1164.4 296.1,1172.5 297.2,1092.7 298.2,1143.3 299.3,1171.3 300.3,1172.7 301.4,1130.8 302.4,1093.0 303.5,1170.6 304.5,1177.4 305.6,1161.9 306.7,1170.1 307.7,1175.5 308.8,1172.8 309.8,1172.3 310.9,1172.7 311.9,1171.0 313.0,1173.5 314.1,1172.0 315.1,1169.3 316.2,1171.6 317.2,1174.1 318.3,1167.6 319.3,1169.8 320.4,1173.8 321.4,1173.7 322.5,1172.3 323.6,1173.7 324.6,1170.8 325.7,1174.4 326.7,1175.0 327.8,1170.7 328.8,1170.3 329.9,1167.1 330.9,1173.3 332.0,1168.7 333.1,1166.1 334.1,1173.9 335.2,1172.6 336.2,1169.5 337.3,1169.1 338.3,1171.5 339.4,1170.9 340.5,1174.4 341.5,1163.3 342.6,1175.7 343.6,1168.5 344.7,1170.0 345.7,1172.5 346.8,1171.9 347.8,1171.3 348.9,1173.3 350.0,1139.6 351.0,1163.2 352.1,1167.3 353.1,1172.6 354.2,1170.7 355.2,1169.4 356.3,1169.2 357.3,1172.8 358.4,1170.7 359.5,1170.1 360.5,1172.0 361.6,1162.8 362.6,1172.2 363.7,1161.0 364.7,1171.8" stroke="#009fff"/>
<path d="M970.9,1171.0 971.9,1163.9 973.0,1171.7 974.1,1172.9 975.1,1173.1 976.2,1173.8 977.2,1174.1 978.3,1174.8 979.3,1174.5 980.4,1172.1 981.4,1175.9 982.5,1174.4 983.6,1174.0 984.6,1177.7 985.7,1173.7 986.7,1152.6 987.8,1155.3 988.8,1011.7 989.9,1093.8 990.9,1150.2 992.0,1055.4 993.1,1158.1 994.1,1109.7 995.2,1159.8 996.2,1174.8 997.3,1177.2 998.3,1173.9 999.4,1179.2 1000.5,1173.5 1001.5,1170.9 1002.6,1174.3 1003.6,1170.5 1004.7,1170.9 1005.7,1173.0 1006.8,1178.2 1007.8,1177.9 1008.9,1175.5 1010.0,1172.0 1011.0,1174.2 1012.1,1171.5 1013.1,1176.1 1014.2,1165.8 1015.2,1158.6 1016.3,1166.7 1017.3,1123.0 1018.4,1159.2 1019.5,1161.8 1020.5,1162.3 1021.6,1161.3 1022.6,1169.7 1023.7,1166.2 1024.7,1169.2 1025.8,1128.3 1026.9,1165.5 1027.9,1159.2 1029.0,1163.8 1030.0,1173.6 1031.1,1176.5 1032.1,1172.8 1033.2,1174.8 1034.2,1174.1 1035.3,1170.4 1036.4,1171.2 1037.4,1173.6 1038.5,1176.7 1039.5,1174.0 1040.6,1173.0 1041.6,1174.0 1042.7,1172.4 1043.7,1168.7 1044.8,1177.8 1045.9,1170.8 1046.9,1176.6 1048.0,1170.9 1049.0,1174.7 1050.1,1175.8 1051.1,1172.8 1052.2,1176.0 1053.3,1169.6 1054.3,1171.2 1055.4,1171.5 1056.4,1177.4 1057.5,1174.5 1058.5,1171.7 1059.6,1172.5 1060.6,1170.8 1061.7,1174.1 1062.8,1175.4 1063.8,1170.9 1064.9,1164.8 1065.9,1172.4 1067.0,1165.5 1068.0,1169.9 1069.1,1175.5 1070.1,1175.4 1071.2,1174.0 1072.3,1168.2 1073.3,1172.9 1074.4,1172.6 1075.4,1177.5 1076.5,1174.5 1077.5,1170.9 1078.6,1176.0 1079.7,1171.8 1080.7,1172.5 1081.8,1165.5 1082.8,1174.4 1083.9,1165.9 1084.9,1175.2 1086.0,1173.8 1087.0,1173.2 1088.1,1173.9 1089.2,1170.7 1090.2,1165.2 1091.3,1176.1 1092.3,1174.7 1093.4,1177.8 1094.4,1173.0 1095.5,1175.6 1096.5,1172.3 1097.6,1173.2 1098.7,1174.2 1099.7,1171.8 1100.8,1174.5 1101.8,1172.8 1102.9,1172.4 1103.9,1172.5 1105.0,1174.5 1106.1,1173.3 1107.1,1177.2 1108.2,1174.5 1109.2,1170.6 1110.3,1174.5 1111.3,1175.3 1112.4,1175.2 1113.4,1172.6 1114.5,1163.4 1115.6,1172.3 1116.6,1171.8 1117.7,1174.9 1118.7,1171.4 1119.8,1173.6 1120.8,1173.9 1121.9,1175.5 1122.9,1175.7 1124.0,1174.6 1125.1,1175.8 1126.1,1172.9 1127.2,1170.3 1128.2,1173.1 1129.3,1170.5 1130.3,1174.7 1131.4,1172.9 1132.5,1173.4 1133.5,1172.9 1134.6,1160.0 1135.6,1173.6 1136.7,1175.1 1137.7,1172.6 1138.8,1173.1 1139.8,1175.6 1140.9,1176.8 1142.0,1174.3 1143.0,1173.8 1144.1,1174.6 1145.1,1174.2 1146.2,1170.3 1147.2,1172.8 1148.3,1175.0 1149.3,1172.3 1150.4,1169.3 1151.5,1169.9 1152.5,1171.4 1153.6,1169.5 1154.6,1172.7 1155.7,1173.7 1156.7,1137.3 1157.8,1144.1 1158.9,1131.7 1159.9,1175.0 1161.0,1175.2 1162.0,1169.4 1163.1,1175.6 1164.1,1175.0 1165.2,1173.6 1166.2,1173.6 1167.3,1171.0 1168.4,1169.9 1169.4,1169.1 1170.5,1171.6 1171.5,1174.3 1172.6,1170.6 1173.6,1126.4 1174.7,1170.8 1175.7,1171.7 1176.8,1172.7 1177.9,1172.9 1178.9,1169.2 1180.0,1166.9 1181.0,1173.8 1182.1,1171.1" stroke="#009fff"/>
<path d="M673.1,1160.8 674.1,1158.2 675.2,1162.2 676.3,1162.2 677.3,1162.3 678.4,1162.4 679.4,1163.7 680.5,1163.9 681.5,1161.1 682.6,1160.7 683.7,1163.5 684.7,1160.9 685.8,1162.8 686.8,1162.1 687.9,1159.1 688.9,1160.4 690.0,1162.0 691.0,1162.2 692.1,1164.3 693.2,1153.4 694.2,1160.2 695.3,1164.8 696.3,1160.9 697.4,1158.1 698.4,1159.6 699.5,1163.6 700.5,1156.4 701.6,1169.4 702.7,1164.0 703.7,1163.5 704.8,1163.0 705.8,1156.4 706.9,1161.6 707.9,1165.1 709.0,1165.2 710.1,1149.8 711.1,1165.2 712.2,1161.0 713.2,1163.2 714.3,1162.6 715.3,1165.0 716.4,1163.9 717.4,1169.3 718.5,1164.6 719.6,1161.0 720.6,1167.0 721.7,1166.4 722.7,1125.0 723.8,1165.5 724.8,1152.4 725.9,1168.1 726.9,1167.1 728.0,1166.9 729.1,1156.0 730.1,1162.5 731.2,1163.4 732.2,1164.7 733.3,1160.9 734.3,1166.0 735.4,1161.2 736.5,1156.9 737.5,1164.7 738.6,1163.6 739.6,1161.2 740.7,1164.9 741.7,1154.8 742.8,1161.9 743.8,1165.1 744.9,1161.9 746.0,1165.1 747.0,1163.3 748.1,1166.0 749.1,1161.3 750.2,1161.5 751.2,1155.7 752.3,1165.7 753.3,1163.3 754.4,1164.9 755.5,1164.6 756.5,1169.1 757.6,1160.5 758.6,1163.5 759.7,1158.9 760.7,1163.0 761.8,1159.7 762.9,1166.1 763.9,1154.1 765.0,1162.3 766.0,1163.0 767.1,1161.1 768.1,1162.2 769.2,1164.9 770.2,1162.0 771.3,1159.7 772.4,1166.2 773.4,1160.9 774.5,1165.3 775.5,1163.6 776.6,1166.3 777.6,1164.2 778.7,1163.5 779.7,1162.8 780.8,1151.1 781.9,1165.9 782.9,1167.2 784.0,1163.0 785.0,1166.9 786.1,1162.9 787.1,1166.6 788.2,1162.9 789.3,1164.9 790.3,1164.0 791.4,1163.1 792.4,1164.1 793.5,1160.0 794.5,1164.1 795.6,1149.2 796.6,1168.1 797.7,1166.3 798.8,1163.2 799.8,1160.2 800.9,1163.5 801.9,1162.5 803.0,1163.5 804.0,1164.7 805.1,1150.6 806.1,1163.8 807.2,1159.2 808.3,1163.6 809.3,1168.5 810.4,1167.4 811.4,1153.2 812.5,1143.8 813.5,1164.2 814.6,1163.6 815.7,1166.0 816.7,1160.4 817.8,1164.4 818.8,1161.4 819.9,1159.7 820.9,1163.7 822.0,1166.8 823.0,1156.8 824.1,1162.8 825.2,1167.6 826.2,1163.6 827.3,1169.3 828.3,1154.6 829.4,1161.8 830.4,1167.0 831.5,1167.6 832.5,1163.7 833.6,1159.6 834.7,1168.9 835.7,1159.6 836.8,1165.7 837.8,1160.7 838.9,1159.5 839.9,1166.6 841.0,1162.9 842.1,1162.7 843.1,1165.2 844.2,1165.1 845.2,1169.7 846.3,1164.8 847.3,1167.8 848.4,1167.3 849.4,1168.5 850.5,1163.5 851.6,1164.8 852.6,1165.0 853.7,1160.5 854.7,1167.3 855.8,1168.3 856.8,1162.2 857.9,1166.0 858.9,1159.7 860.0,1157.3 861.1,1167.5 862.1,1164.3 863.2,1163.7 864.2,1162.3 865.3,1162.9 866.3,1161.9 867.4,1164.5 868.5,1163.2 869.5,1159.4 870.6,1164.5 871.6,1151.3 872.7,1165.5 873.7,1161.7 874.8,1165.4 875.8,1165.4 876.9,1164.6 878.0,1166.9 879.0,1161.6 880.1,1168.2 881.1,1167.7 882.2,1166.0 883.2,1169.5 884.3,1165.3 885.3,1168.7 886.4,1168.7 887.5,1165.9 888.5,1165.2 889.6,1157.6 890.6,1165.5 891.7,1165.9 892.7,1164.3 893.8,1166.4 894.9,1162.6 895.9,1164.6 897.0,1168.6 898.0,1168.2 899.1,1166.0 900.1,1163.5 901.2,1167.2 902.2,1163.0 903.3,1166.8 904.4,1163.6 905.4,1164.3 906.5,1166.1 907.5,1165.9 908.6,1165.5 909.6,1163.5 910.7,1168.4 911.7,1159.1 912.8,1167.9 913.9,1167.4" stroke="#00dfff"/>
<path d="M1609.8,1166.7 1610.8,1162.8 1611.9,1163.8 1612.9,1168.9 1614.0,1164.2 1615.0,1166.1 1616.1,1160.0 1617.2,1164.6 1618.2,1166.0 1619.3,1164.2 1620.3,1167.2 1621.4,1156.9 1622.4,1164.6 1623.5,1166.4 1624.5,1168.2 1625.6,1168.8 1626.7,1167.2 1627.7,1163.7 1628.8,1167.5 1629.8,1166.7 1630.9,1164.7 1631.9,1164.2 1633.0,1166.8 1634.1,1167.6 1635.1,1166.4 1636.2,1164.3 1637.2,1167.0 1638.3,1168.2 1639.3,1166.4 1640.4,1165.4 1641.4,1170.0 1642.5,1164.2 1643.6,1167.0 1644.6,1160.7 1645.7,1151.4 1646.7,1165.1 1647.8,1162.3 1648.8,1167.0 1649.9,1166.2 1650.9,1166.5 1652.0,1167.8 1653.1,1162.3 1654.1,1163.8 1655.2,1170.9 1656.2,1164.9 1657.3,1163.8 1658.3,1169.7 1659.4,1165.0 1660.5,1168.1 1661.5,1167.3 1662.6,1167.6 1663.6,1168.4 1664.7,1165.4 1665.7,1166.1 1666.8,1166.2 1667.8,1163.7 1668.9,1152.1 1670.0,1170.8 1671.0,1165.2 1672.1,1169.0 1673.1,1169.1 1674.2,1151.3 1675.2,1166.2 1676.3,1157.1 1677.3,1163.8 1678.4,1164.0 1679.5,1166.8 1680.5,1166.4 1681.6,1163.9 1682.6,1165.2 1683.7,1160.2 1684.7,1158.1 1685.8,1167.8 1686.9,1166.6 1687.9,1167.4 1689.0,1166.8 1690.0,1162.9 1691.1,1161.1 1692.1,1142.8 1693.2,1165.4 1694.2,1166.9 1695.3,1163.8 1696.4,1164.4 1697.4,1165.0 1698.5,1148.4 1699.5,1165.1 1700.6,1158.1 1701.6,1163.9 1702.7,1157.6 1703.7,1163.3 1704.8,1171.6 1705.9,1166.7 1706.9,1160.6 1708.0,1170.2 1709.0,1152.6 1710.1,1164.4" stroke="#00dfff"/>
<path d="M574.9,1166.9 575.9,1168.2 577.0,1167.2 578.1,1167.0 579.1,1167.6 580.2,1170.2 581.2,1170.6 582.3,1173.1 583.3,1168.3 584.4,1163.7 585.4,1171.0 586.5,1165.8 587.6,1164.3 588.6,1166.2 589.7,1165.3 590.7,1165.8 591.8,1174.1 592.8,1161.1 593.9,1168.1 594.9,1171.1 596.0,1169.1 597.1,1165.7 598.1,1168.0 599.2,1165.1 600.2,1168.6 601.3,1169.0 602.3,1169.3 603.4,1167.7 604.5,1166.0 605.5,1162.2 606.6,1165.5 607.6,1166.9 608.7,1165.5 609.7,1158.9 610.8,1166.8 611.8,1168.4 612.9,1163.9 614.0,1165.2 615.0,1165.9 616.1,1168.3 617.1,1163.5 618.2,1170.9 619.2,1171.0 620.3,1138.1 621.3,1159.0 622.4,1167.0 623.5,1164.1 624.5,1170.3 625.6,1164.1 626.6,1167.3 627.7,1166.3 628.7,1169.3 629.8,1167.8 630.9,1164.4 631.9,1168.2 633.0,1164.3 634.0,1167.5 635.1,1167.2 636.1,1158.3 637.2,1168.1 638.2,1168.3 639.3,1167.1 640.4,1165.7 641.4,1167.1 642.5,1168.6 643.5,1164.1 644.6,1162.9 645.6,1163.7 646.7,1167.1 647.7,1166.6 648.8,1168.0 649.9,1166.2 650.9,1167.4 652.0,1165.0 653.0,1167.3 654.1,1167.3 655.1,1162.6 656.2,1166.4 657.3,1165.3 658.3,1163.7 659.4,1167.5 660.4,1167.3 661.5,1169.0 662.5,1170.3 663.6,1167.5 664.6,1171.6 665.7,1166.2 666.8,1159.8 667.8,1167.0 668.9,1167.8 669.9,1167.0 671.0,1165.2 672.0,1169.4 673.1,1165.8 674.1,1160.8 675.2,1166.9 676.3,1165.4 677.3,1167.3 678.4,1168.0 679.4,1167.6 680.5,1169.0 681.5,1163.0 682.6,1164.5 683.7,1167.6 684.7,1167.6 685.8,1165.7 686.8,1167.6 687.9,1168.0 688.9,1165.3 690.0,1167.8 691.0,1168.7 692.1,1169.9 693.2,1160.0 694.2,1166.5 695.3,1169.9 696.3,1165.9 697.4,1164.2 698.4,1165.4 699.5,1167.4 700.5,1163.0 701.6,1172.3 702.7,1166.9 703.7,1167.8 704.8,1166.7 705.8,1161.0 706.9,1167.2 707.9,1170.8 709.0,1169.6 710.1,1155.4 711.1,1169.5 712.2,1167.0 713.2,1165.8 714.3,1166.8 715.3,1168.7 716.4,1168.1 717.4,1174.6 718.5,1165.9 719.6,1167.3 720.6,1171.5 721.7,1169.4 722.7,1129.6 723.8,1170.4 724.8,1157.6 725.9,1171.7 726.9,1170.8 728.0,1172.0 729.1,1162.7 730.1,1168.0 731.2,1168.1 732.2,1168.2 733.3,1163.3 734.3,1169.4 735.4,1165.5 736.5,1162.6 737.5,1169.0 738.6,1167.8 739.6,1166.2 740.7,1169.1 741.7,1158.0 742.8,1166.2 743.8,1169.2 744.9,1167.5 746.0,1168.7 747.0,1167.0 748.1,1170.9 749.1,1167.6 750.2,1169.2 751.2,1162.2 752.3,1171.6 753.3,1167.7 754.4,1171.1 755.5,1169.2 756.5,1172.9 757.6,1169.6 758.6,1167.8 759.7,1166.6 760.7,1166.7 761.8,1163.5 762.9,1173.9 763.9,1160.7 765.0,1167.3 766.0,1165.7 767.1,1163.2 768.1,1168.8 769.2,1170.2 770.2,1166.1 771.3,1165.3 772.4,1173.4 773.4,1168.1 774.5,1171.2 775.5,1168.4 776.6,1170.0 777.6,1169.1 778.7,1168.5 779.7,1165.8 780.8,1156.1 781.9,1168.9 782.9,1169.7 784.0,1168.8" stroke="#00ffff"/>
<path d="M1490.4,1176.5 1491.5,1174.8 1492.5,1167.5 1493.6,1158.8 1494.7,1173.9 1495.7,1173.2 1496.8,1169.5 1497.8,1173.4 1498.9,1173.2 1499.9,1175.3 1501.0,1173.5 1502.1,1170.8 1503.1,1174.8 1504.2,1176.3 1505.2,1172.9 1506.3,1175.9 1507.3,1173.6 1508.4,1175.9 1509.4,1173.0 1510.5,1171.1 1511.6,1174.8 1512.6,1170.6 1513.7,1171.2 1514.7,1167.4 1515.8,1172.9 1516.8,1168.3 1517.9,1177.7 1518.9,1173.2 1520.0,1173.3 1521.1,1177.4 1522.1,1173.2 1523.2,1171.3 1524.2,1171.1 1525.3,1175.5 1526.3,1169.4 1527.4,1172.9 1528.5,1172.5 1529.5,1169.7 1530.6,1174.0 1531.6,1176.4 1532.7,1172.0 1533.7,1175.3 1534.8,1173.6 1535.8,1170.7 1536.9,1167.3 1538.0,1173.0 1539.0,1176.4 1540.1,1175.3 1541.1,1170.6 1542.2,1166.5 1543.2,1174.4 1544.3,1174.1 1545.3,1174.0 1546.4,1173.7 1547.5,1172.5 1548.5,1175.9 1549.6,1167.0 1550.6,1173.8 1551.7,1174.6 1552.7,1172.6 1553.8,1177.3 1554.9,1162.9 1555.9,1170.6 1557.0,1173.0 1558.0,1145.7 1559.1,1174.6 1560.1,1171.8 1561.2,1175.9 1562.2,1173.6 1563.3,1174.6 1564.4,1174.9 1565.4,1172.9 1566.5,1170.2 1567.5,1174.5 1568.6,1175.6 1569.6,1174.0 1570.7,1171.9 1571.7,1173.1 1572.8,1178.4 1573.9,1174.2 1574.9,1174.9 1576.0,1168.5 1577.0,1176.9 1578.1,1174.2 1579.1,1156.6 1580.2,1174.0 1581.3,1173.1 1582.3,1171.6 1583.4,1169.2 1584.4,1172.7 1585.5,1175.6 1586.5,1173.3 1587.6,1171.1 1588.6,1173.3 1589.7,1172.7 1590.8,1172.9 1591.8,1178.6 1592.9,1175.5 1593.9,1172.0 1595.0,1169.7 1596.0,1175.4 1597.1,1173.4 1598.1,1165.8 1599.2,1175.3 1600.3,1175.9 1601.3,1169.7 1602.4,1174.7 1603.4,1169.7 1604.5,1174.4 1605.5,1175.3 1606.6,1166.9 1607.7,1141.5 1608.7,1171.5 1609.8,1171.3 1610.8,1170.1 1611.9,1171.3 1612.9,1171.4 1614.0,1172.5 1615.0,1171.1 1616.1,1167.1 1617.2,1171.0 1618.2,1169.1 1619.3,1169.6 1620.3,1174.1 1621.4,1162.5 1622.4,1169.6 1623.5,1174.1 1624.5,1171.1 1625.6,1174.7 1626.7,1175.6 1627.7,1170.1 1628.8,1172.8 1629.8,1169.5 1630.9,1172.3 1631.9,1172.5 1633.0,1169.9 1634.1,1171.0 1635.1,1169.4 1636.2,1171.4 1637.2,1172.6 1638.3,1172.1 1639.3,1172.9 1640.4,1170.3 1641.4,1174.3 1642.5,1170.7 1643.6,1170.6 1644.6,1168.2 1645.7,1156.6 1646.7,1173.3 1647.8,1172.0 1648.8,1174.5 1649.9,1172.2 1650.9,1171.7 1652.0,1171.2 1653.1,1167.9 1654.1,1167.4 1655.2,1173.6 1656.2,1173.7 1657.3,1169.7 1658.3,1176.2 1659.4,1170.5 1660.5,1171.8 1661.5,1174.8 1662.6,1172.8 1663.6,1172.3 1664.7,1169.4 1665.7,1170.7 1666.8,1172.9 1667.8,1168.0 1668.9,1156.0 1670.0,1176.8 1671.0,1171.5 1672.1,1174.9 1673.1,1173.1 1674.2,1157.2 1675.2,1168.5 1676.3,1161.5 1677.3,1169.8 1678.4,1169.3 1679.5,1172.2 1680.5,1173.0 1681.6,1169.6 1682.6,1171.7 1683.7,1165.1 1684.7,1162.2 1685.8,1172.1 1686.9,1171.5 1687.9,1174.6 1689.0,1173.6 1690.0,1169.3 1691.1,1169.8 1692.1,1146.8 1693.2,1172.9 1694.2,1175.4 1695.3,1167.5 1696.4,1171.5 1697.4,1169.2 1698.5,1154.7 1699.5,1170.9 1700.6,1164.3 1701.6,1169.1 1702.7,1163.2 1703.7,1170.3 1704.8,1175.2 1705.9,1174.4 1706.9,1167.8" stroke="#00ffff"/>
<path d="M775.5,1161.2 776.6,1158.8 777.6,1151.8 778.7,1158.9 779.7,1160.5 780.8,1147.9 781.9,1160.7 782.9,1164.4 784.0,1161.5 785.0,1157.4 786.1,1159.2 787.1,1137.8 788.2,1154.0 789.3,1161.1 790.3,1161.2 791.4,1161.9 792.4,1160.8 793.5,1151.8 794.5,1162.2 795.6,1147.3 796.6,1164.5 797.7,1156.5 798.8,1163.1 799.8,1150.2 800.9,1154.7 801.9,1158.1 803.0,1158.0 804.0,1162.3 805.1,1148.4 806.1,1159.8 807.2,1150.0 808.3,1159.7 809.3,1159.2 810.4,1165.2 811.4,1149.8 812.5,1141.5 813.5,1158.4 814.6,1156.3 815.7,1159.3 816.7,1153.3 817.8,1159.1 818.8,1154.4 819.9,1156.2 820.9,1156.6 822.0,1158.6 823.0,1154.6 824.1,1163.0 825.2,1163.2 826.2,1162.7 827.3,1139.4 828.3,1140.5 829.4,1161.2 830.4,1162.8 831.5,1160.1 832.5,1161.4 833.6,1150.3 834.7,1160.9 835.7,1149.8 836.8,1160.4 837.8,1151.6 838.9,1158.6 839.9,1162.2 841.0,1157.6 842.1,1159.9 843.1,1158.7 844.2,1161.0 845.2,1164.9 846.3,1160.6 847.3,1161.7 848.4,1162.9 849.4,1163.0 850.5,1162.0 851.6,1153.6 852.6,1155.7 853.7,1151.6 854.7,1165.0 855.8,1165.3 856.8,1157.6 857.9,1161.1 858.9,1153.7 860.0,1144.1 861.1,1159.6 862.1,1163.3 863.2,1159.8 864.2,1142.6 865.3,1161.7 866.3,1156.3 867.4,1161.3 868.5,1162.3 869.5,1155.3 870.6,1155.3 871.6,1150.9 872.7,1165.2 873.7,1159.1 874.8,1162.0 875.8,1160.6 876.9,1163.0 878.0,1162.4 879.0,1160.2 880.1,1162.3 881.1,1161.9 882.2,1147.3 883.2,1162.0 884.3,1151.8 885.3,1162.8 886.4,1163.8 887.5,1160.2 888.5,1156.8 889.6,1151.4 890.6,1161.2 891.7,1160.5 892.7,1158.9 893.8,1158.4 894.9,1158.3 895.9,1153.6 897.0,1161.0 898.0,1164.7 899.1,1156.9 900.1,1166.1 901.2,1169.2 902.2,1167.4 903.3,1169.5 904.4,1166.7 905.4,1166.9 906.5,1167.8 907.5,1165.4 908.6,1169.3 909.6,1168.3 910.7,1168.9 911.7,1160.7 912.8,1170.4 913.9,1171.6 914.9,1174.4 916.0,1168.2 917.0,1170.6 918.1,1166.5 919.1,1163.6 920.2,1168.6 921.3,1168.8 922.3,1166.5 923.4,1158.7 924.4,1168.1 925.5,1166.1 926.5,1165.3 927.6,1161.2 928.6,1159.6 929.7,1168.3 930.8,1168.5 931.8,1166.1 932.9,1166.5 933.9,1168.8 935.0,1168.8 936.0,1167.2 937.1,1172.5 938.1,1169.5 939.2,1159.4 940.3,1163.8 941.3,1165.9 942.4,1116.4 943.4,1172.0 944.5,1165.6 945.5,1173.1 946.6,1173.6" stroke="#dfff20"/>
<path d="M1624.5,1170.9 1625.6,1174.1 1626.7,1172.9 1627.7,1166.7 1628.8,1170.4 1629.8,1169.6 1630.9,1170.9 1631.9,1170.4 1633.0,1170.2 1634.1,1171.6 1635.1,1169.8 1636.2,1168.9 1637.2,1170.1 1638.3,1170.3 1639.3,1170.6 1640.4,1169.3 1641.4,1174.6 1642.5,1167.9 1643.6,1169.7 1644.6,1166.3 1645.7,1157.8 1646.7,1169.8 1647.8,1166.4 1648.8,1174.7 1649.9,1167.0 1650.9,1171.9 1652.0,1171.2 1653.1,1166.5 1654.1,1167.7 1655.2,1174.8 1656.2,1171.8 1657.3,1166.4 1658.3,1173.7 1659.4,1170.8 1660.5,1170.4 1661.5,1173.1 1662.6,1172.9 1663.6,1170.1 1664.7,1169.4 1665.7,1166.5 1666.8,1169.6 1667.8,1166.4 1668.9,1156.8 1670.0,1176.0 1671.0,1169.6 1672.1,1173.4 1673.1,1172.7 1674.2,1155.0 1675.2,1169.8 1676.3,1161.7 1677.3,1167.6 1678.4,1167.4 1679.5,1172.0 1680.5,1168.4 1681.6,1169.0 1682.6,1167.8 1683.7,1163.7 1684.7,1160.7 1685.8,1170.4 1686.9,1170.4 1687.9,1170.8 1689.0,1173.0 1690.0,1168.2 1691.1,1167.7 1692.1,1147.7 1693.2,1170.7 1694.2,1173.2 1695.3,1168.6 1696.4,1168.1 1697.4,1167.9 1698.5,1155.9 1699.5,1170.9 1700.6,1164.8 1701.6,1167.4 1702.7,1162.4 1703.7,1168.4 1704.8,1172.9 1705.9,1172.4 1706.9,1166.8 1708.0,1174.0 1709.0,1157.6 1710.1,1169.3" stroke="#dfff20"/>
<path d="M341.5,1165.3 342.6,1178.3 343.6,1169.4 344.7,1168.1 345.7,1157.4 346.8,1173.4 347.8,1175.2 348.9,1174.1 350.0,1171.1 351.0,1164.1 352.1,1167.2 353.1,1173.2 354.2,1172.0 355.2,1169.5 356.3,1169.4 357.3,1172.1 358.4,1170.4 359.5,1170.2 360.5,1171.1 361.6,1161.9 362.6,1172.6 363.7,1160.9 364.7,1172.9 365.8,1174.5 366.9,1176.8 367.9,1173.0 369.0,1167.9 370.0,1173.7 371.1,1167.3 372.1,1166.5 373.2,1172.1 374.2,1170.9 375.3,1172.3 376.4,1176.0 377.4,1174.6 378.5,1168.5 379.5,1172.4 380.6,1178.1 381.6,1172.3 382.7,1172.2 383.7,1168.8 384.8,1174.4 385.9,1172.7 386.9,1173.2 388.0,1173.1 389.0,1165.2 390.1,1170.4 391.1,1173.4 392.2,1166.7 393.3,1171.1 394.3,1170.6 395.4,1168.3 396.4,1173.9 397.5,1170.3 398.5,1173.6 399.6,1173.9 400.6,1173.9 401.7,1174.3 402.8,1173.7 403.8,1171.5 404.9,1176.1 405.9,1170.8 407.0,1174.5 408.0,1163.9 409.1,1174.0 410.1,1166.2 411.2,1171.3 412.3,1170.6 413.3,1172.1 414.4,1171.6 415.4,1173.1 416.5,1174.1 417.5,1170.4 418.6,1171.0 419.7,1169.8 420.7,1163.6 421.8,1169.5 422.8,1170.4 423.9,1173.4 424.9,1172.5 426.0,1173.6 427.0,1172.6 428.1,1174.1 429.2,1164.9 430.2,1171.6 431.3,1174.2 432.3,1171.2 433.4,1172.1 434.4,1135.1 435.5,1174.4 436.5,1178.2 437.6,1164.4 438.7,1172.4 439.7,1170.8 440.8,1172.8 441.8,1164.5 442.9,1173.0 443.9,1171.0 445.0,1166.5 446.1,1170.9 447.1,1171.5 448.2,1171.0 449.2,1173.8 450.3,1173.5 451.3,1168.5 452.4,1169.6 453.4,1170.3 454.5,1164.3 455.6,1172.7 456.6,1175.1 457.7,1172.8 458.7,1169.6 459.8,1171.5 460.8,1172.4 461.9,1164.0 462.9,1172.0 464.0,1170.0 465.1,1169.2 466.1,1172.3 467.2,1165.6 468.2,1171.1 469.3,1173.5 470.3,1172.6 471.4,1171.7 472.5,1173.2 473.5,1172.3 474.6,1175.9 475.6,1166.0 476.7,1178.1 477.7,1173.6 478.8,1169.1 479.8,1172.1 480.9,1172.7 482.0,1172.1 483.0,1172.2 484.1,1172.3 485.1,1172.8 486.2,1167.9 487.2,1175.0 488.3,1174.5 489.3,1165.0 490.4,1163.9 491.5,1175.7 492.5,1173.4 493.6,1174.4 494.6,1170.7 495.7,1170.5 496.7,1174.7 497.8,1171.3 498.9,1179.1 499.9,1173.2 501.0,1160.9 502.0,1167.4 503.1,1176.7 504.1,1172.3 505.2,1172.5 506.2,1170.8 507.3,1161.5 508.4,1173.8 509.4,1168.3 510.5,1172.7 511.5,1173.5 512.6,1172.7 513.6,1163.0 514.7,1172.7 515.7,1169.3 516.8,1168.5 517.9,1170.5 518.9,1121.5 520.0,1168.5 521.0,1171.7 522.1,1169.5 523.1,1171.1 524.2,1176.0 525.3,1172.6 526.3,1168.9 527.4,1157.7 528.4,1176.2 529.5,1171.7 530.5,1173.5 531.6,1172.7 532.6,1173.4 533.7,1169.2 534.8,1159.2 535.8,1167.1 536.9,1168.1 537.9,1169.5 539.0,1168.2 540.0,1160.3 541.1,1172.4 542.1,1155.4 543.2,1170.0 544.3,1165.6 545.3,1169.8 546.4,1172.6 547.4,1167.5 548.5,1174.4 549.5,1167.8 550.6,1169.3 551.7,1176.3 552.7,1168.7 553.8,1172.6 554.8,1169.2 555.9,1172.5 556.9,1169.7 558.0,1170.0 559.0,1174.8 560.1,1174.6 561.2,1169.8 562.2,1172.0 563.3,1168.3 564.3,1169.4 565.4,1171.5 566.4,1170.9 567.5,1169.7 568.5,1166.9 569.6,1172.3 570.7,1169.6 571.7,1171.0 572.8,1170.0 573.8,1172.5 574.9,1172.4 575.9,1170.5 577.0,1169.0 578.1,1170.7 579.1,1171.6 580.2,1173.9 581.2,1171.6 582.3,1177.6 583.3,1169.0 584.4,1167.7 585.4,1173.5 586.5,1169.5 587.6,1169.2 588.6,1170.0 589.7,1168.1 590.7,1169.5 591.8,1178.6 592.8,1162.6 593.9,1172.3 594.9,1172.5 596.0,1172.7 597.1,1168.8 598.1,1170.7 599.2,1168.6 600.2,1172.9 601.3,1172.5 602.3,1171.0 603.4,1172.2 604.5,1170.7 605.5,1165.5 606.6,1168.3 607.6,1171.2 608.7,1169.4 609.7,1162.6 610.8,1170.0 611.8,1171.4 612.9,1169.7 614.0,1169.9 615.0,1169.8 616.1,1170.2 617.1,1167.9 618.2,1173.8 619.2,1173.2 620.3,1141.5" stroke="#ff8000"/>
<path d="M1299.3,1173.9 1300.4,1174.3 1301.4,1168.5 1302.5,1174.4 1303.5,1164.3 1304.6,1173.0 1305.6,1173.5 1306.7,1172.9 1307.7,1171.2 1308.8,1174.8 1309.9,1165.3 1310.9,1173.0 1312.0,1174.5 1313.0,1176.7 1314.1,1173.2 1315.1,1172.9 1316.2,1171.0 1317.3,1177.0 1318.3,1174.0 1319.4,1173.5 1320.4,1177.6 1321.5,1171.2 1322.5,1173.0 1323.6,1174.8 1324.6,1171.8 1325.7,1172.4 1326.8,1175.1 1327.8,1172.1 1328.9,1171.4 1329.9,1171.9 1331.0,1168.8 1332.0,1160.1 1333.1,1171.0 1334.1,1174.2 1335.2,1172.5 1336.3,1170.0 1337.3,1177.8 1338.4,1172.8 1339.4,1173.9 1340.5,1173.9 1341.5,1174.8 1342.6,1170.0 1343.7,1172.3 1344.7,1171.1 1345.8,1167.4 1346.8,1176.2 1347.9,1168.9 1348.9,1174.8 1350.0,1173.0 1351.0,1172.3 1352.1,1173.1 1353.2,1171.0 1354.2,1168.0 1355.3,1174.5 1356.3,1172.8 1357.4,1174.4 1358.4,1173.7 1359.5,1177.0 1360.5,1173.1 1361.6,1171.0 1362.7,1170.6 1363.7,1173.1 1364.8,1171.7 1365.8,1164.8 1366.9,1172.5 1367.9,1174.4 1369.0,1164.9 1370.1,1170.7 1371.1,1171.4 1372.2,1172.3 1373.2,1172.9 1374.3,1175.4 1375.3,1171.9 1376.4,1172.3 1377.4,1173.5 1378.5,1171.5 1379.6,1180.5 1380.6,1170.7 1381.7,1165.8 1382.7,1178.0 1383.8,1172.9 1384.8,1171.1 1385.9,1171.8 1386.9,1174.9 1388.0,1171.8 1389.1,1171.9 1390.1,1169.8 1391.2,1180.4 1392.2,1172.8 1393.3,1177.6 1394.3,1163.0 1395.4,1174.1 1396.5,1174.9 1397.5,1124.1 1398.6,1175.8 1399.6,1174.2 1400.7,1171.2 1401.7,1175.8 1402.8,1175.5 1403.8,1171.7 1404.9,1173.4 1406.0,1169.2 1407.0,1171.2 1408.1,1172.6 1409.1,1174.1 1410.2,1171.5 1411.2,1159.2 1412.3,1177.8 1413.3,1171.8 1414.4,1170.7 1415.5,1169.2 1416.5,1173.9 1417.6,1171.4 1418.6,1175.1 1419.7,1165.7 1420.7,1173.1 1421.8,1174.7 1422.9,1174.6 1423.9,1174.0 1425.0,1168.3 1426.0,1170.0 1427.1,1174.1 1428.1,1169.6 1429.2,1171.2 1430.2,1171.8 1431.3,1171.1 1432.4,1172.2 1433.4,1164.6 1434.5,1169.7 1435.5,1171.7 1436.6,1169.0 1437.6,1167.9 1438.7,1174.3 1439.7,1177.6 1440.8,1171.1 1441.9,1175.3 1442.9,1162.8 1444.0,1175.1 1445.0,1173.3 1446.1,1174.2 1447.1,1176.0 1448.2,1173.1 1449.3,1177.7 1450.3,1173.0 1451.4,1175.5 1452.4,1174.5 1453.5,1174.9 1454.5,1173.3 1455.6,1176.4 1456.6,1174.0 1457.7,1176.0 1458.8,1173.8 1459.8,1173.9 1460.9,1175.2 1461.9,1175.0 1463.0,1174.8 1464.0,1173.0 1465.1,1173.1 1466.1,1172.0 1467.2,1177.3 1468.3,1173.9 1469.3,1173.1 1470.4,1172.2 1471.4,1172.4 1472.5,1172.5 1473.5,1171.8 1474.6,1169.7 1475.7,1173.2 1476.7,1177.4 1477.8,1174.4 1478.8,1175.1 1479.9,1166.7 1480.9,1178.2" stroke="#ff8000"/>
<path d="M455.6,1173.4 456.6,1173.7 457.7,1173.9 458.7,1170.1 459.8,1172.5 460.8,1172.5 461.9,1163.6 462.9,1172.6 464.0,1169.7 465.1,1170.2 466.1,1171.1 467.2,1164.9 468.2,1170.5 469.3,1173.0 470.3,1172.5 471.4,1171.5 472.5,1174.5 473.5,1171.4 474.6,1175.0 475.6,1164.5 476.7,1177.1 477.7,1173.9 478.8,1169.3 479.8,1169.6 480.9,1171.1 482.0,1172.0 483.0,1171.2 484.1,1171.5 485.1,1172.6 486.2,1168.2 487.2,1178.4 488.3,1173.4 489.3,1165.3 490.4,1164.1 491.5,1177.0 492.5,1171.6 493.6,1173.9 494.6,1171.3 495.7,1171.6 496.7,1173.7 497.8,1171.3 498.9,1178.2 499.9,1172.7 501.0,1161.1 502.0,1169.0 503.1,1177.4 504.1,1170.5 505.2,1173.5 506.2,1169.3 507.3,1160.4 508.4,1173.2 509.4,1167.2 510.5,1171.9 511.5,1173.2 512.6,1171.8 513.6,1165.5 514.7,1171.0 515.7,1170.7 516.8,1169.2 517.9,1169.2 518.9,1123.0 520.0,1169.7 521.0,1172.8 522.1,1169.8 523.1,1170.9 524.2,1175.1 525.3,1171.0 526.3,1170.0 527.4,1157.7 528.4,1176.7 529.5,1173.4 530.5,1172.8 531.6,1173.1 532.6,1174.1 533.7,1168.5 534.8,1156.9 535.8,1165.7 536.9,1168.8 537.9,1169.6 539.0,1169.0 540.0,1160.3 541.1,1172.7 542.1,1154.9 543.2,1171.7 544.3,1164.3 545.3,1170.5 546.4,1171.5 547.4,1166.4 548.5,1175.5 549.5,1168.3 550.6,1167.6 551.7,1174.8 552.7,1167.3 553.8,1173.7 554.8,1169.8 555.9,1174.6 556.9,1168.0 558.0,1169.4 559.0,1175.1 560.1,1172.8 561.2,1170.1 562.2,1172.1 563.3,1170.1 564.3,1169.2 565.4,1172.5 566.4,1171.8 567.5,1170.9 568.5,1167.3 569.6,1173.4 570.7,1171.1 571.7,1171.9 572.8,1169.3 573.8,1172.6 574.9,1171.5 575.9,1170.6 577.0,1169.9 578.1,1171.0 579.1,1171.7 580.2,1175.9 581.2,1172.4 582.3,1177.6 583.3,1170.9 584.4,1169.0 585.4,1173.3 586.5,1169.6 587.6,1168.4 588.6,1172.8 589.7,1170.3 590.7,1170.1 591.8,1176.6 592.8,1162.7 593.9,1170.5 594.9,1172.8 596.0,1173.5 597.1,1168.1 598.1,1170.9 599.2,1168.0 600.2,1173.5 601.3,1172.6 602.3,1171.8 603.4,1171.0 604.5,1171.0 605.5,1164.9 606.6,1169.1 607.6,1170.5 608.7,1168.0 609.7,1163.1 610.8,1171.2 611.8,1171.6 612.9,1168.6 614.0,1168.9 615.0,1169.5 616.1,1170.5 617.1,1167.2 618.2,1174.7 619.2,1174.0 620.3,1142.5 621.3,1162.8 622.4,1172.1 623.5,1167.6 624.5,1173.8 625.6,1167.1 626.6,1170.0 627.7,1169.9 628.7,1170.7 629.8,1170.3 630.9,1169.3 631.9,1170.8 633.0,1168.3 634.0,1171.1 635.1,1170.2 636.1,1160.9 637.2,1171.9 638.2,1171.5 639.3,1172.5 640.4,1170.3 641.4,1170.0 642.5,1170.9 643.5,1166.7 644.6,1168.3 645.6,1167.9 646.7,1170.0 647.7,1169.9 648.8,1173.2 649.9,1168.9 650.9,1170.4 652.0,1165.5 653.0,1168.7 654.1,1171.6 655.1,1165.3 656.2,1170.8 657.3,1168.3 658.3,1167.5 659.4,1171.9 660.4,1168.9 661.5,1173.5 662.5,1175.4 663.6,1171.8 664.6,1176.4 665.7,1170.6 666.8,1162.9 667.8,1170.6 668.9,1172.6 669.9,1171.5 671.0,1167.3 672.0,1171.0 673.1,1168.6 674.1,1167.0 675.2,1169.6 676.3,1169.0 677.3,1171.3 678.4,1169.2 679.4,1172.2 680.5,1172.5 681.5,1168.3 682.6,1168.0 683.7,1170.9 684.7,1171.2 685.8,1171.0 686.8,1169.7 687.9,1170.4 688.9,1170.0 690.0,1170.8 691.0,1171.4 692.1,1173.2 693.2,1161.5 694.2,1168.8 695.3,1173.3 696.3,1170.9 697.4,1168.1 698.4,1170.1 699.5,1171.2 700.5,1167.2 701.6,1176.8 702.7,1172.2 703.7,1171.7 704.8,1171.2 705.8,1164.6 706.9,1171.8 707.9,1172.4 709.0,1172.0 710.1,1156.8 711.1,1173.6 712.2,1171.6 713.2,1169.6 714.3,1171.3 715.3,1174.0 716.4,1170.7 717.4,1175.5 718.5,1171.9 719.6,1170.2 720.6,1174.9 721.7,1173.1 722.7,1133.2 723.8,1173.2 724.8,1160.6 725.9,1173.9 726.9,1175.4 728.0,1175.0 729.1,1165.0 730.1,1170.5 731.2,1171.9 732.2,1172.5 733.3,1168.0 734.3,1171.7 735.4,1170.1 736.5,1164.1 737.5,1172.6 738.6,1171.2 739.6,1169.3 740.7,1173.0 741.7,1161.6 742.8,1170.5" stroke="#ff6000"/>
<path d="M1389.1,1170.7 1390.1,1171.6 1391.2,1180.0 1392.2,1173.3 1393.3,1175.2 1394.3,1165.0 1395.4,1174.3 1396.5,1174.7 1397.5,1127.5 1398.6,1174.7 1399.6,1174.9 1400.7,1171.2 1401.7,1175.7 1402.8,1175.0 1403.8,1174.1 1404.9,1171.8 1406.0,1168.0 1407.0,1171.7 1408.1,1173.0 1409.1,1175.1 1410.2,1170.9 1411.2,1159.3 1412.3,1175.8 1413.3,1170.5 1414.4,1169.8 1415.5,1169.5 1416.5,1174.7 1417.6,1171.3 1418.6,1174.9 1419.7,1167.0 1420.7,1174.3 1421.8,1173.6 1422.9,1174.6 1423.9,1174.0 1425.0,1165.0 1426.0,1169.1 1427.1,1172.7 1428.1,1170.3 1429.2,1171.2 1430.2,1174.9 1431.3,1172.8 1432.4,1171.5 1433.4,1161.7 1434.5,1169.1 1435.5,1173.1 1436.6,1169.1 1437.6,1167.8 1438.7,1174.6 1439.7,1178.1 1440.8,1170.7 1441.9,1172.2 1442.9,1163.7 1444.0,1175.6 1445.0,1174.7 1446.1,1173.0 1447.1,1176.3 1448.2,1173.5 1449.3,1177.8 1450.3,1174.0 1451.4,1174.7 1452.4,1175.5 1453.5,1174.3 1454.5,1173.5 1455.6,1175.0 1456.6,1174.0 1457.7,1176.9 1458.8,1172.4 1459.8,1173.6 1460.9,1176.2 1461.9,1174.7 1463.0,1174.7 1464.0,1171.2 1465.1,1173.5 1466.1,1172.8 1467.2,1177.3 1468.3,1172.3 1469.3,1172.1 1470.4,1173.4 1471.4,1171.9 1472.5,1173.7 1473.5,1171.9 1474.6,1169.6 1475.7,1173.1 1476.7,1177.1 1477.8,1174.1 1478.8,1173.2 1479.9,1166.2 1480.9,1176.7 1482.0,1172.8 1483.0,1175.8 1484.1,1176.3 1485.2,1171.6 1486.2,1169.4 1487.3,1172.5 1488.3,1169.9 1489.4,1171.5 1490.4,1176.4 1491.5,1173.3 1492.5,1167.6 1493.6,1158.9 1494.7,1173.9 1495.7,1173.7 1496.8,1170.3 1497.8,1174.3 1498.9,1172.0 1499.9,1174.5 1501.0,1173.1 1502.1,1170.6 1503.1,1173.9 1504.2,1174.4 1505.2,1172.6 1506.3,1175.2 1507.3,1173.2 1508.4,1174.9 1509.4,1171.5 1510.5,1171.1 1511.6,1174.4 1512.6,1171.0 1513.7,1172.2 1514.7,1165.2 1515.8,1173.3 1516.8,1167.1 1517.9,1178.1 1518.9,1173.9 1520.0,1173.3 1521.1,1177.1 1522.1,1172.6 1523.2,1169.2 1524.2,1171.3 1525.3,1176.0 1526.3,1169.5 1527.4,1173.1 1528.5,1172.5 1529.5,1169.3 1530.6,1171.9 1531.6,1175.8 1532.7,1170.7 1533.7,1176.6 1534.8,1171.6 1535.8,1169.7 1536.9,1167.5 1538.0,1171.7 1539.0,1175.0 1540.1,1165.3 1541.1,1169.3 1542.2,1164.8 1543.2,1173.5 1544.3,1166.1 1545.3,1165.7 1546.4,1167.0 1547.5,1174.1 1548.5,1169.6 1549.6,1158.5 1550.6,1173.1 1551.7,1174.0 1552.7,1171.4 1553.8,1175.0 1554.9,1161.4 1555.9,1166.3 1557.0,1165.4 1558.0,1129.0 1559.1,1152.1 1560.1,1164.4 1561.2,1175.2 1562.2,1172.2 1563.3,1175.0 1564.4,1170.1 1565.4,1166.1 1566.5,1166.7 1567.5,1163.7 1568.6,1165.3 1569.6,1167.7 1570.7,1171.8 1571.7,1174.7 1572.8,1177.2 1573.9,1168.3 1574.9,1165.2 1576.0,1164.6 1577.0,1170.4 1578.1,1169.4 1579.1,1162.7 1580.2,1168.5 1581.3,1166.5 1582.3,1168.5 1583.4,1163.0 1584.4,1171.5 1585.5,1176.0" stroke="#ff6000"/>
<path d="M357.3,1172.0 358.4,1171.0 359.5,1171.3 360.5,1170.5 361.6,1163.9 362.6,1172.2 363.7,1160.7 364.7,1172.8 365.8,1175.2 366.9,1176.1 367.9,1173.8 369.0,1168.2 370.0,1172.9 371.1,1168.2 372.1,1166.1 373.2,1172.1 374.2,1171.6 375.3,1172.8 376.4,1174.2 377.4,1174.0 378.5,1169.1 379.5,1170.9 380.6,1178.2 381.6,1172.7 382.7,1172.6 383.7,1168.5 384.8,1172.9 385.9,1172.0 386.9,1171.3 388.0,1173.2 389.0,1166.6 390.1,1171.6 391.1,1171.0 392.2,1168.5 393.3,1173.4 394.3,1169.3 395.4,1171.0 396.4,1172.5 397.5,1169.5 398.5,1174.1 399.6,1174.8 400.6,1174.4 401.7,1173.5 402.8,1174.6 403.8,1171.1 404.9,1175.5 405.9,1170.1 407.0,1174.4 408.0,1162.9 409.1,1175.9 410.1,1167.7 411.2,1172.3 412.3,1172.1 413.3,1171.5 414.4,1172.8 415.4,1171.9 416.5,1173.8 417.5,1170.0 418.6,1173.3 419.7,1169.8 420.7,1162.7 421.8,1170.5 422.8,1168.3 423.9,1174.0 424.9,1172.0 426.0,1173.9 427.0,1174.3 428.1,1175.1 429.2,1164.7 430.2,1173.4 431.3,1172.3 432.3,1170.9 433.4,1172.4 434.4,1134.5 435.5,1176.4 436.5,1177.5 437.6,1163.2 438.7,1173.3 439.7,1169.8 440.8,1172.0 441.8,1164.9 442.9,1172.3 443.9,1171.5 445.0,1167.6 446.1,1169.8 447.1,1170.5 448.2,1172.1 449.2,1170.9 450.3,1174.3 451.3,1167.9 452.4,1170.8 453.4,1170.8 454.5,1164.2 455.6,1173.9 456.6,1174.9 457.7,1174.0 458.7,1170.7 459.8,1173.1 460.8,1173.0 461.9,1164.2 462.9,1171.6 464.0,1170.1 465.1,1169.7 466.1,1171.1 467.2,1164.7 468.2,1171.1 469.3,1172.2 470.3,1170.8 471.4,1173.6 472.5,1174.9 473.5,1171.4 474.6,1175.0 475.6,1165.7 476.7,1177.5 477.7,1173.2 478.8,1167.7 479.8,1170.8 480.9,1173.0 482.0,1173.2 483.0,1172.0 484.1,1171.8 485.1,1172.9 486.2,1167.1 487.2,1176.1 488.3,1173.6 489.3,1165.6 490.4,1164.2 491.5,1175.9 492.5,1171.9 493.6,1174.8 494.6,1170.0 495.7,1169.5 496.7,1174.5 497.8,1170.6 498.9,1178.3 499.9,1173.8 501.0,1161.6 502.0,1167.5 503.1,1176.5 504.1,1169.6 505.2,1172.7 506.2,1171.0 507.3,1160.2 508.4,1173.8 509.4,1168.3 510.5,1173.0 511.5,1172.6 512.6,1171.6 513.6,1164.5 514.7,1172.0 515.7,1171.3 516.8,1168.3 517.9,1170.3 518.9,1120.4 520.0,1170.2 521.0,1171.1 522.1,1169.7 523.1,1170.8 524.2,1176.9 525.3,1171.0 526.3,1170.6 527.4,1159.0 528.4,1174.8 529.5,1172.9 530.5,1173.7 531.6,1172.2 532.6,1172.9 533.7,1169.4 534.8,1158.1 535.8,1167.6 536.9,1167.9 537.9,1170.0 539.0,1167.8 540.0,1160.7 541.1,1172.2 542.1,1155.0 543.2,1171.4 544.3,1165.2 545.3,1169.5 546.4,1171.7" stroke="#ff4000"/>
<path d="M1240.2,1169.3 1241.2,1169.5 1242.3,1167.3 1243.3,1158.2 1244.4,1167.2 1245.4,1171.9 1246.5,1168.6 1247.6,1174.7 1248.6,1171.4 1249.7,1173.3 1250.7,1164.8 1251.8,1172.0 1252.8,1156.9 1253.9,1173.6 1254.9,1172.5 1256.0,1171.4 1257.1,1172.5 1258.1,1171.8 1259.2,1170.7 1260.2,1175.0 1261.3,1172.7 1262.3,1173.3 1263.4,1175.6 1264.5,1170.3 1265.5,1171.2 1266.6,1172.7 1267.6,1170.9 1268.7,1173.5 1269.7,1174.0 1270.8,1160.0 1271.8,1171.8 1272.9,1170.2 1274.0,1173.7 1275.0,1170.9 1276.1,1169.6 1277.1,1173.5 1278.2,1173.5 1279.2,1173.4 1280.3,1170.7 1281.3,1169.5 1282.4,1163.0 1283.5,1170.7 1284.5,1173.5 1285.6,1169.6 1286.6,1172.0 1287.7,1175.2 1288.7,1174.0 1289.8,1171.7 1290.9,1170.4 1291.9,1169.2 1293.0,1173.8 1294.0,1172.2 1295.1,1170.0 1296.1,1171.7 1297.2,1170.2 1298.2,1167.4 1299.3,1173.4 1300.4,1176.4 1301.4,1171.0 1302.5,1174.8 1303.5,1163.9 1304.6,1173.4 1305.6,1173.0 1306.7,1172.5 1307.7,1171.2 1308.8,1175.1 1309.9,1165.3 1310.9,1173.8 1312.0,1174.5 1313.0,1176.8 1314.1,1172.7 1315.1,1174.8 1316.2,1171.7 1317.3,1176.9 1318.3,1175.4 1319.4,1170.6 1320.4,1177.4 1321.5,1171.6 1322.5,1174.5 1323.6,1175.7 1324.6,1170.6 1325.7,1172.4 1326.8,1174.2 1327.8,1170.8 1328.9,1170.7 1329.9,1172.6 1331.0,1171.0 1332.0,1159.3 1333.1,1169.5 1334.1,1173.7 1335.2,1174.5 1336.3,1170.7 1337.3,1177.7 1338.4,1173.2 1339.4,1171.8 1340.5,1174.5 1341.5,1174.1 1342.6,1169.1 1343.7,1172.8 1344.7,1171.0 1345.8,1166.0 1346.8,1178.0 1347.9,1168.6 1348.9,1175.7 1350.0,1173.9 1351.0,1172.2 1352.1,1172.3 1353.2,1172.1 1354.2,1167.6 1355.3,1175.1 1356.3,1173.2 1357.4,1173.9 1358.4,1173.2 1359.5,1174.8 1360.5,1172.6 1361.6,1171.9 1362.7,1171.9 1363.7,1170.6 1364.8,1170.2 1365.8,1164.6 1366.9,1174.0 1367.9,1176.1 1369.0,1165.1 1370.1,1171.0 1371.1,1171.4 1372.2,1171.0 1373.2,1173.0 1374.3,1176.9 1375.3,1171.1 1376.4,1172.0 1377.4,1172.7 1378.5,1171.3 1379.6,1178.6 1380.6,1169.9 1381.7,1166.9 1382.7,1177.1 1383.8,1173.6 1384.8,1172.2 1385.9,1172.1 1386.9,1174.2 1388.0,1172.2 1389.1,1171.0 1390.1,1171.9 1391.2,1178.8 1392.2,1172.8 1393.3,1174.5 1394.3,1163.9 1395.4,1172.8 1396.5,1175.6 1397.5,1127.2 1398.6,1175.8 1399.6,1175.3 1400.7,1174.0 1401.7,1177.0 1402.8,1173.3 1403.8,1171.9 1404.9,1173.8 1406.0,1168.2 1407.0,1172.9 1408.1,1173.1 1409.1,1175.5 1410.2,1171.1 1411.2,1159.7 1412.3,1175.9 1413.3,1170.8 1414.4,1170.0 1415.5,1169.2 1416.5,1173.1 1417.6,1171.4 1418.6,1176.6 1419.7,1166.9 1420.7,1174.8 1421.8,1175.0 1422.9,1175.3 1423.9,1174.6 1425.0,1166.3 1426.0,1169.7 1427.1,1173.1 1428.1,1171.1 1429.2,1172.0 1430.2,1171.9 1431.3,1172.5 1432.4,1170.9 1433.4,1162.1 1434.5,1168.3 1435.5,1170.8 1436.6,1168.5 1437.6,1168.4 1438.7,1175.5 1439.7,1176.8 1440.8,1171.1 1441.9,1173.8 1442.9,1163.5 1444.0,1173.1 1445.0,1175.2 1446.1,1174.2 1447.1,1177.0 1448.2,1173.3 1449.3,1177.6 1450.3,1174.2 1451.4,1174.7 1452.4,1175.2 1453.5,1173.7 1454.5,1173.7 1455.6,1175.2 1456.6,1173.7 1457.7,1175.3 1458.8,1174.9 1459.8,1173.4 1460.9,1176.6 1461.9,1174.7 1463.0,1174.0 1464.0,1173.7 1465.1,1174.0 1466.1,1172.3 1467.2,1175.5 1468.3,1173.6 1469.3,1171.8 1470.4,1173.7 1471.4,1171.3 1472.5,1173.7 1473.5,1172.3 1474.6,1171.8 1475.7,1174.4 1476.7,1177.4 1477.8,1174.9 1478.8,1174.7 1479.9,1165.9 1480.9,1178.0 1482.0,1173.0 1483.0,1173.5 1484.1,1174.8 1485.2,1173.2 1486.2,1170.5 1487.3,1174.0 1488.3,1168.5 1489.4,1173.0 1490.4,1176.1 1491.5,1174.0 1492.5,1166.3 1493.6,1159.5 1494.7,1174.2 1495.7,1173.4 1496.8,1170.6 1497.8,1174.2 1498.9,1172.8 1499.9,1174.8 1501.0,1174.1 1502.1,1170.1 1503.1,1173.2 1504.2,1175.5 1505.2,1172.8 1506.3,1174.4 1507.3,1174.0 1508.4,1174.7 1509.4,1174.1 1510.5,1170.3 1511.6,1175.5 1512.6,1171.4 1513.7,1171.3" stroke="#ff4000"/>
<path d="M839.9,1172.7 841.0,1172.5 842.1,1170.6 843.1,1172.2 844.2,1173.4 845.2,1177.2 846.3,1171.5 847.3,1175.6 848.4,1173.9 849.4,1176.5 850.5,1171.6 851.6,1165.0 852.6,1166.4 853.7,1158.8 854.7,1162.2 855.8,1162.4 856.8,1158.8 857.9,1161.7 858.9,1155.3 860.0,1158.5 861.1,1158.1 862.1,1165.0 863.2,1154.2 864.2,1158.4 865.3,1150.8 866.3,1161.2 867.4,1163.6 868.5,1161.2 869.5,1159.0 870.6,1153.4 871.6,1151.7 872.7,1164.9 873.7,1158.9 874.8,1159.0 875.8,1163.0 876.9,1162.9 878.0,1162.2 879.0,1161.9 880.1,1168.8 881.1,1152.1 882.2,1164.5 883.2,1164.8 884.3,1161.5 885.3,1168.6 886.4,1163.7 887.5,1166.2 888.5,1165.6 889.6,1154.3 890.6,1162.0 891.7,1165.2 892.7,1163.2 893.8,1166.3 894.9,1160.7 895.9,1159.8 897.0,1177.0 898.0,1175.3 899.1,1172.8 900.1,1171.1 901.2,1174.2 902.2,1170.3 903.3,1174.5 904.4,1170.2 905.4,1170.3 906.5,1174.9 907.5,1172.3 908.6,1175.5 909.6,1171.8 910.7,1175.9 911.7,1165.0 912.8,1174.4 913.9,1176.1 914.9,1178.4 916.0,1175.1 917.0,1174.1 918.1,1171.1 919.1,1172.8 920.2,1174.0 921.3,1172.4 922.3,1173.2 923.4,1170.7 924.4,1171.8 925.5,1173.3 926.5,1170.8 927.6,1170.8 928.6,1163.3 929.7,1172.1 930.8,1176.8 931.8,1173.4 932.9,1174.9 933.9,1171.3 935.0,1172.7 936.0,1174.2 937.1,1177.6 938.1,1176.5 939.2,1168.0 940.3,1171.3 941.3,1173.3 942.4,1123.5 943.4,1173.0 944.5,1175.9 945.5,1175.5 946.6,1176.5 947.7,1177.8 948.7,1173.1 949.8,1174.5 950.8,1171.5 951.9,1173.8 952.9,1175.9 954.0,1176.8 955.0,1172.3 956.1,1168.5 957.2,1176.0 958.2,1177.9 959.3,1171.7 960.3,1176.7 961.4,1175.2 962.4,1173.6 963.5,1177.3 964.5,1174.2 965.6,1177.9 966.7,1174.2 967.7,1166.7 968.8,1171.6 969.8,1172.2 970.9,1172.2 971.9,1163.5 973.0,1171.1 974.1,1172.5 975.1,1173.6 976.2,1173.9 977.2,1174.1 978.3,1173.5 979.3,1174.5 980.4,1172.6 981.4,1176.2 982.5,1175.3 983.6,1174.5 984.6,1177.6 985.7,1173.7 986.7,1125.6 987.8,1173.7 988.8,1175.1 989.9,1171.0 990.9,1177.3 992.0,1176.9 993.1,1173.8 994.1,1177.0 995.2,1175.7 996.2,1174.5 997.3,1174.9 998.3,1174.7 999.4,1179.1 1000.5,1149.2 1001.5,1157.2 1002.6,1160.0 1003.6,1148.3 1004.7,1155.4 1005.7,1136.2 1006.8,1160.0 1007.8,1161.7 1008.9,1161.1 1010.0,1153.2 1011.0,1121.1 1012.1,1148.4 1013.1,1154.7 1014.2,1138.8 1015.2,1157.4 1016.3,1142.1 1017.3,1162.0 1018.4,1136.5 1019.5,1149.4 1020.5,1174.3 1021.6,1174.6 1022.6,1173.6 1023.7,1172.1 1024.7,1175.1 1025.8,1175.4 1026.9,1175.2 1027.9,1169.0 1029.0,1173.8 1030.0,1173.2 1031.1,1175.7 1032.1,1173.5 1033.2,1173.8 1034.2,1172.4 1035.3,1172.4 1036.4,1171.0 1037.4,1173.0 1038.5,1176.9 1039.5,1173.3 1040.6,1172.9 1041.6,1172.6 1042.7,1174.5 1043.7,1170.3 1044.8,1177.2 1045.9,1169.0 1046.9,1152.1 1048.0,1170.1 1049.0,1174.8 1050.1,1174.6 1051.1,1174.8 1052.2,1175.9 1053.3,1169.4 1054.3,1173.1 1055.4,1172.1 1056.4,1177.9 1057.5,1174.1 1058.5,1171.1 1059.6,1173.4 1060.6,1169.4 1061.7,1171.9 1062.8,1176.1 1063.8,1171.0 1064.9,1166.2 1065.9,1173.1 1067.0,1166.6 1068.0,1169.6 1069.1,1173.5 1070.1,1161.2 1071.2,1155.0 1072.3,1151.0 1073.3,1144.1 1074.4,1125.6 1075.4,1109.7 1076.5,1149.4 1077.5,1156.5 1078.6,1159.8 1079.7,1155.6 1080.7,1161.4 1081.8,1151.1 1082.8,1157.9 1083.9,1147.6 1084.9,1157.3 1086.0,1144.1 1087.0,1128.3 1088.1,1115.0 1089.2,1104.4 1090.2,1130.9 1091.3,1133.5" stroke="#ff2000"/>
<path d="M1694.2,1175.8 1695.3,1170.9 1696.4,1172.2 1697.4,1172.9 1698.5,1158.3 1699.5,1174.0 1700.6,1167.0 1701.6,1170.1 1702.7,1164.8 1703.7,1170.1 1704.8,1179.8 1705.9,1178.7 1706.9,1170.1 1708.0,1177.0 1709.0,1160.5 1710.1,1170.3" stroke="#ff2000"/>
<path d="M717.4,1176.5 718.5,1171.4 719.6,1169.2 720.6,1174.3 721.7,1173.4 722.7,1131.9 723.8,1175.7 724.8,1160.8 725.9,1173.1 726.9,1173.4 728.0,1175.3 729.1,1166.1 730.1,1171.8 731.2,1172.4 732.2,1172.2 733.3,1169.6 734.3,1173.9 735.4,1169.6 736.5,1162.7 737.5,1172.4 738.6,1172.4 739.6,1169.4 740.7,1172.4 741.7,1161.0 742.8,1170.6 743.8,1173.6 744.9,1172.0 746.0,1172.9 747.0,1172.7 748.1,1172.9 749.1,1170.0 750.2,1171.3 751.2,1165.5 752.3,1175.8 753.3,1171.7 754.4,1173.5 755.5,1172.3 756.5,1176.0 757.6,1171.4 758.6,1170.9 759.7,1169.5 760.7,1168.7 761.8,1168.4 762.9,1175.8 763.9,1162.4 765.0,1170.8 766.0,1169.2 767.1,1168.6 768.1,1170.2 769.2,1173.0 770.2,1169.0 771.3,1169.0 772.4,1175.5 773.4,1170.3 774.5,1173.6 775.5,1171.5 776.6,1172.6 777.6,1173.1 778.7,1171.5 779.7,1170.1 780.8,1160.2 781.9,1173.1 782.9,1174.8 784.0,1172.8 785.0,1176.4 786.1,1172.1 787.1,1171.7 788.2,1173.0 789.3,1172.9 790.3,1171.5 791.4,1172.7 792.4,1170.5 793.5,1169.0 794.5,1174.9 795.6,1160.6 796.6,1175.7 797.7,1175.4 798.8,1173.2 799.8,1168.2 800.9,1172.9 801.9,1171.1 803.0,1169.4 804.0,1173.6 805.1,1159.0 806.1,1171.0 807.2,1166.6 808.3,1172.7 809.3,1176.1 810.4,1175.4 811.4,1161.9 812.5,1151.2 813.5,1170.6 814.6,1172.1 815.7,1174.0 816.7,1165.1 817.8,1173.9 818.8,1169.7 819.9,1169.9 820.9,1172.9 822.0,1175.6 823.0,1166.9 824.1,1172.2 825.2,1177.0 826.2,1172.5 827.3,1177.3 828.3,1162.5 829.4,1171.6 830.4,1174.1 831.5,1175.9 832.5,1172.5 833.6,1170.3 834.7,1176.2 835.7,1166.4 836.8,1174.1 837.8,1167.4 838.9,1167.0 839.9,1171.5 841.0,1172.8 842.1,1170.9 843.1,1171.7 844.2,1173.3 845.2,1176.4 846.3,1171.3 847.3,1175.2 848.4,1174.7 849.4,1176.6 850.5,1172.1 851.6,1172.6 852.6,1173.6 853.7,1166.9 854.7,1175.9 855.8,1175.2 856.8,1170.3 857.9,1174.1 858.9,1167.1 860.0,1163.8 861.1,1176.0 862.1,1176.7 863.2,1173.2 864.2,1171.4 865.3,1172.5 866.3,1171.9 867.4,1172.6 868.5,1173.1 869.5,1168.1 870.6,1172.0 871.6,1161.6 872.7,1175.1 873.7,1171.2 874.8,1172.3 875.8,1173.4 876.9,1171.7 878.0,1176.3 879.0,1171.8 880.1,1176.5 881.1,1176.1 882.2,1174.6 883.2,1176.9 884.3,1172.1 885.3,1175.3 886.4,1174.9 887.5,1173.8 888.5,1171.8 889.6,1166.5 890.6,1173.7 891.7,1173.8 892.7,1174.0 893.8,1176.2 894.9,1171.2 895.9,1171.6 897.0,1175.7 898.0,1175.6 899.1,1173.4 900.1,1170.6 901.2,1174.9 902.2,1170.0 903.3,1173.9 904.4,1171.5 905.4,1170.0 906.5,1175.8 907.5,1172.3 908.6,1175.5 909.6,1172.9 910.7,1175.4 911.7,1167.7 912.8,1174.0 913.9,1175.3 914.9,1179.0 916.0,1173.1 917.0,1175.8 918.1,1171.7 919.1,1171.0 920.2,1172.4 921.3,1171.9 922.3,1174.0 923.4,1170.1 924.4,1171.8 925.5,1171.4 926.5,1169.9 927.6,1169.4 928.6,1162.2 929.7,1172.9 930.8,1176.4 931.8,1172.9 932.9,1173.2 933.9,1173.2 935.0,1173.7 936.0,1174.3 937.1,1176.1 938.1,1176.0 939.2,1167.6 940.3,1169.5 941.3,1174.0 942.4,1121.8 943.4,1176.1 944.5,1174.8 945.5,1175.3 946.6,1178.0 947.7,1177.3 948.7,1174.5 949.8,1173.3 950.8,1171.7 951.9,1173.7 952.9,1174.5 954.0,1176.9 955.0,1172.7 956.1,1170.4 957.2,1175.6 958.2,1177.2 959.3,1172.5 960.3,1177.5 961.4,1174.9 962.4,1174.8 963.5,1176.1 964.5,1173.2 965.6,1178.3 966.7,1175.1 967.7,1166.5 968.8,1171.2 969.8,1172.7 970.9,1172.2 971.9,1164.2 973.0,1172.3 974.1,1172.7 975.1,1173.8 976.2,1173.5 977.2,1173.4 978.3,1175.3 979.3,1174.1 980.4,1171.9 981.4,1175.4 982.5,1175.9 983.6,1174.7 984.6,1175.5 985.7,1173.8 986.7,1173.6 987.8,1174.2 988.8,1176.0 989.9,1170.2 990.9,1176.7 992.0,1176.5 993.1,1173.8 994.1,1177.5 995.2,1175.5" stroke="#bf0000"/>
<path d="M1610.8,1170.2 1611.9,1172.2 1612.9,1175.4 1614.0,1173.3 1615.0,1173.2 1616.1,1166.3 1617.2,1173.7 1618.2,1174.1 1619.3,1172.7 1620.3,1175.6 1621.4,1164.8 1622.4,1171.9 1623.5,1173.5 1624.5,1172.8 1625.6,1177.3 1626.7,1176.1 1627.7,1171.4 1628.8,1174.8 1629.8,1171.9 1630.9,1172.4 1631.9,1175.0 1633.0,1174.6 1634.1,1175.2 1635.1,1173.8 1636.2,1173.0 1637.2,1173.8 1638.3,1173.9 1639.3,1174.4 1640.4,1173.4 1641.4,1178.5 1642.5,1171.9 1643.6,1170.7 1644.6,1171.0 1645.7,1160.6 1646.7,1173.7 1647.8,1172.5 1648.8,1175.0 1649.9,1175.8 1650.9,1173.5 1652.0,1175.9 1653.1,1170.8 1654.1,1170.4 1655.2,1177.9 1656.2,1175.3 1657.3,1173.0 1658.3,1177.7 1659.4,1172.5 1660.5,1174.9 1661.5,1177.6 1662.6,1176.1 1663.6,1175.9 1664.7,1171.1 1665.7,1171.0 1666.8,1173.6 1667.8,1169.1 1668.9,1158.7 1670.0,1178.5 1671.0,1173.2 1672.1,1175.5 1673.1,1177.2 1674.2,1159.1 1675.2,1172.9 1676.3,1164.4 1677.3,1172.0 1678.4,1170.7 1679.5,1174.7 1680.5,1173.7 1681.6,1171.4 1682.6,1172.0 1683.7,1167.4 1684.7,1166.7 1685.8,1174.2 1686.9,1175.1 1687.9,1175.9 1689.0,1175.4 1690.0,1171.4 1691.1,1170.6 1692.1,1150.8 1693.2,1174.0 1694.2,1175.2 1695.3,1170.5 1696.4,1173.1 1697.4,1173.4 1698.5,1157.9 1699.5,1173.9 1700.6,1166.7 1701.6,1169.2 1702.7,1163.8 1703.7,1171.4 1704.8,1178.5 1705.9,1176.2 1706.9,1169.6 1708.0,1177.3 1709.0,1159.8 1710.1,1171.1" stroke="#bf0000"/>
<path d="M222.2,1166.3 223.2,1170.4 224.3,1169.1 225.3,1167.9 226.4,1171.6 227.5,1170.1 228.5,1168.0 229.6,1168.4 230.6,1161.9 231.7,1169.6 232.7,1168.5 233.8,1172.3 234.9,1172.4 235.9,1165.1 237.0,1174.3 238.0,1160.3 239.1,1171.8 240.1,1171.1 241.2,1169.8 242.2,1164.6 243.3,1168.0 244.4,1169.6 245.4,1171.7 246.5,1177.0 247.5,1170.0 248.6,1168.6 249.6,1172.6 250.7,1169.5 251.7,1167.4 252.8,1169.6 253.9,1172.4 254.9,1160.9 256.0,1174.8 257.0,1165.3 258.1,1169.4 259.1,1171.2 260.2,1154.6 261.3,1172.4 262.3,1172.0 263.4,1175.1 264.4,1171.0 265.5,1173.7 266.5,1174.1 267.6,1172.4 268.6,1172.0 269.7,1172.1 270.8,1171.4 271.8,1173.5 272.9,1171.0 273.9,1173.0 275.0,1170.1 276.0,1173.1 277.1,1157.0 278.1,1178.5 279.2,1173.8 280.3,1172.3 281.3,1175.0 282.4,1171.5 283.4,1170.8 284.5,1166.9 285.5,1174.0 286.6,1169.8 287.7,1172.3 288.7,1160.5 289.8,1173.0 290.8,1172.1 291.9,1170.2 292.9,1125.9 294.0,1172.3 295.0,1165.4 296.1,1173.6 297.2,1093.2 298.2,1144.7 299.3,1172.4 300.3,1172.3 301.4,1131.0 302.4,1093.1 303.5,1170.0 304.5,1176.0 305.6,1163.5 306.7,1170.1 307.7,1173.5 308.8,1173.0 309.8,1173.5 310.9,1172.8 311.9,1170.0 313.0,1174.9 314.1,1172.8 315.1,1170.8 316.2,1172.5 317.2,1172.1 318.3,1166.4 319.3,1167.3 320.4,1173.0 321.4,1175.2 322.5,1171.7 323.6,1175.2 324.6,1172.4 325.7,1173.5 326.7,1173.5 327.8,1171.1 328.8,1172.0 329.9,1168.3 330.9,1173.5 332.0,1169.6 333.1,1167.0 334.1,1175.1 335.2,1173.1 336.2,1170.0 337.3,1168.3 338.3,1172.3 339.4,1171.6 340.5,1172.3 341.5,1165.7 342.6,1177.0 343.6,1170.3 344.7,1167.7 345.7,1171.9 346.8,1173.7 347.8,1175.4 348.9,1173.9 350.0,1170.3 351.0,1164.8 352.1,1168.1 353.1,1174.0 354.2,1170.6 355.2,1169.9 356.3,1170.2 357.3,1173.0 358.4,1171.1 359.5,1171.3 360.5,1171.8 361.6,1162.7 362.6,1172.8 363.7,1158.5 364.7,1171.9 365.8,1175.8 366.9,1175.4 367.9,1174.4 369.0,1167.4 370.0,1172.6 371.1,1168.6 372.1,1166.5 373.2,1172.2 374.2,1171.2 375.3,1172.9 376.4,1174.8 377.4,1173.7 378.5,1168.3 379.5,1171.5 380.6,1177.1 381.6,1173.1 382.7,1175.0 383.7,1169.6 384.8,1172.5 385.9,1172.3 386.9,1171.6 388.0,1173.5 389.0,1167.4 390.1,1168.9 391.1,1171.2 392.2,1169.0 393.3,1172.8 394.3,1169.7 395.4,1170.5 396.4,1174.2 397.5,1168.1 398.5,1173.4 399.6,1173.9 400.6,1174.1 401.7,1174.8 402.8,1173.9 403.8,1170.2 404.9,1177.0 405.9,1171.0 407.0,1174.6 408.0,1162.2 409.1,1175.3 410.1,1167.0 411.2,1172.0 412.3,1169.4 413.3,1172.0 414.4,1171.3 415.4,1171.0 416.5,1173.8 417.5,1170.9 418.6,1170.7 419.7,1169.8 420.7,1163.7 421.8,1170.1 422.8,1169.0 423.9,1174.0 424.9,1170.8 426.0,1172.6 427.0,1173.5 428.1,1174.5 429.2,1165.4 430.2,1171.8 431.3,1173.2 432.3,1172.4 433.4,1172.8 434.4,1135.0 435.5,1175.9 436.5,1177.9 437.6,1164.6 438.7,1173.2 439.7,1170.9 440.8,1170.1 441.8,1162.6 442.9,1172.4 443.9,1171.7 445.0,1167.3 446.1,1172.2 447.1,1170.1 448.2,1173.5 449.2,1171.9 450.3,1174.2 451.3,1168.9 452.4,1171.6 453.4,1171.6 454.5,1166.3 455.6,1174.5 456.6,1173.2 457.7,1174.5 458.7,1170.9 459.8,1173.5 460.8,1173.0 461.9,1162.5 462.9,1172.0 464.0,1169.5 465.1,1171.4 466.1,1171.6 467.2,1165.2 468.2,1170.3 469.3,1173.4 470.3,1171.8 471.4,1172.4 472.5,1174.9 473.5,1172.8 474.6,1175.9 475.6,1165.4 476.7,1176.2 477.7,1173.5 478.8,1167.3 479.8,1171.7 480.9,1171.5 482.0,1173.0 483.0,1172.1 484.1,1170.7 485.1,1171.3 486.2,1169.3 487.2,1176.1 488.3,1175.2 489.3,1165.9 490.4,1164.2 491.5,1174.9 492.5,1172.9 493.6,1174.7 494.6,1171.0 495.7,1169.9 496.7,1174.4 497.8,1171.2 498.9,1178.6 499.9,1172.1 501.0,1160.0 502.0,1167.9 503.1,1176.4 504.1,1170.4 505.2,1172.1 506.2,1170.9 507.3,1161.4 508.4,1172.5 509.4,1167.1 510.5,1171.9 511.5,1173.6 512.6,1171.8 513.6,1163.7" stroke="#9f0000"/>
<path d="M1191.6,1173.8 1192.6,1165.7 1193.7,1172.5 1194.8,1173.0 1195.8,1171.5 1196.9,1174.3 1197.9,1172.5 1199.0,1172.3 1200.0,1170.6 1201.1,1172.3 1202.1,1171.0 1203.2,1175.7 1204.3,1171.3 1205.3,1175.3 1206.4,1175.9 1207.4,1168.8 1208.5,1166.8 1209.5,1171.3 1210.6,1172.7 1211.7,1173.3 1212.7,1172.8 1213.8,1170.0 1214.8,1172.5 1215.9,1159.6 1216.9,1170.2 1218.0,1173.5 1219.0,1176.3 1220.1,1166.1 1221.2,1169.3 1222.2,1171.0 1223.3,1171.9 1224.3,1172.2 1225.4,1172.5 1226.4,1174.0 1227.5,1172.3 1228.5,1164.3 1229.6,1171.5 1230.7,1167.8 1231.7,1165.9 1232.8,1173.5 1233.8,1152.0 1234.9,1171.5 1235.9,1172.2 1237.0,1167.5 1238.1,1167.2 1239.1,1174.8 1240.2,1168.2 1241.2,1168.8 1242.3,1169.2 1243.3,1156.5 1244.4,1168.3 1245.4,1171.2 1246.5,1170.3 1247.6,1173.3 1248.6,1173.5 1249.7,1174.9 1250.7,1163.6 1251.8,1172.6 1252.8,1157.6 1253.9,1173.9 1254.9,1172.0 1256.0,1171.0 1257.1,1171.9 1258.1,1169.7 1259.2,1170.9 1260.2,1175.9 1261.3,1170.9 1262.3,1174.0 1263.4,1176.4 1264.5,1168.7 1265.5,1173.3 1266.6,1172.6 1267.6,1170.8 1268.7,1173.9 1269.7,1174.9 1270.8,1160.7 1271.8,1172.2 1272.9,1171.0 1274.0,1173.9 1275.0,1170.4 1276.1,1169.5 1277.1,1173.2 1278.2,1173.0 1279.2,1172.4 1280.3,1170.8 1281.3,1170.0 1282.4,1161.1 1283.5,1170.6 1284.5,1171.9 1285.6,1170.8 1286.6,1170.2 1287.7,1172.2 1288.7,1173.2 1289.8,1173.8 1290.9,1168.4 1291.9,1170.7 1293.0,1173.5 1294.0,1171.9 1295.1,1169.8 1296.1,1172.2 1297.2,1171.1 1298.2,1167.5 1299.3,1170.2 1300.4,1174.8 1301.4,1168.9 1302.5,1174.2 1303.5,1163.5 1304.6,1173.4 1305.6,1171.7 1306.7,1172.6 1307.7,1169.8 1308.8,1176.0 1309.9,1165.4 1310.9,1174.2 1312.0,1173.0 1313.0,1178.1 1314.1,1174.1 1315.1,1173.3 1316.2,1171.3 1317.3,1176.2 1318.3,1175.0 1319.4,1171.8 1320.4,1176.9 1321.5,1170.2 1322.5,1174.7 1323.6,1175.8 1324.6,1169.8 1325.7,1172.3 1326.8,1174.9 1327.8,1172.2 1328.9,1171.1 1329.9,1172.9 1331.0,1170.2 1332.0,1159.7 1333.1,1170.0 1334.1,1174.9 1335.2,1171.8 1336.3,1171.0 1337.3,1177.4 1338.4,1173.3 1339.4,1173.3 1340.5,1175.7 1341.5,1173.7 1342.6,1172.0 1343.7,1173.0 1344.7,1171.0 1345.8,1166.8 1346.8,1177.4 1347.9,1168.3 1348.9,1174.3 1350.0,1174.8 1351.0,1171.7 1352.1,1171.2 1353.2,1171.4 1354.2,1167.6 1355.3,1175.2 1356.3,1172.5 1357.4,1174.8 1358.4,1173.8 1359.5,1176.2 1360.5,1172.5 1361.6,1171.3 1362.7,1171.0 1363.7,1171.9 1364.8,1170.6 1365.8,1164.0 1366.9,1172.8 1367.9,1174.9 1369.0,1165.1 1370.1,1172.0 1371.1,1172.6 1372.2,1171.3 1373.2,1173.7 1374.3,1176.1 1375.3,1173.0" stroke="#9f0000"/>
</g>
<rect x="190.5" y="133.5" width="1521.0" height="265.0" fill="none" stroke="#262626" stroke-width="1.2"/>
<rect x="190.5" y="400.5" width="1521.0" height="264.0" fill="none" stroke="#262626" stroke-width="1.2"/>
<rect x="190.5" y="665.5" width="1521.0" height="265.0" fill="none" stroke="#262626" stroke-width="1.2"/>
<rect x="190.5" y="931.5" width="1521.0" height="265.0" fill="none" stroke="#262626" stroke-width="1.2"/>
<path d="M253.42 133.5v15.0M253.42 398.5v-15.0M316.83 133.5v15.0M316.83 398.5v-15.0M380.25 133.5v15.0M380.25 398.5v-15.0M443.67 133.5v15.0M443.67 398.5v-15.0M507.08 133.5v15.0M507.08 398.5v-15.0M570.50 133.5v15.0M570.50 398.5v-15.0M633.92 133.5v15.0M633.92 398.5v-15.0M697.33 133.5v15.0M697.33 398.5v-15.0M760.75 133.5v15.0M760.75 398.5v-15.0M824.17 133.5v15.0M824.17 398.5v-15.0M887.58 133.5v15.0M887.58 398.5v-15.0M951.00 133.5v15.0M951.00 398.5v-15.0M1014.42 133.5v15.0M1014.42 398.5v-15.0M1077.83 133.5v15.0M1077.83 398.5v-15.0M1141.25 133.5v15.0M1141.25 398.5v-15.0M1204.67 133.5v15.0M1204.67 398.5v-15.0M1268.08 133.5v15.0M1268.08 398.5v-15.0M1331.50 133.5v15.0M1331.50 398.5v-15.0M1394.92 133.5v15.0M1394.92 398.5v-15.0M1458.33 133.5v15.0M1458.33 398.5v-15.0M1521.75 133.5v15.0M1521.75 398.5v-15.0M1585.17 133.5v15.0M1585.17 398.5v-15.0M1648.58 133.5v15.0M1648.58 398.5v-15.0M190.5 310.5h15.0M1711.5 310.5h-15.0M190.5 221.5h15.0M1711.5 221.5h-15.0M253.42 400.5v15.0M253.42 664.5v-15.0M316.83 400.5v15.0M316.83 664.5v-15.0M380.25 400.5v15.0M380.25 664.5v-15.0M443.67 400.5v15.0M443.67 664.5v-15.0M507.08 400.5v15.0M507.08 664.5v-15.0M570.50 400.5v15.0M570.50 664.5v-15.0M633.92 400.5v15.0M633.92 664.5v-15.0M697.33 400.5v15.0M697.33 664.5v-15.0M760.75 400.5v15.0M760.75 664.5v-15.0M824.17 400.5v15.0M824.17 664.5v-15.0M887.58 400.5v15.0M887.58 664.5v-15.0M951.00 400.5v15.0M951.00 664.5v-15.0M1014.42 400.5v15.0M1014.42 664.5v-15.0M1077.83 400.5v15.0M1077.83 664.5v-15.0M1141.25 400.5v15.0M1141.25 664.5v-15.0M1204.67 400.5v15.0M1204.67 664.5v-15.0M1268.08 400.5v15.0M1268.08 664.5v-15.0M1331.50 400.5v15.0M1331.50 664.5v-15.0M1394.92 400.5v15.0M1394.92 664.5v-15.0M1458.33 400.5v15.0M1458.33 664.5v-15.0M1521.75 400.5v15.0M1521.75 664.5v-15.0M1585.17 400.5v15.0M1585.17 664.5v-15.0M1648.58 400.5v15.0M1648.58 664.5v-15.0M190.5 628.5h15.0M1711.5 628.5h-15.0M190.5 580.5h15.0M1711.5 580.5h-15.0M190.5 532.5h15.0M1711.5 532.5h-15.0M190.5 484.5h15.0M1711.5 484.5h-15.0M190.5 436.5h15.0M1711.5 436.5h-15.0M253.42 665.5v15.0M253.42 930.5v-15.0M316.83 665.5v15.0M316.83 930.5v-15.0M380.25 665.5v15.0M380.25 930.5v-15.0M443.67 665.5v15.0M443.67 930.5v-15.0M507.08 665.5v15.0M507.08 930.5v-15.0M570.50 665.5v15.0M570.50 930.5v-15.0M633.92 665.5v15.0M633.92 930.5v-15.0M697.33 665.5v15.0M697.33 930.5v-15.0M760.75 665.5v15.0M760.75 930.5v-15.0M824.17 665.5v15.0M824.17 930.5v-15.0M887.58 665.5v15.0M887.58 930.5v-15.0M951.00 665.5v15.0M951.00 930.5v-15.0M1014.42 665.5v15.0M1014.42 930.5v-15.0M1077.83 665.5v15.0M1077.83 930.5v-15.0M1141.25 665.5v15.0M1141.25 930.5v-15.0M1204.67 665.5v15.0M1204.67 930.5v-15.0M1268.08 665.5v15.0M1268.08 930.5v-15.0M1331.50 665.5v15.0M1331.50 930.5v-15.0M1394.92 665.5v15.0M1394.92 930.5v-15.0M1458.33 665.5v15.0M1458.33 930.5v-15.0M1521.75 665.5v15.0M1521.75 930.5v-15.0M1585.17 665.5v15.0M1585.17 930.5v-15.0M1648.58 665.5v15.0M1648.58 930.5v-15.0M190.5 886.5h15.0M1711.5 886.5h-15.0M190.5 842.5h15.0M1711.5 842.5h-15.0M190.5 754.5h15.0M1711.5 754.5h-15.0M253.42 931.5v15.0M253.42 1196.5v-15.0M316.83 931.5v15.0M316.83 1196.5v-15.0M380.25 931.5v15.0M380.25 1196.5v-15.0M443.67 931.5v15.0M443.67 1196.5v-15.0M507.08 931.5v15.0M507.08 1196.5v-15.0M570.50 931.5v15.0M570.50 1196.5v-15.0M633.92 931.5v15.0M633.92 1196.5v-15.0M697.33 931.5v15.0M697.33 1196.5v-15.0M760.75 931.5v15.0M760.75 1196.5v-15.0M824.17 931.5v15.0M824.17 1196.5v-15.0M887.58 931.5v15.0M887.58 1196.5v-15.0M951.00 931.5v15.0M951.00 1196.5v-15.0M1014.42 931.5v15.0M1014.42 1196.5v-15.0M1077.83 931.5v15.0M1077.83 1196.5v-15.0M1141.25 931.5v15.0M1141.25 1196.5v-15.0M1204.67 931.5v15.0M1204.67 1196.5v-15.0M1268.08 931.5v15.0M1268.08 1196.5v-15.0M1331.50 931.5v15.0M1331.50 1196.5v-15.0M1394.92 931.5v15.0M1394.92 1196.5v-15.0M1458.33 931.5v15.0M1458.33 1196.5v-15.0M1521.75 931.5v15.0M1521.75 1196.5v-15.0M1585.17 931.5v15.0M1585.17 1196.5v-15.0M1648.58 931.5v15.0M1648.58 1196.5v-15.0M190.5 1170.5h15.0M1711.5 1170.5h-15.0M190.5 1144.5h15.0M1711.5 1144.5h-15.0M190.5 1091.5h15.0M1711.5 1091.5h-15.0M190.5 1038.5h15.0M1711.5 1038.5h-15.0M190.5 985.5h15.0M1711.5 985.5h-15.0" stroke="#262626" stroke-width="1.05" fill="none"/>
<path d="M190.00 133.5v7.3M190.00 398.5v-7.3M200.57 133.5v7.3M200.57 398.5v-7.3M211.14 133.5v7.3M211.14 398.5v-7.3M221.71 133.5v7.3M221.71 398.5v-7.3M232.28 133.5v7.3M232.28 398.5v-7.3M242.85 133.5v7.3M242.85 398.5v-7.3M263.99 133.5v7.3M263.99 398.5v-7.3M274.56 133.5v7.3M274.56 398.5v-7.3M285.12 133.5v7.3M285.12 398.5v-7.3M295.69 133.5v7.3M295.69 398.5v-7.3M306.26 133.5v7.3M306.26 398.5v-7.3M327.40 133.5v7.3M327.40 398.5v-7.3M337.97 133.5v7.3M337.97 398.5v-7.3M348.54 133.5v7.3M348.54 398.5v-7.3M359.11 133.5v7.3M359.11 398.5v-7.3M369.68 133.5v7.3M369.68 398.5v-7.3M390.82 133.5v7.3M390.82 398.5v-7.3M401.39 133.5v7.3M401.39 398.5v-7.3M411.96 133.5v7.3M411.96 398.5v-7.3M422.53 133.5v7.3M422.53 398.5v-7.3M433.10 133.5v7.3M433.10 398.5v-7.3M454.24 133.5v7.3M454.24 398.5v-7.3M464.81 133.5v7.3M464.81 398.5v-7.3M475.38 133.5v7.3M475.38 398.5v-7.3M485.94 133.5v7.3M485.94 398.5v-7.3M496.51 133.5v7.3M496.51 398.5v-7.3M517.65 133.5v7.3M517.65 398.5v-7.3M528.22 133.5v7.3M528.22 398.5v-7.3M538.79 133.5v7.3M538.79 398.5v-7.3M549.36 133.5v7.3M549.36 398.5v-7.3M559.93 133.5v7.3M559.93 398.5v-7.3M581.07 133.5v7.3M581.07 398.5v-7.3M591.64 133.5v7.3M591.64 398.5v-7.3M602.21 133.5v7.3M602.21 398.5v-7.3M612.78 133.5v7.3M612.78 398.5v-7.3M623.35 133.5v7.3M623.35 398.5v-7.3M644.49 133.5v7.3M644.49 398.5v-7.3M655.06 133.5v7.3M655.06 398.5v-7.3M665.62 133.5v7.3M665.62 398.5v-7.3M676.19 133.5v7.3M676.19 398.5v-7.3M686.76 133.5v7.3M686.76 398.5v-7.3M707.90 133.5v7.3M707.90 398.5v-7.3M718.47 133.5v7.3M718.47 398.5v-7.3M729.04 133.5v7.3M729.04 398.5v-7.3M739.61 133.5v7.3M739.61 398.5v-7.3M750.18 133.5v7.3M750.18 398.5v-7.3M771.32 133.5v7.3M771.32 398.5v-7.3M781.89 133.5v7.3M781.89 398.5v-7.3M792.46 133.5v7.3M792.46 398.5v-7.3M803.03 133.5v7.3M803.03 398.5v-7.3M813.60 133.5v7.3M813.60 398.5v-7.3M834.74 133.5v7.3M834.74 398.5v-7.3M845.31 133.5v7.3M845.31 398.5v-7.3M855.88 133.5v7.3M855.88 398.5v-7.3M866.44 133.5v7.3M866.44 398.5v-7.3M877.01 133.5v7.3M877.01 398.5v-7.3M898.15 133.5v7.3M898.15 398.5v-7.3M908.72 133.5v7.3M908.72 398.5v-7.3M919.29 133.5v7.3M919.29 398.5v-7.3M929.86 133.5v7.3M929.86 398.5v-7.3M940.43 133.5v7.3M940.43 398.5v-7.3M961.57 133.5v7.3M961.57 398.5v-7.3M972.14 133.5v7.3M972.14 398.5v-7.3M982.71 133.5v7.3M982.71 398.5v-7.3M993.28 133.5v7.3M993.28 398.5v-7.3M1003.85 133.5v7.3M1003.85 398.5v-7.3M1024.99 133.5v7.3M1024.99 398.5v-7.3M1035.56 133.5v7.3M1035.56 398.5v-7.3M1046.12 133.5v7.3M1046.12 398.5v-7.3M1056.69 133.5v7.3M1056.69 398.5v-7.3M1067.26 133.5v7.3M1067.26 398.5v-7.3M1088.40 133.5v7.3M1088.40 398.5v-7.3M1098.97 133.5v7.3M1098.97 398.5v-7.3M1109.54 133.5v7.3M1109.54 398.5v-7.3M1120.11 133.5v7.3M1120.11 398.5v-7.3M1130.68 133.5v7.3M1130.68 398.5v-7.3M1151.82 133.5v7.3M1151.82 398.5v-7.3M1162.39 133.5v7.3M1162.39 398.5v-7.3M1172.96 133.5v7.3M1172.96 398.5v-7.3M1183.53 133.5v7.3M1183.53 398.5v-7.3M1194.10 133.5v7.3M1194.10 398.5v-7.3M1215.24 133.5v7.3M1215.24 398.5v-7.3M1225.81 133.5v7.3M1225.81 398.5v-7.3M1236.38 133.5v7.3M1236.38 398.5v-7.3M1246.94 133.5v7.3M1246.94 398.5v-7.3M1257.51 133.5v7.3M1257.51 398.5v-7.3M1278.65 133.5v7.3M1278.65 398.5v-7.3M1289.22 133.5v7.3M1289.22 398.5v-7.3M1299.79 133.5v7.3M1299.79 398.5v-7.3M1310.36 133.5v7.3M1310.36 398.5v-7.3M1320.93 133.5v7.3M1320.93 398.5v-7.3M1342.07 133.5v7.3M1342.07 398.5v-7.3M1352.64 133.5v7.3M1352.64 398.5v-7.3M1363.21 133.5v7.3M1363.21 398.5v-7.3M1373.78 133.5v7.3M1373.78 398.5v-7.3M1384.35 133.5v7.3M1384.35 398.5v-7.3M1405.49 133.5v7.3M1405.49 398.5v-7.3M1416.06 133.5v7.3M1416.06 398.5v-7.3M1426.62 133.5v7.3M1426.62 398.5v-7.3M1437.19 133.5v7.3M1437.19 398.5v-7.3M1447.76 133.5v7.3M1447.76 398.5v-7.3M1468.90 133.5v7.3M1468.90 398.5v-7.3M1479.47 133.5v7.3M1479.47 398.5v-7.3M1490.04 133.5v7.3M1490.04 398.5v-7.3M1500.61 133.5v7.3M1500.61 398.5v-7.3M1511.18 133.5v7.3M1511.18 398.5v-7.3M1532.32 133.5v7.3M1532.32 398.5v-7.3M1542.89 133.5v7.3M1542.89 398.5v-7.3M1553.46 133.5v7.3M1553.46 398.5v-7.3M1564.03 133.5v7.3M1564.03 398.5v-7.3M1574.60 133.5v7.3M1574.60 398.5v-7.3M1595.74 133.5v7.3M1595.74 398.5v-7.3M1606.31 133.5v7.3M1606.31 398.5v-7.3M1616.88 133.5v7.3M1616.88 398.5v-7.3M1627.44 133.5v7.3M1627.44 398.5v-7.3M1638.01 133.5v7.3M1638.01 398.5v-7.3M1659.15 133.5v7.3M1659.15 398.5v-7.3M1669.72 133.5v7.3M1669.72 398.5v-7.3M1680.29 133.5v7.3M1680.29 398.5v-7.3M1690.86 133.5v7.3M1690.86 398.5v-7.3M1701.43 133.5v7.3M1701.43 398.5v-7.3M1712.00 133.5v7.3M1712.00 398.5v-7.3M190.5 380.5h7.3M1711.5 380.5h-7.3M190.5 363.5h7.3M1711.5 363.5h-7.3M190.5 345.5h7.3M1711.5 345.5h-7.3M190.5 327.5h7.3M1711.5 327.5h-7.3M190.5 292.5h7.3M1711.5 292.5h-7.3M190.5 274.5h7.3M1711.5 274.5h-7.3M190.5 257.5h7.3M1711.5 257.5h-7.3M190.5 239.5h7.3M1711.5 239.5h-7.3M190.5 203.5h7.3M1711.5 203.5h-7.3M190.5 186.5h7.3M1711.5 186.5h-7.3M190.5 168.5h7.3M1711.5 168.5h-7.3M190.5 150.5h7.3M1711.5 150.5h-7.3M190.00 400.5v7.3M190.00 664.5v-7.3M200.57 400.5v7.3M200.57 664.5v-7.3M211.14 400.5v7.3M211.14 664.5v-7.3M221.71 400.5v7.3M221.71 664.5v-7.3M232.28 400.5v7.3M232.28 664.5v-7.3M242.85 400.5v7.3M242.85 664.5v-7.3M263.99 400.5v7.3M263.99 664.5v-7.3M274.56 400.5v7.3M274.56 664.5v-7.3M285.12 400.5v7.3M285.12 664.5v-7.3M295.69 400.5v7.3M295.69 664.5v-7.3M306.26 400.5v7.3M306.26 664.5v-7.3M327.40 400.5v7.3M327.40 664.5v-7.3M337.97 400.5v7.3M337.97 664.5v-7.3M348.54 400.5v7.3M348.54 664.5v-7.3M359.11 400.5v7.3M359.11 664.5v-7.3M369.68 400.5v7.3M369.68 664.5v-7.3M390.82 400.5v7.3M390.82 664.5v-7.3M401.39 400.5v7.3M401.39 664.5v-7.3M411.96 400.5v7.3M411.96 664.5v-7.3M422.53 400.5v7.3M422.53 664.5v-7.3M433.10 400.5v7.3M433.10 664.5v-7.3M454.24 400.5v7.3M454.24 664.5v-7.3M464.81 400.5v7.3M464.81 664.5v-7.3M475.38 400.5v7.3M475.38 664.5v-7.3M485.94 400.5v7.3M485.94 664.5v-7.3M496.51 400.5v7.3M496.51 664.5v-7.3M517.65 400.5v7.3M517.65 664.5v-7.3M528.22 400.5v7.3M528.22 664.5v-7.3M538.79 400.5v7.3M538.79 664.5v-7.3M549.36 400.5v7.3M549.36 664.5v-7.3M559.93 400.5v7.3M559.93 664.5v-7.3M581.07 400.5v7.3M581.07 664.5v-7.3M591.64 400.5v7.3M591.64 664.5v-7.3M602.21 400.5v7.3M602.21 664.5v-7.3M612.78 400.5v7.3M612.78 664.5v-7.3M623.35 400.5v7.3M623.35 664.5v-7.3M644.49 400.5v7.3M644.49 664.5v-7.3M655.06 400.5v7.3M655.06 664.5v-7.3M665.62 400.5v7.3M665.62 664.5v-7.3M676.19 400.5v7.3M676.19 664.5v-7.3M686.76 400.5v7.3M686.76 664.5v-7.3M707.90 400.5v7.3M707.90 664.5v-7.3M718.47 400.5v7.3M718.47 664.5v-7.3M729.04 400.5v7.3M729.04 664.5v-7.3M739.61 400.5v7.3M739.61 664.5v-7.3M750.18 400.5v7.3M750.18 664.5v-7.3M771.32 400.5v7.3M771.32 664.5v-7.3M781.89 400.5v7.3M781.89 664.5v-7.3M792.46 400.5v7.3M792.46 664.5v-7.3M803.03 400.5v7.3M803.03 664.5v-7.3M813.60 400.5v7.3M813.60 664.5v-7.3M834.74 400.5v7.3M834.74 664.5v-7.3M845.31 400.5v7.3M845.31 664.5v-7.3M855.88 400.5v7.3M855.88 664.5v-7.3M866.44 400.5v7.3M866.44 664.5v-7.3M877.01 400.5v7.3M877.01 664.5v-7.3M898.15 400.5v7.3M898.15 664.5v-7.3M908.72 400.5v7.3M908.72 664.5v-7.3M919.29 400.5v7.3M919.29 664.5v-7.3M929.86 400.5v7.3M929.86 664.5v-7.3M940.43 400.5v7.3M940.43 664.5v-7.3M961.57 400.5v7.3M961.57 664.5v-7.3M972.14 400.5v7.3M972.14 664.5v-7.3M982.71 400.5v7.3M982.71 664.5v-7.3M993.28 400.5v7.3M993.28 664.5v-7.3M1003.85 400.5v7.3M1003.85 664.5v-7.3M1024.99 400.5v7.3M1024.99 664.5v-7.3M1035.56 400.5v7.3M1035.56 664.5v-7.3M1046.12 400.5v7.3M1046.12 664.5v-7.3M1056.69 400.5v7.3M1056.69 664.5v-7.3M1067.26 400.5v7.3M1067.26 664.5v-7.3M1088.40 400.5v7.3M1088.40 664.5v-7.3M1098.97 400.5v7.3M1098.97 664.5v-7.3M1109.54 400.5v7.3M1109.54 664.5v-7.3M1120.11 400.5v7.3M1120.11 664.5v-7.3M1130.68 400.5v7.3M1130.68 664.5v-7.3M1151.82 400.5v7.3M1151.82 664.5v-7.3M1162.39 400.5v7.3M1162.39 664.5v-7.3M1172.96 400.5v7.3M1172.96 664.5v-7.3M1183.53 400.5v7.3M1183.53 664.5v-7.3M1194.10 400.5v7.3M1194.10 664.5v-7.3M1215.24 400.5v7.3M1215.24 664.5v-7.3M1225.81 400.5v7.3M1225.81 664.5v-7.3M1236.38 400.5v7.3M1236.38 664.5v-7.3M1246.94 400.5v7.3M1246.94 664.5v-7.3M1257.51 400.5v7.3M1257.51 664.5v-7.3M1278.65 400.5v7.3M1278.65 664.5v-7.3M1289.22 400.5v7.3M1289.22 664.5v-7.3M1299.79 400.5v7.3M1299.79 664.5v-7.3M1310.36 400.5v7.3M1310.36 664.5v-7.3M1320.93 400.5v7.3M1320.93 664.5v-7.3M1342.07 400.5v7.3M1342.07 664.5v-7.3M1352.64 400.5v7.3M1352.64 664.5v-7.3M1363.21 400.5v7.3M1363.21 664.5v-7.3M1373.78 400.5v7.3M1373.78 664.5v-7.3M1384.35 400.5v7.3M1384.35 664.5v-7.3M1405.49 400.5v7.3M1405.49 664.5v-7.3M1416.06 400.5v7.3M1416.06 664.5v-7.3M1426.62 400.5v7.3M1426.62 664.5v-7.3M1437.19 400.5v7.3M1437.19 664.5v-7.3M1447.76 400.5v7.3M1447.76 664.5v-7.3M1468.90 400.5v7.3M1468.90 664.5v-7.3M1479.47 400.5v7.3M1479.47 664.5v-7.3M1490.04 400.5v7.3M1490.04 664.5v-7.3M1500.61 400.5v7.3M1500.61 664.5v-7.3M1511.18 400.5v7.3M1511.18 664.5v-7.3M1532.32 400.5v7.3M1532.32 664.5v-7.3M1542.89 400.5v7.3M1542.89 664.5v-7.3M1553.46 400.5v7.3M1553.46 664.5v-7.3M1564.03 400.5v7.3M1564.03 664.5v-7.3M1574.60 400.5v7.3M1574.60 664.5v-7.3M1595.74 400.5v7.3M1595.74 664.5v-7.3M1606.31 400.5v7.3M1606.31 664.5v-7.3M1616.88 400.5v7.3M1616.88 664.5v-7.3M1627.44 400.5v7.3M1627.44 664.5v-7.3M1638.01 400.5v7.3M1638.01 664.5v-7.3M1659.15 400.5v7.3M1659.15 664.5v-7.3M1669.72 400.5v7.3M1669.72 664.5v-7.3M1680.29 400.5v7.3M1680.29 664.5v-7.3M1690.86 400.5v7.3M1690.86 664.5v-7.3M1701.43 400.5v7.3M1701.43 664.5v-7.3M1712.00 400.5v7.3M1712.00 664.5v-7.3M190.5 664.5h7.3M1711.5 664.5h-7.3M190.5 652.5h7.3M1711.5 652.5h-7.3M190.5 640.5h7.3M1711.5 640.5h-7.3M190.5 616.5h7.3M1711.5 616.5h-7.3M190.5 604.5h7.3M1711.5 604.5h-7.3M190.5 592.5h7.3M1711.5 592.5h-7.3M190.5 568.5h7.3M1711.5 568.5h-7.3M190.5 556.5h7.3M1711.5 556.5h-7.3M190.5 544.5h7.3M1711.5 544.5h-7.3M190.5 520.5h7.3M1711.5 520.5h-7.3M190.5 508.5h7.3M1711.5 508.5h-7.3M190.5 496.5h7.3M1711.5 496.5h-7.3M190.5 472.5h7.3M1711.5 472.5h-7.3M190.5 460.5h7.3M1711.5 460.5h-7.3M190.5 448.5h7.3M1711.5 448.5h-7.3M190.5 424.5h7.3M1711.5 424.5h-7.3M190.5 412.5h7.3M1711.5 412.5h-7.3M190.5 400.5h7.3M1711.5 400.5h-7.3M190.00 665.5v7.3M190.00 930.5v-7.3M200.57 665.5v7.3M200.57 930.5v-7.3M211.14 665.5v7.3M211.14 930.5v-7.3M221.71 665.5v7.3M221.71 930.5v-7.3M232.28 665.5v7.3M232.28 930.5v-7.3M242.85 665.5v7.3M242.85 930.5v-7.3M263.99 665.5v7.3M263.99 930.5v-7.3M274.56 665.5v7.3M274.56 930.5v-7.3M285.12 665.5v7.3M285.12 930.5v-7.3M295.69 665.5v7.3M295.69 930.5v-7.3M306.26 665.5v7.3M306.26 930.5v-7.3M327.40 665.5v7.3M327.40 930.5v-7.3M337.97 665.5v7.3M337.97 930.5v-7.3M348.54 665.5v7.3M348.54 930.5v-7.3M359.11 665.5v7.3M359.11 930.5v-7.3M369.68 665.5v7.3M369.68 930.5v-7.3M390.82 665.5v7.3M390.82 930.5v-7.3M401.39 665.5v7.3M401.39 930.5v-7.3M411.96 665.5v7.3M411.96 930.5v-7.3M422.53 665.5v7.3M422.53 930.5v-7.3M433.10 665.5v7.3M433.10 930.5v-7.3M454.24 665.5v7.3M454.24 930.5v-7.3M464.81 665.5v7.3M464.81 930.5v-7.3M475.38 665.5v7.3M475.38 930.5v-7.3M485.94 665.5v7.3M485.94 930.5v-7.3M496.51 665.5v7.3M496.51 930.5v-7.3M517.65 665.5v7.3M517.65 930.5v-7.3M528.22 665.5v7.3M528.22 930.5v-7.3M538.79 665.5v7.3M538.79 930.5v-7.3M549.36 665.5v7.3M549.36 930.5v-7.3M559.93 665.5v7.3M559.93 930.5v-7.3M581.07 665.5v7.3M581.07 930.5v-7.3M591.64 665.5v7.3M591.64 930.5v-7.3M602.21 665.5v7.3M602.21 930.5v-7.3M612.78 665.5v7.3M612.78 930.5v-7.3M623.35 665.5v7.3M623.35 930.5v-7.3M644.49 665.5v7.3M644.49 930.5v-7.3M655.06 665.5v7.3M655.06 930.5v-7.3M665.62 665.5v7.3M665.62 930.5v-7.3M676.19 665.5v7.3M676.19 930.5v-7.3M686.76 665.5v7.3M686.76 930.5v-7.3M707.90 665.5v7.3M707.90 930.5v-7.3M718.47 665.5v7.3M718.47 930.5v-7.3M729.04 665.5v7.3M729.04 930.5v-7.3M739.61 665.5v7.3M739.61 930.5v-7.3M750.18 665.5v7.3M750.18 930.5v-7.3M771.32 665.5v7.3M771.32 930.5v-7.3M781.89 665.5v7.3M781.89 930.5v-7.3M792.46 665.5v7.3M792.46 930.5v-7.3M803.03 665.5v7.3M803.03 930.5v-7.3M813.60 665.5v7.3M813.60 930.5v-7.3M834.74 665.5v7.3M834.74 930.5v-7.3M845.31 665.5v7.3M845.31 930.5v-7.3M855.88 665.5v7.3M855.88 930.5v-7.3M866.44 665.5v7.3M866.44 930.5v-7.3M877.01 665.5v7.3M877.01 930.5v-7.3M898.15 665.5v7.3M898.15 930.5v-7.3M908.72 665.5v7.3M908.72 930.5v-7.3M919.29 665.5v7.3M919.29 930.5v-7.3M929.86 665.5v7.3M929.86 930.5v-7.3M940.43 665.5v7.3M940.43 930.5v-7.3M961.57 665.5v7.3M961.57 930.5v-7.3M972.14 665.5v7.3M972.14 930.5v-7.3M982.71 665.5v7.3M982.71 930.5v-7.3M993.28 665.5v7.3M993.28 930.5v-7.3M1003.85 665.5v7.3M1003.85 930.5v-7.3M1024.99 665.5v7.3M1024.99 930.5v-7.3M1035.56 665.5v7.3M1035.56 930.5v-7.3M1046.12 665.5v7.3M1046.12 930.5v-7.3M1056.69 665.5v7.3M1056.69 930.5v-7.3M1067.26 665.5v7.3M1067.26 930.5v-7.3M1088.40 665.5v7.3M1088.40 930.5v-7.3M1098.97 665.5v7.3M1098.97 930.5v-7.3M1109.54 665.5v7.3M1109.54 930.5v-7.3M1120.11 665.5v7.3M1120.11 930.5v-7.3M1130.68 665.5v7.3M1130.68 930.5v-7.3M1151.82 665.5v7.3M1151.82 930.5v-7.3M1162.39 665.5v7.3M1162.39 930.5v-7.3M1172.96 665.5v7.3M1172.96 930.5v-7.3M1183.53 665.5v7.3M1183.53 930.5v-7.3M1194.10 665.5v7.3M1194.10 930.5v-7.3M1215.24 665.5v7.3M1215.24 930.5v-7.3M1225.81 665.5v7.3M1225.81 930.5v-7.3M1236.38 665.5v7.3M1236.38 930.5v-7.3M1246.94 665.5v7.3M1246.94 930.5v-7.3M1257.51 665.5v7.3M1257.51 930.5v-7.3M1278.65 665.5v7.3M1278.65 930.5v-7.3M1289.22 665.5v7.3M1289.22 930.5v-7.3M1299.79 665.5v7.3M1299.79 930.5v-7.3M1310.36 665.5v7.3M1310.36 930.5v-7.3M1320.93 665.5v7.3M1320.93 930.5v-7.3M1342.07 665.5v7.3M1342.07 930.5v-7.3M1352.64 665.5v7.3M1352.64 930.5v-7.3M1363.21 665.5v7.3M1363.21 930.5v-7.3M1373.78 665.5v7.3M1373.78 930.5v-7.3M1384.35 665.5v7.3M1384.35 930.5v-7.3M1405.49 665.5v7.3M1405.49 930.5v-7.3M1416.06 665.5v7.3M1416.06 930.5v-7.3M1426.62 665.5v7.3M1426.62 930.5v-7.3M1437.19 665.5v7.3M1437.19 930.5v-7.3M1447.76 665.5v7.3M1447.76 930.5v-7.3M1468.90 665.5v7.3M1468.90 930.5v-7.3M1479.47 665.5v7.3M1479.47 930.5v-7.3M1490.04 665.5v7.3M1490.04 930.5v-7.3M1500.61 665.5v7.3M1500.61 930.5v-7.3M1511.18 665.5v7.3M1511.18 930.5v-7.3M1532.32 665.5v7.3M1532.32 930.5v-7.3M1542.89 665.5v7.3M1542.89 930.5v-7.3M1553.46 665.5v7.3M1553.46 930.5v-7.3M1564.03 665.5v7.3M1564.03 930.5v-7.3M1574.60 665.5v7.3M1574.60 930.5v-7.3M1595.74 665.5v7.3M1595.74 930.5v-7.3M1606.31 665.5v7.3M1606.31 930.5v-7.3M1616.88 665.5v7.3M1616.88 930.5v-7.3M1627.44 665.5v7.3M1627.44 930.5v-7.3M1638.01 665.5v7.3M1638.01 930.5v-7.3M1659.15 665.5v7.3M1659.15 930.5v-7.3M1669.72 665.5v7.3M1669.72 930.5v-7.3M1680.29 665.5v7.3M1680.29 930.5v-7.3M1690.86 665.5v7.3M1690.86 930.5v-7.3M1701.43 665.5v7.3M1701.43 930.5v-7.3M1712.00 665.5v7.3M1712.00 930.5v-7.3M190.5 922.5h7.3M1711.5 922.5h-7.3M190.5 913.5h7.3M1711.5 913.5h-7.3M190.5 904.5h7.3M1711.5 904.5h-7.3M190.5 895.5h7.3M1711.5 895.5h-7.3M190.5 878.5h7.3M1711.5 878.5h-7.3M190.5 869.5h7.3M1711.5 869.5h-7.3M190.5 860.5h7.3M1711.5 860.5h-7.3M190.5 851.5h7.3M1711.5 851.5h-7.3M190.5 820.5h7.3M1711.5 820.5h-7.3M190.5 798.5h7.3M1711.5 798.5h-7.3M190.5 776.5h7.3M1711.5 776.5h-7.3M190.5 732.5h7.3M1711.5 732.5h-7.3M190.5 710.5h7.3M1711.5 710.5h-7.3M190.5 687.5h7.3M1711.5 687.5h-7.3M190.00 931.5v7.3M190.00 1196.5v-7.3M200.57 931.5v7.3M200.57 1196.5v-7.3M211.14 931.5v7.3M211.14 1196.5v-7.3M221.71 931.5v7.3M221.71 1196.5v-7.3M232.28 931.5v7.3M232.28 1196.5v-7.3M242.85 931.5v7.3M242.85 1196.5v-7.3M263.99 931.5v7.3M263.99 1196.5v-7.3M274.56 931.5v7.3M274.56 1196.5v-7.3M285.12 931.5v7.3M285.12 1196.5v-7.3M295.69 931.5v7.3M295.69 1196.5v-7.3M306.26 931.5v7.3M306.26 1196.5v-7.3M327.40 931.5v7.3M327.40 1196.5v-7.3M337.97 931.5v7.3M337.97 1196.5v-7.3M348.54 931.5v7.3M348.54 1196.5v-7.3M359.11 931.5v7.3M359.11 1196.5v-7.3M369.68 931.5v7.3M369.68 1196.5v-7.3M390.82 931.5v7.3M390.82 1196.5v-7.3M401.39 931.5v7.3M401.39 1196.5v-7.3M411.96 931.5v7.3M411.96 1196.5v-7.3M422.53 931.5v7.3M422.53 1196.5v-7.3M433.10 931.5v7.3M433.10 1196.5v-7.3M454.24 931.5v7.3M454.24 1196.5v-7.3M464.81 931.5v7.3M464.81 1196.5v-7.3M475.38 931.5v7.3M475.38 1196.5v-7.3M485.94 931.5v7.3M485.94 1196.5v-7.3M496.51 931.5v7.3M496.51 1196.5v-7.3M517.65 931.5v7.3M517.65 1196.5v-7.3M528.22 931.5v7.3M528.22 1196.5v-7.3M538.79 931.5v7.3M538.79 1196.5v-7.3M549.36 931.5v7.3M549.36 1196.5v-7.3M559.93 931.5v7.3M559.93 1196.5v-7.3M581.07 931.5v7.3M581.07 1196.5v-7.3M591.64 931.5v7.3M591.64 1196.5v-7.3M602.21 931.5v7.3M602.21 1196.5v-7.3M612.78 931.5v7.3M612.78 1196.5v-7.3M623.35 931.5v7.3M623.35 1196.5v-7.3M644.49 931.5v7.3M644.49 1196.5v-7.3M655.06 931.5v7.3M655.06 1196.5v-7.3M665.62 931.5v7.3M665.62 1196.5v-7.3M676.19 931.5v7.3M676.19 1196.5v-7.3M686.76 931.5v7.3M686.76 1196.5v-7.3M707.90 931.5v7.3M707.90 1196.5v-7.3M718.47 931.5v7.3M718.47 1196.5v-7.3M729.04 931.5v7.3M729.04 1196.5v-7.3M739.61 931.5v7.3M739.61 1196.5v-7.3M750.18 931.5v7.3M750.18 1196.5v-7.3M771.32 931.5v7.3M771.32 1196.5v-7.3M781.89 931.5v7.3M781.89 1196.5v-7.3M792.46 931.5v7.3M792.46 1196.5v-7.3M803.03 931.5v7.3M803.03 1196.5v-7.3M813.60 931.5v7.3M813.60 1196.5v-7.3M834.74 931.5v7.3M834.74 1196.5v-7.3M845.31 931.5v7.3M845.31 1196.5v-7.3M855.88 931.5v7.3M855.88 1196.5v-7.3M866.44 931.5v7.3M866.44 1196.5v-7.3M877.01 931.5v7.3M877.01 1196.5v-7.3M898.15 931.5v7.3M898.15 1196.5v-7.3M908.72 931.5v7.3M908.72 1196.5v-7.3M919.29 931.5v7.3M919.29 1196.5v-7.3M929.86 931.5v7.3M929.86 1196.5v-7.3M940.43 931.5v7.3M940.43 1196.5v-7.3M961.57 931.5v7.3M961.57 1196.5v-7.3M972.14 931.5v7.3M972.14 1196.5v-7.3M982.71 931.5v7.3M982.71 1196.5v-7.3M993.28 931.5v7.3M993.28 1196.5v-7.3M1003.85 931.5v7.3M1003.85 1196.5v-7.3M1024.99 931.5v7.3M1024.99 1196.5v-7.3M1035.56 931.5v7.3M1035.56 1196.5v-7.3M1046.12 931.5v7.3M1046.12 1196.5v-7.3M1056.69 931.5v7.3M1056.69 1196.5v-7.3M1067.26 931.5v7.3M1067.26 1196.5v-7.3M1088.40 931.5v7.3M1088.40 1196.5v-7.3M1098.97 931.5v7.3M1098.97 1196.5v-7.3M1109.54 931.5v7.3M1109.54 1196.5v-7.3M1120.11 931.5v7.3M1120.11 1196.5v-7.3M1130.68 931.5v7.3M1130.68 1196.5v-7.3M1151.82 931.5v7.3M1151.82 1196.5v-7.3M1162.39 931.5v7.3M1162.39 1196.5v-7.3M1172.96 931.5v7.3M1172.96 1196.5v-7.3M1183.53 931.5v7.3M1183.53 1196.5v-7.3M1194.10 931.5v7.3M1194.10 1196.5v-7.3M1215.24 931.5v7.3M1215.24 1196.5v-7.3M1225.81 931.5v7.3M1225.81 1196.5v-7.3M1236.38 931.5v7.3M1236.38 1196.5v-7.3M1246.94 931.5v7.3M1246.94 1196.5v-7.3M1257.51 931.5v7.3M1257.51 1196.5v-7.3M1278.65 931.5v7.3M1278.65 1196.5v-7.3M1289.22 931.5v7.3M1289.22 1196.5v-7.3M1299.79 931.5v7.3M1299.79 1196.5v-7.3M1310.36 931.5v7.3M1310.36 1196.5v-7.3M1320.93 931.5v7.3M1320.93 1196.5v-7.3M1342.07 931.5v7.3M1342.07 1196.5v-7.3M1352.64 931.5v7.3M1352.64 1196.5v-7.3M1363.21 931.5v7.3M1363.21 1196.5v-7.3M1373.78 931.5v7.3M1373.78 1196.5v-7.3M1384.35 931.5v7.3M1384.35 1196.5v-7.3M1405.49 931.5v7.3M1405.49 1196.5v-7.3M1416.06 931.5v7.3M1416.06 1196.5v-7.3M1426.62 931.5v7.3M1426.62 1196.5v-7.3M1437.19 931.5v7.3M1437.19 1196.5v-7.3M1447.76 931.5v7.3M1447.76 1196.5v-7.3M1468.90 931.5v7.3M1468.90 1196.5v-7.3M1479.47 931.5v7.3M1479.47 1196.5v-7.3M1490.04 931.5v7.3M1490.04 1196.5v-7.3M1500.61 931.5v7.3M1500.61 1196.5v-7.3M1511.18 931.5v7.3M1511.18 1196.5v-7.3M1532.32 931.5v7.3M1532.32 1196.5v-7.3M1542.89 931.5v7.3M1542.89 1196.5v-7.3M1553.46 931.5v7.3M1553.46 1196.5v-7.3M1564.03 931.5v7.3M1564.03 1196.5v-7.3M1574.60 931.5v7.3M1574.60 1196.5v-7.3M1595.74 931.5v7.3M1595.74 1196.5v-7.3M1606.31 931.5v7.3M1606.31 1196.5v-7.3M1616.88 931.5v7.3M1616.88 1196.5v-7.3M1627.44 931.5v7.3M1627.44 1196.5v-7.3M1638.01 931.5v7.3M1638.01 1196.5v-7.3M1659.15 931.5v7.3M1659.15 1196.5v-7.3M1669.72 931.5v7.3M1669.72 1196.5v-7.3M1680.29 931.5v7.3M1680.29 1196.5v-7.3M1690.86 931.5v7.3M1690.86 1196.5v-7.3M1701.43 931.5v7.3M1701.43 1196.5v-7.3M1712.00 931.5v7.3M1712.00 1196.5v-7.3M190.5 1191.5h7.3M1711.5 1191.5h-7.3M190.5 1186.5h7.3M1711.5 1186.5h-7.3M190.5 1181.5h7.3M1711.5 1181.5h-7.3M190.5 1175.5h7.3M1711.5 1175.5h-7.3M190.5 1165.5h7.3M1711.5 1165.5h-7.3M190.5 1160.5h7.3M1711.5 1160.5h-7.3M190.5 1154.5h7.3M1711.5 1154.5h-7.3M190.5 1149.5h7.3M1711.5 1149.5h-7.3M190.5 1130.5h7.3M1711.5 1130.5h-7.3M190.5 1117.5h7.3M1711.5 1117.5h-7.3M190.5 1104.5h7.3M1711.5 1104.5h-7.3M190.5 1077.5h7.3M1711.5 1077.5h-7.3M190.5 1064.5h7.3M1711.5 1064.5h-7.3M190.5 1051.5h7.3M1711.5 1051.5h-7.3M190.5 1024.5h7.3M1711.5 1024.5h-7.3M190.5 1011.5h7.3M1711.5 1011.5h-7.3M190.5 998.5h7.3M1711.5 998.5h-7.3M190.5 972.5h7.3M1711.5 972.5h-7.3M190.5 958.5h7.3M1711.5 958.5h-7.3M190.5 945.5h7.3M1711.5 945.5h-7.3" stroke="#262626" stroke-width="1" fill="none"/>
<rect x="1731.5" y="266.50" width="22.0" height="25.51" fill="#800000"/>
<rect x="1731.5" y="291.41" width="22.0" height="25.51" fill="#9f0000"/>
<rect x="1731.5" y="316.31" width="22.0" height="25.51" fill="#bf0000"/>
<rect x="1731.5" y="341.22" width="22.0" height="25.51" fill="#df0000"/>
<rect x="1731.5" y="366.12" width="22.0" height="25.51" fill="#ff0000"/>
<rect x="1731.5" y="391.03" width="22.0" height="25.51" fill="#ff2000"/>
<rect x="1731.5" y="415.94" width="22.0" height="25.51" fill="#ff4000"/>
<rect x="1731.5" y="440.84" width="22.0" height="25.51" fill="#ff6000"/>
<rect x="1731.5" y="465.75" width="22.0" height="25.51" fill="#ff8000"/>
<rect x="1731.5" y="490.66" width="22.0" height="25.51" fill="#ff9f00"/>
<rect x="1731.5" y="515.56" width="22.0" height="25.51" fill="#ffbf00"/>
<rect x="1731.5" y="540.47" width="22.0" height="25.51" fill="#ffdf00"/>
<rect x="1731.5" y="565.38" width="22.0" height="25.51" fill="#ffff00"/>
<rect x="1731.5" y="590.28" width="22.0" height="25.51" fill="#dfff20"/>
<rect x="1731.5" y="615.19" width="22.0" height="25.51" fill="#bfff40"/>
<rect x="1731.5" y="640.09" width="22.0" height="25.51" fill="#9fff60"/>
<rect x="1731.5" y="665.00" width="22.0" height="25.51" fill="#80ff80"/>
<rect x="1731.5" y="689.91" width="22.0" height="25.51" fill="#60ff9f"/>
<rect x="1731.5" y="714.81" width="22.0" height="25.51" fill="#40ffbf"/>
<rect x="1731.5" y="739.72" width="22.0" height="25.51" fill="#20ffdf"/>
<rect x="1731.5" y="764.62" width="22.0" height="25.51" fill="#00ffff"/>
<rect x="1731.5" y="789.53" width="22.0" height="25.51" fill="#00dfff"/>
<rect x="1731.5" y="814.44" width="22.0" height="25.51" fill="#00bfff"/>
<rect x="1731.5" y="839.34" width="22.0" height="25.51" fill="#009fff"/>
<rect x="1731.5" y="864.25" width="22.0" height="25.51" fill="#0080ff"/>
<rect x="1731.5" y="889.16" width="22.0" height="25.51" fill="#0060ff"/>
<rect x="1731.5" y="914.06" width="22.0" height="25.51" fill="#0040ff"/>
<rect x="1731.5" y="938.97" width="22.0" height="25.51" fill="#0020ff"/>
<rect x="1731.5" y="963.88" width="22.0" height="25.51" fill="#0000ff"/>
<rect x="1731.5" y="988.78" width="22.0" height="25.51" fill="#0000df"/>
<rect x="1731.5" y="1013.69" width="22.0" height="25.51" fill="#0000bf"/>
<rect x="1731.5" y="1038.59" width="22.0" height="25.51" fill="#00009f"/>
<rect x="1731.5" y="266.5" width="22.0" height="797.0" fill="none" stroke="#262626" stroke-width="1"/>
<line x1="1753.50" y1="1037.79" x2="1746.20" y2="1037.79" stroke="#262626" stroke-width="1.0" />
<line x1="1753.50" y1="986.37" x2="1746.20" y2="986.37" stroke="#262626" stroke-width="1.0" />
<line x1="1753.50" y1="934.95" x2="1746.20" y2="934.95" stroke="#262626" stroke-width="1.0" />
<line x1="1753.50" y1="883.53" x2="1746.20" y2="883.53" stroke="#262626" stroke-width="1.0" />
<line x1="1753.50" y1="832.11" x2="1746.20" y2="832.11" stroke="#262626" stroke-width="1.0" />
<line x1="1753.50" y1="780.69" x2="1746.20" y2="780.69" stroke="#262626" stroke-width="1.0" />
<line x1="1753.50" y1="729.27" x2="1746.20" y2="729.27" stroke="#262626" stroke-width="1.0" />
<line x1="1753.50" y1="677.85" x2="1746.20" y2="677.85" stroke="#262626" stroke-width="1.0" />
<line x1="1753.50" y1="626.44" x2="1746.20" y2="626.44" stroke="#262626" stroke-width="1.0" />
<line x1="1753.50" y1="575.02" x2="1746.20" y2="575.02" stroke="#262626" stroke-width="1.0" />
<line x1="1753.50" y1="523.60" x2="1746.20" y2="523.60" stroke="#262626" stroke-width="1.0" />
<line x1="1753.50" y1="472.18" x2="1746.20" y2="472.18" stroke="#262626" stroke-width="1.0" />
<line x1="1753.50" y1="420.76" x2="1746.20" y2="420.76" stroke="#262626" stroke-width="1.0" />
<line x1="1753.50" y1="369.34" x2="1746.20" y2="369.34" stroke="#262626" stroke-width="1.0" />
<line x1="1753.50" y1="317.92" x2="1746.20" y2="317.92" stroke="#262626" stroke-width="1.0" />
<line x1="1753.50" y1="266.50" x2="1746.20" y2="266.50" stroke="#262626" stroke-width="1.0" />
<g font-family="Liberation Sans, sans-serif" font-weight="bold" fill="#262626">
<text transform="translate(178.8,409.60) scale(0.965,1.042)" font-size="29.33" text-anchor="end">0</text>
<text transform="translate(178.8,321.60) scale(0.965,1.042)" font-size="29.33" text-anchor="end">5</text>
<text transform="translate(178.8,232.60) scale(0.965,1.042)" font-size="29.33" text-anchor="end">10</text>
<text transform="translate(178.8,144.60) scale(0.965,1.042)" font-size="29.33" text-anchor="end">15</text>
<text transform="translate(178.8,639.60) scale(0.965,1.042)" font-size="29.33" text-anchor="end">-4</text>
<text transform="translate(178.8,591.60) scale(0.965,1.042)" font-size="29.33" text-anchor="end">-2</text>
<text transform="translate(178.8,543.60) scale(0.965,1.042)" font-size="29.33" text-anchor="end">0</text>
<text transform="translate(178.8,495.60) scale(0.965,1.042)" font-size="29.33" text-anchor="end">2</text>
<text transform="translate(178.8,447.60) scale(0.965,1.042)" font-size="29.33" text-anchor="end">4</text>
<text transform="translate(178.8,942.60) scale(0.965,1.042)" font-size="29.33" text-anchor="end">0</text>
<text transform="translate(178.8,897.60) scale(0.965,1.042)" font-size="29.33" text-anchor="end">0.1</text>
<text transform="translate(178.8,853.60) scale(0.965,1.042)" font-size="29.33" text-anchor="end">0.2</text>
<text transform="translate(178.8,765.60) scale(0.965,1.042)" font-size="29.33" text-anchor="end">0.4</text>
<text transform="translate(178.8,1208.60) scale(0.965,1.042)" font-size="29.33" text-anchor="end">0</text>
<text transform="translate(178.8,1181.60) scale(0.965,1.042)" font-size="29.33" text-anchor="end">0.1</text>
<text transform="translate(178.8,1155.60) scale(0.965,1.042)" font-size="29.33" text-anchor="end">0.2</text>
<text transform="translate(178.8,1102.60) scale(0.965,1.042)" font-size="29.33" text-anchor="end">0.4</text>
<text transform="translate(178.8,1049.60) scale(0.965,1.042)" font-size="29.33" text-anchor="end">0.6</text>
<text transform="translate(178.8,996.60) scale(0.965,1.042)" font-size="29.33" text-anchor="end">0.8</text>
<text transform="translate(178.8,943.60) scale(0.965,1.042)" font-size="29.33" text-anchor="end">1</text>
<text transform="translate(190.00,1236.9) scale(0.965,1.042)" font-size="29.33" text-anchor="middle">00</text>
<text transform="translate(253.42,1236.9) scale(0.965,1.042)" font-size="29.33" text-anchor="middle">01</text>
<text transform="translate(316.83,1236.9) scale(0.965,1.042)" font-size="29.33" text-anchor="middle">02</text>
<text transform="translate(380.25,1236.9) scale(0.965,1.042)" font-size="29.33" text-anchor="middle">03</text>
<text transform="translate(443.67,1236.9) scale(0.965,1.042)" font-size="29.33" text-anchor="middle">04</text>
<text transform="translate(507.08,1236.9) scale(0.965,1.042)" font-size="29.33" text-anchor="middle">05</text>
<text transform="translate(570.50,1236.9) scale(0.965,1.042)" font-size="29.33" text-anchor="middle">06</text>
<text transform="translate(633.92,1236.9) scale(0.965,1.042)" font-size="29.33" text-anchor="middle">07</text>
<text transform="translate(697.33,1236.9) scale(0.965,1.042)" font-size="29.33" text-anchor="middle">08</text>
<text transform="translate(760.75,1236.9) scale(0.965,1.042)" font-size="29.33" text-anchor="middle">09</text>
<text transform="translate(824.17,1236.9) scale(0.965,1.042)" font-size="29.33" text-anchor="middle">10</text>
<text transform="translate(887.58,1236.9) scale(0.965,1.042)" font-size="29.33" text-anchor="middle">11</text>
<text transform="translate(951.00,1236.9) scale(0.965,1.042)" font-size="29.33" text-anchor="middle">12</text>
<text transform="translate(1014.42,1236.9) scale(0.965,1.042)" font-size="29.33" text-anchor="middle">13</text>
<text transform="translate(1077.83,1236.9) scale(0.965,1.042)" font-size="29.33" text-anchor="middle">14</text>
<text transform="translate(1141.25,1236.9) scale(0.965,1.042)" font-size="29.33" text-anchor="middle">15</text>
<text transform="translate(1204.67,1236.9) scale(0.965,1.042)" font-size="29.33" text-anchor="middle">16</text>
<text transform="translate(1268.08,1236.9) scale(0.965,1.042)" font-size="29.33" text-anchor="middle">17</text>
<text transform="translate(1331.50,1236.9) scale(0.965,1.042)" font-size="29.33" text-anchor="middle">18</text>
<text transform="translate(1394.92,1236.9) scale(0.965,1.042)" font-size="29.33" text-anchor="middle">19</text>
<text transform="translate(1458.33,1236.9) scale(0.965,1.042)" font-size="29.33" text-anchor="middle">20</text>
<text transform="translate(1521.75,1236.9) scale(0.965,1.042)" font-size="29.33" text-anchor="middle">21</text>
<text transform="translate(1585.17,1236.9) scale(0.965,1.042)" font-size="29.33" text-anchor="middle">22</text>
<text transform="translate(1648.58,1236.9) scale(0.965,1.042)" font-size="29.33" text-anchor="middle">23</text>
<text transform="translate(1712.00,1236.9) scale(0.965,1.042)" font-size="29.33" text-anchor="middle">00</text>
<text x="951" y="1279.3" font-size="32.0" text-anchor="middle">UT</text>
<text transform="translate(133.2,267) rotate(-90)" font-size="32.0" text-anchor="middle">VTEC</text>
<text transform="translate(138.4,532) rotate(-90)" font-size="32.0" text-anchor="middle">ROT [TECU/min]</text>
<text transform="translate(109.8,799.3) rotate(-90)" font-size="32.0" text-anchor="middle">S<tspan font-size="25.6" dy="16">4</tspan><tspan dy="-16"> ("ism.mat")</tspan></text>
<text transform="translate(113,1064) rotate(-90)" font-size="30" text-anchor="middle" font-weight="normal" font-style="italic" font-family="Liberation Serif, serif">&#963;<tspan font-size="24" dy="15" dx="3">&#981;</tspan></text>
<text transform="translate(1765.3,1049.99) scale(1,1.042)" font-size="32">2</text>
<text transform="translate(1765.3,998.57) scale(1,1.042)" font-size="32">4</text>
<text transform="translate(1765.3,947.15) scale(1,1.042)" font-size="32">6</text>
<text transform="translate(1765.3,895.73) scale(1,1.042)" font-size="32">8</text>
<text transform="translate(1765.3,844.31) scale(1,1.042)" font-size="32">10</text>
<text transform="translate(1765.3,792.89) scale(1,1.042)" font-size="32">12</text>
<text transform="translate(1765.3,741.47) scale(1,1.042)" font-size="32">14</text>
<text transform="translate(1765.3,690.05) scale(1,1.042)" font-size="32">16</text>
<text transform="translate(1765.3,638.64) scale(1,1.042)" font-size="32">18</text>
<text transform="translate(1765.3,587.22) scale(1,1.042)" font-size="32">20</text>
<text transform="translate(1765.3,535.80) scale(1,1.042)" font-size="32">22</text>
<text transform="translate(1765.3,484.38) scale(1,1.042)" font-size="32">24</text>
<text transform="translate(1765.3,432.96) scale(1,1.042)" font-size="32">26</text>
<text transform="translate(1765.3,381.54) scale(1,1.042)" font-size="32">28</text>
<text transform="translate(1765.3,330.12) scale(1,1.042)" font-size="32">30</text>
<text transform="translate(1765.3,278.70) scale(1,1.042)" font-size="32">32</text>
<text transform="translate(1843.5,666) rotate(-90)" font-size="32.0" text-anchor="middle">PRN</text>
</g>
<text x="950.7" y="121.2" font-family="Liberation Sans, sans-serif" font-weight="bold" font-size="32" text-anchor="middle" fill="#000">20180705-UiB-KHO-GALILEO</text>
</svg>
</body></html>
